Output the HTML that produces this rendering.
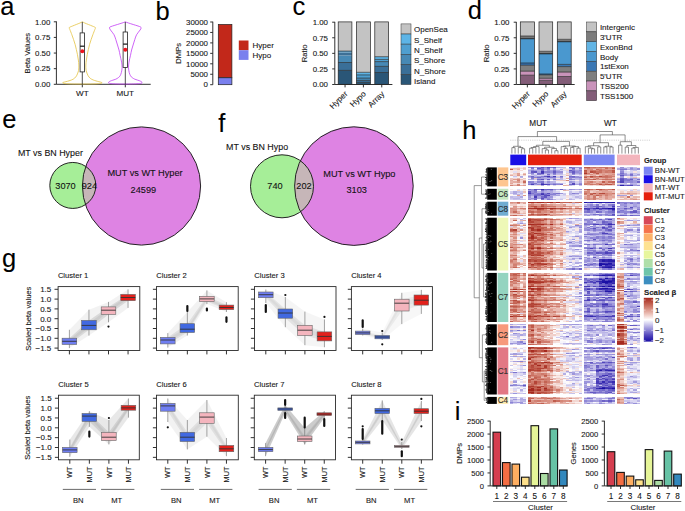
<!DOCTYPE html>
<html><head><meta charset="utf-8"><style>
html,body{margin:0;padding:0;background:#fff;}
#w{position:relative;width:685px;height:511px;overflow:hidden;background:#fff;font-family:"Liberation Sans", sans-serif;}
#w svg{position:absolute;left:0;top:0;}
#hm{position:absolute;left:0;top:0;width:685px;height:511px;filter:blur(0.45px);}
#hm div{position:absolute;}
text{font-family:"Liberation Sans", sans-serif;stroke:currentColor;stroke-width:0.1px;}
svg{color:#151515;}
</style></head><body><div id="w">
<div id="hm"><div style="left:510.3px;top:167.4px;width:3.23px;height:19px;background:linear-gradient(#f8f7fd 0.0px 1.1px,#e8b7ad 1.1px 2.2px,#bf5949 2.2px 3.4px,#f7e6e3 3.4px 4.5px,#f8e7e4 4.5px 5.6px,#fbf2f0 5.6px 6.7px,#f0cdc7 6.7px 7.8px,#e4aca1 7.8px 8.9px,#f8f7fc 8.9px 10.1px,#faf9fd 10.1px 11.2px,#ecc2ba 11.2px 12.3px,#ebc0b7 12.3px 13.4px,#e3aa9f 13.4px 14.5px,#e7b4ab 14.5px 15.6px,#e1a69b 15.6px 16.8px,#f0cec7 16.8px 17.9px,#d28172 17.9px 19.0px)"></div><div style="left:513.48px;top:167.4px;width:3.23px;height:19px;background:linear-gradient(#f0effa 0.0px 1.1px,#ebbfb7 1.1px 2.2px,#f0cfc8 2.2px 3.4px,#f8e7e4 3.4px 4.5px,#e2dff5 4.5px 5.6px,#efcbc4 5.6px 6.7px,#f1d2cc 6.7px 7.8px,#f2d3cd 7.8px 8.9px,#c9c5ec 8.9px 10.1px,#e8e6f7 10.1px 11.2px,#f2d5cf 11.2px 12.3px,#dd9b8e 12.3px 13.4px,#f4dcd8 13.4px 14.5px,#e4aea3 14.5px 15.6px,#f7e3e0 15.6px 16.8px,#f2d5d0 16.8px 17.9px,#e1a59a 17.9px 19.0px)"></div><div style="left:516.66px;top:167.4px;width:3.23px;height:19px;background:linear-gradient(#f5dfda 0.0px 1.1px,#eabdb4 1.1px 2.2px,#e6b1a7 2.2px 3.4px,#f6e1dd 3.4px 4.5px,#f5dfdb 4.5px 5.6px,#de9e92 5.6px 6.7px,#e0a196 6.7px 7.8px,#db9588 7.8px 8.9px,#f6e2de 8.9px 10.1px,#faeeeb 10.1px 11.2px,#e6b3a9 11.2px 12.3px,#d6897b 12.3px 13.4px,#d28172 13.4px 14.5px,#dd9c8f 14.5px 15.6px,#f3d8d3 15.6px 16.8px,#d48677 16.8px 17.9px,#d07e70 17.9px 19.0px)"></div><div style="left:519.84px;top:167.4px;width:3.23px;height:19px;background:linear-gradient(#f0effa 0.0px 1.1px,#f4dad5 1.1px 2.2px,#fcf6f5 2.2px 3.4px,#f4dbd6 3.4px 4.5px,#faf9fd 4.5px 5.6px,#fdfdfe 5.6px 6.7px,#f8e8e5 6.7px 7.8px,#f9edea 7.8px 8.9px,#ada7e1 8.9px 10.1px,#b8b2e5 10.1px 11.2px,#fbf0ee 11.2px 12.3px,#ebbeb6 12.3px 13.4px,#f4d9d4 13.4px 14.5px,#f1d2cc 14.5px 15.6px,#f8e7e3 15.6px 16.8px,#f4f3fb 16.8px 17.9px,#e5afa4 17.9px 19.0px)"></div><div style="left:523.02px;top:167.4px;width:3.23px;height:19px;background:linear-gradient(#f2d5cf 0.0px 1.1px,#ecc3bb 1.1px 2.2px,#f1d1cb 2.2px 3.4px,#fefcfc 3.4px 4.5px,#fcf7f6 4.5px 5.6px,#ecc2ba 5.6px 6.7px,#dfa195 6.7px 7.8px,#f2d5cf 7.8px 8.9px,#fafafd 8.9px 10.1px,#fefdfd 10.1px 11.2px,#eec9c1 11.2px 12.3px,#f6e3df 12.3px 13.4px,#e1a499 13.4px 14.5px,#c76c5c 14.5px 15.6px,#e9bbb2 15.6px 16.8px,#f3d8d3 16.8px 17.9px,#dd9a8e 17.9px 19.0px)"></div><div style="left:528px;top:167.4px;width:3.21px;height:19px;background:linear-gradient(#948dd8 0.0px 1.1px,#f4f3fb 1.1px 2.2px,#cecaee 2.2px 3.4px,#ada7e1 3.4px 4.5px,#bdb7e7 4.5px 5.6px,#aca6e1 5.6px 6.7px,#f4f3fb 6.7px 7.8px,#cac5ec 7.8px 8.9px,#958dd8 8.9px 10.1px,#bab4e6 10.1px 11.2px,#f4f3fb 11.2px 12.3px,#b4aee4 12.3px 13.4px,#f8f7fc 13.4px 14.5px,#8880d3 14.5px 15.6px,#9e97db 15.6px 16.8px,#827ad1 16.8px 17.9px,#f2f1fa 17.9px 19.0px)"></div><div style="left:531.16px;top:167.4px;width:3.21px;height:19px;background:linear-gradient(#796fcc 0.0px 1.1px,#857dd2 1.1px 2.2px,#aea8e2 2.2px 3.4px,#8880d3 3.4px 4.5px,#655ac4 4.5px 5.6px,#8d85d5 5.6px 6.7px,#aaa4e0 6.7px 7.8px,#cecaee 7.8px 8.9px,#6f65c8 8.9px 10.1px,#7c73ce 10.1px 11.2px,#877fd2 11.2px 12.3px,#a8a2df 12.3px 13.4px,#f2f1fa 13.4px 14.5px,#8f87d6 14.5px 15.6px,#7f77cf 15.6px 16.8px,#4c3fb9 16.8px 17.9px,#e1def4 17.9px 19.0px)"></div><div style="left:534.32px;top:167.4px;width:3.21px;height:19px;background:linear-gradient(#a099dc 0.0px 1.1px,#f8f7fc 1.1px 2.2px,#d0ccee 2.2px 3.4px,#a29bdd 3.4px 4.5px,#5e52c1 4.5px 5.6px,#dfddf4 5.6px 6.7px,#d4d1f0 6.7px 7.8px,#beb8e8 7.8px 8.9px,#b2ace3 8.9px 10.1px,#8981d3 10.1px 11.2px,#eec9c1 11.2px 12.3px,#ccc8ed 12.3px 13.4px,#fbf3f2 13.4px 14.5px,#c0bae8 14.5px 15.6px,#847cd1 15.6px 16.8px,#9c95db 16.8px 17.9px,#e4e1f5 17.9px 19.0px)"></div><div style="left:537.48px;top:167.4px;width:3.21px;height:19px;background:linear-gradient(#867dd2 0.0px 1.1px,#6156c2 1.1px 2.2px,#8d86d5 2.2px 3.4px,#b2ace3 3.4px 4.5px,#a7a0df 4.5px 5.6px,#766dcb 5.6px 6.7px,#837ad1 6.7px 7.8px,#dad7f2 7.8px 8.9px,#9f99dc 8.9px 10.1px,#746aca 10.1px 11.2px,#a59ede 11.2px 12.3px,#776ecc 12.3px 13.4px,#b9b3e6 13.4px 14.5px,#8e86d5 14.5px 15.6px,#b9b4e6 15.6px 16.8px,#8d85d5 16.8px 17.9px,#f6e0dc 17.9px 19.0px)"></div><div style="left:540.64px;top:167.4px;width:3.21px;height:19px;background:linear-gradient(#5a4ebf 0.0px 1.1px,#7e75cf 1.1px 2.2px,#7269ca 2.2px 3.4px,#766ccb 3.4px 4.5px,#4134b4 4.5px 5.6px,#4d40b9 5.6px 6.7px,#a59fde 6.7px 7.8px,#d1cdef 7.8px 8.9px,#877fd2 8.9px 10.1px,#9992da 10.1px 11.2px,#a59fde 11.2px 12.3px,#5d52c0 12.3px 13.4px,#c2bde9 13.4px 14.5px,#7d74ce 14.5px 15.6px,#6256c2 15.6px 16.8px,#382cb1 16.8px 17.9px,#a9a3e0 17.9px 19.0px)"></div><div style="left:543.79px;top:167.4px;width:3.21px;height:19px;background:linear-gradient(#8279d0 0.0px 1.1px,#aba4e0 1.1px 2.2px,#a59fde 2.2px 3.4px,#c4bfea 3.4px 4.5px,#8c84d5 4.5px 5.6px,#b2ace3 5.6px 6.7px,#d7d4f1 6.7px 7.8px,#bab5e6 7.8px 8.9px,#6055c1 8.9px 10.1px,#afa8e2 10.1px 11.2px,#b1abe3 11.2px 12.3px,#b9b3e6 12.3px 13.4px,#edebf8 13.4px 14.5px,#c6c2eb 14.5px 15.6px,#b9b3e6 15.6px 16.8px,#4e41ba 16.8px 17.9px,#fdf7f6 17.9px 19.0px)"></div><div style="left:546.95px;top:167.4px;width:3.21px;height:19px;background:linear-gradient(#564abd 0.0px 1.1px,#7a71cd 1.1px 2.2px,#8e86d5 2.2px 3.4px,#9a93da 3.4px 4.5px,#867ed2 4.5px 5.6px,#a59ede 5.6px 6.7px,#7369ca 6.7px 7.8px,#a8a1df 7.8px 8.9px,#3f32b4 8.9px 10.1px,#7f77cf 10.1px 11.2px,#bbb5e6 11.2px 12.3px,#695ec5 12.3px 13.4px,#d2cfef 13.4px 14.5px,#9a93da 14.5px 15.6px,#a7a0df 15.6px 16.8px,#574bbe 16.8px 17.9px,#c7c2eb 17.9px 19.0px)"></div><div style="left:550.11px;top:167.4px;width:3.21px;height:19px;background:linear-gradient(#7a70cd 0.0px 1.1px,#e1def4 1.1px 2.2px,#dad7f2 2.2px 3.4px,#a7a0df 3.4px 4.5px,#9992da 4.5px 5.6px,#b2ace3 5.6px 6.7px,#c9c4ec 6.7px 7.8px,#d6d3f0 7.8px 8.9px,#9891d9 8.9px 10.1px,#867dd2 10.1px 11.2px,#beb9e8 11.2px 12.3px,#cecaed 12.3px 13.4px,#fefeff 13.4px 14.5px,#bab4e6 14.5px 15.6px,#aba5e0 15.6px 16.8px,#948dd8 16.8px 17.9px,#fcf5f3 17.9px 19.0px)"></div><div style="left:553.27px;top:167.4px;width:3.21px;height:19px;background:linear-gradient(#6459c3 0.0px 1.1px,#a099dc 1.1px 2.2px,#aca6e1 2.2px 3.4px,#7e75ce 3.4px 4.5px,#655ac4 4.5px 5.6px,#7b72cd 5.6px 6.7px,#8f88d6 6.7px 7.8px,#dbd8f2 7.8px 8.9px,#493cb8 8.9px 10.1px,#877fd3 10.1px 11.2px,#a7a0df 11.2px 12.3px,#7970cd 12.3px 13.4px,#dad7f2 13.4px 14.5px,#bdb8e7 14.5px 15.6px,#9a93da 15.6px 16.8px,#766dcb 16.8px 17.9px,#d8d5f1 17.9px 19.0px)"></div><div style="left:556.43px;top:167.4px;width:3.21px;height:19px;background:linear-gradient(#afa9e2 0.0px 1.1px,#efedf9 1.1px 2.2px,#d8d4f1 2.2px 3.4px,#b0aae2 3.4px 4.5px,#978fd9 4.5px 5.6px,#b6b0e5 5.6px 6.7px,#c3beea 6.7px 7.8px,#f6e2de 7.8px 8.9px,#cfcbee 8.9px 10.1px,#c5c0ea 10.1px 11.2px,#f7e5e2 11.2px 12.3px,#b5b0e4 12.3px 13.4px,#f3d7d1 13.4px 14.5px,#f1f0fa 14.5px 15.6px,#aca6e1 15.6px 16.8px,#8e87d5 16.8px 17.9px,#fbf2f0 17.9px 19.0px)"></div><div style="left:559.59px;top:167.4px;width:3.21px;height:19px;background:linear-gradient(#b2ace3 0.0px 1.1px,#e1def4 1.1px 2.2px,#aaa3e0 2.2px 3.4px,#d2ceef 3.4px 4.5px,#968ed8 4.5px 5.6px,#b0aae2 5.6px 6.7px,#c1bce9 6.7px 7.8px,#dfdcf4 7.8px 8.9px,#7d74ce 8.9px 10.1px,#9991d9 10.1px 11.2px,#bbb5e7 11.2px 12.3px,#bbb6e7 12.3px 13.4px,#efccc5 13.4px 14.5px,#fbf3f1 14.5px 15.6px,#b4aee4 15.6px 16.8px,#7167c9 16.8px 17.9px,#fefdfc 17.9px 19.0px)"></div><div style="left:562.75px;top:167.4px;width:3.21px;height:19px;background:linear-gradient(#beb9e8 0.0px 1.1px,#f1d0c9 1.1px 2.2px,#f8e9e7 2.2px 3.4px,#dfddf4 3.4px 4.5px,#f4f4fb 4.5px 5.6px,#fdf9f9 5.6px 6.7px,#e1dff4 6.7px 7.8px,#f8e9e5 7.8px 8.9px,#e3e1f5 8.9px 10.1px,#f0eefa 10.1px 11.2px,#f7e4e0 11.2px 12.3px,#e2dff5 12.3px 13.4px,#ecc2b9 13.4px 14.5px,#f1f0fa 14.5px 15.6px,#e2dff5 15.6px 16.8px,#fefbfb 16.8px 17.9px,#e5afa4 17.9px 19.0px)"></div><div style="left:565.91px;top:167.4px;width:3.21px;height:19px;background:linear-gradient(#fefdfd 0.0px 1.1px,#f0effa 1.1px 2.2px,#f5ded9 2.2px 3.4px,#f3d8d2 3.4px 4.5px,#d9d6f2 4.5px 5.6px,#efccc5 5.6px 6.7px,#f5deda 6.7px 7.8px,#e6b3a9 7.8px 8.9px,#fdf9f8 8.9px 10.1px,#f9ebe8 10.1px 11.2px,#e3aba1 11.2px 12.3px,#ffffff 12.3px 13.4px,#d48577 13.4px 14.5px,#fcf4f2 14.5px 15.6px,#ffffff 15.6px 16.8px,#fbf1f0 16.8px 17.9px,#e7b5ab 17.9px 19.0px)"></div><div style="left:569.06px;top:167.4px;width:3.21px;height:19px;background:linear-gradient(#6b61c6 0.0px 1.1px,#b2ade3 1.1px 2.2px,#c5c1ea 2.2px 3.4px,#6257c2 3.4px 4.5px,#8981d3 4.5px 5.6px,#c8c3eb 5.6px 6.7px,#cbc6ec 6.7px 7.8px,#bdb8e7 7.8px 8.9px,#796fcc 8.9px 10.1px,#877ed2 10.1px 11.2px,#9991d9 11.2px 12.3px,#837ad1 12.3px 13.4px,#d3cfef 13.4px 14.5px,#9c95db 14.5px 15.6px,#b8b2e5 15.6px 16.8px,#746aca 16.8px 17.9px,#c2bde9 17.9px 19.0px)"></div><div style="left:572.22px;top:167.4px;width:3.21px;height:19px;background:linear-gradient(#857dd2 0.0px 1.1px,#7167c9 1.1px 2.2px,#8d86d5 2.2px 3.4px,#8279d0 3.4px 4.5px,#655ac4 4.5px 5.6px,#6f65c8 5.6px 6.7px,#9891d9 6.7px 7.8px,#f0effa 7.8px 8.9px,#6c62c7 8.9px 10.1px,#7e76cf 10.1px 11.2px,#c8c4ec 11.2px 12.3px,#918ad7 12.3px 13.4px,#e0ddf4 13.4px 14.5px,#aaa4e0 14.5px 15.6px,#574bbe 15.6px 16.8px,#564abd 16.8px 17.9px,#dfddf4 17.9px 19.0px)"></div><div style="left:575.38px;top:167.4px;width:3.21px;height:19px;background:linear-gradient(#9b94da 0.0px 1.1px,#d5d1f0 1.1px 2.2px,#cac6ec 2.2px 3.4px,#a49dde 3.4px 4.5px,#958dd8 4.5px 5.6px,#a9a3e0 5.6px 6.7px,#cac5ec 6.7px 7.8px,#edebf9 7.8px 8.9px,#9891d9 8.9px 10.1px,#918ad7 10.1px 11.2px,#b9b3e6 11.2px 12.3px,#bfbae8 12.3px 13.4px,#f9edea 13.4px 14.5px,#d2ceef 14.5px 15.6px,#c7c3eb 15.6px 16.8px,#a9a2e0 16.8px 17.9px,#fffefe 17.9px 19.0px)"></div><div style="left:578.54px;top:167.4px;width:3.21px;height:19px;background:linear-gradient(#948cd7 0.0px 1.1px,#8b83d4 1.1px 2.2px,#aca6e1 2.2px 3.4px,#8b83d4 3.4px 4.5px,#9b93da 4.5px 5.6px,#938cd7 5.6px 6.7px,#b5afe4 6.7px 7.8px,#dad7f2 7.8px 8.9px,#b9b3e6 8.9px 10.1px,#867dd2 10.1px 11.2px,#aaa4e0 11.2px 12.3px,#aca5e1 12.3px 13.4px,#c7c2eb 13.4px 14.5px,#b8b2e5 14.5px 15.6px,#968ed8 15.6px 16.8px,#847bd1 16.8px 17.9px,#c5c0ea 17.9px 19.0px)"></div><div style="left:583.8px;top:167.4px;width:3.13px;height:19px;background:linear-gradient(#bf5a4a 0.0px 1.1px,#db9689 1.1px 2.2px,#e3a99f 2.2px 3.4px,#bc5444 3.4px 4.5px,#c15f4f 4.5px 5.6px,#ad382c 5.6px 6.7px,#d99082 6.7px 7.8px,#e8b7ae 7.8px 8.9px,#ce796a 8.9px 10.1px,#c05b4b 10.1px 11.2px,#e1a599 11.2px 12.3px,#ca7263 12.3px 13.4px,#e7b6ac 13.4px 14.5px,#e1a599 14.5px 15.6px,#d48677 15.6px 16.8px,#ce7a6b 16.8px 17.9px,#fbf2f0 17.9px 19.0px)"></div><div style="left:586.88px;top:167.4px;width:3.13px;height:19px;background:linear-gradient(#bd5747 0.0px 1.1px,#cf7b6c 1.1px 2.2px,#da9285 2.2px 3.4px,#dc988b 3.4px 4.5px,#de9e91 4.5px 5.6px,#cf7c6d 5.6px 6.7px,#dd9c8f 6.7px 7.8px,#f3d9d4 7.8px 8.9px,#d07d6e 8.9px 10.1px,#e0a498 10.1px 11.2px,#e1a599 11.2px 12.3px,#ce796a 12.3px 13.4px,#e9b9b0 13.4px 14.5px,#d68a7c 14.5px 15.6px,#d48576 15.6px 16.8px,#d5897b 16.8px 17.9px,#f4dcd7 17.9px 19.0px)"></div><div style="left:589.96px;top:167.4px;width:3.13px;height:19px;background:linear-gradient(#cd7667 0.0px 1.1px,#d99082 1.1px 2.2px,#d88e80 2.2px 3.4px,#cc7566 3.4px 4.5px,#b74a3c 4.5px 5.6px,#edc3bb 5.6px 6.7px,#d99082 6.7px 7.8px,#e7b4aa 7.8px 8.9px,#b6483a 8.9px 10.1px,#c76b5b 10.1px 11.2px,#efccc5 11.2px 12.3px,#cb7364 12.3px 13.4px,#f0cfc9 13.4px 14.5px,#ce7869 14.5px 15.6px,#e0a196 15.6px 16.8px,#ca7162 16.8px 17.9px,#f2d5d0 17.9px 19.0px)"></div><div style="left:593.04px;top:167.4px;width:3.13px;height:19px;background:linear-gradient(#c86d5e 0.0px 1.1px,#dc988b 1.1px 2.2px,#ebc0b7 2.2px 3.4px,#ce7869 3.4px 4.5px,#be5849 4.5px 5.6px,#d5887a 5.6px 6.7px,#e6b1a7 6.7px 7.8px,#e3aaa0 7.8px 8.9px,#c96e5f 8.9px 10.1px,#d38476 10.1px 11.2px,#e1a499 11.2px 12.3px,#c05c4c 12.3px 13.4px,#f5dfda 13.4px 14.5px,#de9c90 14.5px 15.6px,#e7b6ac 15.6px 16.8px,#d17f70 16.8px 17.9px,#f7e5e2 17.9px 19.0px)"></div><div style="left:596.12px;top:167.4px;width:3.13px;height:19px;background:linear-gradient(#d28172 0.0px 1.1px,#dd9b8e 1.1px 2.2px,#c76b5b 2.2px 3.4px,#d58779 3.4px 4.5px,#ca7263 4.5px 5.6px,#bc5545 5.6px 6.7px,#dd9b8e 6.7px 7.8px,#f4dad5 7.8px 8.9px,#cb7263 8.9px 10.1px,#db9689 10.1px 11.2px,#d07e6f 11.2px 12.3px,#dc998c 12.3px 13.4px,#f1d1ca 13.4px 14.5px,#e7b5ab 14.5px 15.6px,#d48678 15.6px 17.9px,#f2d4ce 17.9px 19.0px)"></div><div style="left:599.2px;top:167.4px;width:3.13px;height:19px;background:linear-gradient(#cb7364 0.0px 1.1px,#dc998c 1.1px 2.2px,#d07e70 2.2px 3.4px,#c86d5e 3.4px 4.5px,#c96e5f 4.5px 5.6px,#dd9c8f 5.6px 6.7px,#e6b3a9 6.7px 7.8px,#e2a99e 7.8px 8.9px,#b44538 8.9px 10.1px,#d68a7c 10.1px 11.2px,#e8b7ad 11.2px 12.3px,#d78c7e 12.3px 13.4px,#f5deda 13.4px 14.5px,#e1a69b 14.5px 15.6px,#d88d7f 15.6px 16.8px,#b94e40 16.8px 17.9px,#f1d2cc 17.9px 19.0px)"></div><div style="left:602.28px;top:167.4px;width:3.13px;height:19px;background:linear-gradient(#cd7667 0.0px 1.1px,#e5b1a6 1.1px 2.2px,#d88f81 2.2px 3.4px,#d38375 3.4px 4.5px,#d78b7d 4.5px 5.6px,#dfa094 5.6px 6.7px,#dd9a8e 6.7px 7.8px,#dc978a 7.8px 8.9px,#c86d5e 8.9px 10.1px,#cf7b6d 10.1px 11.2px,#e4aca1 11.2px 12.3px,#cc7566 12.3px 13.4px,#ecc2ba 13.4px 14.5px,#c15d4d 14.5px 15.6px,#e0a398 15.6px 16.8px,#cd7768 16.8px 17.9px,#e6b3a9 17.9px 19.0px)"></div><div style="left:605.36px;top:167.4px;width:3.13px;height:19px;background:linear-gradient(#ca7162 0.0px 1.1px,#c76a5a 1.1px 2.2px,#db9588 2.2px 3.4px,#d17f71 3.4px 4.5px,#cd7869 4.5px 5.6px,#e2a79c 5.6px 6.7px,#e5b0a6 6.7px 7.8px,#cf7b6d 7.8px 8.9px,#c86c5d 8.9px 10.1px,#cb7263 10.1px 11.2px,#d88d7f 11.2px 12.3px,#c96f60 12.3px 13.4px,#e3aa9f 13.4px 14.5px,#db9588 14.5px 15.6px,#d88e80 15.6px 16.8px,#be5848 16.8px 17.9px,#f4dbd6 17.9px 19.0px)"></div><div style="left:608.44px;top:167.4px;width:3.13px;height:19px;background:linear-gradient(#d6897b 0.0px 1.1px,#d99082 1.1px 2.2px,#dfa195 2.2px 3.4px,#cc7566 3.4px 4.5px,#d18071 4.5px 5.6px,#dfa094 5.6px 6.7px,#dfa195 6.7px 7.8px,#d68a7c 7.8px 8.9px,#cf7c6e 8.9px 11.2px,#e0a498 11.2px 12.3px,#cc7566 12.3px 13.4px,#e4aca1 13.4px 14.5px,#c96f60 14.5px 15.6px,#e5afa5 15.6px 16.8px,#ba5041 16.8px 17.9px,#f1d2cc 17.9px 19.0px)"></div><div style="left:611.52px;top:167.4px;width:3.13px;height:19px;background:linear-gradient(#cb7263 0.0px 1.1px,#bc5444 1.1px 2.2px,#dc988b 2.2px 3.4px,#bd5647 3.4px 4.5px,#bf5949 4.5px 5.6px,#df9f93 5.6px 6.7px,#d88e80 6.7px 7.8px,#de9e91 7.8px 8.9px,#d07e6f 8.9px 10.1px,#e8b7ad 10.1px 11.2px,#e4aca1 11.2px 12.3px,#d18072 12.3px 13.4px,#f5deda 13.4px 14.5px,#c46556 14.5px 15.6px,#d88e80 15.6px 16.8px,#cd7869 16.8px 17.9px,#f4dad5 17.9px 19.0px)"></div><div style="left:617px;top:167.4px;width:3.34px;height:19px;background:linear-gradient(#e5e3f6 0.0px 1.1px,#aea8e2 1.1px 2.2px,#ada7e1 2.2px 3.4px,#f5f4fb 3.4px 4.5px,#f8f7fc 4.5px 5.6px,#d5d2f0 5.6px 6.7px,#a9a3e0 6.7px 7.8px,#d0ccee 7.8px 8.9px,#f9f8fd 8.9px 10.1px,#f6e3df 10.1px 11.2px,#b5afe4 11.2px 12.3px,#9f98dc 12.3px 13.4px,#c4bfea 13.4px 14.5px,#857dd2 14.5px 15.6px,#f6e2de 15.6px 16.8px,#c7c3eb 16.8px 17.9px,#9189d6 17.9px 19.0px)"></div><div style="left:620.29px;top:167.4px;width:3.34px;height:19px;background:linear-gradient(#958ed8 0.0px 1.1px,#9b94da 1.1px 2.2px,#7d74ce 2.2px 3.4px,#a49dde 3.4px 4.5px,#9088d6 4.5px 5.6px,#786fcc 5.6px 6.7px,#8c85d5 6.7px 7.8px,#6257c2 7.8px 8.9px,#9c95db 8.9px 10.1px,#a69fde 10.1px 11.2px,#655ac4 11.2px 12.3px,#5a4ebf 12.3px 14.5px,#5246bc 14.5px 15.6px,#d4d0f0 15.6px 16.8px,#a59fde 16.8px 17.9px,#2b20ac 17.9px 19.0px)"></div><div style="left:623.57px;top:167.4px;width:3.34px;height:19px;background:linear-gradient(#e0ddf4 0.0px 1.1px,#a29bdd 1.1px 2.2px,#837bd1 2.2px 3.4px,#e5e3f6 3.4px 4.5px,#dad7f2 4.5px 5.6px,#aca6e1 5.6px 6.7px,#a19add 6.7px 7.8px,#9d96db 7.8px 8.9px,#fbf3f2 8.9px 10.1px,#fcf7f5 10.1px 11.2px,#867ed2 11.2px 12.3px,#7e75cf 12.3px 13.4px,#867ed2 13.4px 14.5px,#9891d9 14.5px 15.6px,#bfbae8 15.6px 16.8px,#bdb8e7 16.8px 17.9px,#6d63c7 17.9px 19.0px)"></div><div style="left:626.86px;top:167.4px;width:3.34px;height:19px;background:linear-gradient(#c8c3eb 0.0px 1.1px,#cfcbee 1.1px 2.2px,#b0aae2 2.2px 3.4px,#fafafd 3.4px 4.5px,#e3e1f5 4.5px 5.6px,#dad7f2 5.6px 6.7px,#bcb6e7 6.7px 7.8px,#b0aae2 7.8px 8.9px,#f8e9e6 8.9px 10.1px,#f5dfdb 10.1px 11.2px,#b5afe4 11.2px 12.3px,#7f77cf 12.3px 13.4px,#7d74ce 13.4px 14.5px,#968fd8 14.5px 15.6px,#f9f9fd 15.6px 16.8px,#c7c2eb 16.8px 17.9px,#564abd 17.9px 19.0px)"></div><div style="left:630.14px;top:167.4px;width:3.34px;height:19px;background:linear-gradient(#a9a3e0 0.0px 1.1px,#948cd7 1.1px 2.2px,#9c95db 2.2px 3.4px,#d2ceef 3.4px 4.5px,#d5d1f0 4.5px 5.6px,#a39cdd 5.6px 6.7px,#776ecc 6.7px 7.8px,#7c73ce 7.8px 8.9px,#cac5ec 8.9px 10.1px,#c8c4eb 10.1px 11.2px,#948cd8 11.2px 12.3px,#675cc5 12.3px 13.4px,#8d85d5 13.4px 14.5px,#9189d6 14.5px 15.6px,#b6b0e4 15.6px 16.8px,#9992da 16.8px 17.9px,#5044bb 17.9px 19.0px)"></div><div style="left:633.43px;top:167.4px;width:3.34px;height:19px;background:linear-gradient(#c7c2eb 0.0px 1.1px,#b4aee4 1.1px 2.2px,#ada7e1 2.2px 3.4px,#c7c2eb 3.4px 4.5px,#f7e4e0 4.5px 5.6px,#c4bfea 5.6px 6.7px,#ccc8ed 6.7px 7.8px,#aea8e2 7.8px 8.9px,#e0ddf4 8.9px 10.1px,#ebbfb6 10.1px 11.2px,#a29cdd 11.2px 12.3px,#b9b4e6 12.3px 13.4px,#a49dde 13.4px 14.5px,#a19add 14.5px 15.6px,#bcb6e7 15.6px 16.8px,#b2ace3 16.8px 17.9px,#a099dc 17.9px 19.0px)"></div><div style="left:636.71px;top:167.4px;width:3.34px;height:19px;background:linear-gradient(#f8e9e6 0.0px 1.1px,#958ed8 1.1px 2.2px,#938cd7 2.2px 3.4px,#eeedf9 3.4px 4.5px,#dddbf3 4.5px 5.6px,#d3d0ef 5.6px 6.7px,#a29bdd 6.7px 7.8px,#bbb6e7 7.8px 8.9px,#fffefe 8.9px 10.1px,#f5e0dc 10.1px 11.2px,#bfbae8 11.2px 12.3px,#756ccb 12.3px 13.4px,#b8b3e6 13.4px 14.5px,#7066c9 14.5px 15.6px,#d9d5f1 15.6px 17.9px,#8b83d4 17.9px 19.0px)"></div><div style="left:510.3px;top:188.8px;width:3.23px;height:10.9px;background:linear-gradient(#f8e9e6 0.0px 1.2px,#fefbfa 1.2px 2.4px,#d2ceef 2.4px 3.6px,#c4bfea 3.6px 4.8px,#fcf6f5 4.8px 7.3px,#beb8e8 7.3px 8.5px,#c7c2eb 8.5px 9.7px,#d5d1f0 9.7px 10.9px)"></div><div style="left:513.48px;top:188.8px;width:3.23px;height:10.9px;background:linear-gradient(#fdf7f6 0.0px 1.2px,#f5f4fb 1.2px 2.4px,#aea8e2 2.4px 3.6px,#aba4e0 3.6px 4.8px,#c3beea 4.8px 6.1px,#f9f9fd 6.1px 7.3px,#c8c4ec 7.3px 8.5px,#b9b4e6 8.5px 9.7px,#c6c1eb 9.7px 10.9px)"></div><div style="left:516.66px;top:188.8px;width:3.23px;height:10.9px;background:linear-gradient(#dbd8f2 0.0px 1.2px,#efcac2 1.2px 2.4px,#c5c0ea 2.4px 3.6px,#e1def4 3.6px 4.8px,#b7b1e5 4.8px 6.1px,#dfa094 6.1px 7.3px,#c3beea 7.3px 8.5px,#bab4e6 8.5px 9.7px,#c9c5ec 9.7px 10.9px)"></div><div style="left:519.84px;top:188.8px;width:3.23px;height:10.9px;background:linear-gradient(#f3f2fb 0.0px 1.2px,#eceaf8 1.2px 2.4px,#cbc7ed 2.4px 3.6px,#bab4e6 3.6px 4.8px,#cfcbee 4.8px 6.1px,#dbd8f2 6.1px 7.3px,#afa9e2 7.3px 8.5px,#dbd8f2 8.5px 9.7px,#c5c0ea 9.7px 10.9px)"></div><div style="left:523.02px;top:188.8px;width:3.23px;height:10.9px;background:linear-gradient(#f2d5cf 0.0px 1.2px,#f7e6e2 1.2px 2.4px,#ebbfb7 2.4px 3.6px,#edebf8 3.6px 4.8px,#fffefd 4.8px 6.1px,#db9789 6.1px 7.3px,#f8f8fd 7.3px 8.5px,#f8f7fc 8.5px 9.7px,#d2ceef 9.7px 10.9px)"></div><div style="left:528px;top:188.8px;width:3.21px;height:10.9px;background:linear-gradient(#7066c9 0.0px 1.2px,#aaa4e0 1.2px 2.4px,#5f53c1 2.4px 3.6px,#483bb7 3.6px 4.8px,#857dd2 4.8px 6.1px,#8981d3 6.1px 7.3px,#9c95db 7.3px 8.5px,#a9a2df 8.5px 9.7px,#948dd8 9.7px 10.9px)"></div><div style="left:531.16px;top:188.8px;width:3.21px;height:10.9px;background:linear-gradient(#8c84d5 0.0px 1.2px,#9b94da 1.2px 2.4px,#948cd7 2.4px 3.6px,#7b72cd 3.6px 4.8px,#9991d9 4.8px 6.1px,#a7a1df 6.1px 7.3px,#c8c4ec 7.3px 8.5px,#9790d9 8.5px 9.7px,#bbb6e7 9.7px 10.9px)"></div><div style="left:534.32px;top:188.8px;width:3.21px;height:10.9px;background:linear-gradient(#5548bd 0.0px 1.2px,#776dcb 1.2px 2.4px,#827ad0 2.4px 3.6px,#918ad7 3.6px 4.8px,#8179d0 4.8px 6.1px,#6d63c7 6.1px 7.3px,#483bb7 7.3px 8.5px,#786ecc 8.5px 9.7px,#7167c9 9.7px 10.9px)"></div><div style="left:537.48px;top:188.8px;width:3.21px;height:10.9px;background:linear-gradient(#7066c8 0.0px 1.2px,#f3f2fb 1.2px 2.4px,#beb9e8 2.4px 3.6px,#877fd3 3.6px 4.8px,#786fcc 4.8px 6.1px,#7f76cf 6.1px 7.3px,#a8a1df 7.3px 8.5px,#a49dde 8.5px 9.7px,#f7f6fc 9.7px 10.9px)"></div><div style="left:540.64px;top:188.8px;width:3.21px;height:10.9px;background:linear-gradient(#362ab0 0.0px 1.2px,#766ccb 1.2px 2.4px,#9790d9 2.4px 3.6px,#4e42ba 3.6px 4.8px,#4034b4 4.8px 6.1px,#9088d6 6.1px 7.3px,#746aca 7.3px 8.5px,#5b4fbf 8.5px 9.7px,#8077d0 9.7px 10.9px)"></div><div style="left:543.79px;top:188.8px;width:3.21px;height:10.9px;background:linear-gradient(#6e64c8 0.0px 1.2px,#a29bdd 1.2px 2.4px,#b1abe3 2.4px 3.6px,#8880d3 3.6px 4.8px,#6d63c7 4.8px 6.1px,#5b4fbf 6.1px 7.3px,#6156c2 7.3px 8.5px,#a09adc 8.5px 9.7px,#bdb7e7 9.7px 10.9px)"></div><div style="left:546.95px;top:188.8px;width:3.21px;height:10.9px;background:linear-gradient(#6358c3 0.0px 1.2px,#b7b2e5 1.2px 2.4px,#b7b1e5 2.4px 3.6px,#594dbf 3.6px 4.8px,#8880d3 4.8px 6.1px,#5043bb 6.1px 7.3px,#9b94da 7.3px 8.5px,#968fd8 8.5px 9.7px,#8179d0 9.7px 10.9px)"></div><div style="left:550.11px;top:188.8px;width:3.21px;height:10.9px;background:linear-gradient(#6156c2 0.0px 1.2px,#9a93da 1.2px 2.4px,#aea8e2 2.4px 3.6px,#a19adc 3.6px 4.8px,#877fd3 4.8px 6.1px,#ada6e1 6.1px 7.3px,#9c95db 7.3px 8.5px,#b7b1e5 8.5px 9.7px,#8e86d5 9.7px 10.9px)"></div><div style="left:553.27px;top:188.8px;width:3.21px;height:10.9px;background:linear-gradient(#9189d6 0.0px 1.2px,#cac5ec 1.2px 2.4px,#cbc6ec 2.4px 3.6px,#877fd3 3.6px 4.8px,#8a83d4 4.8px 6.1px,#aea8e2 6.1px 7.3px,#e1def4 7.3px 8.5px,#f1f0fa 8.5px 9.7px,#b8b3e5 9.7px 10.9px)"></div><div style="left:556.43px;top:188.8px;width:3.21px;height:10.9px;background:linear-gradient(#a8a2df 0.0px 1.2px,#efeef9 1.2px 2.4px,#d9d6f1 2.4px 3.6px,#7a71cd 3.6px 4.8px,#beb9e8 4.8px 6.1px,#a9a3e0 6.1px 7.3px,#f0effa 7.3px 8.5px,#e9e7f7 8.5px 9.7px,#dddaf3 9.7px 10.9px)"></div><div style="left:559.59px;top:188.8px;width:3.21px;height:10.9px;background:linear-gradient(#675dc5 0.0px 1.2px,#fefbfa 1.2px 2.4px,#f9f8fd 2.4px 3.6px,#9a93da 3.6px 4.8px,#e7e5f6 4.8px 6.1px,#dddaf3 6.1px 7.3px,#e5e3f6 7.3px 8.5px,#dad6f2 8.5px 9.7px,#cac6ec 9.7px 10.9px)"></div><div style="left:562.75px;top:188.8px;width:3.21px;height:10.9px;background:linear-gradient(#aca6e1 0.0px 1.2px,#e5b0a6 1.2px 2.4px,#f8f7fc 2.4px 3.6px,#cdc9ed 3.6px 4.8px,#c9c4ec 4.8px 6.1px,#d7d4f1 6.1px 7.3px,#e7e5f7 7.3px 8.5px,#e1dff4 8.5px 9.7px,#fcf7f5 9.7px 10.9px)"></div><div style="left:565.91px;top:188.8px;width:3.21px;height:10.9px;background:linear-gradient(#d8d4f1 0.0px 1.2px,#ecc1b9 1.2px 2.4px,#fcfcfe 2.4px 3.6px,#fdf7f6 3.6px 4.8px,#fffefe 4.8px 6.1px,#f5deda 6.1px 7.3px,#f7e4e0 7.3px 8.5px,#fcf6f4 8.5px 9.7px,#eec7bf 9.7px 10.9px)"></div><div style="left:569.06px;top:188.8px;width:3.21px;height:10.9px;background:linear-gradient(#948cd7 0.0px 1.2px,#e3e1f5 1.2px 2.4px,#c4bfea 2.4px 3.6px,#b5afe4 3.6px 4.8px,#b7b2e5 4.8px 6.1px,#d6d3f1 6.1px 7.3px,#e7e4f6 7.3px 8.5px,#cecaee 8.5px 9.7px,#b4aee4 9.7px 10.9px)"></div><div style="left:572.22px;top:188.8px;width:3.21px;height:10.9px;background:linear-gradient(#9e97dc 0.0px 1.2px,#f3f2fb 1.2px 2.4px,#e1def4 2.4px 3.6px,#857dd2 3.6px 4.8px,#c6c1eb 4.8px 6.1px,#cdc9ed 6.1px 7.3px,#d9d6f1 7.3px 8.5px,#dfddf4 8.5px 9.7px,#c4bfea 9.7px 10.9px)"></div><div style="left:575.38px;top:188.8px;width:3.21px;height:10.9px;background:linear-gradient(#b1abe3 0.0px 1.2px,#fbf3f1 1.2px 2.4px,#d9d6f2 2.4px 3.6px,#968ed8 3.6px 4.8px,#cbc7ed 4.8px 6.1px,#e0ddf4 6.1px 7.3px,#b9b4e6 7.3px 8.5px,#dbd7f2 8.5px 9.7px,#f4f3fb 9.7px 10.9px)"></div><div style="left:578.54px;top:188.8px;width:3.21px;height:10.9px;background:linear-gradient(#9b94da 0.0px 1.2px,#eae8f7 1.2px 2.4px,#bab4e6 2.4px 3.6px,#c7c3eb 3.6px 4.8px,#efeef9 4.8px 6.1px,#cac5ec 6.1px 7.3px,#cbc6ec 7.3px 8.5px,#c2bde9 8.5px 9.7px,#f0effa 9.7px 10.9px)"></div><div style="left:583.8px;top:188.8px;width:3.13px;height:10.9px;background:linear-gradient(#c86c5d 0.0px 1.2px,#ecc2ba 1.2px 2.4px,#d58778 2.4px 3.6px,#c76b5c 3.6px 4.8px,#d17f70 4.8px 6.1px,#ecc3ba 6.1px 7.3px,#e2a89d 7.3px 8.5px,#dc9a8d 8.5px 9.7px,#ebbfb6 9.7px 10.9px)"></div><div style="left:586.88px;top:188.8px;width:3.13px;height:10.9px;background:linear-gradient(#bf5949 0.0px 1.2px,#d78d7f 1.2px 2.4px,#d68b7d 2.4px 3.6px,#d88d7f 3.6px 4.8px,#de9d91 4.8px 6.1px,#d38374 6.1px 7.3px,#d88e80 7.3px 8.5px,#d78b7d 8.5px 9.7px,#d48577 9.7px 10.9px)"></div><div style="left:589.96px;top:188.8px;width:3.13px;height:10.9px;background:linear-gradient(#ca7162 0.0px 1.2px,#e9b9af 1.2px 2.4px,#f1d0ca 2.4px 3.6px,#c76b5b 3.6px 4.8px,#be5949 4.8px 6.1px,#e0a498 6.1px 7.3px,#e6b1a7 7.3px 8.5px,#dc998c 8.5px 10.9px)"></div><div style="left:593.04px;top:188.8px;width:3.13px;height:10.9px;background:linear-gradient(#d88e80 0.0px 1.2px,#ebc0b7 1.2px 2.4px,#eabdb5 2.4px 3.6px,#b94f40 3.6px 4.8px,#de9e91 4.8px 6.1px,#d48576 6.1px 7.3px,#ce796a 7.3px 8.5px,#cf7c6d 8.5px 9.7px,#d18072 9.7px 10.9px)"></div><div style="left:596.12px;top:188.8px;width:3.13px;height:10.9px;background:linear-gradient(#b74a3c 0.0px 1.2px,#f0cdc6 1.2px 2.4px,#e3aca1 2.4px 3.6px,#d88d7f 3.6px 4.8px,#da9386 4.8px 6.1px,#c05c4c 6.1px 7.3px,#f0cfc8 7.3px 8.5px,#dd9b8f 8.5px 9.7px,#ebbfb6 9.7px 10.9px)"></div><div style="left:599.2px;top:188.8px;width:3.13px;height:10.9px;background:linear-gradient(#ba5041 0.0px 1.2px,#d99082 1.2px 2.4px,#e5afa5 2.4px 3.6px,#b94e3f 3.6px 4.8px,#d78b7d 4.8px 6.1px,#cf7a6c 6.1px 7.3px,#de9f92 7.3px 8.5px,#e7b6ac 8.5px 9.7px,#e3aba0 9.7px 10.9px)"></div><div style="left:602.28px;top:188.8px;width:3.13px;height:10.9px;background:linear-gradient(#ca7162 0.0px 1.2px,#dfa094 1.2px 3.6px,#b5483a 3.6px 4.8px,#d99184 4.8px 6.1px,#e0a498 6.1px 7.3px,#e8b7ae 7.3px 8.5px,#e9bbb2 8.5px 9.7px,#edc4bc 9.7px 10.9px)"></div><div style="left:605.36px;top:188.8px;width:3.13px;height:10.9px;background:linear-gradient(#d48577 0.0px 1.2px,#dc998d 1.2px 2.4px,#e0a296 2.4px 3.6px,#d28172 3.6px 4.8px,#d48576 4.8px 6.1px,#d18071 6.1px 7.3px,#dc978a 7.3px 8.5px,#db9689 8.5px 9.7px,#e5afa5 9.7px 10.9px)"></div><div style="left:608.44px;top:188.8px;width:3.13px;height:10.9px;background:linear-gradient(#cc7566 0.0px 1.2px,#ecc1b9 1.2px 2.4px,#e1a69a 2.4px 3.6px,#d99082 3.6px 4.8px,#db9588 4.8px 6.1px,#de9d91 6.1px 7.3px,#e3aba0 7.3px 8.5px,#e5afa4 8.5px 9.7px,#e4ada3 9.7px 10.9px)"></div><div style="left:611.52px;top:188.8px;width:3.13px;height:10.9px;background:linear-gradient(#ba5142 0.0px 1.2px,#e8b7ae 1.2px 2.4px,#eabbb2 2.4px 3.6px,#ce786a 3.6px 4.8px,#e2a69b 4.8px 6.1px,#e6b2a8 6.1px 7.3px,#e1a498 7.3px 8.5px,#f1d1cb 8.5px 9.7px,#fbf2f0 9.7px 10.9px)"></div><div style="left:617px;top:188.8px;width:3.34px;height:10.9px;background:linear-gradient(#f7e4e1 0.0px 1.2px,#f9ecea 1.2px 2.4px,#f9f8fd 2.4px 3.6px,#efccc5 3.6px 4.8px,#eec6be 4.8px 6.1px,#9e97db 6.1px 7.3px,#f1d3cd 7.3px 8.5px,#fbf1ef 8.5px 9.7px,#edc4bc 9.7px 10.9px)"></div><div style="left:620.29px;top:188.8px;width:3.34px;height:10.9px;background:linear-gradient(#ebe9f8 0.0px 1.2px,#f7e4e0 1.2px 2.4px,#f1d2cb 2.4px 3.6px,#e0a498 3.6px 4.8px,#f1d2cb 4.8px 6.1px,#a6a0df 6.1px 7.3px,#e7b5ac 7.3px 8.5px,#f8e8e5 8.5px 9.7px,#e7b4aa 9.7px 10.9px)"></div><div style="left:623.57px;top:188.8px;width:3.34px;height:10.9px;background:linear-gradient(#f0effa 0.0px 1.2px,#e3e1f5 1.2px 2.4px,#f9ebe8 2.4px 3.6px,#e5aea4 3.6px 4.8px,#f0cdc6 4.8px 6.1px,#aca5e1 6.1px 7.3px,#eec8c1 7.3px 8.5px,#e9b8af 8.5px 9.7px,#ebbeb5 9.7px 10.9px)"></div><div style="left:626.86px;top:188.8px;width:3.34px;height:10.9px;background:linear-gradient(#f8e7e4 0.0px 1.2px,#fbf3f1 1.2px 2.4px,#efcbc4 2.4px 3.6px,#d68a7c 3.6px 4.8px,#eabdb4 4.8px 6.1px,#f3f2fb 6.1px 7.3px,#cb7364 7.3px 8.5px,#f5ded9 8.5px 9.7px,#ecc2b9 9.7px 10.9px)"></div><div style="left:630.14px;top:188.8px;width:3.34px;height:10.9px;background:linear-gradient(#e5e3f6 0.0px 1.2px,#cec9ed 1.2px 2.4px,#edc3bb 2.4px 3.6px,#e5afa4 3.6px 4.8px,#e4ada2 4.8px 6.1px,#9e97db 6.1px 7.3px,#f2d3cd 7.3px 8.5px,#e4aea4 8.5px 9.7px,#e2a79b 9.7px 10.9px)"></div><div style="left:633.43px;top:188.8px;width:3.34px;height:10.9px;background:linear-gradient(#efc9c2 0.0px 1.2px,#f7e5e1 1.2px 2.4px,#f0cdc6 2.4px 3.6px,#e3aba0 3.6px 4.8px,#eec8c1 4.8px 6.1px,#f4f3fb 6.1px 7.3px,#e7b6ac 7.3px 8.5px,#ebbeb5 8.5px 9.7px,#d99284 9.7px 10.9px)"></div><div style="left:636.71px;top:188.8px;width:3.34px;height:10.9px;background:linear-gradient(#e9e7f7 0.0px 1.2px,#d8d4f1 1.2px 2.4px,#f3d7d1 2.4px 3.6px,#eec7bf 3.6px 4.8px,#f7e5e1 4.8px 6.1px,#fdfcfe 6.1px 7.3px,#eabeb5 7.3px 8.5px,#f8e8e5 8.5px 9.7px,#e5b0a5 9.7px 10.9px)"></div><div style="left:510.3px;top:201.7px;width:3.23px;height:14px;background:linear-gradient(#d88f81 0.0px 1.2px,#e1a69b 1.2px 2.3px,#f1d0ca 2.3px 3.5px,#fbf1ef 3.5px 4.7px,#efcac3 4.7px 5.8px,#d6897b 5.8px 7.0px,#dd9a8e 7.0px 8.2px,#de9c90 8.2px 9.3px,#dc988c 9.3px 10.5px,#e9b9af 10.5px 11.7px,#eec9c1 11.7px 12.8px,#d07d6f 12.8px 14.0px)"></div><div style="left:513.48px;top:201.7px;width:3.23px;height:14px;background:linear-gradient(#db9689 0.0px 1.2px,#e6b3a9 1.2px 2.3px,#efcac3 2.3px 3.5px,#da9487 3.5px 4.7px,#de9e92 4.7px 5.8px,#db978a 5.8px 7.0px,#d99083 7.0px 8.2px,#d99284 8.2px 9.3px,#c76c5c 9.3px 10.5px,#e5aea4 10.5px 11.7px,#efcbc4 11.7px 12.8px,#c36252 12.8px 14.0px)"></div><div style="left:516.66px;top:201.7px;width:3.23px;height:14px;background:linear-gradient(#c6695a 0.0px 1.2px,#d68b7d 1.2px 2.3px,#fbf1ef 2.3px 3.5px,#edc3bb 3.5px 4.7px,#f6e0dc 4.7px 5.8px,#e0a498 5.8px 7.0px,#edc3bb 7.0px 8.2px,#f1d3cd 8.2px 9.3px,#e3aaa0 9.3px 10.5px,#da9487 10.5px 11.7px,#f3d6d0 11.7px 12.8px,#dc988b 12.8px 14.0px)"></div><div style="left:519.84px;top:201.7px;width:3.23px;height:14px;background:linear-gradient(#e3aba1 0.0px 1.2px,#f0ccc6 1.2px 2.3px,#f7e5e1 2.3px 3.5px,#e9bbb2 3.5px 4.7px,#f0cec8 4.7px 5.8px,#d17f70 5.8px 7.0px,#e8b8af 7.0px 8.2px,#f1d3cd 8.2px 9.3px,#f5ded9 9.3px 10.5px,#ecc0b8 10.5px 11.7px,#dddaf3 11.7px 12.8px,#d5897b 12.8px 14.0px)"></div><div style="left:523.02px;top:201.7px;width:3.23px;height:14px;background:linear-gradient(#e1a59a 0.0px 1.2px,#e1a499 1.2px 2.3px,#f9eae8 2.3px 3.5px,#f1cfc9 3.5px 4.7px,#f7e5e1 4.7px 5.8px,#d07d6e 5.8px 7.0px,#e0a397 7.0px 8.2px,#f3d9d4 8.2px 9.3px,#f0cec8 9.3px 10.5px,#e7b6ac 10.5px 11.7px,#f8e9e6 11.7px 12.8px,#e6b2a8 12.8px 14.0px)"></div><div style="left:528px;top:201.7px;width:3.21px;height:14px;background:linear-gradient(#a5281e 0.0px 1.2px,#eec6be 1.2px 2.3px,#d48677 2.3px 3.5px,#cb7363 3.5px 4.7px,#d88f81 4.7px 5.8px,#ab3429 5.8px 7.0px,#d88e81 7.0px 8.2px,#cd7869 8.2px 9.3px,#c76b5c 9.3px 10.5px,#efcbc4 10.5px 11.7px,#ca7061 11.7px 12.8px,#cc7566 12.8px 14.0px)"></div><div style="left:531.16px;top:201.7px;width:3.21px;height:14px;background:linear-gradient(#a5281e 0.0px 1.2px,#db9689 1.2px 2.3px,#d28274 2.3px 3.5px,#bf5949 3.5px 4.7px,#da9487 4.7px 5.8px,#aa3327 5.8px 7.0px,#d58879 7.0px 8.2px,#d88e80 8.2px 9.3px,#c36353 9.3px 10.5px,#d5897a 10.5px 11.7px,#b84c3e 11.7px 12.8px,#d28172 12.8px 14.0px)"></div><div style="left:534.32px;top:201.7px;width:3.21px;height:14px;background:linear-gradient(#af3c2f 0.0px 1.2px,#edc4bc 1.2px 2.3px,#dc988b 2.3px 3.5px,#b6493b 3.5px 4.7px,#c26151 4.7px 5.8px,#a5281e 5.8px 7.0px,#d99082 7.0px 8.2px,#de9e92 8.2px 9.3px,#cf7c6d 9.3px 10.5px,#ebbfb6 10.5px 11.7px,#cb7263 11.7px 12.8px,#d78c7e 12.8px 14.0px)"></div><div style="left:537.48px;top:201.7px;width:3.21px;height:14px;background:linear-gradient(#a5281e 0.0px 1.2px,#eabcb3 1.2px 2.3px,#de9d91 2.3px 3.5px,#ce7869 3.5px 4.7px,#d48576 4.7px 5.8px,#a5281e 5.8px 7.0px,#b54739 7.0px 8.2px,#c97060 8.2px 9.3px,#c86c5d 9.3px 10.5px,#d99184 10.5px 11.7px,#c25f50 11.7px 12.8px,#ca7263 12.8px 14.0px)"></div><div style="left:540.64px;top:201.7px;width:3.21px;height:14px;background:linear-gradient(#a5281e 0.0px 1.2px,#f4dbd7 1.2px 2.3px,#c56657 2.3px 3.5px,#ba5142 3.5px 4.7px,#d28172 4.7px 5.8px,#a5281e 5.8px 7.0px,#be5748 7.0px 8.2px,#cf7b6c 8.2px 9.3px,#d88f81 9.3px 10.5px,#da9285 10.5px 11.7px,#bf5a4a 11.7px 12.8px,#d38576 12.8px 14.0px)"></div><div style="left:543.79px;top:201.7px;width:3.21px;height:14px;background:linear-gradient(#b6493b 0.0px 1.2px,#edc3bb 1.2px 2.3px,#d38475 2.3px 3.5px,#c86d5e 3.5px 4.7px,#d38476 4.7px 5.8px,#b03d31 5.8px 7.0px,#d48576 7.0px 8.2px,#d48678 8.2px 9.3px,#d5887a 9.3px 10.5px,#e3a99e 10.5px 11.7px,#ac352a 11.7px 12.8px,#d78b7d 12.8px 14.0px)"></div><div style="left:546.95px;top:201.7px;width:3.21px;height:14px;background:linear-gradient(#a82e24 0.0px 1.2px,#f8f7fc 1.2px 2.3px,#de9e92 2.3px 3.5px,#c76c5c 3.5px 4.7px,#e3aba0 4.7px 5.8px,#b54639 5.8px 7.0px,#e8b7ad 7.0px 8.2px,#d99184 8.2px 9.3px,#dd9a8e 9.3px 10.5px,#e3aa9f 10.5px 11.7px,#c76b5c 11.7px 12.8px,#e4aca2 12.8px 14.0px)"></div><div style="left:550.11px;top:201.7px;width:3.21px;height:14px;background:linear-gradient(#a5281e 0.0px 1.2px,#eec8c1 1.2px 2.3px,#dc998c 2.3px 3.5px,#cd7769 3.5px 4.7px,#e0a296 4.7px 5.8px,#a5281e 5.8px 7.0px,#c36252 7.0px 8.2px,#e3aa9f 8.2px 9.3px,#c86d5e 9.3px 10.5px,#ebbfb6 10.5px 11.7px,#e0a196 11.7px 12.8px,#d18071 12.8px 14.0px)"></div><div style="left:553.27px;top:201.7px;width:3.21px;height:14px;background:linear-gradient(#be5949 0.0px 1.2px,#efcbc4 1.2px 2.3px,#e2a89d 2.3px 3.5px,#cc7465 3.5px 4.7px,#dd9b8e 4.7px 5.8px,#ab3328 5.8px 7.0px,#d48677 7.0px 8.2px,#de9d91 8.2px 9.3px,#da9385 9.3px 10.5px,#e4aca2 10.5px 11.7px,#dfa094 11.7px 12.8px,#de9d90 12.8px 14.0px)"></div><div style="left:556.43px;top:201.7px;width:3.21px;height:14px;background:linear-gradient(#a5281e 0.0px 1.2px,#fdf9f8 1.2px 2.3px,#e5afa5 2.3px 3.5px,#e0a195 3.5px 4.7px,#e9bab1 4.7px 5.8px,#bb5243 5.8px 7.0px,#e0a296 7.0px 8.2px,#f0cdc6 8.2px 9.3px,#e1a69a 9.3px 10.5px,#f0cfc9 10.5px 11.7px,#dd9b8f 11.7px 12.8px,#e5b0a6 12.8px 14.0px)"></div><div style="left:559.59px;top:201.7px;width:3.21px;height:14px;background:linear-gradient(#c46455 0.0px 1.2px,#edc5bd 1.2px 2.3px,#e6b1a7 2.3px 3.5px,#dd9b8e 3.5px 4.7px,#e5b0a5 4.7px 5.8px,#b34336 5.8px 7.0px,#ce7a6b 7.0px 8.2px,#e7b4aa 8.2px 9.3px,#db9588 9.3px 10.5px,#faf0ee 10.5px 11.7px,#da9285 11.7px 12.8px,#e8b7ae 12.8px 14.0px)"></div><div style="left:562.75px;top:201.7px;width:3.21px;height:14px;background:linear-gradient(#c15d4e 0.0px 1.2px,#faeeec 1.2px 2.3px,#dd9b8f 2.3px 3.5px,#d6897b 3.5px 4.7px,#f2d3ce 4.7px 5.8px,#b34235 5.8px 7.0px,#e5aea4 7.0px 8.2px,#edc5bd 8.2px 9.3px,#ebbfb7 9.3px 10.5px,#f2d6d0 10.5px 11.7px,#e0a296 11.7px 12.8px,#efcbc4 12.8px 14.0px)"></div><div style="left:565.91px;top:201.7px;width:3.21px;height:14px;background:linear-gradient(#c46455 0.0px 1.2px,#e8e6f7 1.2px 2.3px,#f5deda 2.3px 3.5px,#db978a 3.5px 4.7px,#f4dad5 4.7px 5.8px,#cb7364 5.8px 7.0px,#e8b8af 7.0px 8.2px,#f7e5e1 8.2px 9.3px,#edc3bb 9.3px 10.5px,#e9e7f7 10.5px 11.7px,#e6b2a8 11.7px 12.8px,#f0cec7 12.8px 14.0px)"></div><div style="left:569.06px;top:201.7px;width:3.21px;height:14px;background:linear-gradient(#bf5a4a 0.0px 1.2px,#f5ddd8 1.2px 2.3px,#f4dbd7 2.3px 3.5px,#da9487 3.5px 4.7px,#e7b4ab 4.7px 5.8px,#ca7061 5.8px 7.0px,#e4aca2 7.0px 8.2px,#e5afa4 8.2px 9.3px,#e5b0a6 9.3px 10.5px,#f4dbd6 10.5px 11.7px,#d88e80 11.7px 12.8px,#eec9c2 12.8px 14.0px)"></div><div style="left:572.22px;top:201.7px;width:3.21px;height:14px;background:linear-gradient(#d99284 0.0px 1.2px,#cbc6ec 1.2px 2.3px,#efccc5 2.3px 3.5px,#eabdb5 3.5px 4.7px,#fcf6f5 4.7px 5.8px,#e3aa9f 5.8px 7.0px,#e8b8ae 7.0px 8.2px,#e9b9b0 8.2px 9.3px,#f9ebe9 9.3px 10.5px,#c9c4ec 10.5px 11.7px,#eabcb4 11.7px 12.8px,#fdf8f7 12.8px 14.0px)"></div><div style="left:575.38px;top:201.7px;width:3.21px;height:14px;background:linear-gradient(#c56657 0.0px 1.2px,#e3e1f5 1.2px 2.3px,#f9ebe8 2.3px 3.5px,#e0a498 3.5px 4.7px,#e8b6ad 4.7px 5.8px,#c66858 5.8px 7.0px,#ebc0b8 7.0px 8.2px,#e8b8ae 8.2px 9.3px,#ecc0b8 9.3px 10.5px,#f6e0dc 10.5px 11.7px,#f2d3cd 11.7px 12.8px,#efcbc4 12.8px 14.0px)"></div><div style="left:578.54px;top:201.7px;width:3.21px;height:14px;background:linear-gradient(#bf5b4b 0.0px 1.2px,#ffffff 1.2px 2.3px,#f6e1dc 2.3px 3.5px,#e5b0a6 3.5px 4.7px,#f8e9e6 4.7px 5.8px,#c66858 5.8px 7.0px,#e4ada2 7.0px 8.2px,#edc3bb 8.2px 9.3px,#f2d5cf 9.3px 10.5px,#e2dff5 10.5px 11.7px,#efcac3 11.7px 12.8px,#faefed 12.8px 14.0px)"></div><div style="left:583.8px;top:201.7px;width:3.13px;height:14px;background:linear-gradient(#1a0fa5 0.0px 1.2px,#f1f0fa 1.2px 2.3px,#bbb5e6 2.3px 3.5px,#847bd1 3.5px 4.7px,#b8b2e5 4.7px 5.8px,#3f32b3 5.8px 7.0px,#6459c3 7.0px 8.2px,#9089d6 8.2px 9.3px,#8279d0 9.3px 10.5px,#d0ccee 10.5px 11.7px,#a19add 11.7px 12.8px,#aea8e2 12.8px 14.0px)"></div><div style="left:586.88px;top:201.7px;width:3.13px;height:14px;background:linear-gradient(#3c30b3 0.0px 1.2px,#ccc8ed 1.2px 2.3px,#9f98dc 2.3px 3.5px,#a19adc 3.5px 4.7px,#a6a0df 4.7px 5.8px,#4d40b9 5.8px 7.0px,#4c3fb9 7.0px 8.2px,#736aca 8.2px 9.3px,#746aca 9.3px 10.5px,#d8d5f1 10.5px 11.7px,#b3ade4 11.7px 12.8px,#9a93da 12.8px 14.0px)"></div><div style="left:589.96px;top:201.7px;width:3.13px;height:14px;background:linear-gradient(#1a0fa5 0.0px 1.2px,#c7c3eb 1.2px 2.3px,#8b83d4 2.3px 3.5px,#8880d3 3.5px 4.7px,#938bd7 4.7px 5.8px,#6358c3 5.8px 7.0px,#928ad7 7.0px 8.2px,#8e86d5 8.2px 9.3px,#918ad7 9.3px 10.5px,#bab5e6 10.5px 11.7px,#9d96db 11.7px 12.8px,#c2bde9 12.8px 14.0px)"></div><div style="left:593.04px;top:201.7px;width:3.13px;height:14px;background:linear-gradient(#2015a7 0.0px 1.2px,#f8f8fd 1.2px 2.3px,#b1abe3 2.3px 3.5px,#776dcb 3.5px 4.7px,#a29bdd 4.7px 5.8px,#4438b6 5.8px 7.0px,#766dcb 7.0px 8.2px,#8e86d5 8.2px 9.3px,#aca6e1 9.3px 10.5px,#beb9e8 10.5px 11.7px,#7970cc 11.7px 12.8px,#b6b1e5 12.8px 14.0px)"></div><div style="left:596.12px;top:201.7px;width:3.13px;height:14px;background:linear-gradient(#1a0fa5 0.0px 1.2px,#e3e0f5 1.2px 2.3px,#7e76cf 2.3px 3.5px,#6e63c7 3.5px 4.7px,#6c61c7 4.7px 5.8px,#271caa 5.8px 7.0px,#968fd8 7.0px 8.2px,#9b94da 8.2px 9.3px,#6b60c6 9.3px 10.5px,#ebe9f8 10.5px 11.7px,#786fcc 11.7px 12.8px,#d1cdef 12.8px 14.0px)"></div><div style="left:599.2px;top:201.7px;width:3.13px;height:14px;background:linear-gradient(#1c11a6 0.0px 1.2px,#bcb7e7 1.2px 2.3px,#d2ceef 2.3px 3.5px,#6d63c7 3.5px 4.7px,#afa9e2 4.7px 5.8px,#5044bb 5.8px 7.0px,#5c50c0 7.0px 8.2px,#a19bdd 8.2px 9.3px,#7c73ce 9.3px 10.5px,#cecaed 10.5px 11.7px,#8981d3 11.7px 12.8px,#8a82d4 12.8px 14.0px)"></div><div style="left:602.28px;top:201.7px;width:3.13px;height:14px;background:linear-gradient(#281dab 0.0px 1.2px,#f5f4fb 1.2px 2.3px,#9a93da 2.3px 3.5px,#8880d3 3.5px 4.7px,#8d85d5 4.7px 5.8px,#3529b0 5.8px 7.0px,#8880d3 7.0px 8.2px,#a39ddd 8.2px 9.3px,#aca6e1 9.3px 10.5px,#d6d3f1 10.5px 11.7px,#9f98dc 11.7px 12.8px,#bdb8e7 12.8px 14.0px)"></div><div style="left:605.36px;top:201.7px;width:3.13px;height:14px;background:linear-gradient(#2a1fac 0.0px 1.2px,#c4bfea 1.2px 2.3px,#beb8e8 2.3px 3.5px,#a7a0df 3.5px 4.7px,#a19add 4.7px 5.8px,#3125ae 5.8px 7.0px,#7e75cf 7.0px 8.2px,#bfbae8 8.2px 9.3px,#938bd7 9.3px 10.5px,#a59ede 10.5px 11.7px,#847cd1 11.7px 12.8px,#978fd9 12.8px 14.0px)"></div><div style="left:608.44px;top:201.7px;width:3.13px;height:14px;background:linear-gradient(#2318a9 0.0px 1.2px,#cbc6ec 1.2px 2.3px,#8c84d4 2.3px 3.5px,#a099dc 3.5px 4.7px,#b6b0e5 4.7px 5.8px,#1a0fa5 5.8px 7.0px,#655ac4 7.0px 8.2px,#948dd8 8.2px 9.3px,#8178d0 9.3px 10.5px,#9b93da 10.5px 11.7px,#a099dc 11.7px 12.8px,#8178d0 12.8px 14.0px)"></div><div style="left:611.52px;top:201.7px;width:3.13px;height:14px;background:linear-gradient(#1a0fa5 0.0px 1.2px,#d1cdef 1.2px 2.3px,#756bcb 2.3px 3.5px,#4538b6 3.5px 4.7px,#7970cc 4.7px 5.8px,#1d12a6 5.8px 7.0px,#2b20ac 7.0px 8.2px,#5b4fbf 8.2px 9.3px,#756ccb 9.3px 10.5px,#9891d9 10.5px 11.7px,#5a4ebf 11.7px 12.8px,#6d63c7 12.8px 14.0px)"></div><div style="left:617px;top:201.7px;width:3.34px;height:14px;background:linear-gradient(#695fc6 0.0px 1.2px,#776ecc 1.2px 2.3px,#f9f9fd 2.3px 3.5px,#8d85d5 3.5px 4.7px,#dfdcf3 4.7px 5.8px,#8a82d4 5.8px 7.0px,#968fd8 7.0px 8.2px,#aaa4e0 8.2px 9.3px,#7c73ce 9.3px 10.5px,#c7c2eb 10.5px 11.7px,#d5d1f0 11.7px 12.8px,#7c73ce 12.8px 14.0px)"></div><div style="left:620.29px;top:201.7px;width:3.34px;height:14px;background:linear-gradient(#857cd2 0.0px 1.2px,#9d96db 1.2px 2.3px,#a19adc 2.3px 3.5px,#b1abe3 3.5px 4.7px,#b3ade3 4.7px 5.8px,#9992da 5.8px 7.0px,#aca5e1 7.0px 8.2px,#8178d0 8.2px 9.3px,#8c84d5 9.3px 10.5px,#c3bee9 10.5px 11.7px,#b2ace3 11.7px 12.8px,#695fc6 12.8px 14.0px)"></div><div style="left:623.57px;top:201.7px;width:3.34px;height:14px;background:linear-gradient(#8a82d4 0.0px 1.2px,#7c73ce 1.2px 2.3px,#9b94da 2.3px 3.5px,#827ad0 3.5px 4.7px,#b0aae2 4.7px 5.8px,#6257c2 5.8px 7.0px,#8a82d4 7.0px 8.2px,#a49ede 8.2px 9.3px,#8d85d5 9.3px 10.5px,#8981d4 10.5px 11.7px,#aea8e2 11.7px 12.8px,#7168c9 12.8px 14.0px)"></div><div style="left:626.86px;top:201.7px;width:3.34px;height:14px;background:linear-gradient(#918ad6 0.0px 1.2px,#a8a1df 1.2px 2.3px,#bcb7e7 2.3px 3.5px,#bfbae8 3.5px 4.7px,#c0bbe8 4.7px 5.8px,#857dd2 5.8px 7.0px,#aca6e1 7.0px 8.2px,#dad7f2 8.2px 9.3px,#9088d6 9.3px 10.5px,#c4bfea 10.5px 11.7px,#e7e5f7 11.7px 12.8px,#9790d9 12.8px 14.0px)"></div><div style="left:630.14px;top:201.7px;width:3.34px;height:14px;background:linear-gradient(#8e86d5 0.0px 1.2px,#7d74ce 1.2px 2.3px,#c1bce9 2.3px 3.5px,#b5afe4 3.5px 4.7px,#5c50c0 4.7px 5.8px,#867ed2 5.8px 7.0px,#a099dc 7.0px 8.2px,#d7d4f1 8.2px 9.3px,#6a5fc6 9.3px 10.5px,#a099dc 10.5px 11.7px,#d1cdee 11.7px 12.8px,#6358c3 12.8px 14.0px)"></div><div style="left:633.43px;top:201.7px;width:3.34px;height:14px;background:linear-gradient(#a7a1df 0.0px 1.2px,#a39cdd 1.2px 2.3px,#a9a3e0 2.3px 3.5px,#9a93da 3.5px 4.7px,#b8b3e6 4.7px 5.8px,#c6c1eb 5.8px 7.0px,#d4d0f0 7.0px 8.2px,#7066c9 8.2px 9.3px,#6257c2 9.3px 10.5px,#bab5e6 10.5px 11.7px,#d0ccee 11.7px 12.8px,#786fcc 12.8px 14.0px)"></div><div style="left:636.71px;top:201.7px;width:3.34px;height:14px;background:linear-gradient(#8c84d4 0.0px 1.2px,#8e86d5 1.2px 2.3px,#bab4e6 2.3px 3.5px,#b4afe4 3.5px 4.7px,#9b94da 4.7px 5.8px,#9f98dc 5.8px 7.0px,#847cd1 7.0px 8.2px,#c2bde9 8.2px 9.3px,#9891d9 9.3px 10.5px,#9e97dc 10.5px 11.7px,#cbc7ed 11.7px 12.8px,#7c73ce 12.8px 14.0px)"></div><div style="left:510.3px;top:217.7px;width:3.23px;height:52.8px;background:linear-gradient(#f1d1cb 0.0px 1.1px,#f2d5cf 1.1px 2.3px,#f3d7d1 2.3px 3.4px,#f4dad5 3.4px 4.6px,#fdf7f6 4.6px 5.7px,#eabdb4 5.7px 6.9px,#c96e5f 6.9px 8.0px,#d0ccee 8.0px 9.2px,#ecc2ba 9.2px 10.3px,#dd9a8e 10.3px 11.5px,#be5748 11.5px 12.6px,#c96f60 12.6px 13.8px,#e8b7ad 13.8px 14.9px,#f1d0ca 14.9px 16.1px,#dd9b8e 16.1px 17.2px,#ebbfb6 17.2px 18.4px,#d99184 18.4px 19.5px,#f0cdc6 19.5px 20.7px,#e8b8af 20.7px 21.8px,#e4aea4 21.8px 23.0px,#e3aa9f 23.0px 24.1px,#ebbfb6 24.1px 25.3px,#dd9b8e 25.3px 26.4px,#dd9a8d 26.4px 27.5px,#db9688 27.5px 28.7px,#bb5243 28.7px 29.8px,#eabcb3 29.8px 31.0px,#db9588 31.0px 32.1px,#ca7161 32.1px 33.3px,#e0a296 33.3px 34.4px,#edc4bc 34.4px 35.6px,#e3aa9f 35.6px 36.7px,#d38375 36.7px 37.9px,#e1a59a 37.9px 39.0px,#dd9b8e 39.0px 40.2px,#ebbeb5 40.2px 41.3px,#d78d7f 41.3px 42.5px,#ce796a 42.5px 43.6px,#d6897b 43.6px 44.8px,#dfa094 44.8px 45.9px,#e6b2a8 45.9px 47.1px,#e6b1a7 47.1px 48.2px,#e1a59a 48.2px 49.4px,#db9689 49.4px 50.5px,#f3d7d2 50.5px 51.7px,#de9d91 51.7px 52.8px)"></div><div style="left:513.48px;top:217.7px;width:3.23px;height:52.8px;background:linear-gradient(#eabcb3 0.0px 1.1px,#ebbeb5 1.1px 2.3px,#c46555 2.3px 3.4px,#fbfbfe 3.4px 4.6px,#f5ddd9 4.6px 5.7px,#da9386 5.7px 6.9px,#d18071 6.9px 8.0px,#e7b5ab 8.0px 9.2px,#e8b6ad 9.2px 10.3px,#f0cec8 10.3px 11.5px,#b24134 11.5px 12.6px,#ce786a 12.6px 13.8px,#d99184 13.8px 14.9px,#e1a59a 14.9px 16.1px,#d58779 16.1px 17.2px,#e6b2a8 17.2px 18.4px,#e1a499 18.4px 19.5px,#d88f81 19.5px 20.7px,#e9b9b0 20.7px 21.8px,#d48778 21.8px 23.0px,#e6b3a9 23.0px 24.1px,#e0a296 24.1px 25.3px,#e8b7ae 25.3px 26.4px,#d28274 26.4px 27.5px,#e2a89d 27.5px 28.7px,#d48678 28.7px 29.8px,#d99082 29.8px 31.0px,#d58879 31.0px 32.1px,#ce796a 32.1px 33.3px,#e1a499 33.3px 34.4px,#e3aaa0 34.4px 35.6px,#e8b8ae 35.6px 36.7px,#cc7667 36.7px 37.9px,#e7b4aa 37.9px 39.0px,#dfa094 39.0px 40.2px,#d78c7e 40.2px 41.3px,#c36152 41.3px 42.5px,#dc998d 42.5px 43.6px,#dc998c 43.6px 44.8px,#d78c7e 44.8px 45.9px,#d17f71 45.9px 47.1px,#d18072 47.1px 48.2px,#d68a7c 48.2px 49.4px,#c46556 49.4px 50.5px,#faeeec 50.5px 51.7px,#d58779 51.7px 52.8px)"></div><div style="left:516.66px;top:217.7px;width:3.23px;height:52.8px;background:linear-gradient(#d8d5f1 0.0px 1.1px,#faeeec 1.1px 2.3px,#fcf4f2 2.3px 3.4px,#e3e0f5 3.4px 4.6px,#c3bde9 4.6px 5.7px,#e7b5ab 5.7px 6.9px,#d88f81 6.9px 8.0px,#faedeb 8.0px 9.2px,#f1d2cc 9.2px 10.3px,#e6b2a8 10.3px 11.5px,#eabdb5 11.5px 12.6px,#df9f93 12.6px 13.8px,#f5deda 13.8px 14.9px,#e4e2f5 14.9px 16.1px,#edc3bb 16.1px 17.2px,#f3d8d3 17.2px 18.4px,#f9ebe8 18.4px 19.5px,#f1f0fa 19.5px 20.7px,#fdf8f7 20.7px 21.8px,#eabbb2 21.8px 23.0px,#fbf3f1 23.0px 24.1px,#f6e3df 24.1px 25.3px,#dfddf4 25.3px 26.4px,#da9487 26.4px 27.5px,#efcbc4 27.5px 28.7px,#d38375 28.7px 29.8px,#f2d5cf 29.8px 31.0px,#f4dad5 31.0px 32.1px,#e5b0a5 32.1px 33.3px,#e9bab1 33.3px 34.4px,#f4dcd8 34.4px 35.6px,#f7f6fc 35.6px 36.7px,#f5dfda 36.7px 37.9px,#f2d5cf 37.9px 39.0px,#e9b9af 39.0px 40.2px,#fefdfc 40.2px 41.3px,#f2d5cf 41.3px 42.5px,#f6e1dd 42.5px 43.6px,#e0a498 43.6px 44.8px,#d88e80 44.8px 45.9px,#dc998c 45.9px 47.1px,#ecc1b8 47.1px 48.2px,#fbf3f2 48.2px 49.4px,#dc998d 49.4px 50.5px,#f4f3fb 50.5px 51.7px,#f8e7e3 51.7px 52.8px)"></div><div style="left:519.84px;top:217.7px;width:3.23px;height:52.8px;background:linear-gradient(#fffefe 0.0px 1.1px,#b6b1e5 1.1px 2.3px,#e8b6ad 2.3px 3.4px,#c7c2eb 3.4px 4.6px,#9d96db 4.6px 5.7px,#fbf3f2 5.7px 6.9px,#eec7bf 6.9px 8.0px,#d0ccee 8.0px 9.2px,#fefbfa 9.2px 10.3px,#d8d4f1 10.3px 11.5px,#da9386 11.5px 12.6px,#fffefe 12.6px 13.8px,#f4dbd6 13.8px 14.9px,#d9d6f1 14.9px 16.1px,#f9ece9 16.1px 17.2px,#eceaf8 17.2px 18.4px,#d6d3f0 18.4px 19.5px,#9a93da 19.5px 20.7px,#fdf8f7 20.7px 21.8px,#f2d5d0 21.8px 23.0px,#dcd9f2 23.0px 24.1px,#fefafa 24.1px 25.3px,#fcf6f5 25.3px 26.4px,#d38476 26.4px 27.5px,#f5ddd9 27.5px 28.7px,#e5b0a6 28.7px 29.8px,#f5dfda 29.8px 31.0px,#f3d8d3 31.0px 32.1px,#eec6be 32.1px 33.3px,#faefed 33.3px 34.4px,#fefdfc 34.4px 35.6px,#fffefe 35.6px 36.7px,#f2f1fa 36.7px 37.9px,#dddaf3 37.9px 39.0px,#fbf2f0 39.0px 40.2px,#edc3bb 40.2px 41.3px,#f6e2de 41.3px 42.5px,#dfdcf4 42.5px 43.6px,#f4dcd7 43.6px 44.8px,#e9b9b0 44.8px 45.9px,#de9d91 45.9px 47.1px,#f9ece9 47.1px 48.2px,#edc5be 48.2px 49.4px,#f8e9e6 49.4px 50.5px,#f4f3fb 50.5px 51.7px,#fbf2f0 51.7px 52.8px)"></div><div style="left:523.02px;top:217.7px;width:3.23px;height:52.8px;background:linear-gradient(#c5c0ea 0.0px 1.1px,#edecf9 1.1px 2.3px,#e0a296 2.3px 3.4px,#f7f6fc 3.4px 4.6px,#c4bfea 4.6px 5.7px,#edc3bb 5.7px 6.9px,#d58779 6.9px 8.0px,#fbfafe 8.0px 9.2px,#efcbc3 9.2px 10.3px,#f8e8e4 10.3px 11.5px,#f1d3cd 11.5px 12.6px,#f4dbd6 12.6px 13.8px,#f4dad5 13.8px 14.9px,#dedcf3 14.9px 16.1px,#faeeeb 16.1px 17.2px,#f2d5cf 17.2px 18.4px,#faefed 18.4px 19.5px,#f4d9d4 19.5px 20.7px,#e8e6f7 20.7px 21.8px,#f2d4ce 21.8px 23.0px,#f7e5e1 23.0px 24.1px,#fbfbfe 24.1px 25.3px,#f7e5e2 25.3px 26.4px,#ebc0b7 26.4px 27.5px,#e5afa5 27.5px 28.7px,#e8b6ad 28.7px 29.8px,#fcf5f4 29.8px 31.0px,#ecc1b9 31.0px 32.1px,#d5887a 32.1px 33.3px,#ffffff 33.3px 34.4px,#fefbfa 34.4px 35.6px,#f9f9fd 35.6px 36.7px,#eabbb2 36.7px 37.9px,#edc4bc 37.9px 39.0px,#f5ddd9 39.0px 40.2px,#fbfafd 40.2px 41.3px,#e7b5ab 41.3px 42.5px,#ecc1b8 42.5px 43.6px,#f0cdc6 43.6px 44.8px,#e7b4aa 44.8px 45.9px,#efcbc3 45.9px 47.1px,#de9d90 47.1px 48.2px,#fdfdfe 48.2px 49.4px,#f7e6e3 49.4px 50.5px,#fbf1ef 50.5px 51.7px,#f2d6d0 51.7px 52.8px)"></div><div style="left:528px;top:217.7px;width:3.21px;height:52.8px;background:linear-gradient(#c86e5e 0.0px 1.1px,#ae3a2e 1.1px 2.3px,#ac362a 2.3px 3.4px,#b6483a 3.4px 4.6px,#c46555 4.6px 5.7px,#a5281e 5.7px 6.9px,#d58879 6.9px 8.0px,#db9588 8.0px 9.2px,#aa3126 9.2px 10.3px,#bc5445 10.3px 11.5px,#cd7667 11.5px 12.6px,#c86c5d 12.6px 13.8px,#cb7263 13.8px 14.9px,#b6483a 14.9px 16.1px,#b6493b 16.1px 17.2px,#cb7364 17.2px 18.4px,#cb7465 18.4px 19.5px,#b34336 19.5px 20.7px,#ce7869 20.7px 21.8px,#b6493b 21.8px 23.0px,#db9588 23.0px 24.1px,#d28273 24.1px 25.3px,#ba5041 25.3px 26.4px,#af3c30 26.4px 27.5px,#c56657 27.5px 28.7px,#bd5747 28.7px 29.8px,#ba5041 29.8px 31.0px,#d18071 31.0px 32.1px,#c05b4b 32.1px 33.3px,#b44537 33.3px 34.4px,#ba5142 34.4px 35.6px,#b6493b 35.6px 36.7px,#cb7364 36.7px 37.9px,#d5897a 37.9px 39.0px,#c66a5a 39.0px 40.2px,#d99284 40.2px 41.3px,#b24235 41.3px 42.5px,#b6493b 42.5px 43.6px,#ce786a 43.6px 44.8px,#bb5243 44.8px 45.9px,#ca7162 45.9px 47.1px,#ce796a 47.1px 48.2px,#d88d7f 48.2px 49.4px,#b44437 49.4px 50.5px,#e8b7ae 50.5px 51.7px,#c56657 51.7px 52.8px)"></div><div style="left:531.16px;top:217.7px;width:3.21px;height:52.8px;background:linear-gradient(#d68a7c 0.0px 1.1px,#b74a3c 1.1px 2.3px,#c05c4c 2.3px 3.4px,#b54638 3.4px 4.6px,#cb7465 4.6px 5.7px,#a5281e 5.7px 6.9px,#be5949 6.9px 8.0px,#c26050 8.0px 9.2px,#b34235 9.2px 10.3px,#a92f25 10.3px 11.5px,#ac3529 11.5px 12.6px,#ce786a 12.6px 13.8px,#b74a3c 13.8px 14.9px,#bf5b4b 14.9px 16.1px,#b44638 16.1px 17.2px,#ad372b 17.2px 18.4px,#a5281e 18.4px 19.5px,#a62a20 19.5px 20.7px,#b94f40 20.7px 21.8px,#bb5344 21.8px 23.0px,#d48577 23.0px 24.1px,#c05b4b 24.1px 25.3px,#c56657 25.3px 26.4px,#c15e4e 26.4px 27.5px,#bb5243 27.5px 28.7px,#b74a3c 28.7px 29.8px,#a5281e 29.8px 31.0px,#c46555 31.0px 32.1px,#d38476 32.1px 33.3px,#bc5545 33.3px 34.4px,#b03d30 34.4px 35.6px,#ba5041 35.6px 36.7px,#ac362a 36.7px 37.9px,#d98f81 37.9px 39.0px,#c26151 39.0px 40.2px,#c96e5f 40.2px 41.3px,#ba5041 41.3px 42.5px,#bd5747 42.5px 43.6px,#d78d7f 43.6px 44.8px,#d28274 44.8px 45.9px,#a93025 45.9px 47.1px,#bb5344 47.1px 48.2px,#c6695a 48.2px 49.4px,#c66859 49.4px 50.5px,#de9f92 50.5px 51.7px,#d28172 51.7px 52.8px)"></div><div style="left:534.32px;top:217.7px;width:3.21px;height:52.8px;background:linear-gradient(#df9f93 0.0px 1.1px,#b44437 1.1px 2.3px,#bd5747 2.3px 3.4px,#c46555 3.4px 4.6px,#c36354 4.6px 5.7px,#ac3529 5.7px 6.9px,#bd5747 6.9px 8.0px,#c05b4b 8.0px 9.2px,#c46455 9.2px 10.3px,#c86e5e 10.3px 11.5px,#b54739 11.5px 12.6px,#c96f5f 12.6px 13.8px,#d28274 13.8px 14.9px,#a72b21 14.9px 16.1px,#d28274 16.1px 17.2px,#d17f71 17.2px 18.4px,#c66859 18.4px 19.5px,#b6483a 19.5px 20.7px,#dc988b 20.7px 21.8px,#c25f50 21.8px 23.0px,#c56758 23.0px 24.1px,#cc7667 24.1px 25.3px,#d5897a 25.3px 26.4px,#bb5243 26.4px 27.5px,#dfa093 27.5px 28.7px,#c36253 28.7px 29.8px,#c05c4c 29.8px 31.0px,#e6b3a9 31.0px 32.1px,#d68a7c 32.1px 33.3px,#be5748 33.3px 34.4px,#c86c5c 34.4px 35.6px,#b6483a 35.6px 36.7px,#b94f40 36.7px 37.9px,#d07e6f 37.9px 39.0px,#c46555 39.0px 40.2px,#c56758 40.2px 41.3px,#c05c4c 41.3px 42.5px,#b24134 42.5px 43.6px,#cf7b6c 43.6px 44.8px,#b74a3c 44.8px 45.9px,#c36253 45.9px 47.1px,#cb7263 47.1px 48.2px,#dd9a8e 48.2px 49.4px,#bb5243 49.4px 50.5px,#e2a89d 50.5px 51.7px,#d99184 51.7px 52.8px)"></div><div style="left:537.48px;top:217.7px;width:3.21px;height:52.8px;background:linear-gradient(#da9487 0.0px 1.1px,#b94e40 1.1px 2.3px,#b6483a 2.3px 3.4px,#c76b5b 3.4px 4.6px,#c15d4e 4.6px 5.7px,#aa3227 5.7px 6.9px,#c96f60 6.9px 8.0px,#b6493b 8.0px 9.2px,#bf5b4b 9.2px 10.3px,#bb5343 10.3px 11.5px,#a5281e 11.5px 12.6px,#bf5b4b 12.6px 13.8px,#d07d6e 13.8px 14.9px,#af3b2f 14.9px 16.1px,#c46455 16.1px 17.2px,#bc5545 17.2px 18.4px,#de9e92 18.4px 19.5px,#c76b5b 19.5px 20.7px,#b94e40 20.7px 21.8px,#be5949 21.8px 23.0px,#d88e80 23.0px 24.1px,#d68b7d 24.1px 25.3px,#ce786a 25.3px 26.4px,#bb5344 26.4px 27.5px,#d99082 27.5px 28.7px,#ae392d 28.7px 29.8px,#a5281e 29.8px 31.0px,#ca7162 31.0px 32.1px,#cd7768 32.1px 33.3px,#bf5a4a 33.3px 34.4px,#b74a3c 34.4px 35.6px,#b74c3d 35.6px 36.7px,#b13e31 36.7px 37.9px,#db9689 37.9px 39.0px,#c56656 39.0px 40.2px,#d28172 40.2px 41.3px,#bc5546 41.3px 42.5px,#bf5949 42.5px 43.6px,#cb7263 43.6px 44.8px,#ad382c 44.8px 45.9px,#b74a3c 45.9px 47.1px,#c26050 47.1px 48.2px,#cc7667 48.2px 49.4px,#ce796a 49.4px 50.5px,#d17f70 50.5px 51.7px,#da9486 51.7px 52.8px)"></div><div style="left:540.64px;top:217.7px;width:3.21px;height:52.8px;background:linear-gradient(#dd9b8e 0.0px 1.1px,#c76a5a 1.1px 2.3px,#b94e3f 2.3px 3.4px,#d5887a 3.4px 4.6px,#ce7869 4.6px 5.7px,#a5281e 5.7px 6.9px,#d38476 6.9px 8.0px,#da9487 8.0px 9.2px,#c26050 9.2px 10.3px,#bf5a4a 10.3px 11.5px,#c76b5b 11.5px 12.6px,#d38576 12.6px 13.8px,#d07c6e 13.8px 14.9px,#be5848 14.9px 16.1px,#b74b3d 16.1px 17.2px,#c36353 17.2px 18.4px,#cf7b6c 18.4px 19.5px,#bd5647 19.5px 20.7px,#d07c6e 20.7px 21.8px,#b54638 21.8px 23.0px,#d6897b 23.0px 24.1px,#e4aca1 24.1px 25.3px,#ca7162 25.3px 26.4px,#d18071 26.4px 27.5px,#e4aca2 27.5px 28.7px,#d5887a 28.7px 29.8px,#ba5142 29.8px 31.0px,#e3aba0 31.0px 32.1px,#d88d7f 32.1px 33.3px,#d88e80 33.3px 34.4px,#bc5546 34.4px 35.6px,#d07d6e 35.6px 36.7px,#b44538 36.7px 37.9px,#d88d7f 37.9px 39.0px,#dc998c 39.0px 40.2px,#c86d5e 40.2px 41.3px,#c76a5b 41.3px 42.5px,#b54638 42.5px 43.6px,#e3aaa0 43.6px 44.8px,#b84c3e 44.8px 45.9px,#b03d31 45.9px 47.1px,#cd7768 47.1px 48.2px,#e0a296 48.2px 49.4px,#cd7869 49.4px 50.5px,#e9b9af 50.5px 51.7px,#bb5243 51.7px 52.8px)"></div><div style="left:543.79px;top:217.7px;width:3.21px;height:52.8px;background:linear-gradient(#d07d6e 0.0px 1.1px,#b6483b 1.1px 2.3px,#d68a7c 2.3px 3.4px,#dc9a8d 3.4px 4.6px,#ce796a 4.6px 5.7px,#ba5142 5.7px 6.9px,#e0a296 6.9px 8.0px,#de9c90 8.0px 9.2px,#c26152 9.2px 10.3px,#cc7566 10.3px 11.5px,#c66959 11.5px 12.6px,#dd9c8f 12.6px 13.8px,#d99183 13.8px 14.9px,#d38476 14.9px 16.1px,#bc5445 16.1px 17.2px,#d48677 17.2px 18.4px,#c76b5b 18.4px 19.5px,#d28173 19.5px 20.7px,#cb7465 20.7px 21.8px,#db9587 21.8px 23.0px,#e6b2a8 23.0px 24.1px,#e9b9af 24.1px 25.3px,#e6b2a8 25.3px 26.4px,#cc7465 26.4px 27.5px,#ecc1b8 27.5px 28.7px,#d88e80 28.7px 29.8px,#cb7263 29.8px 31.0px,#e0a397 31.0px 32.1px,#d88d7f 32.1px 33.3px,#d88f81 33.3px 34.4px,#cc7667 34.4px 35.6px,#d17f71 35.6px 36.7px,#e3aa9f 36.7px 37.9px,#e6b3a9 37.9px 39.0px,#cc7667 39.0px 40.2px,#e2a79b 40.2px 41.3px,#cc7566 41.3px 42.5px,#c46555 42.5px 43.6px,#e9b9af 43.6px 44.8px,#c05c4d 44.8px 45.9px,#aa3227 45.9px 47.1px,#dd9a8d 47.1px 48.2px,#ca7162 48.2px 49.4px,#da9487 49.4px 50.5px,#e6b2a8 50.5px 51.7px,#efcac3 51.7px 52.8px)"></div><div style="left:546.95px;top:217.7px;width:3.21px;height:52.8px;background:linear-gradient(#e0a296 0.0px 1.1px,#cf7c6d 1.1px 2.3px,#e9b9af 2.3px 3.4px,#e9bbb2 3.4px 4.6px,#e5b0a5 4.6px 5.7px,#cb7364 5.7px 6.9px,#e0a397 6.9px 8.0px,#e6b1a7 8.0px 9.2px,#edc5be 9.2px 10.3px,#d99082 10.3px 11.5px,#ce7869 11.5px 12.6px,#e2a99e 12.6px 13.8px,#cf7a6b 13.8px 14.9px,#ebbeb5 14.9px 16.1px,#d18072 16.1px 17.2px,#dfa094 17.2px 18.4px,#d99184 18.4px 19.5px,#e6b2a8 19.5px 20.7px,#ecc1b9 20.7px 21.8px,#d88d7f 21.8px 23.0px,#eabcb3 23.0px 24.1px,#fefdfc 24.1px 25.3px,#e5b0a5 25.3px 26.4px,#d48778 26.4px 27.5px,#e5afa4 27.5px 28.7px,#f6e1dd 28.7px 29.8px,#c86c5d 29.8px 31.0px,#f0cfc8 31.0px 32.1px,#e2a79c 32.1px 33.3px,#cf7a6c 33.3px 34.4px,#bf5a4a 34.4px 35.6px,#d99184 35.6px 36.7px,#e0a498 36.7px 37.9px,#e3aca1 37.9px 39.0px,#ebbeb5 39.0px 40.2px,#e9bbb1 40.2px 41.3px,#e0a397 41.3px 42.5px,#df9f93 42.5px 43.6px,#e8b6ad 43.6px 44.8px,#c26151 44.8px 45.9px,#ce796b 45.9px 47.1px,#d78b7d 47.1px 48.2px,#e9b9b0 48.2px 49.4px,#d17f70 49.4px 50.5px,#f8e9e6 50.5px 51.7px,#efcac3 51.7px 52.8px)"></div><div style="left:550.11px;top:217.7px;width:3.21px;height:52.8px;background:linear-gradient(#e5b0a6 0.0px 1.1px,#bc5445 1.1px 2.3px,#d99184 2.3px 3.4px,#d18072 3.4px 4.6px,#d88d7f 4.6px 5.7px,#a5281e 5.7px 6.9px,#dd9a8e 6.9px 8.0px,#da9285 8.0px 9.2px,#d48677 9.2px 10.3px,#c76b5c 10.3px 11.5px,#d07e6f 11.5px 12.6px,#edc4bc 12.6px 13.8px,#d99082 13.8px 14.9px,#e1a498 14.9px 16.1px,#bf5949 16.1px 17.2px,#d38375 17.2px 18.4px,#dc978a 18.4px 19.5px,#cd7869 19.5px 20.7px,#f3d7d1 20.7px 21.8px,#c05c4c 21.8px 23.0px,#ecc3ba 23.0px 24.1px,#e6b2a8 24.1px 25.3px,#ca7162 25.3px 26.4px,#e0a296 26.4px 27.5px,#ebbfb7 27.5px 28.7px,#d88d7f 28.7px 29.8px,#c46354 29.8px 31.0px,#f3d8d2 31.0px 32.1px,#e2a79c 32.1px 33.3px,#c26050 33.3px 34.4px,#d48576 34.4px 35.6px,#d07d6f 35.6px 36.7px,#e8b7ae 36.7px 37.9px,#f3d7d2 37.9px 39.0px,#efcac3 39.0px 40.2px,#e1a69a 40.2px 41.3px,#ca7162 41.3px 42.5px,#cf7b6c 42.5px 43.6px,#e8b7ad 43.6px 44.8px,#d18071 44.8px 45.9px,#c76a5a 45.9px 47.1px,#da9386 47.1px 48.2px,#dfa094 48.2px 49.4px,#c36152 49.4px 50.5px,#e3aa9f 50.5px 51.7px,#e8b7ae 51.7px 52.8px)"></div><div style="left:553.27px;top:217.7px;width:3.21px;height:52.8px;background:linear-gradient(#fdfdfe 0.0px 1.1px,#cb7263 1.1px 2.3px,#e0a397 2.3px 3.4px,#e3aba0 3.4px 4.6px,#e2a89d 4.6px 5.7px,#d38375 5.7px 6.9px,#e7b5ab 6.9px 8.0px,#e6b3a9 8.0px 9.2px,#d88e80 9.2px 10.3px,#ecc3ba 10.3px 11.5px,#d68a7c 11.5px 12.6px,#f2d5d0 12.6px 13.8px,#efcbc4 13.8px 14.9px,#e3aa9f 14.9px 16.1px,#e4aea4 16.1px 17.2px,#d68a7c 17.2px 18.4px,#e7b5ac 18.4px 19.5px,#e4aca2 19.5px 20.7px,#eec7bf 20.7px 21.8px,#e0a498 21.8px 23.0px,#f8e7e3 23.0px 24.1px,#f6e2de 24.1px 25.3px,#edc4bc 25.3px 26.4px,#da9385 26.4px 27.5px,#faf9fd 27.5px 28.7px,#eec9c1 28.7px 29.8px,#db9588 29.8px 31.0px,#fefbfa 31.0px 32.1px,#e6b3a9 32.1px 33.3px,#e5b0a6 33.3px 34.4px,#dfa094 34.4px 35.6px,#e4aca1 35.6px 36.7px,#f1d1cb 36.7px 37.9px,#eec6be 37.9px 39.0px,#e5b0a6 39.0px 40.2px,#f8e7e4 40.2px 41.3px,#e4aca1 41.3px 42.5px,#db9689 42.5px 43.6px,#fbf1f0 43.6px 44.8px,#e9b9af 44.8px 45.9px,#d88e80 45.9px 47.1px,#fdfaf9 47.1px 48.2px,#fefdfd 48.2px 49.4px,#e6b2a8 49.4px 50.5px,#fdfdfe 50.5px 51.7px,#faeeec 51.7px 52.8px)"></div><div style="left:556.43px;top:217.7px;width:3.21px;height:52.8px;background:linear-gradient(#f2d5d0 0.0px 1.1px,#cc7667 1.1px 2.3px,#ebc0b8 2.3px 3.4px,#f2d5cf 3.4px 4.6px,#ebc0b8 4.6px 5.7px,#dfa094 5.7px 6.9px,#efcac3 6.9px 8.0px,#f2d5d0 8.0px 9.2px,#e0a397 9.2px 10.3px,#d99184 10.3px 11.5px,#e4ada2 11.5px 12.6px,#f2d3cd 12.6px 13.8px,#edc5be 13.8px 14.9px,#da9386 14.9px 16.1px,#f2d5cf 16.1px 17.2px,#f0cdc6 17.2px 18.4px,#f5dfdb 18.4px 19.5px,#e9bbb1 19.5px 20.7px,#e9b9b0 20.7px 21.8px,#e6b3a9 21.8px 23.0px,#f3d9d4 23.0px 24.1px,#fdf8f7 24.1px 25.3px,#fdf9f8 25.3px 26.4px,#ecc1b9 26.4px 27.5px,#ebe9f8 27.5px 28.7px,#eec6be 28.7px 29.8px,#e3aba0 29.8px 31.0px,#f1d1ca 31.0px 32.1px,#e5b0a5 32.1px 33.3px,#f0cdc7 33.3px 34.4px,#eec6be 34.4px 35.6px,#e6b1a7 35.6px 36.7px,#f7e4e0 36.7px 37.9px,#fcf5f4 37.9px 39.0px,#edc5bd 39.0px 40.2px,#faefed 40.2px 41.3px,#dc978a 41.3px 42.5px,#edc5bd 42.5px 43.6px,#f5deda 43.6px 44.8px,#edc5bd 44.8px 45.9px,#fbf2f1 45.9px 47.1px,#eec7bf 47.1px 48.2px,#f9ebe8 48.2px 49.4px,#e8b6ad 49.4px 50.5px,#dedbf3 50.5px 51.7px,#fcf5f4 51.7px 52.8px)"></div><div style="left:559.59px;top:217.7px;width:3.21px;height:52.8px;background:linear-gradient(#f6e1dd 0.0px 1.1px,#dd9b8f 1.1px 2.3px,#de9d91 2.3px 3.4px,#edc3bb 3.4px 4.6px,#d88f81 4.6px 5.7px,#c26050 5.7px 6.9px,#f2d5cf 6.9px 8.0px,#e3aa9f 8.0px 9.2px,#f3d6d1 9.2px 10.3px,#de9d91 10.3px 11.5px,#e5afa5 11.5px 12.6px,#edc3bb 12.6px 13.8px,#dd9c8f 13.8px 14.9px,#e2a79c 14.9px 16.1px,#df9f93 16.1px 17.2px,#dc988b 17.2px 18.4px,#efcbc4 18.4px 19.5px,#eabcb3 19.5px 20.7px,#dfa094 20.7px 21.8px,#d99082 21.8px 23.0px,#fdfaf9 23.0px 24.1px,#f6e1dd 24.1px 25.3px,#eabbb2 25.3px 26.4px,#dfa094 26.4px 27.5px,#f6e2de 27.5px 28.7px,#e6b2a8 28.7px 29.8px,#d58779 29.8px 31.0px,#f6e1dd 31.0px 32.1px,#de9d91 32.1px 33.3px,#eec8c0 33.3px 34.4px,#dc988b 34.4px 35.6px,#cd7869 35.6px 36.7px,#f1d1cb 36.7px 37.9px,#f7e4e0 37.9px 39.0px,#fdf9f8 39.0px 40.2px,#f6e3df 40.2px 41.3px,#eec8c1 41.3px 42.5px,#dd9c8f 42.5px 43.6px,#f5dfda 43.6px 44.8px,#ce7a6b 44.8px 45.9px,#e3aa9f 45.9px 47.1px,#e4ada3 47.1px 48.2px,#efc9c2 48.2px 49.4px,#df9f93 49.4px 50.5px,#faeeec 50.5px 51.7px,#fbf3f1 51.7px 52.8px)"></div><div style="left:562.75px;top:217.7px;width:3.21px;height:52.8px;background:linear-gradient(#efcac3 0.0px 1.1px,#eec7bf 1.1px 2.3px,#faefed 2.3px 3.4px,#e8e6f7 3.4px 4.6px,#f7e5e1 4.6px 5.7px,#eec8c1 5.7px 6.9px,#f9ece9 6.9px 8.0px,#fdfdfe 8.0px 9.2px,#ecc2ba 9.2px 10.3px,#f5deda 10.3px 11.5px,#ecc2b9 11.5px 12.6px,#e8b7ad 12.6px 13.8px,#eec7bf 13.8px 14.9px,#f1d0c9 14.9px 16.1px,#f6e0dc 16.1px 17.2px,#ebbeb6 17.2px 18.4px,#eceaf8 18.4px 19.5px,#fdf9f9 19.5px 20.7px,#edc4bc 20.7px 21.8px,#f4dad5 21.8px 23.0px,#f6e1dd 23.0px 24.1px,#f9f8fd 24.1px 25.3px,#edc5be 25.3px 26.4px,#de9c90 26.4px 27.5px,#fdf7f6 27.5px 28.7px,#fcf4f2 28.7px 29.8px,#e3a99e 29.8px 31.0px,#f4dad5 31.0px 32.1px,#f4dbd6 32.1px 33.3px,#e5e3f6 33.3px 34.4px,#efcbc4 34.4px 35.6px,#f6e1dd 35.6px 36.7px,#f7e6e3 36.7px 37.9px,#e3e0f5 37.9px 39.0px,#f0cfc9 39.0px 40.2px,#e1def4 40.2px 41.3px,#f0cec7 41.3px 42.5px,#fefcfc 42.5px 43.6px,#c4bfea 43.6px 44.8px,#f9ece9 44.8px 45.9px,#f1d2cc 45.9px 47.1px,#fbf1ef 47.1px 48.2px,#edecf9 48.2px 49.4px,#efccc5 49.4px 50.5px,#d9d5f1 50.5px 51.7px,#fdf8f7 51.7px 52.8px)"></div><div style="left:565.91px;top:217.7px;width:3.21px;height:52.8px;background:linear-gradient(#cac5ec 0.0px 1.1px,#f7f7fc 1.1px 2.3px,#d2ceef 2.3px 3.4px,#b7b2e5 3.4px 4.6px,#e4e2f5 4.6px 5.7px,#faedeb 5.7px 6.9px,#cfcbee 6.9px 8.0px,#e9e8f7 8.0px 9.2px,#fbf2f1 9.2px 10.3px,#f5ddd8 10.3px 11.5px,#edebf8 11.5px 12.6px,#9f98dc 12.6px 13.8px,#c6c1eb 13.8px 14.9px,#f2d6d0 14.9px 16.1px,#f9eae7 16.1px 17.2px,#d9d5f1 17.2px 18.4px,#fdfaf9 18.4px 19.5px,#e9e7f7 19.5px 20.7px,#faf0ee 20.7px 21.8px,#f3f2fb 21.8px 23.0px,#b9b4e6 23.0px 24.1px,#c6c1eb 24.1px 25.3px,#aca6e1 25.3px 26.4px,#fcfcfe 26.4px 27.5px,#f4f3fb 27.5px 28.7px,#f0effa 28.7px 29.8px,#f5f4fb 29.8px 31.0px,#c3beea 31.0px 32.1px,#e9e7f7 32.1px 33.3px,#e6e4f6 33.3px 34.4px,#f9edea 34.4px 36.7px,#e5e2f6 36.7px 37.9px,#cdc9ed 37.9px 39.0px,#e3e0f5 39.0px 40.2px,#cfcbee 40.2px 41.3px,#dbd8f2 41.3px 42.5px,#f7e6e2 42.5px 43.6px,#eae8f8 43.6px 44.8px,#ebe9f8 44.8px 45.9px,#f2f1fb 45.9px 47.1px,#fcfbfe 47.1px 48.2px,#ccc8ed 48.2px 49.4px,#fcf5f3 49.4px 50.5px,#a099dc 50.5px 51.7px,#cbc7ed 51.7px 52.8px)"></div><div style="left:569.06px;top:217.7px;width:3.21px;height:52.8px;background:linear-gradient(#978fd9 0.0px 1.1px,#faeeec 1.1px 2.3px,#e4e2f6 2.3px 3.4px,#b2ace3 3.4px 4.6px,#bfbae8 4.6px 5.7px,#f5f4fc 5.7px 6.9px,#dedcf3 6.9px 8.0px,#c2bde9 8.0px 9.2px,#9d96db 9.2px 10.3px,#dedcf3 10.3px 11.5px,#ebe9f8 11.5px 12.6px,#ccc8ed 12.6px 13.8px,#dad7f2 13.8px 14.9px,#e2e0f5 14.9px 16.1px,#fbf2f1 16.1px 17.2px,#f5f4fc 17.2px 18.4px,#d3cfef 18.4px 19.5px,#f9ebe8 19.5px 20.7px,#d6d2f0 20.7px 21.8px,#dedbf3 21.8px 23.0px,#bfb9e8 23.0px 24.1px,#847cd1 24.1px 25.3px,#b9b3e6 25.3px 26.4px,#dcd9f3 26.4px 27.5px,#aca6e1 27.5px 28.7px,#e0def4 28.7px 29.8px,#c9c4ec 29.8px 31.0px,#cbc6ec 31.0px 32.1px,#e7e5f6 32.1px 33.3px,#ebeaf8 33.3px 34.4px,#faeeec 34.4px 35.6px,#f0effa 35.6px 36.7px,#d1cdef 36.7px 37.9px,#928ad7 37.9px 39.0px,#e5e3f6 39.0px 40.2px,#d6d3f0 40.2px 41.3px,#bfbae8 41.3px 42.5px,#e3e1f5 42.5px 43.6px,#9e97dc 43.6px 44.8px,#fefbfb 44.8px 45.9px,#f1f0fa 45.9px 47.1px,#c4bfea 47.1px 48.2px,#e8e6f7 48.2px 49.4px,#efedf9 49.4px 50.5px,#8f88d6 50.5px 51.7px,#cbc7ed 51.7px 52.8px)"></div><div style="left:572.22px;top:217.7px;width:3.21px;height:52.8px;background:linear-gradient(#ada7e1 0.0px 1.1px,#f8f7fc 1.1px 2.3px,#f0effa 2.3px 3.4px,#d6d2f0 3.4px 4.6px,#d0ccee 4.6px 5.7px,#f6e0dc 5.7px 6.9px,#f6f5fc 6.9px 8.0px,#b5afe4 8.0px 9.2px,#c8c4ec 9.2px 10.3px,#efeef9 10.3px 11.5px,#d4d1f0 11.5px 12.6px,#fcf4f2 12.6px 13.8px,#e0def4 13.8px 14.9px,#f1f0fa 14.9px 16.1px,#f9f8fd 16.1px 17.2px,#fdf9f9 17.2px 18.4px,#b4afe4 18.4px 19.5px,#dfddf4 19.5px 20.7px,#a49dde 20.7px 21.8px,#fbf3f1 21.8px 23.0px,#afa9e2 23.0px 24.1px,#cfcbee 24.1px 25.3px,#b0aae2 25.3px 26.4px,#d3cfef 26.4px 27.5px,#9c95db 27.5px 28.7px,#e7e5f6 28.7px 29.8px,#eae8f7 29.8px 31.0px,#beb8e8 31.0px 32.1px,#c4bfea 32.1px 33.3px,#d5d1f0 33.3px 34.4px,#e5e3f6 34.4px 35.6px,#fcf5f4 35.6px 36.7px,#b5afe4 36.7px 37.9px,#aba5e0 37.9px 39.0px,#dddbf3 39.0px 40.2px,#a59ede 40.2px 41.3px,#b5afe4 41.3px 42.5px,#f9eae7 42.5px 43.6px,#e2dff5 43.6px 44.8px,#dddaf3 44.8px 45.9px,#d7d4f1 45.9px 47.1px,#f2f1fa 47.1px 48.2px,#b6b0e5 48.2px 49.4px,#c4bfea 49.4px 50.5px,#756bcb 50.5px 51.7px,#7c73ce 51.7px 52.8px)"></div><div style="left:575.38px;top:217.7px;width:3.21px;height:52.8px;background:linear-gradient(#a59fde 0.0px 1.1px,#e0ddf4 1.1px 2.3px,#bfbae8 2.3px 3.4px,#e2e0f5 3.4px 4.6px,#ecebf8 4.6px 5.7px,#e5afa5 5.7px 6.9px,#877fd2 6.9px 8.0px,#bbb6e7 8.0px 9.2px,#dedbf3 9.2px 10.3px,#f8e6e3 10.3px 11.5px,#f8e8e5 11.5px 12.6px,#d2ceef 12.6px 13.8px,#dbd8f2 13.8px 14.9px,#d7d3f1 14.9px 16.1px,#eae9f8 16.1px 17.2px,#cfcbee 17.2px 18.4px,#958ed8 18.4px 19.5px,#f6e3df 19.5px 20.7px,#ecebf8 20.7px 21.8px,#f2d4ce 21.8px 23.0px,#dbd8f2 23.0px 24.1px,#b7b1e5 24.1px 25.3px,#d6d3f0 25.3px 26.4px,#cbc6ec 26.4px 27.5px,#9c96db 27.5px 28.7px,#f1f0fa 28.7px 29.8px,#fefeff 29.8px 31.0px,#958ed8 31.0px 32.1px,#dfddf4 32.1px 33.3px,#cfcbee 33.3px 34.4px,#fdfdfe 34.4px 35.6px,#faeeec 35.6px 36.7px,#bcb7e7 36.7px 37.9px,#a099dc 37.9px 39.0px,#e0ddf4 39.0px 40.2px,#c1bce9 40.2px 41.3px,#eae8f8 41.3px 42.5px,#e0ddf4 42.5px 43.6px,#b4aee4 43.6px 44.8px,#aea8e1 44.8px 45.9px,#fbfafe 45.9px 47.1px,#fdf8f7 47.1px 48.2px,#a29bdd 48.2px 49.4px,#dedbf3 49.4px 50.5px,#9c95db 50.5px 51.7px,#e5e3f6 51.7px 52.8px)"></div><div style="left:578.54px;top:217.7px;width:3.21px;height:52.8px;background:linear-gradient(#c7c2eb 0.0px 1.1px,#d6d2f0 1.1px 2.3px,#c4bfea 2.3px 3.4px,#efedf9 3.4px 4.6px,#c7c2eb 4.6px 5.7px,#f7e5e1 5.7px 6.9px,#a59ede 6.9px 8.0px,#a9a2df 8.0px 9.2px,#928bd7 9.2px 10.3px,#d4d0f0 10.3px 11.5px,#aea8e2 11.5px 12.6px,#a19add 12.6px 13.8px,#aca6e1 13.8px 14.9px,#fbfbfe 14.9px 16.1px,#f9f9fd 16.1px 17.2px,#d2ceef 17.2px 18.4px,#b8b2e5 18.4px 19.5px,#b2ace3 19.5px 20.7px,#d3cfef 20.7px 21.8px,#cbc7ed 21.8px 23.0px,#a49ede 23.0px 24.1px,#b0aae2 24.1px 25.3px,#a8a2df 25.3px 26.4px,#e4e1f5 26.4px 27.5px,#8a82d4 27.5px 28.7px,#e4e1f5 28.7px 29.8px,#fefbfa 29.8px 31.0px,#c0bbe8 31.0px 32.1px,#f8f7fc 32.1px 33.3px,#b3ade3 33.3px 34.4px,#ebe9f8 34.4px 35.6px,#e5e3f6 35.6px 36.7px,#d0ccee 36.7px 37.9px,#a19add 37.9px 39.0px,#cbc7ed 39.0px 40.2px,#867ed2 40.2px 41.3px,#d0ccee 41.3px 42.5px,#fefcfc 42.5px 43.6px,#a9a3e0 43.6px 44.8px,#d5d1f0 44.8px 45.9px,#fefbfa 45.9px 47.1px,#a39ddd 47.1px 48.2px,#b8b2e5 48.2px 49.4px,#f8f7fc 49.4px 50.5px,#6e64c8 50.5px 51.7px,#9c95db 51.7px 52.8px)"></div><div style="left:583.8px;top:217.7px;width:3.13px;height:52.8px;background:linear-gradient(#e1dff4 0.0px 1.1px,#8279d0 1.1px 2.3px,#978fd9 2.3px 3.4px,#c0bbe8 3.4px 4.6px,#7c73ce 4.6px 5.7px,#7a71cd 5.7px 6.9px,#a19adc 6.9px 8.0px,#b3ade3 8.0px 9.2px,#aea7e1 9.2px 10.3px,#9891d9 10.3px 11.5px,#9992da 11.5px 12.6px,#e4e2f5 12.6px 13.8px,#dedbf3 13.8px 14.9px,#dbd8f2 14.9px 16.1px,#877fd3 16.1px 17.2px,#ccc8ed 17.2px 18.4px,#8a82d4 18.4px 19.5px,#bab4e6 19.5px 20.7px,#d8d5f1 20.7px 21.8px,#867ed2 21.8px 23.0px,#e0def4 23.0px 24.1px,#fafafd 24.1px 25.3px,#cac5ec 25.3px 26.4px,#867dd2 26.4px 27.5px,#fffeff 27.5px 28.7px,#9088d6 28.7px 29.8px,#8a82d4 29.8px 31.0px,#e7e5f7 31.0px 32.1px,#b5afe4 32.1px 33.3px,#c8c3eb 33.3px 34.4px,#b8b3e5 34.4px 35.6px,#b3aee4 35.6px 36.7px,#e3e1f5 36.7px 37.9px,#f6f5fc 37.9px 39.0px,#9c95db 39.0px 40.2px,#c4bfea 40.2px 41.3px,#b0aae2 41.3px 42.5px,#9d96db 42.5px 43.6px,#a49dde 43.6px 44.8px,#dedcf3 44.8px 45.9px,#6358c3 45.9px 47.1px,#8b83d4 47.1px 48.2px,#dad7f2 48.2px 49.4px,#b1abe3 49.4px 50.5px,#f1d1cb 50.5px 51.7px,#d0ccee 51.7px 52.8px)"></div><div style="left:586.88px;top:217.7px;width:3.13px;height:52.8px;background:linear-gradient(#d4d1f0 0.0px 1.1px,#9891d9 1.1px 2.3px,#9088d6 2.3px 3.4px,#8f88d6 3.4px 4.6px,#938cd7 4.6px 5.7px,#7a71cd 5.7px 6.9px,#b0aae2 6.9px 8.0px,#d9d6f2 8.0px 9.2px,#8279d0 9.2px 10.3px,#a49dde 10.3px 11.5px,#8a82d4 11.5px 12.6px,#cdc8ed 12.6px 13.8px,#aca6e1 13.8px 14.9px,#a099dc 14.9px 16.1px,#8077cf 16.1px 17.2px,#ccc8ed 17.2px 18.4px,#aca6e1 18.4px 19.5px,#a8a2df 19.5px 20.7px,#beb8e8 20.7px 21.8px,#786fcc 21.8px 23.0px,#b5afe4 23.0px 24.1px,#dad7f2 24.1px 25.3px,#e7e5f6 25.3px 26.4px,#7067c9 26.4px 27.5px,#b3ade3 27.5px 28.7px,#9088d6 28.7px 29.8px,#7167c9 29.8px 31.0px,#a9a2e0 31.0px 32.1px,#8f88d6 32.1px 33.3px,#a29cdd 33.3px 34.4px,#695fc6 34.4px 35.6px,#9d96db 35.6px 36.7px,#8c84d4 36.7px 37.9px,#d4d0f0 37.9px 39.0px,#c2bce9 39.0px 40.2px,#8e86d5 40.2px 41.3px,#a19add 41.3px 42.5px,#958dd8 42.5px 43.6px,#c6c2eb 43.6px 44.8px,#9f98dc 44.8px 45.9px,#9088d6 45.9px 47.1px,#7d74ce 47.1px 48.2px,#c2bde9 48.2px 49.4px,#b4aee4 49.4px 50.5px,#f6e0dc 50.5px 51.7px,#9c95db 51.7px 52.8px)"></div><div style="left:589.96px;top:217.7px;width:3.13px;height:52.8px;background:linear-gradient(#c4bfea 0.0px 1.1px,#695ec5 1.1px 2.3px,#aca6e1 2.3px 3.4px,#9f98dc 3.4px 4.6px,#8f87d6 4.6px 5.7px,#7d74ce 5.7px 6.9px,#fcfcfe 6.9px 8.0px,#8b83d4 8.0px 9.2px,#c6c1eb 9.2px 10.3px,#8078d0 10.3px 11.5px,#a59ede 11.5px 12.6px,#c9c5ec 12.6px 13.8px,#d6d3f0 13.8px 14.9px,#9e97dc 14.9px 16.1px,#8077cf 16.1px 17.2px,#b2ade3 17.2px 18.4px,#cbc7ed 18.4px 19.5px,#8d85d5 19.5px 20.7px,#c0bbe9 20.7px 21.8px,#9a93da 21.8px 23.0px,#d9d6f2 23.0px 24.1px,#e5e3f6 24.1px 25.3px,#dedbf3 25.3px 26.4px,#aca6e1 26.4px 27.5px,#cfcbee 27.5px 28.7px,#aaa4e0 28.7px 29.8px,#4a3db8 29.8px 31.0px,#b7b2e5 31.0px 32.1px,#867ed2 32.1px 33.3px,#b0aae2 33.3px 34.4px,#736aca 34.4px 35.6px,#948dd8 35.6px 36.7px,#c3beea 36.7px 37.9px,#fdfdfe 37.9px 39.0px,#dddaf3 39.0px 40.2px,#b6b0e5 40.2px 41.3px,#b0a9e2 41.3px 42.5px,#b5afe4 42.5px 43.6px,#bbb5e7 43.6px 44.8px,#9b94da 44.8px 45.9px,#6d63c7 45.9px 47.1px,#9992d9 47.1px 48.2px,#e1dff4 48.2px 49.4px,#aea8e2 49.4px 50.5px,#fbfbfe 50.5px 51.7px,#bbb6e7 51.7px 52.8px)"></div><div style="left:593.04px;top:217.7px;width:3.13px;height:52.8px;background:linear-gradient(#e9e7f7 0.0px 1.1px,#9088d6 1.1px 2.3px,#796fcc 2.3px 3.4px,#e2e0f5 3.4px 4.6px,#8b84d4 4.6px 5.7px,#5044bb 5.7px 6.9px,#a19add 6.9px 8.0px,#a099dc 8.0px 9.2px,#9992d9 9.2px 10.3px,#5f53c1 10.3px 11.5px,#8178d0 11.5px 12.6px,#a59ede 12.6px 13.8px,#d1cdef 13.8px 14.9px,#9c95da 14.9px 16.1px,#8f87d6 16.1px 17.2px,#b0aae2 17.2px 18.4px,#b4aee4 18.4px 19.5px,#958ed8 19.5px 20.7px,#6055c2 20.7px 21.8px,#938bd7 21.8px 23.0px,#bab4e6 23.0px 24.1px,#e5e3f6 24.1px 25.3px,#c4bfea 25.3px 26.4px,#756ccb 26.4px 27.5px,#ada7e1 27.5px 28.7px,#867ed2 28.7px 29.8px,#7a71cd 29.8px 31.0px,#b9b4e6 31.0px 32.1px,#847cd1 32.1px 33.3px,#8178d0 33.3px 34.4px,#877fd3 34.4px 35.6px,#837ad1 35.6px 36.7px,#9f98dc 36.7px 37.9px,#c0bbe9 37.9px 39.0px,#6459c3 39.0px 40.2px,#bdb7e7 40.2px 41.3px,#9891d9 41.3px 42.5px,#9b94da 42.5px 43.6px,#e1dff4 43.6px 44.8px,#7b72cd 44.8px 45.9px,#8b84d4 45.9px 47.1px,#9e97dc 47.1px 48.2px,#beb9e8 48.2px 49.4px,#afa9e2 49.4px 50.5px,#fcf5f3 50.5px 51.7px,#968ed8 51.7px 52.8px)"></div><div style="left:596.12px;top:217.7px;width:3.13px;height:52.8px;background:linear-gradient(#fafafd 0.0px 1.1px,#8a82d4 1.1px 2.3px,#9b94da 2.3px 3.4px,#a9a3e0 3.4px 4.6px,#a39ddd 4.6px 5.7px,#493cb8 5.7px 6.9px,#dddbf3 6.9px 8.0px,#cdc9ed 8.0px 9.2px,#827ad1 9.2px 10.3px,#afa9e2 10.3px 11.5px,#9992da 11.5px 12.6px,#c2bde9 12.6px 13.8px,#cfcbee 13.8px 14.9px,#a19bdd 14.9px 16.1px,#8f88d6 16.1px 17.2px,#c2bde9 17.2px 18.4px,#867ed2 18.4px 19.5px,#857cd2 19.5px 20.7px,#c3beea 20.7px 21.8px,#b7b1e5 21.8px 23.0px,#a8a2df 23.0px 24.1px,#e5e3f6 24.1px 25.3px,#bdb8e7 25.3px 26.4px,#9088d6 26.4px 27.5px,#e7e5f6 27.5px 28.7px,#dbd8f2 28.7px 29.8px,#b5afe4 29.8px 31.0px,#e8e6f7 31.0px 32.1px,#c0bbe8 32.1px 33.3px,#a29bdd 33.3px 34.4px,#5e53c1 34.4px 35.6px,#b2ace3 35.6px 36.7px,#958ed8 36.7px 37.9px,#c6c1eb 37.9px 39.0px,#c0bbe9 39.0px 40.2px,#a39ddd 40.2px 41.3px,#d8d5f1 41.3px 42.5px,#a8a2df 42.5px 43.6px,#dbd8f2 43.6px 44.8px,#aea8e2 44.8px 45.9px,#958dd8 45.9px 47.1px,#aca5e1 47.1px 48.2px,#e1dff4 48.2px 49.4px,#9a93da 49.4px 50.5px,#fbf2f0 50.5px 51.7px,#cfcaee 51.7px 52.8px)"></div><div style="left:599.2px;top:217.7px;width:3.13px;height:52.8px;background:linear-gradient(#dfdcf4 0.0px 1.1px,#675cc5 1.1px 2.3px,#aaa4e0 2.3px 3.4px,#afa9e2 3.4px 4.6px,#b1abe3 4.6px 5.7px,#6d63c7 5.7px 6.9px,#bdb7e7 6.9px 8.0px,#c5c0ea 8.0px 9.2px,#9d96db 9.2px 10.3px,#b4aee4 10.3px 11.5px,#928ad7 11.5px 12.6px,#c5c0ea 12.6px 13.8px,#948cd7 13.8px 14.9px,#958ed8 14.9px 16.1px,#a19bdd 16.1px 17.2px,#c7c2eb 17.2px 18.4px,#938cd7 18.4px 19.5px,#9a93da 19.5px 20.7px,#a59fde 20.7px 21.8px,#928bd7 21.8px 23.0px,#bfbae8 23.0px 24.1px,#d1cdee 24.1px 25.3px,#c4bfea 25.3px 26.4px,#918ad6 26.4px 27.5px,#e9e7f7 27.5px 28.7px,#948cd8 28.7px 29.8px,#6257c2 29.8px 31.0px,#dad7f2 31.0px 32.1px,#b3ade3 32.1px 33.3px,#8f88d6 33.3px 34.4px,#685dc5 34.4px 35.6px,#bab4e6 35.6px 36.7px,#8f87d6 36.7px 37.9px,#f7f6fc 37.9px 39.0px,#bbb5e6 39.0px 40.2px,#c0bbe8 40.2px 41.3px,#3d30b3 41.3px 42.5px,#4437b6 42.5px 43.6px,#685dc5 43.6px 44.8px,#1a0fa5 44.8px 45.9px,#1c11a6 45.9px 47.1px,#1a0fa5 47.1px 48.2px,#6f65c8 48.2px 49.4px,#5a4ebf 49.4px 50.5px,#b8b3e5 50.5px 51.7px,#3e32b3 51.7px 52.8px)"></div><div style="left:602.28px;top:217.7px;width:3.13px;height:52.8px;background:linear-gradient(#f0eefa 0.0px 1.1px,#a39cdd 1.1px 2.3px,#8e86d5 2.3px 3.4px,#6a60c6 3.4px 4.6px,#756ccb 4.6px 5.7px,#685dc5 5.7px 6.9px,#dbd8f2 6.9px 8.0px,#9891d9 8.0px 9.2px,#4c3fb9 9.2px 10.3px,#6357c3 10.3px 11.5px,#aaa3e0 11.5px 12.6px,#a49dde 12.6px 13.8px,#746aca 13.8px 14.9px,#4f42ba 14.9px 16.1px,#8b83d4 16.1px 17.2px,#aea7e1 17.2px 18.4px,#8e86d5 18.4px 19.5px,#837bd1 19.5px 20.7px,#9c95db 20.7px 21.8px,#756bcb 21.8px 23.0px,#aaa4e0 23.0px 24.1px,#bab5e6 24.1px 25.3px,#a39cdd 25.3px 26.4px,#9c95db 26.4px 27.5px,#c6c1eb 27.5px 28.7px,#b3ade3 28.7px 29.8px,#9a93da 29.8px 31.0px,#766ccb 31.0px 32.1px,#9189d6 32.1px 33.3px,#9b94da 33.3px 34.4px,#6e64c8 34.4px 35.6px,#7b72cd 35.6px 36.7px,#a39ddd 36.7px 37.9px,#b9b4e6 37.9px 39.0px,#8b83d4 39.0px 40.2px,#a9a2e0 40.2px 41.3px,#3327af 41.3px 42.5px,#2419a9 42.5px 43.6px,#6d62c7 43.6px 44.8px,#2c20ac 44.8px 45.9px,#1a0fa5 45.9px 47.1px,#7e75cf 47.1px 48.2px,#4b3eb8 48.2px 49.4px,#2e22ad 49.4px 50.5px,#867ed2 50.5px 51.7px,#3d30b3 51.7px 52.8px)"></div><div style="left:605.36px;top:217.7px;width:3.13px;height:52.8px;background:linear-gradient(#9890d9 0.0px 1.1px,#8178d0 1.1px 2.3px,#c1bce9 2.3px 3.4px,#786fcc 3.4px 4.6px,#827ad0 4.6px 5.7px,#6055c2 5.7px 6.9px,#9c95db 6.9px 8.0px,#bdb8e7 8.0px 9.2px,#867ed2 9.2px 10.3px,#685ec5 10.3px 11.5px,#7a71cd 11.5px 12.6px,#a099dc 12.6px 13.8px,#b1ace3 13.8px 14.9px,#4c3fb9 14.9px 16.1px,#8e87d5 16.1px 17.2px,#c5c0ea 17.2px 18.4px,#a8a1df 18.4px 19.5px,#9891d9 19.5px 20.7px,#958ed8 20.7px 21.8px,#9189d6 21.8px 23.0px,#beb9e8 23.0px 24.1px,#b1abe3 24.1px 25.3px,#9d96db 25.3px 26.4px,#4639b6 26.4px 27.5px,#d0ccee 27.5px 28.7px,#a69fde 28.7px 29.8px,#9088d6 29.8px 31.0px,#c3beea 31.0px 32.1px,#aea8e2 32.1px 33.3px,#665cc4 33.3px 34.4px,#4b3eb8 34.4px 35.6px,#857dd2 35.6px 36.7px,#9992da 36.7px 37.9px,#dad7f2 37.9px 39.0px,#a7a1df 39.0px 40.2px,#b6b0e5 40.2px 41.3px,#3a2db2 41.3px 42.5px,#3125ae 42.5px 43.6px,#6358c3 43.6px 44.8px,#392db1 44.8px 45.9px,#1a0fa5 45.9px 47.1px,#372bb1 47.1px 48.2px,#382cb1 48.2px 49.4px,#2318a9 49.4px 50.5px,#8c84d5 50.5px 51.7px,#6256c2 51.7px 52.8px)"></div><div style="left:608.44px;top:217.7px;width:3.13px;height:52.8px;background:linear-gradient(#a49dde 0.0px 1.1px,#4b3eb9 1.1px 2.3px,#aaa4e0 2.3px 3.4px,#8a82d4 3.4px 4.6px,#5e53c1 4.6px 5.7px,#362ab0 5.7px 6.9px,#857dd2 6.9px 8.0px,#655ac4 8.0px 9.2px,#746aca 9.2px 10.3px,#aaa4e0 10.3px 11.5px,#6257c2 11.5px 12.6px,#8e87d5 12.6px 13.8px,#b8b2e5 13.8px 14.9px,#8a82d4 14.9px 16.1px,#776dcc 16.1px 17.2px,#bcb7e7 17.2px 18.4px,#7b72cd 18.4px 19.5px,#877fd3 19.5px 20.7px,#a7a1df 20.7px 21.8px,#837bd1 21.8px 23.0px,#9a93da 23.0px 24.1px,#b1abe3 24.1px 25.3px,#e1dff4 25.3px 26.4px,#786fcc 26.4px 27.5px,#b5afe4 27.5px 28.7px,#b4aee4 28.7px 29.8px,#3c2fb2 29.8px 31.0px,#b1abe3 31.0px 32.1px,#6358c3 32.1px 33.3px,#a6a0df 33.3px 34.4px,#594dbf 34.4px 35.6px,#8e86d5 35.6px 36.7px,#8077d0 36.7px 37.9px,#cac6ec 37.9px 39.0px,#aaa3e0 39.0px 40.2px,#b1abe3 40.2px 41.3px,#2b1fac 41.3px 42.5px,#291eab 42.5px 43.6px,#4d41b9 43.6px 44.8px,#2115a8 44.8px 45.9px,#291eab 45.9px 47.1px,#4437b6 47.1px 48.2px,#3327af 48.2px 49.4px,#1e13a7 49.4px 50.5px,#756bcb 50.5px 51.7px,#5448bc 51.7px 52.8px)"></div><div style="left:611.52px;top:217.7px;width:3.13px;height:52.8px;background:linear-gradient(#a69fde 0.0px 1.1px,#aea8e2 1.1px 2.3px,#a59ede 2.3px 3.4px,#b7b1e5 3.4px 5.7px,#4a3db8 5.7px 6.9px,#c2bce9 6.9px 8.0px,#c3beea 8.0px 9.2px,#b3aee4 9.2px 10.3px,#746aca 10.3px 11.5px,#aea8e2 11.5px 12.6px,#c6c2eb 12.6px 13.8px,#b3ade4 13.8px 14.9px,#b7b1e5 14.9px 16.1px,#867ed2 16.1px 17.2px,#a6a0df 17.2px 18.4px,#c3beea 18.4px 19.5px,#928bd7 19.5px 20.7px,#c9c4ec 20.7px 21.8px,#b5b0e4 21.8px 23.0px,#d1cdef 23.0px 24.1px,#e0def4 24.1px 25.3px,#b5afe4 25.3px 26.4px,#756ccb 26.4px 27.5px,#f4f3fb 27.5px 28.7px,#8f88d6 28.7px 29.8px,#7f76cf 29.8px 31.0px,#cdc9ed 31.0px 32.1px,#8e86d5 32.1px 33.3px,#827ad1 33.3px 34.4px,#756bcb 34.4px 35.6px,#d6d2f0 35.6px 36.7px,#b6b0e4 36.7px 37.9px,#fefeff 37.9px 39.0px,#e9e7f7 39.0px 40.2px,#dedbf3 40.2px 41.3px,#6257c2 41.3px 42.5px,#2a1eab 42.5px 43.6px,#5549bd 43.6px 44.8px,#5d52c0 44.8px 45.9px,#4a3db8 45.9px 47.1px,#2c20ac 47.1px 48.2px,#847cd1 48.2px 49.4px,#493cb8 49.4px 50.5px,#b2ace3 50.5px 51.7px,#7a71cd 51.7px 52.8px)"></div><div style="left:617px;top:217.7px;width:3.34px;height:52.8px;background:linear-gradient(#cc7566 0.0px 1.1px,#ebbeb5 1.1px 2.3px,#fcf5f4 2.3px 3.4px,#ce796b 3.4px 4.6px,#da9285 4.6px 5.7px,#eec8c1 5.7px 6.9px,#dedbf3 6.9px 8.0px,#eec8c1 8.0px 9.2px,#fbf3f1 9.2px 10.3px,#e6b2a8 10.3px 11.5px,#f6f5fc 11.5px 12.6px,#f8f8fd 12.6px 13.8px,#f8e6e3 13.8px 14.9px,#e3aa9f 14.9px 16.1px,#edc4bc 16.1px 17.2px,#f2d5cf 17.2px 18.4px,#e7b6ac 18.4px 19.5px,#f5ddd8 19.5px 20.7px,#efcbc4 20.7px 21.8px,#fdfcfe 21.8px 23.0px,#f3d6d1 23.0px 24.1px,#e7b4aa 24.1px 25.3px,#e2a99e 25.3px 26.4px,#f4f3fb 26.4px 27.5px,#f0cfc9 27.5px 28.7px,#f9ebe8 28.7px 29.8px,#fefdfd 29.8px 31.0px,#fdf7f6 31.0px 32.1px,#f9f9fd 32.1px 33.3px,#f0effa 33.3px 34.4px,#da9386 34.4px 35.6px,#f6e1dc 35.6px 36.7px,#fdfdfe 36.7px 37.9px,#e8b8ae 37.9px 39.0px,#fbf1ef 39.0px 40.2px,#efcac2 40.2px 41.3px,#f3f2fb 41.3px 42.5px,#ecc1b8 42.5px 43.6px,#f9ecea 43.6px 44.8px,#faefed 44.8px 45.9px,#f8e7e4 45.9px 47.1px,#faf9fd 47.1px 48.2px,#f9ece9 48.2px 49.4px,#d9d5f1 49.4px 50.5px,#eec9c2 50.5px 51.7px,#ecc1b9 51.7px 52.8px)"></div><div style="left:620.29px;top:217.7px;width:3.34px;height:52.8px;background:linear-gradient(#ecc2b9 0.0px 1.1px,#eabbb2 1.1px 2.3px,#fbf3f2 2.3px 3.4px,#de9e92 3.4px 4.6px,#dd9b8e 4.6px 5.7px,#faf9fd 5.7px 6.9px,#b3ade3 6.9px 8.0px,#e8b8ae 8.0px 9.2px,#fbf1ef 9.2px 10.3px,#f0cec7 10.3px 11.5px,#e9e7f7 11.5px 12.6px,#f6f5fc 12.6px 13.8px,#fffefe 13.8px 14.9px,#e1a59a 14.9px 16.1px,#f9ecea 16.1px 17.2px,#f0ccc6 17.2px 18.4px,#fdf7f6 18.4px 19.5px,#f0cec7 19.5px 20.7px,#f3d9d4 20.7px 21.8px,#fefdfc 21.8px 23.0px,#fdfcfe 23.0px 24.1px,#f3d8d3 24.1px 25.3px,#faedeb 25.3px 26.4px,#d0ccee 26.4px 27.5px,#d1ceef 27.5px 28.7px,#aea8e2 28.7px 29.8px,#f3f2fb 29.8px 31.0px,#fdf7f6 31.0px 32.1px,#d9d6f1 32.1px 33.3px,#f7f6fc 33.3px 34.4px,#f4dad5 34.4px 35.6px,#fcf6f5 35.6px 36.7px,#f8e9e6 36.7px 37.9px,#f9ece9 37.9px 39.0px,#eae8f8 39.0px 40.2px,#f1f0fa 40.2px 41.3px,#fefbfb 41.3px 42.5px,#fdfaf9 42.5px 43.6px,#d3cfef 43.6px 44.8px,#faefec 44.8px 45.9px,#b3ade4 45.9px 47.1px,#f2d4ce 47.1px 48.2px,#f6e2de 48.2px 49.4px,#c9c4ec 49.4px 50.5px,#e6b1a7 50.5px 51.7px,#f4dbd7 51.7px 52.8px)"></div><div style="left:623.57px;top:217.7px;width:3.34px;height:52.8px;background:linear-gradient(#f2d3cd 0.0px 1.1px,#faedeb 1.1px 2.3px,#c1bbe9 2.3px 3.4px,#f5ddd9 3.4px 4.6px,#f7e5e2 4.6px 5.7px,#dedbf3 5.7px 6.9px,#b0aae2 6.9px 8.0px,#faefed 8.0px 9.2px,#fcfbfe 9.2px 10.3px,#beb9e8 10.3px 11.5px,#b4aee4 11.5px 12.6px,#a9a2e0 12.6px 13.8px,#a69fde 13.8px 14.9px,#fcf5f3 14.9px 16.1px,#d4d1f0 16.1px 17.2px,#c2bce9 17.2px 18.4px,#d0ccee 18.4px 19.5px,#e6e3f6 19.5px 20.7px,#c8c3eb 20.7px 21.8px,#bbb5e6 21.8px 23.0px,#d5d1f0 23.0px 24.1px,#cfcbee 24.1px 25.3px,#efeef9 25.3px 26.4px,#786ecc 26.4px 27.5px,#cec9ed 27.5px 28.7px,#aca6e1 28.7px 29.8px,#dbd8f2 29.8px 31.0px,#cfcbee 31.0px 32.1px,#b9b3e6 32.1px 33.3px,#bcb7e7 33.3px 34.4px,#d2ceef 34.4px 35.6px,#fdf7f6 35.6px 36.7px,#b7b2e5 36.7px 37.9px,#d9d6f1 37.9px 39.0px,#d3cfef 39.0px 40.2px,#b9b3e6 40.2px 41.3px,#d5d1f0 41.3px 42.5px,#a9a3e0 42.5px 43.6px,#f0eef9 43.6px 44.8px,#aaa4e0 44.8px 45.9px,#d8d4f1 45.9px 47.1px,#ecebf8 47.1px 48.2px,#eae8f7 48.2px 49.4px,#bdb7e7 49.4px 50.5px,#fefaf9 50.5px 51.7px,#b0aae2 51.7px 52.8px)"></div><div style="left:626.86px;top:217.7px;width:3.34px;height:52.8px;background:linear-gradient(#f8f8fd 0.0px 1.1px,#dfdcf3 1.1px 2.3px,#9c95db 2.3px 3.4px,#faefed 3.4px 4.6px,#fcf5f4 4.6px 5.7px,#d1ceef 5.7px 6.9px,#7e75cf 6.9px 8.0px,#fcfcfe 8.0px 9.2px,#cac5ec 9.2px 10.3px,#e9e7f7 10.3px 11.5px,#877ed2 11.5px 12.6px,#beb9e8 12.6px 13.8px,#f8e8e5 13.8px 14.9px,#fafafd 14.9px 16.1px,#dfddf4 16.1px 17.2px,#b0aae2 17.2px 18.4px,#fbfbfe 18.4px 19.5px,#fcf4f2 19.5px 20.7px,#f7f7fc 20.7px 21.8px,#b3ade3 21.8px 23.0px,#dad7f2 23.0px 24.1px,#b5afe4 24.1px 25.3px,#ebe9f8 25.3px 26.4px,#9890d9 26.4px 27.5px,#c4bfea 27.5px 28.7px,#a59fde 28.7px 29.8px,#cac6ec 29.8px 31.0px,#f8f8fd 31.0px 32.1px,#b3ade3 32.1px 33.3px,#a9a2df 33.3px 34.4px,#f5f4fb 34.4px 35.6px,#fdfaf9 35.6px 36.7px,#c4bfea 36.7px 37.9px,#fefdfe 37.9px 39.0px,#bdb7e7 39.0px 40.2px,#9a93da 40.2px 41.3px,#968fd8 41.3px 42.5px,#d2ceef 42.5px 43.6px,#ada7e1 43.6px 44.8px,#a59fde 44.8px 45.9px,#7a71cd 45.9px 47.1px,#d0ccee 47.1px 48.2px,#c8c4ec 48.2px 49.4px,#948cd7 49.4px 50.5px,#e9e8f7 50.5px 51.7px,#c4bfea 51.7px 52.8px)"></div><div style="left:630.14px;top:217.7px;width:3.34px;height:52.8px;background:linear-gradient(#f8e9e6 0.0px 1.1px,#f4f3fb 1.1px 2.3px,#a099dc 2.3px 3.4px,#fbf1ef 3.4px 4.6px,#f2d3cd 4.6px 5.7px,#d1cdef 5.7px 6.9px,#aaa4e0 6.9px 8.0px,#ecebf8 8.0px 9.2px,#cbc7ed 9.2px 10.3px,#d7d4f1 10.3px 11.5px,#9088d6 11.5px 12.6px,#ccc8ed 12.6px 13.8px,#d7d4f1 13.8px 14.9px,#fcf4f3 14.9px 16.1px,#d7d3f1 16.1px 17.2px,#a6a0df 17.2px 18.4px,#dddaf3 18.4px 19.5px,#e3e1f5 19.5px 20.7px,#fcf4f2 20.7px 21.8px,#b0aae2 21.8px 23.0px,#d4d0f0 23.0px 24.1px,#fdf9f8 24.1px 25.3px,#d4d0f0 25.3px 26.4px,#8b83d4 26.4px 27.5px,#b7b2e5 27.5px 28.7px,#a7a0df 28.7px 29.8px,#bfbae8 29.8px 31.0px,#8d85d5 31.0px 32.1px,#877ed2 32.1px 33.3px,#cac6ec 33.3px 34.4px,#c9c4ec 34.4px 35.6px,#fefdfd 35.6px 36.7px,#beb8e8 36.7px 37.9px,#bbb6e7 37.9px 39.0px,#d2ceef 39.0px 40.2px,#867ed2 40.2px 41.3px,#7167c9 41.3px 42.5px,#968fd8 42.5px 43.6px,#cbc7ed 43.6px 44.8px,#9189d6 44.8px 45.9px,#a9a3e0 45.9px 47.1px,#bbb6e7 47.1px 48.2px,#c9c5ec 48.2px 49.4px,#948dd8 49.4px 50.5px,#e4e2f5 50.5px 51.7px,#dbd8f2 51.7px 52.8px)"></div><div style="left:633.43px;top:217.7px;width:3.34px;height:52.8px;background:linear-gradient(#f4dad5 0.0px 1.1px,#dedbf3 1.1px 2.3px,#c7c2eb 2.3px 3.4px,#e5b1a6 3.4px 4.6px,#edc4bc 4.6px 5.7px,#bfb9e8 5.7px 6.9px,#a29bdd 6.9px 8.0px,#f8e7e4 8.0px 9.2px,#c0bbe9 9.2px 10.3px,#ffffff 10.3px 11.5px,#d3cfef 11.5px 12.6px,#c2bde9 12.6px 13.8px,#d7d4f1 13.8px 14.9px,#f9f8fd 14.9px 16.1px,#dddaf3 16.1px 17.2px,#f9f8fd 17.2px 18.4px,#e0def4 18.4px 19.5px,#fafafd 19.5px 20.7px,#f8f8fd 20.7px 21.8px,#c2bde9 21.8px 23.0px,#c5c1eb 23.0px 24.1px,#ffffff 24.1px 25.3px,#c8c4ec 25.3px 26.4px,#bcb7e7 26.4px 27.5px,#c0bbe9 27.5px 28.7px,#a9a2e0 28.7px 29.8px,#c2bde9 29.8px 31.0px,#b5afe4 31.0px 32.1px,#8981d3 32.1px 33.3px,#c3beea 33.3px 34.4px,#eceaf8 34.4px 35.6px,#fdf9f9 35.6px 36.7px,#c5c0ea 36.7px 37.9px,#f6f5fc 37.9px 39.0px,#d3d0ef 39.0px 40.2px,#d4d1f0 40.2px 41.3px,#b5afe4 41.3px 42.5px,#d1cdef 42.5px 43.6px,#e1def4 43.6px 44.8px,#9891d9 44.8px 45.9px,#8c84d5 45.9px 47.1px,#dad6f2 47.1px 48.2px,#e3e1f5 48.2px 49.4px,#b6b0e4 49.4px 50.5px,#fdf7f6 50.5px 51.7px,#b3ade3 51.7px 52.8px)"></div><div style="left:636.71px;top:217.7px;width:3.34px;height:52.8px;background:linear-gradient(#eeecf9 0.0px 1.1px,#f7f6fc 1.1px 2.3px,#aea8e2 2.3px 3.4px,#f2f1fa 3.4px 4.6px,#f2d5cf 4.6px 5.7px,#9c96db 5.7px 6.9px,#a69fde 6.9px 8.0px,#edecf9 8.0px 9.2px,#b1abe3 9.2px 10.3px,#c2bde9 10.3px 11.5px,#877fd2 11.5px 12.6px,#beb9e8 12.6px 13.8px,#9992da 13.8px 14.9px,#f1f0fa 14.9px 16.1px,#d8d4f1 16.1px 17.2px,#bfbae8 17.2px 18.4px,#e1dff4 18.4px 19.5px,#bdb8e7 19.5px 20.7px,#b9b3e6 20.7px 21.8px,#948cd8 21.8px 23.0px,#f4f3fb 23.0px 24.1px,#eeedf9 24.1px 25.3px,#ada7e1 25.3px 26.4px,#ccc7ed 26.4px 27.5px,#c9c5ec 27.5px 28.7px,#b8b2e5 28.7px 29.8px,#dedcf3 29.8px 31.0px,#e3e1f5 31.0px 32.1px,#6e63c8 32.1px 33.3px,#bcb6e7 33.3px 34.4px,#d1cdef 34.4px 35.6px,#f3d9d3 35.6px 36.7px,#d4d1f0 36.7px 37.9px,#d9d6f1 37.9px 39.0px,#c0bae8 39.0px 40.2px,#9189d6 40.2px 41.3px,#b4afe4 41.3px 42.5px,#b2ace3 42.5px 43.6px,#e9e7f7 43.6px 44.8px,#b5afe4 44.8px 45.9px,#a099dc 45.9px 47.1px,#bcb7e7 47.1px 48.2px,#ebe9f8 48.2px 49.4px,#9d97db 49.4px 50.5px,#f9eae8 50.5px 51.7px,#d0ccee 51.7px 52.8px)"></div><div style="left:510.3px;top:272.9px;width:3.23px;height:49.1px;background:linear-gradient(#cd7667 0.0px 1.1px,#cc7667 1.1px 2.3px,#c96f60 2.3px 3.4px,#da9285 3.4px 4.6px,#cc7566 4.6px 5.7px,#c26050 5.7px 6.9px,#efcac3 6.9px 8.0px,#cb7263 8.0px 9.1px,#d28374 9.1px 10.3px,#db9587 10.3px 11.4px,#d38475 11.4px 12.6px,#dfa195 12.6px 13.7px,#ecc1b9 13.7px 14.8px,#e8b6ad 14.8px 16.0px,#bf5a4a 16.0px 17.1px,#edc5bd 17.1px 18.3px,#bb5344 18.3px 19.4px,#dd9b8e 19.4px 20.6px,#d78d7f 20.6px 21.7px,#d17e70 21.7px 22.8px,#e2a79c 22.8px 24.0px,#e8b7ad 24.0px 25.1px,#e4aca2 25.1px 26.3px,#f2d4cf 26.3px 27.4px,#c96e5f 27.4px 28.5px,#e0a397 28.5px 29.7px,#c76b5c 29.7px 30.8px,#f7e5e1 30.8px 32.0px,#d48778 32.0px 33.1px,#bf5b4b 33.1px 34.3px,#d78d7f 34.3px 35.4px,#e1a599 35.4px 36.5px,#c6695a 36.5px 37.7px,#d98f82 37.7px 38.8px,#d17f70 38.8px 40.0px,#f4dad6 40.0px 41.1px,#c97061 41.1px 42.2px,#e1a59a 42.2px 43.4px,#a5281e 43.4px 44.5px,#e1a499 44.5px 45.7px,#d88e80 45.7px 46.8px,#ecc2ba 46.8px 48.0px,#c36253 48.0px 49.1px)"></div><div style="left:513.48px;top:272.9px;width:3.23px;height:49.1px;background:linear-gradient(#c96f60 0.0px 1.1px,#bf5a4a 1.1px 2.3px,#c46555 2.3px 3.4px,#d07e6f 3.4px 4.6px,#c76b5c 4.6px 5.7px,#d99083 5.7px 6.9px,#c46555 6.9px 8.0px,#d5887a 8.0px 9.1px,#d68a7c 9.1px 10.3px,#cf7c6d 10.3px 11.4px,#e6b2a8 11.4px 12.6px,#e1a599 12.6px 13.7px,#d38374 13.7px 14.8px,#d07d6e 14.8px 16.0px,#a72c21 16.0px 17.1px,#f2d3cd 17.1px 18.3px,#aa3227 18.3px 19.4px,#e9bbb2 19.4px 20.6px,#b74a3c 20.6px 21.7px,#c46454 21.7px 22.8px,#c86c5d 22.8px 24.0px,#d07d6e 24.0px 25.1px,#d88e80 25.1px 26.3px,#eabcb3 26.3px 27.4px,#b74b3d 27.4px 28.5px,#c66859 28.5px 29.7px,#c36252 29.7px 30.8px,#e2a79c 30.8px 32.0px,#cf7b6c 32.0px 33.1px,#bf5a4a 33.1px 34.3px,#c76c5c 34.3px 35.4px,#d88f81 35.4px 36.5px,#c46454 36.5px 37.7px,#c15d4e 37.7px 38.8px,#db978a 38.8px 40.0px,#f4dbd6 40.0px 41.1px,#da9285 41.1px 42.2px,#c46555 42.2px 43.4px,#b84d3f 43.4px 44.5px,#d78b7d 44.5px 45.7px,#dc978a 45.7px 48.0px,#de9e92 48.0px 49.1px)"></div><div style="left:516.66px;top:272.9px;width:3.23px;height:49.1px;background:linear-gradient(#c46556 0.0px 1.1px,#d88e80 1.1px 2.3px,#c56656 2.3px 3.4px,#dc998c 3.4px 4.6px,#e0a397 4.6px 5.7px,#dd9b8f 5.7px 6.9px,#db9689 6.9px 8.0px,#c76c5c 8.0px 9.1px,#efc9c2 9.1px 10.3px,#dc998c 10.3px 11.4px,#e6b1a7 11.4px 12.6px,#ebc0b7 12.6px 13.7px,#dc998c 13.7px 14.8px,#e1a499 14.8px 16.0px,#c26050 16.0px 17.1px,#eabcb3 17.1px 18.3px,#c86d5d 18.3px 19.4px,#dc998d 19.4px 20.6px,#e4ada3 20.6px 21.7px,#c96e5f 21.7px 22.8px,#c86c5d 22.8px 24.0px,#eec6be 24.0px 25.1px,#d6897b 25.1px 26.3px,#fbf3f1 26.3px 27.4px,#dc998c 27.4px 28.5px,#bd5647 28.5px 29.7px,#d28173 29.7px 30.8px,#e1a499 30.8px 32.0px,#d88e80 32.0px 33.1px,#c86c5c 33.1px 34.3px,#d07e6f 34.3px 35.4px,#e2a89d 35.4px 36.5px,#dc988c 36.5px 37.7px,#e2a99e 37.7px 38.8px,#c6695a 38.8px 40.0px,#fcf4f2 40.0px 41.1px,#c66858 41.1px 42.2px,#d78b7d 42.2px 43.4px,#b44638 43.4px 44.5px,#f1d2cb 44.5px 45.7px,#ecc1b9 45.7px 46.8px,#e7b5ac 46.8px 48.0px,#da9385 48.0px 49.1px)"></div><div style="left:519.84px;top:272.9px;width:3.23px;height:49.1px;background:linear-gradient(#e2a89d 0.0px 1.1px,#f3d8d3 1.1px 2.3px,#da9486 2.3px 3.4px,#f0cec7 3.4px 4.6px,#e4aca1 4.6px 5.7px,#dfa195 5.7px 6.9px,#fffefe 6.9px 8.0px,#ecc2ba 8.0px 9.1px,#e2a89d 9.1px 10.3px,#edc3bb 10.3px 11.4px,#faedeb 11.4px 12.6px,#f8e8e5 12.6px 13.7px,#f2d3cd 13.7px 14.8px,#f2d6d0 14.8px 16.0px,#b44638 16.0px 17.1px,#ffffff 17.1px 18.3px,#be5848 18.3px 19.4px,#f4dad5 19.4px 20.6px,#e2a89d 20.6px 21.7px,#c56757 21.7px 22.8px,#eabcb3 22.8px 24.0px,#e6b2a8 24.0px 25.1px,#ecebf8 25.1px 26.3px,#f9edea 26.3px 27.4px,#e6b2a8 27.4px 28.5px,#da9284 28.5px 29.7px,#e3aa9f 29.7px 30.8px,#f8e7e3 30.8px 32.0px,#edc3bb 32.0px 33.1px,#cb7364 33.1px 34.3px,#e0a498 34.3px 35.4px,#e8b8af 35.4px 36.5px,#dc978a 36.5px 37.7px,#de9e92 37.7px 38.8px,#e0a397 38.8px 40.0px,#d7d4f1 40.0px 41.1px,#e2a99e 41.1px 42.2px,#f5ddd8 42.2px 43.4px,#b03d30 43.4px 44.5px,#f6e1dc 44.5px 45.7px,#e2a89d 45.7px 46.8px,#f4d9d4 46.8px 48.0px,#e2a99e 48.0px 49.1px)"></div><div style="left:523.02px;top:272.9px;width:3.23px;height:49.1px;background:linear-gradient(#c86e5e 0.0px 1.1px,#d48678 1.1px 2.3px,#ca7162 2.3px 3.4px,#e8b8ae 3.4px 4.6px,#d99183 4.6px 5.7px,#db9588 5.7px 6.9px,#f1d2cc 6.9px 8.0px,#ecc3ba 8.0px 9.1px,#e9b9af 9.1px 10.3px,#e3a99e 10.3px 11.4px,#e1a69a 11.4px 12.6px,#d68a7b 12.6px 13.7px,#d68b7d 13.7px 14.8px,#f1d0c9 14.8px 16.0px,#c56656 16.0px 17.1px,#f0cfc9 17.1px 18.3px,#d38576 18.3px 19.4px,#da9284 19.4px 20.6px,#d78c7e 20.6px 21.7px,#d48576 21.7px 22.8px,#ce796a 22.8px 24.0px,#d99082 24.0px 25.1px,#e8b8af 25.1px 26.3px,#edc5bd 26.3px 27.4px,#e0a296 27.4px 28.5px,#cc7566 28.5px 29.7px,#e9b9b0 29.7px 30.8px,#e2a89c 30.8px 32.0px,#de9e92 32.0px 33.1px,#ce796a 33.1px 34.3px,#d99183 34.3px 35.4px,#e1a69b 35.4px 36.5px,#e9bbb2 36.5px 37.7px,#d07d6f 37.7px 38.8px,#db9588 38.8px 40.0px,#edc4bc 40.0px 41.1px,#da9386 41.1px 42.2px,#d48678 42.2px 43.4px,#ba5041 43.4px 44.5px,#e9b9b0 44.5px 45.7px,#f4d9d4 45.7px 46.8px,#ecc1b9 46.8px 48.0px,#de9d91 48.0px 49.1px)"></div><div style="left:528px;top:272.9px;width:3.21px;height:49.1px;background:linear-gradient(#efcac3 0.0px 1.1px,#cd7869 1.1px 2.3px,#bc5344 2.3px 3.4px,#e1a69b 3.4px 4.6px,#b54739 4.6px 5.7px,#c86c5d 5.7px 6.9px,#b34336 6.9px 8.0px,#a5281e 8.0px 9.1px,#a6291f 9.1px 10.3px,#c46454 10.3px 11.4px,#cd7769 11.4px 12.6px,#a5281e 12.6px 13.7px,#cb7364 13.7px 14.8px,#a72b21 14.8px 16.0px,#c96e5f 16.0px 17.1px,#e1a69a 17.1px 18.3px,#ad382c 18.3px 19.4px,#d07d6e 19.4px 20.6px,#b94f40 20.6px 21.7px,#bb5243 21.7px 22.8px,#e8b8af 22.8px 24.0px,#be5748 24.0px 25.1px,#d48577 25.1px 26.3px,#b24134 26.3px 27.4px,#af3c2f 27.4px 28.5px,#e2a89d 28.5px 29.7px,#ca7162 29.7px 30.8px,#b34436 30.8px 32.0px,#ba5042 32.0px 33.1px,#b74b3d 33.1px 34.3px,#cd7869 34.3px 35.4px,#db9689 35.4px 36.5px,#d88f81 36.5px 37.7px,#bb5344 37.7px 38.8px,#d99082 38.8px 40.0px,#d18072 40.0px 41.1px,#ca7162 41.1px 42.2px,#b84d3f 42.2px 43.4px,#a72c22 43.4px 44.5px,#b74b3d 44.5px 45.7px,#bf5b4b 45.7px 46.8px,#e1a59a 46.8px 48.0px,#e3aa9f 48.0px 49.1px)"></div><div style="left:531.16px;top:272.9px;width:3.21px;height:49.1px;background:linear-gradient(#e9bbb2 0.0px 1.1px,#c46454 1.1px 2.3px,#a5281e 2.3px 3.4px,#efcbc4 3.4px 4.6px,#ba5041 4.6px 5.7px,#c76b5c 5.7px 6.9px,#bf5949 6.9px 8.0px,#a5281e 8.0px 9.1px,#a92f24 9.1px 10.3px,#c86d5e 10.3px 11.4px,#c15e4e 11.4px 12.6px,#aa3126 12.6px 13.7px,#e9b9af 13.7px 14.8px,#a6291f 14.8px 16.0px,#a5281e 16.0px 17.1px,#c96f60 17.1px 18.3px,#aa3226 18.3px 19.4px,#e2a89d 19.4px 20.6px,#c66959 20.6px 21.7px,#ad372c 21.7px 22.8px,#d58779 22.8px 24.0px,#b84c3e 24.0px 25.1px,#c26151 25.1px 26.3px,#c36252 26.3px 27.4px,#ab3429 27.4px 28.5px,#ca7162 28.5px 29.7px,#b24134 29.7px 30.8px,#b5483a 30.8px 32.0px,#b54739 32.0px 33.1px,#b03e31 33.1px 34.3px,#c56757 34.3px 35.4px,#da9285 35.4px 36.5px,#c36353 36.5px 37.7px,#c76a5b 37.7px 38.8px,#c46455 38.8px 40.0px,#d18071 40.0px 41.1px,#c96e5f 41.1px 42.2px,#c97060 42.2px 43.4px,#b24134 43.4px 44.5px,#c56657 44.5px 45.7px,#c26151 45.7px 46.8px,#d58778 46.8px 48.0px,#ca7162 48.0px 49.1px)"></div><div style="left:534.32px;top:272.9px;width:3.21px;height:49.1px;background:linear-gradient(#db9689 0.0px 1.1px,#d58879 1.1px 2.3px,#b6493b 2.3px 3.4px,#e3aa9f 3.4px 4.6px,#d48677 4.6px 5.7px,#c15d4d 5.7px 6.9px,#d17f70 6.9px 8.0px,#aa3126 8.0px 9.1px,#ad372b 9.1px 10.3px,#be5848 10.3px 11.4px,#dfa094 11.4px 12.6px,#bd5647 12.6px 13.7px,#ebbeb5 13.7px 14.8px,#b24235 14.8px 16.0px,#b94e3f 16.0px 17.1px,#e1a59a 17.1px 18.3px,#be5949 18.3px 19.4px,#cf7c6e 19.4px 20.6px,#d38476 20.6px 21.7px,#c76b5b 21.7px 22.8px,#e7b6ac 22.8px 24.0px,#d38475 24.0px 25.1px,#dc988c 25.1px 26.3px,#c26051 26.3px 27.4px,#c26050 27.4px 28.5px,#de9d90 28.5px 29.7px,#c66858 29.7px 30.8px,#b03e31 30.8px 32.0px,#c66959 32.0px 33.1px,#bc5445 33.1px 34.3px,#db9588 34.3px 35.4px,#c56758 35.4px 36.5px,#d38475 36.5px 37.7px,#c76a5b 37.7px 38.8px,#bb5343 38.8px 40.0px,#cd7768 40.0px 41.1px,#de9e92 41.1px 42.2px,#c86d5e 42.2px 43.4px,#a72d22 43.4px 44.5px,#d78b7d 44.5px 45.7px,#b6493b 45.7px 46.8px,#dfa195 46.8px 48.0px,#c15f4f 48.0px 49.1px)"></div><div style="left:537.48px;top:272.9px;width:3.21px;height:49.1px;background:linear-gradient(#e2a79c 0.0px 1.1px,#de9e92 1.1px 2.3px,#c46454 2.3px 3.4px,#d17f70 3.4px 4.6px,#c96f60 4.6px 6.9px,#c76b5c 6.9px 8.0px,#b14033 8.0px 9.1px,#ad372b 9.1px 10.3px,#bf5949 10.3px 11.4px,#d5887a 11.4px 12.6px,#b44437 12.6px 13.7px,#cd7869 13.7px 14.8px,#a92f25 14.8px 16.0px,#aa3126 16.0px 17.1px,#bc5445 17.1px 18.3px,#c46454 18.3px 19.4px,#ce796a 19.4px 20.6px,#b6483b 20.6px 21.7px,#ca7262 21.7px 22.8px,#d99183 22.8px 24.0px,#dd9b8e 24.0px 25.1px,#e6b1a7 25.1px 26.3px,#d38576 26.3px 27.4px,#c46555 27.4px 28.5px,#e3a99e 28.5px 29.7px,#c76b5c 29.7px 30.8px,#b6483a 30.8px 32.0px,#cc7566 32.0px 33.1px,#bf5a4a 33.1px 34.3px,#de9e92 34.3px 35.4px,#de9f93 35.4px 36.5px,#d17f71 36.5px 37.7px,#ca7061 37.7px 38.8px,#bb5243 38.8px 40.0px,#d6897b 40.0px 41.1px,#e2a99e 41.1px 42.2px,#b84c3e 42.2px 43.4px,#bf5a4a 43.4px 44.5px,#d18071 44.5px 45.7px,#ce7a6b 45.7px 46.8px,#e1a69b 46.8px 48.0px,#d98f82 48.0px 49.1px)"></div><div style="left:540.64px;top:272.9px;width:3.21px;height:49.1px;background:linear-gradient(#ecc2ba 0.0px 1.1px,#dc978a 1.1px 2.3px,#c15e4e 2.3px 3.4px,#e6b2a8 3.4px 4.6px,#c36353 4.6px 5.7px,#bb5243 5.7px 6.9px,#dc988c 6.9px 8.0px,#b84d3e 8.0px 9.1px,#ab3428 9.1px 10.3px,#d78b7d 10.3px 11.4px,#da9386 11.4px 12.6px,#b03d30 12.6px 13.7px,#d5887a 13.7px 14.8px,#b84c3e 14.8px 16.0px,#bc5445 16.0px 17.1px,#d68a7b 17.1px 18.3px,#c56657 18.3px 19.4px,#dfa195 19.4px 20.6px,#cf7b6c 20.6px 21.7px,#d38374 21.7px 22.8px,#efcbc3 22.8px 24.0px,#d78b7d 24.0px 25.1px,#e7b4aa 25.1px 26.3px,#d78c7d 26.3px 27.4px,#cd7667 27.4px 28.5px,#e8b8af 28.5px 29.7px,#d28374 29.7px 30.8px,#da9285 30.8px 32.0px,#cb7364 32.0px 33.1px,#c26050 33.1px 34.3px,#ca7162 34.3px 35.4px,#eec7bf 35.4px 36.5px,#e6b2a8 36.5px 37.7px,#d68b7c 37.7px 38.8px,#d99082 38.8px 40.0px,#dfa094 40.0px 41.1px,#e2a89d 41.1px 42.2px,#d38375 42.2px 43.4px,#b34336 43.4px 44.5px,#d99082 44.5px 45.7px,#de9d90 45.7px 46.8px,#d99284 46.8px 48.0px,#c36354 48.0px 49.1px)"></div><div style="left:543.79px;top:272.9px;width:3.21px;height:49.1px;background:linear-gradient(#db9689 0.0px 1.1px,#db9487 1.1px 2.3px,#b44437 2.3px 3.4px,#f1d1cb 3.4px 4.6px,#d48678 4.6px 5.7px,#d17f71 5.7px 6.9px,#c26050 6.9px 8.0px,#b84c3d 8.0px 9.1px,#c26050 9.1px 10.3px,#de9c90 10.3px 11.4px,#db9688 11.4px 12.6px,#c96f60 12.6px 13.7px,#e9bab1 13.7px 14.8px,#d38375 14.8px 16.0px,#ce7a6b 16.0px 17.1px,#e2a89d 17.1px 18.3px,#d88f81 18.3px 19.4px,#efcac3 19.4px 20.6px,#ca7162 20.6px 21.7px,#c86d5d 21.7px 22.8px,#f4dcd7 22.8px 24.0px,#dd9a8d 24.0px 25.1px,#d68b7d 25.1px 26.3px,#d5887a 26.3px 27.4px,#c26151 27.4px 28.5px,#dd9b8e 28.5px 29.7px,#d6897b 29.7px 30.8px,#ca7061 30.8px 32.0px,#ce7a6b 32.0px 33.1px,#cf7b6c 33.1px 34.3px,#e1a499 34.3px 35.4px,#e2a89d 35.4px 36.5px,#faf0ee 36.5px 37.7px,#d5887a 37.7px 38.8px,#c26050 38.8px 40.0px,#db9587 40.0px 41.1px,#c26050 41.1px 42.2px,#ce7a6b 42.2px 43.4px,#b74a3c 43.4px 44.5px,#e1a59a 44.5px 45.7px,#da9386 45.7px 46.8px,#eec8c1 46.8px 48.0px,#dc978a 48.0px 49.1px)"></div><div style="left:546.95px;top:272.9px;width:3.21px;height:49.1px;background:linear-gradient(#e3aa9f 0.0px 1.1px,#efc9c2 1.1px 2.3px,#c05d4d 2.3px 3.4px,#edc4bc 3.4px 4.6px,#cd7667 4.6px 5.7px,#e4aea3 5.7px 6.9px,#d38375 6.9px 8.0px,#ba5142 8.0px 9.1px,#d28273 9.1px 10.3px,#dfa195 10.3px 11.4px,#ca7263 11.4px 12.6px,#ca7162 12.6px 13.7px,#f0cfc9 13.7px 14.8px,#dd9b8f 14.8px 16.0px,#d17f70 16.0px 17.1px,#cf7c6d 17.1px 18.3px,#d28172 18.3px 19.4px,#f0cec8 19.4px 20.6px,#dc978a 20.6px 21.7px,#d28172 21.7px 22.8px,#f1d0ca 22.8px 24.0px,#e0a498 24.0px 25.1px,#e2a79b 25.1px 26.3px,#de9d91 26.3px 27.4px,#d38475 27.4px 28.5px,#f2d3cd 28.5px 29.7px,#de9d91 29.7px 30.8px,#ce796b 30.8px 32.0px,#e9b8af 32.0px 33.1px,#cd7768 33.1px 34.3px,#c86c5d 34.3px 35.4px,#e9b9b0 35.4px 36.5px,#e4ada2 36.5px 37.7px,#d78b7d 37.7px 38.8px,#c86d5e 38.8px 40.0px,#f4dcd7 40.0px 41.1px,#dd9c90 41.1px 42.2px,#d5897a 42.2px 43.4px,#b03d30 43.4px 44.5px,#e1a69b 44.5px 45.7px,#c15f4f 45.7px 46.8px,#f3d7d1 46.8px 48.0px,#e1a499 48.0px 49.1px)"></div><div style="left:550.11px;top:272.9px;width:3.21px;height:49.1px;background:linear-gradient(#f7e4e0 0.0px 1.1px,#e7b5ab 1.1px 2.3px,#da9487 2.3px 3.4px,#fbf2f0 3.4px 4.6px,#c97060 4.6px 5.7px,#e2a79c 5.7px 6.9px,#bf5a4a 6.9px 8.0px,#b13f32 8.0px 9.1px,#c56757 9.1px 10.3px,#d99183 10.3px 11.4px,#e2a89d 11.4px 12.6px,#d07d6e 12.6px 13.7px,#ebc0b7 13.7px 14.8px,#cd7668 14.8px 16.0px,#e2a99d 16.0px 17.1px,#e1a69a 17.1px 18.3px,#d58779 18.3px 19.4px,#edc3bb 19.4px 20.6px,#dd9c8f 20.6px 21.7px,#da9486 21.7px 22.8px,#fdf8f7 22.8px 24.0px,#d17f70 24.0px 25.1px,#dc998c 25.1px 26.3px,#df9f93 26.3px 27.4px,#ca7061 27.4px 28.5px,#f7e5e2 28.5px 29.7px,#ce786a 29.7px 30.8px,#e0a297 30.8px 32.0px,#dc998c 32.0px 33.1px,#ca7162 33.1px 34.3px,#ecc2b9 34.3px 35.4px,#e5aea4 35.4px 36.5px,#dc998d 36.5px 37.7px,#dfa195 37.7px 38.8px,#da9386 38.8px 40.0px,#e2a99e 40.0px 41.1px,#e5aea4 41.1px 42.2px,#e0a398 42.2px 43.4px,#cf7c6d 43.4px 44.5px,#e6b2a8 44.5px 45.7px,#db978a 45.7px 46.8px,#e9bab1 46.8px 48.0px,#f5dfda 48.0px 49.1px)"></div><div style="left:553.27px;top:272.9px;width:3.21px;height:49.1px;background:linear-gradient(#efc9c2 0.0px 1.1px,#e0a296 1.1px 2.3px,#bd5546 2.3px 3.4px,#f1f0fa 3.4px 4.6px,#e2a89d 4.6px 5.7px,#d48678 5.7px 6.9px,#da9486 6.9px 8.0px,#b74b3c 8.0px 9.1px,#c96f60 9.1px 10.3px,#dfa195 10.3px 11.4px,#e6b1a7 11.4px 12.6px,#ba5041 12.6px 13.7px,#eabdb4 13.7px 14.8px,#cc7465 14.8px 16.0px,#cd7869 16.0px 17.1px,#d88d7f 17.1px 18.3px,#d48678 18.3px 19.4px,#ebbeb6 19.4px 20.6px,#da9285 20.6px 21.7px,#d99184 21.7px 22.8px,#f6f6fc 22.8px 24.0px,#d28274 24.0px 25.1px,#de9e92 25.1px 26.3px,#ce7869 26.3px 27.4px,#d38476 27.4px 28.5px,#f8e8e5 28.5px 29.7px,#d78c7e 29.7px 30.8px,#de9d90 30.8px 32.0px,#edc6be 32.0px 33.1px,#d38375 33.1px 34.3px,#eec8c1 34.3px 35.4px,#e4aea3 35.4px 36.5px,#eabcb4 36.5px 37.7px,#d28173 37.7px 38.8px,#d5887a 38.8px 40.0px,#e8b7ad 40.0px 41.1px,#dc998c 41.1px 42.2px,#de9d91 42.2px 43.4px,#b13f32 43.4px 44.5px,#f3d6d1 44.5px 45.7px,#d48678 45.7px 46.8px,#e6b1a7 46.8px 48.0px,#ecc1b9 48.0px 49.1px)"></div><div style="left:556.43px;top:272.9px;width:3.21px;height:49.1px;background:linear-gradient(#f1d0ca 0.0px 1.1px,#f0cec7 1.1px 2.3px,#d78c7e 2.3px 3.4px,#f9ece9 3.4px 4.6px,#eabcb3 4.6px 5.7px,#f2d4ce 5.7px 6.9px,#e1a69b 6.9px 8.0px,#d18072 8.0px 9.1px,#d88e80 9.1px 10.3px,#dfa094 10.3px 11.4px,#f5ddd8 11.4px 12.6px,#c15e4e 12.6px 13.7px,#ebbeb5 13.7px 14.8px,#d28274 14.8px 16.0px,#da9385 16.0px 17.1px,#e6b3a9 17.1px 18.3px,#e0a296 18.3px 19.4px,#f7e4e1 19.4px 20.6px,#eabdb5 20.6px 21.7px,#db9587 21.7px 22.8px,#f0effa 22.8px 24.0px,#e6b1a7 24.0px 25.1px,#f1d1cb 25.1px 26.3px,#e9bab1 26.3px 27.4px,#d58779 27.4px 28.5px,#fcf6f4 28.5px 29.7px,#d68b7d 29.7px 30.8px,#d6897b 30.8px 32.0px,#e1a59a 32.0px 33.1px,#d07e6f 33.1px 34.3px,#e2a79c 34.3px 35.4px,#edc3bb 35.4px 36.5px,#eabdb5 36.5px 37.7px,#e4ada3 37.7px 38.8px,#e5afa5 38.8px 40.0px,#f3d8d3 40.0px 41.1px,#eabdb5 41.1px 42.2px,#d99082 42.2px 43.4px,#b84d3e 43.4px 44.5px,#e5afa5 44.5px 45.7px,#d78c7e 45.7px 46.8px,#f4dbd6 46.8px 48.0px,#de9c90 48.0px 49.1px)"></div><div style="left:559.59px;top:272.9px;width:3.21px;height:49.1px;background:linear-gradient(#f4dcd7 0.0px 1.1px,#ecc0b8 1.1px 2.3px,#da9385 2.3px 3.4px,#fffefe 3.4px 4.6px,#e6b2a8 4.6px 5.7px,#e4aca1 5.7px 6.9px,#d18072 6.9px 8.0px,#cd7667 8.0px 9.1px,#da9486 9.1px 10.3px,#f2d3cd 10.3px 11.4px,#eec9c1 11.4px 12.6px,#dc988b 12.6px 13.7px,#fdfaf9 13.7px 14.8px,#d68a7c 14.8px 16.0px,#d5887a 16.0px 17.1px,#e6b2a8 17.1px 18.3px,#d99082 18.3px 19.4px,#fcf4f2 19.4px 20.6px,#eec9c1 20.6px 21.7px,#ebbeb5 21.7px 22.8px,#e2dff5 22.8px 24.0px,#eabcb3 24.0px 25.1px,#f8e7e3 25.1px 26.3px,#de9e92 26.3px 27.4px,#e6b1a7 27.4px 28.5px,#e4aca1 28.5px 29.7px,#f5ddd8 29.7px 30.8px,#d99284 30.8px 32.0px,#f2d5d0 32.0px 33.1px,#e2a79c 33.1px 34.3px,#f9ebe9 34.3px 35.4px,#edc5bd 35.4px 36.5px,#eabcb3 36.5px 37.7px,#e7b4aa 37.7px 38.8px,#ecc1b8 38.8px 40.0px,#fbf4f2 40.0px 41.1px,#f6e0dc 41.1px 42.2px,#e9bbb2 42.2px 43.4px,#dc978b 43.4px 44.5px,#ecc1b9 44.5px 45.7px,#dc998c 45.7px 46.8px,#fbf3f2 46.8px 48.0px,#fcfcfe 48.0px 49.1px)"></div><div style="left:562.75px;top:272.9px;width:3.21px;height:49.1px;background:linear-gradient(#fcf5f3 0.0px 1.1px,#e7b5ab 1.1px 2.3px,#e5afa5 2.3px 3.4px,#fcfbfe 3.4px 4.6px,#f1d0c9 4.6px 5.7px,#f4dbd6 5.7px 6.9px,#e5afa4 6.9px 8.0px,#e4ada2 8.0px 9.1px,#dc978a 9.1px 10.3px,#fcf5f4 10.3px 11.4px,#f9edea 11.4px 12.6px,#d38475 12.6px 13.7px,#fefeff 13.7px 14.8px,#e3a99e 14.8px 16.0px,#d98f81 16.0px 17.1px,#f5dfdb 17.1px 18.3px,#f1d2cb 18.3px 19.4px,#fbf3f1 19.4px 20.6px,#eec7bf 20.6px 21.7px,#e6b2a8 21.7px 22.8px,#eae8f7 22.8px 24.0px,#de9d91 24.0px 25.1px,#f1d0ca 25.1px 26.3px,#eabdb4 26.3px 27.4px,#ca7061 27.4px 28.5px,#e9e7f7 28.5px 29.7px,#e6b1a7 29.7px 30.8px,#ecc2ba 30.8px 32.0px,#d68a7c 32.0px 33.1px,#dfa195 33.1px 34.3px,#edc5bd 34.3px 35.4px,#eec8c1 35.4px 36.5px,#e6b1a7 36.5px 37.7px,#ecc2ba 37.7px 38.8px,#e2a89d 38.8px 40.0px,#eceaf8 40.0px 41.1px,#efc9c2 41.1px 42.2px,#dc988c 42.2px 43.4px,#d18071 43.4px 44.5px,#ebc0b8 44.5px 45.7px,#f8e7e3 45.7px 46.8px,#f9ecea 46.8px 48.0px,#f7e4e0 48.0px 49.1px)"></div><div style="left:565.91px;top:272.9px;width:3.21px;height:49.1px;background:linear-gradient(#f8e9e6 0.0px 1.1px,#f5deda 1.1px 2.3px,#e3aa9f 2.3px 3.4px,#efeef9 3.4px 4.6px,#efcac2 4.6px 5.7px,#fdfdfe 5.7px 6.9px,#f9ebe8 6.9px 8.0px,#f2d5cf 8.0px 9.1px,#da9385 9.1px 10.3px,#f4dad5 10.3px 11.4px,#e7e5f7 11.4px 12.6px,#dfa195 12.6px 13.7px,#dddaf3 13.7px 14.8px,#ecc1b9 14.8px 16.0px,#de9f92 16.0px 17.1px,#dedcf3 17.1px 18.3px,#fefdfd 18.3px 19.4px,#efeef9 19.4px 20.6px,#faefed 20.6px 21.7px,#eabcb3 21.7px 22.8px,#c2bce9 22.8px 24.0px,#f0cec8 24.0px 25.1px,#f3d7d1 25.1px 26.3px,#ffffff 26.3px 27.4px,#f8e8e5 27.4px 28.5px,#dbd7f2 28.5px 29.7px,#f5deda 29.7px 30.8px,#faeeec 30.8px 32.0px,#f3d8d2 32.0px 33.1px,#f4dcd7 33.1px 34.3px,#f6e0dc 34.3px 35.4px,#f8e9e6 35.4px 36.5px,#f8e7e3 36.5px 37.7px,#f1d2cc 37.7px 38.8px,#f4dbd6 38.8px 40.0px,#cac6ec 40.0px 41.1px,#fdfdfe 41.1px 43.4px,#db9688 43.4px 44.5px,#efeef9 44.5px 45.7px,#fbf2f0 45.7px 46.8px,#e1def4 46.8px 48.0px,#eec8c0 48.0px 49.1px)"></div><div style="left:569.06px;top:272.9px;width:3.21px;height:49.1px;background:linear-gradient(#c7c2eb 0.0px 1.1px,#f0cec7 1.1px 2.3px,#ecc0b8 2.3px 3.4px,#fefafa 3.4px 4.6px,#f8e8e5 4.6px 5.7px,#fdf9f8 5.7px 6.9px,#f6e3df 6.9px 8.0px,#e9bbb2 8.0px 9.1px,#efcbc3 9.1px 10.3px,#f0cfc9 10.3px 11.4px,#f0effa 11.4px 12.6px,#e0a397 12.6px 13.7px,#eae9f8 13.7px 14.8px,#e5afa5 14.8px 16.0px,#e0a397 16.0px 17.1px,#f5ddd9 17.1px 18.3px,#fefcfc 18.3px 19.4px,#fcf7f6 19.4px 20.6px,#cbc7ed 20.6px 21.7px,#edc4bc 21.7px 22.8px,#dddaf3 22.8px 24.0px,#fcfcfe 24.0px 25.1px,#faeeeb 25.1px 26.3px,#e7e4f6 26.3px 27.4px,#e8b8af 27.4px 28.5px,#d6d3f1 28.5px 29.7px,#f9ecea 29.7px 30.8px,#f6e3df 30.8px 32.0px,#fdf8f7 32.0px 33.1px,#ecc2ba 33.1px 34.3px,#f4f3fb 34.3px 35.4px,#fbfbfe 35.4px 36.5px,#fcfcfe 36.5px 37.7px,#f9edea 37.7px 38.8px,#f9f8fd 38.8px 40.0px,#f6f6fc 40.0px 41.1px,#fbf2f0 41.1px 42.2px,#fffefe 42.2px 43.4px,#e2a99e 43.4px 44.5px,#f5deda 44.5px 45.7px,#f6e3df 45.7px 46.8px,#fdf9f8 46.8px 48.0px,#bdb7e7 48.0px 49.1px)"></div><div style="left:572.22px;top:272.9px;width:3.21px;height:49.1px;background:linear-gradient(#f9f9fd 0.0px 1.1px,#e8e6f7 1.1px 2.3px,#eec8c0 2.3px 3.4px,#9f98dc 3.4px 4.6px,#e6b2a9 4.6px 5.7px,#fdfdfe 5.7px 6.9px,#f5ddd9 6.9px 8.0px,#f4ddd8 8.0px 9.1px,#efccc5 9.1px 10.3px,#f6e2de 10.3px 11.4px,#edecf9 11.4px 12.6px,#f2d5cf 12.6px 13.7px,#f5f4fb 13.7px 14.8px,#fdf7f6 14.8px 16.0px,#f1d1cb 16.0px 17.1px,#f6f5fc 17.1px 18.3px,#fdf9f8 18.3px 19.4px,#eae9f8 19.4px 20.6px,#fefaf9 20.6px 21.7px,#fcf4f2 21.7px 22.8px,#c3beea 22.8px 24.0px,#fcf5f3 24.0px 25.1px,#f2f1fa 25.1px 26.3px,#f2d4ce 26.3px 27.4px,#f2d6d0 27.4px 28.5px,#d7d3f1 28.5px 29.7px,#ffffff 29.7px 30.8px,#eec6bf 30.8px 32.0px,#f5ddd9 32.0px 33.1px,#f1d3cd 33.1px 34.3px,#f1f0fa 34.3px 35.4px,#dcd9f3 35.4px 36.5px,#f1f0fa 36.5px 37.7px,#f8e8e5 37.7px 38.8px,#e9e7f7 38.8px 40.0px,#c4bfea 40.0px 41.1px,#e8e7f7 41.1px 42.2px,#eabcb4 42.2px 43.4px,#ecc1b9 43.4px 44.5px,#d0ccee 44.5px 45.7px,#f1d3cd 45.7px 46.8px,#ebeaf8 46.8px 48.0px,#faf9fd 48.0px 49.1px)"></div><div style="left:575.38px;top:272.9px;width:3.21px;height:49.1px;background:linear-gradient(#b7b1e5 0.0px 1.1px,#e5e3f6 1.1px 2.3px,#e4aca2 2.3px 3.4px,#c1bce9 3.4px 4.6px,#d99284 4.6px 5.7px,#c7c3eb 5.7px 6.9px,#d6d2f0 6.9px 8.0px,#f2d5cf 8.0px 9.1px,#faeeeb 9.1px 10.3px,#eeedf9 10.3px 11.4px,#f0effa 11.4px 12.6px,#e7b4aa 12.6px 13.7px,#9992d9 13.7px 14.8px,#f2d4cf 14.8px 16.0px,#f1d0c9 16.0px 17.1px,#efedf9 17.1px 18.3px,#f6e0dc 18.3px 19.4px,#e5e3f6 19.4px 20.6px,#d7d4f1 20.6px 21.7px,#fffefe 21.7px 22.8px,#a7a1df 22.8px 24.0px,#dbd8f2 24.0px 25.1px,#cdc8ed 25.1px 26.3px,#f9ecea 26.3px 27.4px,#f7e4e1 27.4px 28.5px,#c4bfea 28.5px 29.7px,#ecc2b9 29.7px 30.8px,#f9ecea 30.8px 32.0px,#faf0ed 32.0px 33.1px,#f6f5fc 33.1px 34.3px,#f6f6fc 34.3px 35.4px,#d4d0f0 35.4px 36.5px,#d8d5f1 36.5px 37.7px,#f2f1fa 37.7px 38.8px,#d4d0f0 38.8px 40.0px,#d8d5f1 40.0px 41.1px,#bab4e6 41.1px 42.2px,#f8e9e6 42.2px 43.4px,#fbf0ee 43.4px 44.5px,#fefcfb 44.5px 45.7px,#fefcfc 45.7px 46.8px,#e0def4 46.8px 48.0px,#b9b4e6 48.0px 49.1px)"></div><div style="left:578.54px;top:272.9px;width:3.21px;height:49.1px;background:linear-gradient(#cac6ec 0.0px 1.1px,#f2f1fa 1.1px 2.3px,#f7e3df 2.3px 3.4px,#9891d9 3.4px 4.6px,#e6e3f6 4.6px 5.7px,#9992da 5.7px 6.9px,#fefcfc 6.9px 8.0px,#fbf3f1 8.0px 9.1px,#fdfaf9 9.1px 10.3px,#fffefe 10.3px 11.4px,#9189d6 11.4px 12.6px,#fbf1ef 12.6px 13.7px,#c6c1eb 13.7px 14.8px,#f9ebe8 14.8px 16.0px,#fcf4f2 16.0px 17.1px,#cbc7ed 17.1px 18.3px,#f7f7fc 18.3px 19.4px,#9790d9 19.4px 20.6px,#d5d1f0 20.6px 21.7px,#fcf6f5 21.7px 22.8px,#7f77cf 22.8px 24.0px,#edebf8 24.0px 25.1px,#c0bbe8 25.1px 26.3px,#cfcbee 26.3px 27.4px,#d5d1f0 27.4px 28.5px,#a39ddd 28.5px 29.7px,#dfdcf4 29.7px 32.0px,#eceaf8 32.0px 33.1px,#fbf3f2 33.1px 34.3px,#dedcf3 34.3px 35.4px,#dfdcf4 35.4px 36.5px,#b6b0e5 36.5px 37.7px,#f8e7e4 37.7px 38.8px,#f4f3fb 38.8px 40.0px,#d3d0ef 40.0px 41.1px,#afa9e2 41.1px 42.2px,#f9ece9 42.2px 43.4px,#e4ada2 43.4px 44.5px,#e6e4f6 44.5px 45.7px,#fbf1ef 45.7px 46.8px,#aaa4e0 46.8px 48.0px,#d1cdef 48.0px 49.1px)"></div><div style="left:583.8px;top:272.9px;width:3.13px;height:49.1px;background:linear-gradient(#bfbae8 0.0px 1.1px,#aea8e1 1.1px 2.3px,#6a60c6 2.3px 3.4px,#e7e5f7 3.4px 4.6px,#6f65c8 4.6px 5.7px,#7066c8 5.7px 6.9px,#867ed2 6.9px 8.0px,#9189d6 8.0px 9.1px,#4236b5 9.1px 10.3px,#938bd7 10.3px 11.4px,#c9c5ec 11.4px 12.6px,#483bb7 12.6px 13.7px,#9d97db 13.7px 14.8px,#7168c9 14.8px 16.0px,#695fc6 16.0px 17.1px,#867ed2 17.1px 18.3px,#b0aae2 18.3px 19.4px,#d0ccee 19.4px 20.6px,#9992d9 20.6px 21.7px,#6358c3 21.7px 22.8px,#fdf9f9 22.8px 24.0px,#a9a3e0 24.0px 25.1px,#c8c4eb 25.1px 26.3px,#b7b1e5 26.3px 27.4px,#584cbe 27.4px 28.5px,#a9a2e0 28.5px 29.7px,#a099dc 29.7px 30.8px,#8e86d5 30.8px 32.0px,#8d85d5 32.0px 33.1px,#6b61c6 33.1px 34.3px,#c8c4ec 34.3px 35.4px,#ada7e1 35.4px 36.5px,#bfbae8 36.5px 37.7px,#6a5fc6 37.7px 38.8px,#928ad7 38.8px 40.0px,#c7c2eb 40.0px 42.2px,#584cbe 42.2px 43.4px,#5b50c0 43.4px 44.5px,#928ad7 44.5px 45.7px,#8c84d4 45.7px 46.8px,#bfbae8 46.8px 48.0px,#bbb5e6 48.0px 49.1px)"></div><div style="left:586.88px;top:272.9px;width:3.13px;height:49.1px;background:linear-gradient(#ccc8ed 0.0px 1.1px,#9a93da 1.1px 2.3px,#5b4fbf 2.3px 3.4px,#eeedf9 3.4px 4.6px,#a29cdd 4.6px 5.7px,#8880d3 5.7px 6.9px,#685dc5 6.9px 8.0px,#746aca 8.0px 9.1px,#6a5fc6 9.1px 10.3px,#b5afe4 10.3px 11.4px,#938cd7 11.4px 12.6px,#4639b6 12.6px 13.7px,#bab5e6 13.7px 14.8px,#5c50c0 14.8px 16.0px,#3d31b3 16.0px 17.1px,#a9a3e0 17.1px 18.3px,#574bbe 18.3px 19.4px,#6b61c6 19.4px 20.6px,#8f87d6 20.6px 21.7px,#6156c2 21.7px 22.8px,#e2e0f5 22.8px 24.0px,#6358c3 24.0px 25.1px,#867ed2 25.1px 26.3px,#4c3fb9 26.3px 27.4px,#493cb7 27.4px 28.5px,#b2ace3 28.5px 29.7px,#b8b2e5 29.7px 30.8px,#8b83d4 30.8px 32.0px,#746aca 32.0px 33.1px,#938bd7 33.1px 34.3px,#aba5e0 34.3px 35.4px,#6b61c7 35.4px 36.5px,#7167c9 36.5px 37.7px,#564abd 37.7px 38.8px,#786ecc 38.8px 40.0px,#b4aee4 40.0px 41.1px,#938bd7 41.1px 42.2px,#6c62c7 42.2px 43.4px,#4134b4 43.4px 44.5px,#9e97db 44.5px 45.7px,#9790d9 45.7px 46.8px,#9e97db 46.8px 48.0px,#c7c2eb 48.0px 49.1px)"></div><div style="left:589.96px;top:272.9px;width:3.13px;height:49.1px;background:linear-gradient(#b4afe4 0.0px 1.1px,#9f98dc 1.1px 2.3px,#9c95db 2.3px 3.4px,#faf9fd 3.4px 4.6px,#928ad7 4.6px 5.7px,#655bc4 5.7px 6.9px,#928bd7 6.9px 8.0px,#4e41ba 8.0px 9.1px,#5f53c1 9.1px 10.3px,#aba5e1 10.3px 11.4px,#a29cdd 11.4px 12.6px,#938bd7 12.6px 13.7px,#d3cfef 13.7px 14.8px,#766ccb 14.8px 16.0px,#6c62c7 16.0px 17.1px,#a9a2e0 17.1px 18.3px,#b6b0e5 18.3px 19.4px,#cdc9ed 19.4px 20.6px,#8880d3 20.6px 21.7px,#7d74ce 21.7px 22.8px,#fbf2f0 22.8px 24.0px,#a49dde 24.0px 25.1px,#a69fde 25.1px 26.3px,#938bd7 26.3px 27.4px,#8078d0 27.4px 28.5px,#dbd8f2 28.5px 29.7px,#7970cd 29.7px 30.8px,#8f87d6 30.8px 32.0px,#756ccb 32.0px 33.1px,#6d63c7 33.1px 34.3px,#b1abe3 34.3px 35.4px,#d3cfef 35.4px 36.5px,#b0aae2 36.5px 37.7px,#bdb8e7 37.7px 38.8px,#a49dde 38.8px 40.0px,#e7e5f6 40.0px 41.1px,#b2ace3 41.1px 42.2px,#5e52c1 42.2px 43.4px,#3529b0 43.4px 44.5px,#a19add 44.5px 45.7px,#c4bfea 45.7px 46.8px,#c8c4ec 46.8px 48.0px,#aca6e1 48.0px 49.1px)"></div><div style="left:593.04px;top:272.9px;width:3.13px;height:49.1px;background:linear-gradient(#d1cdef 0.0px 1.1px,#938cd7 1.1px 2.3px,#5c51c0 2.3px 3.4px,#e6e4f6 3.4px 4.6px,#928ad7 4.6px 5.7px,#8077cf 5.7px 6.9px,#7167c9 6.9px 8.0px,#7970cd 8.0px 9.1px,#4538b6 9.1px 10.3px,#6d63c7 10.3px 11.4px,#a29cdd 11.4px 12.6px,#5549bd 12.6px 13.7px,#d0ccee 13.7px 14.8px,#928ad7 14.8px 16.0px,#8e86d5 16.0px 17.1px,#9c95db 17.1px 18.3px,#8c84d5 18.3px 19.4px,#d7d4f1 19.4px 20.6px,#968fd8 20.6px 21.7px,#8c85d5 21.7px 22.8px,#c9c4ec 22.8px 24.0px,#968fd8 24.0px 25.1px,#b1abe3 25.1px 26.3px,#665bc4 26.3px 27.4px,#7a71cd 27.4px 28.5px,#fcfcfe 28.5px 29.7px,#938bd7 29.7px 30.8px,#6d63c7 30.8px 32.0px,#b0aae2 32.0px 33.1px,#8279d0 33.1px 34.3px,#b3ade3 34.3px 35.4px,#cecaee 35.4px 36.5px,#c1bbe9 36.5px 37.7px,#bfbae8 37.7px 38.8px,#7b72cd 38.8px 40.0px,#b1abe3 40.0px 41.1px,#aaa4e0 41.1px 42.2px,#8a82d4 42.2px 43.4px,#4336b5 43.4px 44.5px,#aba4e0 44.5px 45.7px,#665bc4 45.7px 46.8px,#b4afe4 46.8px 48.0px,#a9a3e0 48.0px 49.1px)"></div><div style="left:596.12px;top:272.9px;width:3.13px;height:49.1px;background:linear-gradient(#beb9e8 0.0px 1.1px,#9c95db 1.1px 2.3px,#493cb7 2.3px 3.4px,#e1def4 3.4px 4.6px,#867ed2 4.6px 5.7px,#847bd1 5.7px 6.9px,#7e75cf 6.9px 8.0px,#3b2eb2 8.0px 9.1px,#827ad1 9.1px 10.3px,#a099dc 10.3px 11.4px,#a59ede 11.4px 12.6px,#7369ca 12.6px 13.7px,#a8a2df 13.7px 14.8px,#5044bb 14.8px 16.0px,#584cbe 16.0px 17.1px,#9f98dc 17.1px 18.3px,#766dcb 18.3px 19.4px,#9c95db 19.4px 20.6px,#675dc5 20.6px 21.7px,#6055c2 21.7px 22.8px,#f4f3fb 22.8px 24.0px,#8f87d6 24.0px 25.1px,#857cd1 25.1px 26.3px,#b4afe4 26.3px 27.4px,#5d52c0 27.4px 28.5px,#ada7e1 28.5px 29.7px,#7b72cd 29.7px 30.8px,#7a71cd 30.8px 32.0px,#7b72cd 32.0px 33.1px,#6e63c8 33.1px 34.3px,#b9b3e6 34.3px 35.4px,#b5afe4 35.4px 36.5px,#8d86d5 36.5px 37.7px,#7a71cd 37.7px 38.8px,#7369ca 38.8px 40.0px,#a7a1df 40.0px 41.1px,#a09adc 41.1px 42.2px,#7269ca 42.2px 43.4px,#675dc5 43.4px 44.5px,#8179d0 44.5px 45.7px,#8c85d5 45.7px 46.8px,#cdc9ed 46.8px 48.0px,#9e98dc 48.0px 49.1px)"></div><div style="left:599.2px;top:272.9px;width:3.13px;height:49.1px;background:linear-gradient(#8880d3 0.0px 1.1px,#7c73ce 1.1px 2.3px,#3226ae 2.3px 3.4px,#a9a2e0 3.4px 4.6px,#5b50c0 4.6px 5.7px,#261aaa 5.7px 6.9px,#685ec5 6.9px 8.0px,#2c20ac 8.0px 9.1px,#3d30b3 9.1px 10.3px,#3428af 10.3px 11.4px,#6b61c7 11.4px 12.6px,#382cb1 12.6px 13.7px,#a7a0df 13.7px 14.8px,#2e22ad 14.8px 16.0px,#3327af 16.0px 17.1px,#958ed8 17.1px 18.3px,#5f53c1 18.3px 19.4px,#aea8e2 19.4px 20.6px,#756ccb 20.6px 21.7px,#938cd7 21.7px 22.8px,#d7d3f1 22.8px 24.0px,#7e75cf 24.0px 25.1px,#d4d0f0 25.1px 26.3px,#7066c9 26.3px 27.4px,#5a4fbf 27.4px 28.5px,#b1abe3 28.5px 29.7px,#837bd1 29.7px 32.0px,#9a92da 32.0px 33.1px,#9992da 33.1px 34.3px,#bab5e6 34.3px 35.4px,#d4d1f0 35.4px 36.5px,#c4bfea 36.5px 37.7px,#978fd9 37.7px 38.8px,#8d85d5 38.8px 40.0px,#e0ddf4 40.0px 41.1px,#a49ede 41.1px 42.2px,#9f98dc 42.2px 43.4px,#6257c2 43.4px 44.5px,#948dd8 44.5px 45.7px,#9d96db 45.7px 46.8px,#d5d1f0 46.8px 48.0px,#b8b2e5 48.0px 49.1px)"></div><div style="left:602.28px;top:272.9px;width:3.13px;height:49.1px;background:linear-gradient(#a49ede 0.0px 1.1px,#655bc4 1.1px 2.3px,#2317a8 2.3px 3.4px,#aaa4e0 3.4px 4.6px,#7e76cf 4.6px 5.7px,#3e31b3 5.7px 6.9px,#251aa9 6.9px 8.0px,#1f14a7 8.0px 9.1px,#1a0fa5 9.1px 10.3px,#6e64c8 10.3px 11.4px,#7168c9 11.4px 12.6px,#1a0fa5 12.6px 13.7px,#8d86d5 13.7px 14.8px,#2014a7 14.8px 16.0px,#4033b4 16.0px 17.1px,#7b72ce 17.1px 18.3px,#6e64c8 18.3px 19.4px,#a099dc 19.4px 20.6px,#8f88d6 20.6px 21.7px,#9d97db 21.7px 22.8px,#e8e6f7 22.8px 24.0px,#6055c1 24.0px 25.1px,#cdc9ed 25.1px 26.3px,#6b61c7 26.3px 27.4px,#5a4fbf 27.4px 28.5px,#9189d6 28.5px 29.7px,#6a5fc6 29.7px 30.8px,#4235b5 30.8px 32.0px,#6459c3 32.0px 33.1px,#584cbe 33.1px 34.3px,#857dd2 34.3px 35.4px,#938cd7 35.4px 36.5px,#b4aee4 36.5px 37.7px,#766dcb 37.7px 38.8px,#938bd7 38.8px 40.0px,#cfcbee 40.0px 41.1px,#938cd7 41.1px 42.2px,#a29bdd 42.2px 43.4px,#564abd 43.4px 44.5px,#9891d9 44.5px 45.7px,#8c84d4 45.7px 46.8px,#dddaf3 46.8px 48.0px,#877fd3 48.0px 49.1px)"></div><div style="left:605.36px;top:272.9px;width:3.13px;height:49.1px;background:linear-gradient(#968fd9 0.0px 1.1px,#4c3fb9 1.1px 2.3px,#2c21ac 2.3px 3.4px,#847cd1 3.4px 4.6px,#1a0fa5 4.6px 5.7px,#6a60c6 5.7px 6.9px,#564abd 6.9px 8.0px,#1a0fa5 8.0px 10.3px,#291eab 10.3px 11.4px,#6257c3 11.4px 12.6px,#4b3eb8 12.6px 13.7px,#8279d0 13.7px 14.8px,#1a0fa5 14.8px 16.0px,#3d31b3 16.0px 17.1px,#4236b5 17.1px 18.3px,#2419a9 18.3px 19.4px,#857dd2 19.4px 20.6px,#867ed2 20.6px 21.7px,#7970cd 21.7px 22.8px,#e5e2f6 22.8px 24.0px,#928bd7 24.0px 25.1px,#695ec5 25.1px 26.3px,#7e75cf 26.3px 27.4px,#8077cf 27.4px 28.5px,#d0ccee 28.5px 29.7px,#5a4fbf 29.7px 30.8px,#4134b4 30.8px 32.0px,#5d52c0 32.0px 33.1px,#6f65c8 33.1px 34.3px,#968ed8 34.3px 35.4px,#a9a3e0 35.4px 36.5px,#918ad7 36.5px 37.7px,#5346bc 37.7px 38.8px,#5f54c1 38.8px 40.0px,#a39ddd 40.0px 41.1px,#afa9e2 41.1px 42.2px,#9992d9 42.2px 43.4px,#382cb1 43.4px 44.5px,#9c95db 44.5px 45.7px,#776dcb 45.7px 46.8px,#928bd7 46.8px 48.0px,#7e75cf 48.0px 49.1px)"></div><div style="left:608.44px;top:272.9px;width:3.13px;height:49.1px;background:linear-gradient(#a7a1df 0.0px 1.1px,#4d40b9 1.1px 2.3px,#291dab 2.3px 3.4px,#aba4e0 3.4px 4.6px,#4c3fb9 4.6px 5.7px,#5d52c0 5.7px 6.9px,#3327af 6.9px 8.0px,#1a0fa5 8.0px 9.1px,#271caa 9.1px 10.3px,#4a3db8 10.3px 11.4px,#5043ba 11.4px 12.6px,#1a0fa5 12.6px 13.7px,#9c95db 13.7px 14.8px,#3d31b3 14.8px 16.0px,#4235b5 16.0px 17.1px,#5549bd 17.1px 18.3px,#2014a7 18.3px 19.4px,#7066c8 19.4px 20.6px,#bcb6e7 20.6px 21.7px,#7d74ce 21.7px 22.8px,#d9d6f1 22.8px 24.0px,#4c40b9 24.0px 25.1px,#8f88d6 25.1px 26.3px,#948cd7 26.3px 27.4px,#6a5fc6 27.4px 28.5px,#ada7e1 28.5px 29.7px,#9890d9 29.7px 30.8px,#827ad1 30.8px 32.0px,#8a82d4 32.0px 33.1px,#6055c2 33.1px 34.3px,#a6a0df 34.3px 35.4px,#afa9e2 35.4px 36.5px,#9e97db 36.5px 37.7px,#5347bc 37.7px 38.8px,#7970cc 38.8px 40.0px,#a29bdd 40.0px 41.1px,#a49ede 41.1px 42.2px,#938cd7 42.2px 43.4px,#4c3fb9 43.4px 44.5px,#857dd2 44.5px 45.7px,#8c84d5 45.7px 46.8px,#bdb7e7 46.8px 48.0px,#8981d3 48.0px 49.1px)"></div><div style="left:611.52px;top:272.9px;width:3.13px;height:49.1px;background:linear-gradient(#948cd7 0.0px 1.1px,#675dc5 1.1px 2.3px,#392db1 2.3px 3.4px,#8077cf 3.4px 4.6px,#2217a8 4.6px 5.7px,#3226af 5.7px 6.9px,#281caa 6.9px 8.0px,#3327af 8.0px 9.1px,#3e32b3 9.1px 10.3px,#2f23ad 10.3px 11.4px,#948dd8 11.4px 12.6px,#1a0fa5 12.6px 13.7px,#7970cd 13.7px 14.8px,#675cc5 14.8px 16.0px,#1a0fa5 16.0px 17.1px,#756ccb 17.1px 18.3px,#6459c3 18.3px 19.4px,#a19bdd 19.4px 20.6px,#a19add 20.6px 21.7px,#857dd2 21.7px 22.8px,#fefbfa 22.8px 24.0px,#8077d0 24.0px 25.1px,#aca6e1 25.1px 26.3px,#8e86d5 26.3px 27.4px,#6156c2 27.4px 28.5px,#b6b0e5 28.5px 29.7px,#a099dc 29.7px 30.8px,#a49dde 30.8px 32.0px,#958ed8 32.0px 33.1px,#6c61c7 33.1px 34.3px,#9890d9 34.3px 35.4px,#938cd7 35.4px 36.5px,#968ed8 36.5px 37.7px,#7369ca 37.7px 38.8px,#857dd2 38.8px 40.0px,#ada7e1 40.0px 41.1px,#bfbae8 41.1px 42.2px,#5549bd 42.2px 43.4px,#4c3fb9 43.4px 44.5px,#afa9e2 44.5px 45.7px,#776ecc 45.7px 46.8px,#afa9e2 46.8px 48.0px,#b5afe4 48.0px 49.1px)"></div><div style="left:617px;top:272.9px;width:3.34px;height:49.1px;background:linear-gradient(#e2a79c 0.0px 1.1px,#eabdb4 1.1px 2.3px,#e9b9af 2.3px 3.4px,#ca7162 3.4px 4.6px,#f0cfc8 4.6px 5.7px,#dc978a 5.7px 6.9px,#dd9b8e 6.9px 8.0px,#d5887a 8.0px 9.1px,#dd9a8e 9.1px 10.3px,#da9487 10.3px 11.4px,#c76b5c 11.4px 12.6px,#c15e4e 12.6px 13.7px,#cf7b6c 13.7px 14.8px,#d5887a 14.8px 16.0px,#f8e9e6 16.0px 17.1px,#c36252 17.1px 18.3px,#f3d8d3 18.3px 19.4px,#c56657 19.4px 20.6px,#d68a7b 20.6px 21.7px,#d58879 21.7px 22.8px,#cf7a6c 22.8px 24.0px,#d99082 24.0px 25.1px,#d28173 25.1px 26.3px,#be5849 26.3px 27.4px,#d5887a 27.4px 28.5px,#f1d2cc 28.5px 29.7px,#d78d7f 29.7px 30.8px,#d48577 30.8px 32.0px,#d99284 32.0px 33.1px,#e5afa5 33.1px 34.3px,#f3d8d2 34.3px 35.4px,#d99082 35.4px 36.5px,#d58779 36.5px 37.7px,#f0cfc8 37.7px 38.8px,#dd9a8d 38.8px 40.0px,#b44537 40.0px 41.1px,#e3aa9f 41.1px 42.2px,#d17f70 42.2px 43.4px,#f0cfc8 43.4px 44.5px,#cf7a6c 44.5px 45.7px,#bd5647 45.7px 46.8px,#bf5a4a 46.8px 48.0px,#dd9c8f 48.0px 49.1px)"></div><div style="left:620.29px;top:272.9px;width:3.34px;height:49.1px;background:linear-gradient(#e2a79b 0.0px 2.3px,#e2a99e 2.3px 3.4px,#d28273 3.4px 4.6px,#e3aba0 4.6px 5.7px,#ebbfb7 5.7px 6.9px,#cd7768 6.9px 8.0px,#d5897b 8.0px 9.1px,#da9285 9.1px 10.3px,#e6b1a7 10.3px 11.4px,#db9588 11.4px 12.6px,#ba5041 12.6px 13.7px,#db978a 13.7px 14.8px,#df9f93 14.8px 16.0px,#fefcfc 16.0px 17.1px,#c26051 17.1px 18.3px,#f5e0dc 18.3px 19.4px,#ebbeb6 19.4px 20.6px,#e1a59a 20.6px 21.7px,#d88f81 21.7px 22.8px,#dfa195 22.8px 24.0px,#e2a79c 24.0px 25.1px,#bb5344 25.1px 26.3px,#d18072 26.3px 27.4px,#e7b4aa 27.4px 28.5px,#e8b7ae 28.5px 29.7px,#cb7364 29.7px 30.8px,#d58779 30.8px 32.0px,#f3d6d1 32.0px 33.1px,#f4ddd8 33.1px 34.3px,#edc3bb 34.3px 35.4px,#d99183 35.4px 36.5px,#eabcb4 36.5px 37.7px,#e8b7ae 37.7px 38.8px,#f2d4ce 38.8px 40.0px,#cc7566 40.0px 41.1px,#e6b1a7 41.1px 42.2px,#d28274 42.2px 43.4px,#e7e5f7 43.4px 44.5px,#e7b5ab 44.5px 45.7px,#ca7061 45.7px 46.8px,#d48678 46.8px 48.0px,#e0a397 48.0px 49.1px)"></div><div style="left:623.57px;top:272.9px;width:3.34px;height:49.1px;background:linear-gradient(#aba4e0 0.0px 1.1px,#b4afe4 1.1px 2.3px,#938cd7 2.3px 3.4px,#d9d6f1 3.4px 4.6px,#dcdaf3 4.6px 5.7px,#9c95db 5.7px 6.9px,#dddaf3 6.9px 8.0px,#bdb8e7 8.0px 9.1px,#d8d5f1 9.1px 10.3px,#e7e5f7 10.3px 11.4px,#edebf9 11.4px 12.6px,#efedf9 12.6px 13.7px,#c1bce9 13.7px 14.8px,#e8e6f7 14.8px 16.0px,#8b83d4 16.0px 17.1px,#fdf8f7 17.1px 18.3px,#5347bc 18.3px 19.4px,#cfcbee 19.4px 20.6px,#7e75ce 20.6px 21.7px,#dbd8f2 21.7px 22.8px,#cac5ec 22.8px 24.0px,#eceaf8 24.0px 25.1px,#fcf4f2 25.1px 26.3px,#faeeec 26.3px 27.4px,#aba5e0 27.4px 28.5px,#9c95db 28.5px 29.7px,#d4d0f0 29.7px 30.8px,#a9a3e0 30.8px 32.0px,#e0ddf4 32.0px 33.1px,#b6b0e5 33.1px 34.3px,#c2bde9 34.3px 36.5px,#bfbae8 36.5px 37.7px,#857dd2 37.7px 38.8px,#9c95db 38.8px 40.0px,#faedeb 40.0px 41.1px,#a49ede 41.1px 42.2px,#eeecf9 42.2px 43.4px,#756bcb 43.4px 44.5px,#9f98dc 44.5px 45.7px,#fefdfd 45.7px 46.8px,#ebe9f8 46.8px 48.0px,#aea8e1 48.0px 49.1px)"></div><div style="left:626.86px;top:272.9px;width:3.34px;height:49.1px;background:linear-gradient(#938cd7 0.0px 1.1px,#dbd8f2 1.1px 2.3px,#928bd7 2.3px 3.4px,#d7d3f1 3.4px 4.6px,#7a71cd 4.6px 5.7px,#8e86d5 5.7px 6.9px,#f5f4fb 6.9px 8.0px,#b7b2e5 8.0px 9.1px,#c8c4ec 9.1px 10.3px,#aaa4e0 10.3px 11.4px,#bfb9e8 11.4px 12.6px,#9b94da 12.6px 13.7px,#e5e3f6 13.7px 14.8px,#aba5e0 14.8px 16.0px,#463ab7 16.0px 17.1px,#f4f3fb 17.1px 18.3px,#8e86d5 18.3px 19.4px,#cdc9ed 19.4px 20.6px,#d6d3f0 20.6px 21.7px,#a7a1df 21.7px 22.8px,#7066c9 22.8px 24.0px,#e2e0f5 24.0px 25.1px,#b3ade3 25.1px 26.3px,#f8e9e6 26.3px 27.4px,#aba4e0 27.4px 28.5px,#968fd8 28.5px 29.7px,#aaa3e0 29.7px 30.8px,#b8b3e5 30.8px 32.0px,#c2bde9 32.0px 33.1px,#b1abe3 33.1px 34.3px,#c4beea 34.3px 35.4px,#b1ace3 35.4px 36.5px,#bab4e6 36.5px 37.7px,#c1bce9 37.7px 38.8px,#bbb6e7 38.8px 40.0px,#f1f0fa 40.0px 41.1px,#e4e2f5 41.1px 42.2px,#a59fde 42.2px 43.4px,#493cb7 43.4px 44.5px,#d8d5f1 44.5px 45.7px,#e0ddf4 45.7px 46.8px,#c6c2eb 46.8px 48.0px,#8880d3 48.0px 49.1px)"></div><div style="left:630.14px;top:272.9px;width:3.34px;height:49.1px;background:linear-gradient(#7c73ce 0.0px 1.1px,#9b94da 1.1px 2.3px,#4f43ba 2.3px 3.4px,#e4e1f5 3.4px 4.6px,#aca6e1 4.6px 5.7px,#9992da 5.7px 6.9px,#dad7f2 6.9px 8.0px,#938cd7 8.0px 9.1px,#bcb7e7 9.1px 10.3px,#c0bbe9 10.3px 11.4px,#d1cdef 11.4px 12.6px,#fbfbfe 12.6px 13.7px,#e8e6f7 13.7px 14.8px,#d9d6f2 14.8px 16.0px,#6055c1 16.0px 17.1px,#cbc6ec 17.1px 18.3px,#675cc4 18.3px 19.4px,#b3aee4 19.4px 20.6px,#a6a0df 20.6px 21.7px,#938cd7 21.7px 22.8px,#aba5e0 22.8px 24.0px,#ccc8ed 24.0px 25.1px,#afa9e2 25.1px 26.3px,#cfcbee 26.3px 27.4px,#c8c3eb 27.4px 28.5px,#958ed8 28.5px 29.7px,#bab4e6 29.7px 30.8px,#b9b3e6 30.8px 32.0px,#b2ace3 32.0px 33.1px,#9f98dc 33.1px 34.3px,#9991d9 34.3px 35.4px,#c2bde9 35.4px 36.5px,#c3beea 36.5px 37.7px,#aca6e1 37.7px 38.8px,#c3beea 38.8px 40.0px,#ebe9f8 40.0px 41.1px,#766dcb 41.1px 42.2px,#928ad7 42.2px 43.4px,#6155c2 43.4px 44.5px,#bab4e6 44.5px 45.7px,#9c95db 45.7px 46.8px,#fafafd 46.8px 48.0px,#c4beea 48.0px 49.1px)"></div><div style="left:633.43px;top:272.9px;width:3.34px;height:49.1px;background:linear-gradient(#9790d9 0.0px 1.1px,#938cd7 1.1px 2.3px,#7970cc 2.3px 3.4px,#e2e0f5 3.4px 4.6px,#b1abe3 4.6px 5.7px,#a19adc 5.7px 6.9px,#fefdfc 6.9px 8.0px,#9e97db 8.0px 9.1px,#b4afe4 9.1px 10.3px,#b2ace3 10.3px 11.4px,#e6e4f6 11.4px 12.6px,#dedbf3 12.6px 13.7px,#e2dff5 13.7px 14.8px,#a8a2df 14.8px 16.0px,#9a93da 16.0px 17.1px,#bdb8e7 17.1px 18.3px,#7d75ce 18.3px 19.4px,#dfdcf4 19.4px 20.6px,#cfcbee 20.6px 21.7px,#aca5e1 21.7px 22.8px,#ada7e1 22.8px 24.0px,#b3ade3 24.0px 25.1px,#aba5e0 25.1px 26.3px,#e8e6f7 26.3px 27.4px,#aca6e1 27.4px 28.5px,#655bc4 28.5px 29.7px,#efeef9 29.7px 30.8px,#c3beea 30.8px 32.0px,#c1bbe9 32.0px 33.1px,#a8a1df 33.1px 34.3px,#a09adc 34.3px 35.4px,#b5afe4 35.4px 36.5px,#8f87d6 36.5px 37.7px,#928ad7 37.7px 38.8px,#9991d9 38.8px 40.0px,#faefed 40.0px 41.1px,#c3beea 41.1px 42.2px,#beb9e8 42.2px 43.4px,#877fd3 43.4px 44.5px,#dfdcf4 44.5px 45.7px,#e0ddf4 45.7px 46.8px,#847cd1 46.8px 48.0px,#a69fde 48.0px 49.1px)"></div><div style="left:636.71px;top:272.9px;width:3.34px;height:49.1px;background:linear-gradient(#b6b0e5 0.0px 1.1px,#877ed2 1.1px 2.3px,#938cd7 2.3px 3.4px,#c6c2eb 3.4px 4.6px,#a8a2df 4.6px 5.7px,#a59fde 5.7px 6.9px,#dfddf4 6.9px 8.0px,#bbb6e7 8.0px 9.1px,#e6e4f6 9.1px 10.3px,#c4beea 10.3px 11.4px,#dfddf4 11.4px 12.6px,#fcfcfe 12.6px 13.7px,#e1dff4 13.7px 14.8px,#e3e1f5 14.8px 16.0px,#a8a1df 16.0px 17.1px,#f5ded9 17.1px 18.3px,#b8b2e5 18.3px 19.4px,#d9d6f1 19.4px 20.6px,#cdc9ed 20.6px 21.7px,#bcb6e7 21.7px 22.8px,#cfcbee 22.8px 24.0px,#bdb8e7 24.0px 25.1px,#eeecf9 25.1px 26.3px,#f9ebe9 26.3px 27.4px,#f4f4fb 27.4px 28.5px,#938cd7 28.5px 29.7px,#cbc7ed 29.7px 30.8px,#c8c3eb 30.8px 32.0px,#b4afe4 32.0px 33.1px,#4e42ba 33.1px 34.3px,#e2e0f5 34.3px 35.4px,#9f98dc 35.4px 36.5px,#b8b3e6 36.5px 37.7px,#7f77cf 37.7px 38.8px,#aca6e1 38.8px 40.0px,#fefdfd 40.0px 41.1px,#8077d0 41.1px 42.2px,#a6a0df 42.2px 43.4px,#6257c2 43.4px 44.5px,#dbd7f2 44.5px 45.7px,#b0aae2 45.7px 46.8px,#eeedf9 46.8px 48.0px,#aba5e0 48.0px 49.1px)"></div><div style="left:510.3px;top:324.3px;width:3.23px;height:20.9px;background:linear-gradient(#a7a0df 0.0px 1.2px,#f7e3df 1.2px 2.3px,#877fd3 2.3px 3.5px,#d8d4f1 3.5px 4.6px,#f3d7d1 4.6px 5.8px,#9891d9 5.8px 7.0px,#b2ace3 7.0px 8.1px,#f2d4cf 8.1px 9.3px,#fbfbfe 9.3px 10.4px,#d5d1f0 10.4px 11.6px,#f9ece9 11.6px 12.8px,#e3e1f5 12.8px 13.9px,#fefafa 13.9px 15.1px,#cac5ec 15.1px 16.3px,#e4e2f5 16.3px 17.4px,#d8d4f1 17.4px 18.6px,#958ed8 18.6px 19.7px,#c8c3eb 19.7px 20.9px)"></div><div style="left:513.48px;top:324.3px;width:3.23px;height:20.9px;background:linear-gradient(#cac5ec 0.0px 1.2px,#f8e7e4 1.2px 2.3px,#a19add 2.3px 3.5px,#dfdcf4 3.5px 4.6px,#f5deda 4.6px 5.8px,#bab4e6 5.8px 7.0px,#d7d3f1 7.0px 8.1px,#fcf4f3 8.1px 9.3px,#958ed8 9.3px 10.4px,#c4bfea 10.4px 11.6px,#fbf3f2 11.6px 12.8px,#d8d4f1 12.8px 13.9px,#f8e8e5 13.9px 15.1px,#edecf9 15.1px 16.3px,#f3f2fb 16.3px 17.4px,#cbc7ec 17.4px 18.6px,#a6a0df 18.6px 19.7px,#ebe9f8 19.7px 20.9px)"></div><div style="left:516.66px;top:324.3px;width:3.23px;height:20.9px;background:linear-gradient(#bdb8e7 0.0px 1.2px,#fafafd 1.2px 2.3px,#9c95db 2.3px 3.5px,#e0ddf4 3.5px 4.6px,#f8e9e6 4.6px 5.8px,#7c73ce 5.8px 7.0px,#e8e7f7 7.0px 8.1px,#faf0ee 8.1px 9.3px,#b3ade3 9.3px 10.4px,#c0bae8 10.4px 11.6px,#c0bbe9 11.6px 12.8px,#d1cdef 12.8px 13.9px,#d9d6f2 13.9px 15.1px,#e5e3f6 15.1px 16.3px,#fdf8f6 16.3px 17.4px,#9c95db 17.4px 18.6px,#a8a1df 18.6px 19.7px,#a9a2e0 19.7px 20.9px)"></div><div style="left:519.84px;top:324.3px;width:3.23px;height:20.9px;background:linear-gradient(#b2ace3 0.0px 1.2px,#f0effa 1.2px 2.3px,#c7c2eb 2.3px 3.5px,#ebeaf8 3.5px 4.6px,#fefdfd 4.6px 5.8px,#bbb5e7 5.8px 7.0px,#e7e5f7 7.0px 8.1px,#fbf2f1 8.1px 9.3px,#f9eae8 9.3px 10.4px,#aaa4e0 10.4px 11.6px,#faf0ee 11.6px 12.8px,#fdf7f6 12.8px 13.9px,#fcf5f4 13.9px 15.1px,#c0bbe8 15.1px 16.3px,#f1d2cc 16.3px 17.4px,#8880d3 17.4px 18.6px,#aca6e1 18.6px 19.7px,#bcb7e7 19.7px 20.9px)"></div><div style="left:523.02px;top:324.3px;width:3.23px;height:20.9px;background:linear-gradient(#b6b0e5 0.0px 1.2px,#f2f1fa 1.2px 2.3px,#8981d3 2.3px 3.5px,#dfdcf3 3.5px 4.6px,#edc5be 4.6px 5.8px,#8981d3 5.8px 7.0px,#e2dff5 7.0px 8.1px,#faf0ee 8.1px 9.3px,#bab4e6 9.3px 10.4px,#bcb7e7 10.4px 11.6px,#f1f0fa 11.6px 12.8px,#f4f3fb 12.8px 13.9px,#fefdfd 13.9px 15.1px,#938cd7 15.1px 16.3px,#f7e6e3 16.3px 17.4px,#cac6ec 17.4px 18.6px,#7066c8 18.6px 19.7px,#cac6ec 19.7px 20.9px)"></div><div style="left:528px;top:324.3px;width:3.21px;height:20.9px;background:linear-gradient(#e1a599 0.0px 1.2px,#c66858 1.2px 2.3px,#d07d6f 2.3px 3.5px,#d68a7c 3.5px 4.6px,#c66959 4.6px 5.8px,#df9f93 5.8px 7.0px,#d18071 7.0px 8.1px,#da9486 8.1px 9.3px,#db9689 9.3px 10.4px,#c76a5b 10.4px 11.6px,#ce7a6b 11.6px 12.8px,#e7b3aa 12.8px 13.9px,#d99082 13.9px 15.1px,#d88f81 15.1px 16.3px,#c56758 16.3px 17.4px,#c86d5e 17.4px 18.6px,#ebbfb6 18.6px 19.7px,#c05b4b 19.7px 20.9px)"></div><div style="left:531.16px;top:324.3px;width:3.21px;height:20.9px;background:linear-gradient(#d99184 0.0px 1.2px,#bd5747 1.2px 2.3px,#c05b4b 2.3px 3.5px,#d99284 3.5px 4.6px,#c46455 4.6px 5.8px,#aa3227 5.8px 7.0px,#d48677 7.0px 8.1px,#d99082 8.1px 9.3px,#dd9b8f 9.3px 10.4px,#bb5344 10.4px 11.6px,#cd7768 11.6px 12.8px,#d6897b 12.8px 13.9px,#c96e5f 13.9px 15.1px,#d07d6e 15.1px 16.3px,#c56757 16.3px 17.4px,#b34336 17.4px 18.6px,#e4aea4 18.6px 19.7px,#c56656 19.7px 20.9px)"></div><div style="left:534.32px;top:324.3px;width:3.21px;height:20.9px;background:linear-gradient(#eec6be 0.0px 1.2px,#da9487 1.2px 2.3px,#df9f93 2.3px 3.5px,#e7b4aa 3.5px 4.6px,#e2a79b 4.6px 5.8px,#e4aea3 5.8px 7.0px,#eec6bf 7.0px 8.1px,#eabbb2 8.1px 9.3px,#e3aba1 9.3px 10.4px,#dc998c 10.4px 11.6px,#f4dad5 11.6px 12.8px,#ecc2ba 12.8px 13.9px,#ce7a6b 13.9px 15.1px,#db9688 15.1px 16.3px,#d17f70 16.3px 17.4px,#e6b1a7 17.4px 18.6px,#f1d0c9 18.6px 19.7px,#cf7a6c 19.7px 20.9px)"></div><div style="left:537.48px;top:324.3px;width:3.21px;height:20.9px;background:linear-gradient(#f2d3cd 0.0px 1.2px,#d18072 1.2px 2.3px,#dfa195 2.3px 3.5px,#d38476 3.5px 4.6px,#cc7566 4.6px 5.8px,#da9386 5.8px 7.0px,#d38374 7.0px 8.1px,#f1d1ca 8.1px 9.3px,#e7b4ab 9.3px 10.4px,#cf7a6c 10.4px 11.6px,#ecc1b8 11.6px 12.8px,#e9bbb2 12.8px 13.9px,#e1a69b 13.9px 15.1px,#c15e4e 15.1px 16.3px,#d68b7c 16.3px 17.4px,#bc5546 17.4px 18.6px,#d17f71 18.6px 19.7px,#d6897b 19.7px 20.9px)"></div><div style="left:540.64px;top:324.3px;width:3.21px;height:20.9px;background:linear-gradient(#f0cfc9 0.0px 1.2px,#cd7768 1.2px 2.3px,#e6b2a8 2.3px 3.5px,#db9587 3.5px 4.6px,#e2a79b 4.6px 5.8px,#dc988b 5.8px 7.0px,#edc4bc 7.0px 8.1px,#d48678 8.1px 9.3px,#e9bab1 9.3px 10.4px,#e3aa9f 10.4px 11.6px,#db978a 11.6px 12.8px,#e8b6ac 12.8px 13.9px,#e4ada2 13.9px 15.1px,#df9f93 15.1px 16.3px,#d07e70 16.3px 17.4px,#d07d6e 17.4px 18.6px,#edc3bb 18.6px 19.7px,#d88f81 19.7px 20.9px)"></div><div style="left:543.79px;top:324.3px;width:3.21px;height:20.9px;background:linear-gradient(#ebbeb6 0.0px 1.2px,#d99083 1.2px 2.3px,#d99183 2.3px 3.5px,#d68a7c 3.5px 4.6px,#eabcb3 4.6px 5.8px,#e0a296 5.8px 7.0px,#f2d4ce 7.0px 8.1px,#edc4bc 8.1px 9.3px,#e5aea4 9.3px 10.4px,#e4ada2 10.4px 11.6px,#f2d3cd 11.6px 12.8px,#edc5be 12.8px 13.9px,#fbf2f1 13.9px 15.1px,#dd9b8f 15.1px 16.3px,#dc988b 16.3px 17.4px,#cf7b6d 17.4px 18.6px,#f3d8d2 18.6px 19.7px,#d6897b 19.7px 20.9px)"></div><div style="left:546.95px;top:324.3px;width:3.21px;height:20.9px;background:linear-gradient(#ecc3ba 0.0px 1.2px,#de9e92 1.2px 2.3px,#e4ada3 2.3px 3.5px,#ecc2ba 3.5px 4.6px,#ebbfb7 4.6px 5.8px,#e5b0a6 5.8px 7.0px,#edc4bc 7.0px 8.1px,#f4dcd8 8.1px 9.3px,#f8e8e5 9.3px 10.4px,#e7b5ab 10.4px 11.6px,#fdf9f8 11.6px 12.8px,#edc5bd 12.8px 13.9px,#f5ded9 13.9px 15.1px,#e7b4aa 15.1px 16.3px,#e1a69a 16.3px 17.4px,#d07e6f 17.4px 18.6px,#efccc5 18.6px 19.7px,#e6b1a7 19.7px 20.9px)"></div><div style="left:550.11px;top:324.3px;width:3.21px;height:20.9px;background:linear-gradient(#f9f8fd 0.0px 1.2px,#dc988b 1.2px 2.3px,#f2d6d0 2.3px 3.5px,#f5ded9 3.5px 4.6px,#ecc1b8 4.6px 5.8px,#de9c90 5.8px 7.0px,#f3d7d2 7.0px 8.1px,#f2d3cd 8.1px 9.3px,#eabdb4 9.3px 10.4px,#f2d3cd 10.4px 11.6px,#f3d6d1 11.6px 12.8px,#edc3bb 12.8px 13.9px,#e6b2a8 13.9px 15.1px,#f6e2de 15.1px 16.3px,#e2a79c 16.3px 17.4px,#e2a89d 17.4px 18.6px,#e8b6ad 18.6px 19.7px,#e0a397 19.7px 20.9px)"></div><div style="left:553.27px;top:324.3px;width:3.21px;height:20.9px;background:linear-gradient(#ffffff 0.0px 1.2px,#e5b1a6 1.2px 2.3px,#f8e7e4 2.3px 3.5px,#fdfdfe 3.5px 4.6px,#e5afa4 4.6px 5.8px,#fdf9f8 5.8px 7.0px,#f7e5e2 7.0px 8.1px,#f6e3df 8.1px 9.3px,#fdfdfe 9.3px 10.4px,#f0cec8 10.4px 11.6px,#f0effa 11.6px 12.8px,#fdfaf9 12.8px 16.3px,#eabdb4 16.3px 17.4px,#f4dbd6 17.4px 18.6px,#f8f7fd 18.6px 19.7px,#ffffff 19.7px 20.9px)"></div><div style="left:556.43px;top:324.3px;width:3.21px;height:20.9px;background:linear-gradient(#dfddf4 0.0px 1.2px,#efcbc4 1.2px 2.3px,#f6e3df 2.3px 3.5px,#f0effa 3.5px 4.6px,#fdfdfe 4.6px 5.8px,#f3d8d3 5.8px 7.0px,#dedbf3 7.0px 8.1px,#fbf3f2 8.1px 9.3px,#f2d4ce 9.3px 10.4px,#f6e3df 10.4px 11.6px,#f5f5fc 11.6px 12.8px,#cec9ed 12.8px 13.9px,#fefdfd 13.9px 15.1px,#f7e5e1 15.1px 16.3px,#e5b0a6 16.3px 17.4px,#f6e1dd 17.4px 18.6px,#fcfcfe 18.6px 19.7px,#fdf9f8 19.7px 20.9px)"></div><div style="left:559.59px;top:324.3px;width:3.21px;height:20.9px;background:linear-gradient(#bfbae8 0.0px 1.2px,#fcf7f6 1.2px 2.3px,#f2f1fa 2.3px 3.5px,#d3d0ef 3.5px 4.6px,#efeef9 4.6px 5.8px,#edc4bb 5.8px 7.0px,#b7b1e5 7.0px 8.1px,#fffefe 8.1px 9.3px,#eeecf9 9.3px 10.4px,#eceaf8 10.4px 11.6px,#beb9e8 11.6px 12.8px,#efeef9 12.8px 13.9px,#d7d3f1 13.9px 15.1px,#fefdfd 15.1px 16.3px,#fdf9f9 16.3px 17.4px,#f7f6fc 17.4px 18.6px,#e5e2f6 18.6px 19.7px,#fbf1ef 19.7px 20.9px)"></div><div style="left:562.75px;top:324.3px;width:3.21px;height:20.9px;background:linear-gradient(#a59ede 0.0px 1.2px,#f3d8d2 1.2px 2.3px,#c1bce9 2.3px 3.5px,#d0ccee 3.5px 4.6px,#fdf8f7 4.6px 5.8px,#ffffff 5.8px 7.0px,#dddbf3 7.0px 8.1px,#fcf5f3 8.1px 9.3px,#b4aee4 9.3px 10.4px,#fefeff 10.4px 11.6px,#bfbae8 11.6px 12.8px,#cac6ec 12.8px 13.9px,#d1cdee 13.9px 15.1px,#dbd8f2 15.1px 16.3px,#fefcfb 16.3px 17.4px,#f3f2fb 17.4px 18.6px,#c1bce9 18.6px 19.7px,#dad7f2 19.7px 20.9px)"></div><div style="left:565.91px;top:324.3px;width:3.21px;height:20.9px;background:linear-gradient(#ada7e1 0.0px 1.2px,#fefafa 1.2px 2.3px,#b3aee4 2.3px 3.5px,#e6e4f6 3.5px 4.6px,#f9f8fd 4.6px 5.8px,#fdfaf9 5.8px 7.0px,#edebf8 7.0px 8.1px,#bcb7e7 8.1px 9.3px,#d7d3f1 9.3px 10.4px,#edecf9 10.4px 11.6px,#766dcb 11.6px 12.8px,#beb9e8 12.8px 13.9px,#e4e2f5 13.9px 15.1px,#e5e3f6 15.1px 16.3px,#f9f8fd 16.3px 17.4px,#fefeff 17.4px 18.6px,#b3ade3 18.6px 19.7px,#cecaee 19.7px 20.9px)"></div><div style="left:569.06px;top:324.3px;width:3.21px;height:20.9px;background:linear-gradient(#aba5e1 0.0px 1.2px,#d0ccee 1.2px 2.3px,#f7e6e2 2.3px 3.5px,#f1f0fa 3.5px 4.6px,#f6f5fc 4.6px 5.8px,#f6e3df 5.8px 7.0px,#ebe9f8 7.0px 8.1px,#dedbf3 8.1px 9.3px,#a7a1df 9.3px 10.4px,#cfcbee 10.4px 11.6px,#f6f5fc 11.6px 12.8px,#d3cfef 12.8px 13.9px,#e8e6f7 13.9px 15.1px,#d4d1f0 15.1px 16.3px,#f5f4fb 16.3px 17.4px,#f9ecea 17.4px 18.6px,#aca5e1 18.6px 19.7px,#f9ece9 19.7px 20.9px)"></div><div style="left:572.22px;top:324.3px;width:3.21px;height:20.9px;background:linear-gradient(#a099dc 0.0px 1.2px,#f5f4fb 1.2px 2.3px,#bab4e6 2.3px 3.5px,#f1f0fa 3.5px 4.6px,#fcf6f4 4.6px 5.8px,#fdf7f6 5.8px 7.0px,#d4d0f0 7.0px 8.1px,#cdc9ed 8.1px 9.3px,#dcd9f3 9.3px 10.4px,#e5e3f6 10.4px 11.6px,#eeedf9 11.6px 12.8px,#b8b2e5 12.8px 13.9px,#c3beea 13.9px 15.1px,#d9d6f1 15.1px 16.3px,#c6c1eb 16.3px 17.4px,#fcf6f5 17.4px 18.6px,#bab5e6 18.6px 19.7px,#c0bbe8 19.7px 20.9px)"></div><div style="left:575.38px;top:324.3px;width:3.21px;height:20.9px;background:linear-gradient(#9e98dc 0.0px 1.2px,#edecf9 1.2px 2.3px,#d9d6f2 2.3px 3.5px,#d7d3f1 3.5px 4.6px,#fefafa 4.6px 5.8px,#f2d4ce 5.8px 7.0px,#ccc8ed 7.0px 8.1px,#e0ddf4 8.1px 9.3px,#b5afe4 9.3px 10.4px,#faedeb 10.4px 11.6px,#ada7e1 11.6px 12.8px,#b3ade3 12.8px 13.9px,#d7d3f1 13.9px 15.1px,#dbd8f2 15.1px 16.3px,#e8b8af 16.3px 17.4px,#fdf8f7 17.4px 18.6px,#bab4e6 18.6px 19.7px,#d9d6f1 19.7px 20.9px)"></div><div style="left:578.54px;top:324.3px;width:3.21px;height:20.9px;background:linear-gradient(#b2ace3 0.0px 1.2px,#f0effa 1.2px 2.3px,#cdc9ed 2.3px 3.5px,#fefcfb 3.5px 4.6px,#d7d4f1 4.6px 5.8px,#fbf2f0 5.8px 7.0px,#c4bfea 7.0px 8.1px,#f0effa 8.1px 9.3px,#b3ade4 9.3px 10.4px,#ccc7ed 10.4px 11.6px,#bab4e6 11.6px 12.8px,#dfddf4 12.8px 13.9px,#c3beea 13.9px 15.1px,#d0ccee 15.1px 16.3px,#f4f3fb 16.3px 17.4px,#efeef9 17.4px 18.6px,#beb8e8 18.6px 19.7px,#d8d4f1 19.7px 20.9px)"></div><div style="left:583.8px;top:324.3px;width:3.13px;height:20.9px;background:linear-gradient(#f3f2fb 0.0px 1.2px,#b6b1e5 1.2px 2.3px,#d4d0f0 2.3px 3.5px,#dedbf3 3.5px 4.6px,#c1bbe9 4.6px 5.8px,#cecaee 5.8px 7.0px,#eceaf8 7.0px 8.1px,#c2bde9 8.1px 9.3px,#ecebf8 9.3px 10.4px,#a7a0df 10.4px 11.6px,#dad6f2 11.6px 12.8px,#dedcf3 12.8px 13.9px,#bdb8e7 13.9px 15.1px,#c1bbe9 15.1px 16.3px,#a59ede 16.3px 17.4px,#d1ceef 17.4px 18.6px,#fcfcfe 18.6px 19.7px,#afa9e2 19.7px 20.9px)"></div><div style="left:586.88px;top:324.3px;width:3.13px;height:20.9px;background:linear-gradient(#d9d6f2 0.0px 1.2px,#9089d6 1.2px 2.3px,#b5afe4 2.3px 3.5px,#a39ddd 3.5px 4.6px,#b9b3e6 4.6px 5.8px,#7970cd 5.8px 7.0px,#c3beea 7.0px 8.1px,#d6d2f0 8.1px 9.3px,#c9c4ec 9.3px 10.4px,#9d96db 10.4px 11.6px,#d2ceef 11.6px 12.8px,#f7f6fc 12.8px 13.9px,#beb9e8 13.9px 15.1px,#e1def4 15.1px 16.3px,#7b72cd 16.3px 17.4px,#8880d3 17.4px 18.6px,#f8f7fd 18.6px 19.7px,#d9d5f1 19.7px 20.9px)"></div><div style="left:589.96px;top:324.3px;width:3.13px;height:20.9px;background:linear-gradient(#e6e3f6 0.0px 1.2px,#7269ca 1.2px 2.3px,#c0bae8 2.3px 3.5px,#9f98dc 3.5px 4.6px,#a6a0df 4.6px 5.8px,#938cd7 5.8px 7.0px,#bbb6e7 7.0px 8.1px,#c8c3eb 8.1px 9.3px,#dcd9f2 9.3px 10.4px,#b3ade3 10.4px 11.6px,#b0aae2 11.6px 12.8px,#dcd9f2 12.8px 13.9px,#8d86d5 13.9px 15.1px,#bab5e6 15.1px 16.3px,#9c95db 16.3px 17.4px,#847cd1 17.4px 18.6px,#f5e0db 18.6px 19.7px,#e1def4 19.7px 20.9px)"></div><div style="left:593.04px;top:324.3px;width:3.13px;height:20.9px;background:linear-gradient(#fbf1ef 0.0px 1.2px,#a49ede 1.2px 2.3px,#bab5e6 2.3px 3.5px,#c3beea 3.5px 4.6px,#e3e0f5 4.6px 5.8px,#9b94da 5.8px 7.0px,#c7c2eb 7.0px 8.1px,#bab4e6 8.1px 9.3px,#d6d3f0 9.3px 10.4px,#d0ccee 10.4px 11.6px,#c7c3eb 11.6px 12.8px,#fcfcfe 12.8px 13.9px,#d6d2f0 13.9px 15.1px,#f2f1fa 15.1px 16.3px,#aca6e1 16.3px 17.4px,#beb9e8 17.4px 18.6px,#cfcbee 18.6px 19.7px,#f4f3fb 19.7px 20.9px)"></div><div style="left:596.12px;top:324.3px;width:3.13px;height:20.9px;background:linear-gradient(#edecf9 0.0px 1.2px,#9d96db 1.2px 2.3px,#eeecf9 2.3px 3.5px,#bbb6e7 3.5px 4.6px,#9891d9 4.6px 5.8px,#ada7e1 5.8px 7.0px,#d9d6f2 7.0px 8.1px,#c9c4ec 8.1px 9.3px,#ccc8ed 9.3px 10.4px,#9088d6 10.4px 11.6px,#fcf4f2 11.6px 12.8px,#d5d2f0 12.8px 13.9px,#dbd8f2 13.9px 15.1px,#aba5e1 15.1px 16.3px,#948dd8 16.3px 17.4px,#a59ede 17.4px 18.6px,#d2ceef 18.6px 19.7px,#cecaee 19.7px 20.9px)"></div><div style="left:599.2px;top:324.3px;width:3.13px;height:20.9px;background:linear-gradient(#c1bce9 0.0px 1.2px,#aea8e2 1.2px 2.3px,#e6e4f6 2.3px 3.5px,#aca5e1 3.5px 4.6px,#beb9e8 4.6px 5.8px,#b3ade4 5.8px 7.0px,#c0bbe8 7.0px 8.1px,#c3beea 8.1px 9.3px,#d3d0ef 9.3px 10.4px,#fefdfd 10.4px 11.6px,#cac6ec 11.6px 12.8px,#dcd9f3 12.8px 13.9px,#c7c2eb 13.9px 15.1px,#aaa4e0 15.1px 16.3px,#8f87d6 16.3px 17.4px,#8c84d5 17.4px 18.6px,#edebf8 18.6px 19.7px,#d4d0f0 19.7px 20.9px)"></div><div style="left:602.28px;top:324.3px;width:3.13px;height:20.9px;background:linear-gradient(#f8e9e6 0.0px 1.2px,#7d74ce 1.2px 2.3px,#aea8e1 2.3px 3.5px,#b6b1e5 3.5px 4.6px,#9f98dc 4.6px 5.8px,#8981d4 5.8px 7.0px,#c6c1eb 7.0px 8.1px,#bbb5e6 8.1px 9.3px,#c2bde9 9.3px 10.4px,#c0bbe9 10.4px 11.6px,#cbc7ed 11.6px 12.8px,#dad7f2 12.8px 13.9px,#dbd8f2 13.9px 15.1px,#cbc7ed 15.1px 16.3px,#ada7e1 16.3px 17.4px,#bab5e6 17.4px 18.6px,#ecebf8 18.6px 19.7px,#8f88d6 19.7px 20.9px)"></div><div style="left:605.36px;top:324.3px;width:3.13px;height:20.9px;background:linear-gradient(#f9edea 0.0px 1.2px,#e9e7f7 1.2px 2.3px,#dcd9f3 2.3px 3.5px,#e1def4 3.5px 4.6px,#d6d2f0 4.6px 5.8px,#928bd7 5.8px 7.0px,#dcd9f2 7.0px 8.1px,#b7b2e5 8.1px 9.3px,#cac5ec 9.3px 10.4px,#c9c5ec 10.4px 11.6px,#e2dff5 11.6px 12.8px,#d0ccee 12.8px 13.9px,#aea8e1 13.9px 15.1px,#cecaed 15.1px 16.3px,#a7a1df 16.3px 17.4px,#a19bdd 17.4px 18.6px,#d2ceef 18.6px 19.7px,#a29bdd 19.7px 20.9px)"></div><div style="left:608.44px;top:324.3px;width:3.13px;height:20.9px;background:linear-gradient(#eae8f8 0.0px 1.2px,#6d63c7 1.2px 2.3px,#e7e5f6 2.3px 3.5px,#b8b2e5 3.5px 4.6px,#d5d2f0 4.6px 5.8px,#b7b1e5 5.8px 7.0px,#bdb7e7 7.0px 8.1px,#d7d3f1 8.1px 9.3px,#bbb6e7 9.3px 10.4px,#a39cdd 10.4px 11.6px,#fefcfc 11.6px 12.8px,#d3d0ef 12.8px 13.9px,#beb9e8 13.9px 15.1px,#c5c0ea 15.1px 16.3px,#a8a2df 16.3px 17.4px,#b7b2e5 17.4px 18.6px,#c8c3eb 18.6px 19.7px,#afa9e2 19.7px 20.9px)"></div><div style="left:611.52px;top:324.3px;width:3.13px;height:20.9px;background:linear-gradient(#d0ccee 0.0px 1.2px,#a099dc 1.2px 2.3px,#c0bbe9 2.3px 3.5px,#9f98dc 3.5px 4.6px,#8c84d4 4.6px 5.8px,#7a71cd 5.8px 7.0px,#e4e1f5 7.0px 8.1px,#c0bbe8 8.1px 9.3px,#bcb7e7 9.3px 10.4px,#bfbae8 10.4px 11.6px,#c3bee9 11.6px 12.8px,#f9f8fd 12.8px 13.9px,#e9e7f7 13.9px 15.1px,#bab5e6 15.1px 16.3px,#9991d9 16.3px 17.4px,#6d63c7 17.4px 18.6px,#f5f5fc 18.6px 19.7px,#ebe9f8 19.7px 20.9px)"></div><div style="left:617px;top:324.3px;width:3.34px;height:20.9px;background:linear-gradient(#b14033 0.0px 1.2px,#d99184 1.2px 2.3px,#a6291f 2.3px 3.5px,#c36253 3.5px 4.6px,#e9b8af 4.6px 5.8px,#b13e32 5.8px 7.0px,#b84d3f 7.0px 8.1px,#e9b9b0 8.1px 9.3px,#b13f32 9.3px 10.4px,#aa3126 10.4px 11.6px,#c76a5b 11.6px 12.8px,#c76b5b 12.8px 13.9px,#e4ada2 13.9px 15.1px,#ba5142 15.1px 16.3px,#d88d7f 16.3px 17.4px,#aa3126 17.4px 18.6px,#a5281e 18.6px 19.7px,#b44538 19.7px 20.9px)"></div><div style="left:620.29px;top:324.3px;width:3.34px;height:20.9px;background:linear-gradient(#ac362b 0.0px 1.2px,#e1a599 1.2px 2.3px,#a5281e 2.3px 3.5px,#bf5a4a 3.5px 4.6px,#de9c90 4.6px 5.8px,#a5281e 5.8px 7.0px,#b54638 7.0px 8.1px,#dd9c8f 8.1px 9.3px,#bb5344 9.3px 10.4px,#ba5142 10.4px 11.6px,#c36353 11.6px 12.8px,#ca7061 12.8px 13.9px,#c15f4f 13.9px 15.1px,#bd5646 15.1px 16.3px,#c86e5e 16.3px 17.4px,#a62b20 17.4px 18.6px,#a5281e 18.6px 19.7px,#b54739 19.7px 20.9px)"></div><div style="left:623.57px;top:324.3px;width:3.34px;height:20.9px;background:linear-gradient(#d5887a 0.0px 1.2px,#edc5bd 1.2px 2.3px,#bf5a4a 2.3px 3.5px,#c66859 3.5px 4.6px,#fdf8f8 4.6px 5.8px,#b44437 5.8px 7.0px,#dd9c8f 7.0px 8.1px,#eec9c1 8.1px 9.3px,#da9386 9.3px 10.4px,#cf7b6c 10.4px 11.6px,#e0a397 11.6px 12.8px,#db9587 12.8px 13.9px,#f3d9d3 13.9px 15.1px,#ca7061 15.1px 16.3px,#e7b4aa 16.3px 17.4px,#d18072 17.4px 18.6px,#ad382c 18.6px 19.7px,#d48677 19.7px 20.9px)"></div><div style="left:626.86px;top:324.3px;width:3.34px;height:20.9px;background:linear-gradient(#f8e6e3 0.0px 1.2px,#a29cdd 1.2px 2.3px,#fefbfa 2.3px 3.5px,#d7d3f1 3.5px 4.6px,#a6a0df 4.6px 5.8px,#fdf9f8 5.8px 7.0px,#aea8e2 7.0px 9.3px,#dad7f2 9.3px 10.4px,#e7e5f7 10.4px 11.6px,#e1dff4 11.6px 12.8px,#cdc9ed 12.8px 13.9px,#b3ade3 13.9px 15.1px,#d7d4f1 15.1px 16.3px,#a59ede 16.3px 17.4px,#dedbf3 17.4px 18.6px,#fefafa 18.6px 19.7px,#cbc7ec 19.7px 20.9px)"></div><div style="left:630.14px;top:324.3px;width:3.34px;height:20.9px;background:linear-gradient(#ffffff 0.0px 1.2px,#6357c3 1.2px 2.3px,#fdf9f8 2.3px 3.5px,#d0ccee 3.5px 4.6px,#6a5fc6 4.6px 5.8px,#fcf5f4 5.8px 7.0px,#d0ccee 7.0px 8.1px,#a49ede 8.1px 9.3px,#f9f8fd 9.3px 10.4px,#dddaf3 10.4px 11.6px,#968ed8 11.6px 12.8px,#a19add 12.8px 13.9px,#9790d9 13.9px 15.1px,#aea8e2 15.1px 16.3px,#d6d2f0 16.3px 17.4px,#e0ddf4 17.4px 18.6px,#cfcbee 18.6px 19.7px,#9189d6 19.7px 20.9px)"></div><div style="left:633.43px;top:324.3px;width:3.34px;height:20.9px;background:linear-gradient(#e6e4f6 0.0px 1.2px,#695fc6 1.2px 2.3px,#fbf2f0 2.3px 3.5px,#9f98dc 3.5px 4.6px,#a7a0df 4.6px 5.8px,#f1f0fa 5.8px 7.0px,#f7f6fc 7.0px 8.1px,#8078d0 8.1px 9.3px,#d4d0f0 9.3px 10.4px,#fdfdfe 10.4px 11.6px,#9e98dc 11.6px 12.8px,#e5e3f6 12.8px 13.9px,#c8c3eb 13.9px 15.1px,#bdb8e7 15.1px 16.3px,#a39ddd 16.3px 17.4px,#f8e8e5 17.4px 18.6px,#f1d1cb 18.6px 19.7px,#fdfdfe 19.7px 20.9px)"></div><div style="left:636.71px;top:324.3px;width:3.34px;height:20.9px;background:linear-gradient(#e9e7f7 0.0px 1.2px,#978fd9 1.2px 2.3px,#f2f1fa 2.3px 3.5px,#c8c3eb 3.5px 4.6px,#9c95db 4.6px 5.8px,#fbf3f2 5.8px 7.0px,#dedbf3 7.0px 8.1px,#847bd1 8.1px 9.3px,#ebe9f8 9.3px 10.4px,#e4e2f6 10.4px 11.6px,#c6c1eb 11.6px 12.8px,#ebe9f8 12.8px 13.9px,#8f87d6 13.9px 15.1px,#d1cdef 15.1px 16.3px,#bbb5e6 16.3px 17.4px,#cfcbee 17.4px 18.6px,#f8e9e7 18.6px 19.7px,#dddaf3 19.7px 20.9px)"></div><div style="left:510.3px;top:347.4px;width:3.23px;height:47.1px;background:linear-gradient(#f9ece9 0.0px 1.1px,#e8e6f7 1.1px 2.3px,#e9e7f7 2.3px 3.4px,#f8e9e6 3.4px 4.6px,#f6f5fc 4.6px 5.7px,#cdc9ed 5.7px 6.9px,#a9a2e0 6.9px 8.0px,#fefdfd 8.0px 9.2px,#b5b0e4 9.2px 10.3px,#fdf9f8 10.3px 11.5px,#dad7f2 11.5px 12.6px,#fbf0ee 12.6px 13.8px,#cecaee 13.8px 14.9px,#fdf8f8 14.9px 16.1px,#fdf8f7 16.1px 17.2px,#fcf6f4 17.2px 18.4px,#c9c4ec 18.4px 19.5px,#ffffff 19.5px 20.7px,#fbf1ef 20.7px 21.8px,#d6d2f0 21.8px 23.0px,#f3d9d4 23.0px 24.1px,#e0def4 24.1px 25.3px,#aea7e1 25.3px 26.4px,#f8e9e6 26.4px 27.6px,#f4f3fb 27.6px 28.7px,#fcfcfe 28.7px 29.9px,#fffefe 29.9px 31.0px,#e4e2f5 31.0px 32.2px,#faefec 32.2px 33.3px,#f5f4fb 33.3px 34.5px,#f2d6d0 34.5px 35.6px,#f6e1dd 35.6px 36.8px,#cecaed 36.8px 37.9px,#8179d0 37.9px 39.1px,#d7d4f1 39.1px 40.2px,#fefcfc 40.2px 41.4px,#ecebf8 41.4px 42.5px,#faeeeb 42.5px 43.7px,#fefafa 43.7px 44.8px,#f6e3df 44.8px 46.0px,#c6c1eb 46.0px 47.1px)"></div><div style="left:513.48px;top:347.4px;width:3.23px;height:47.1px;background:linear-gradient(#f5deda 0.0px 1.1px,#c5c0ea 1.1px 2.3px,#e9e8f7 2.3px 3.4px,#faf0ee 3.4px 4.6px,#f9f8fd 4.6px 5.7px,#a39cdd 5.7px 6.9px,#a29cdd 6.9px 8.0px,#f1d2cb 8.0px 9.2px,#a49dde 9.2px 10.3px,#f3f2fb 10.3px 11.5px,#faf9fd 11.5px 12.6px,#fcf6f5 12.6px 13.8px,#a7a0df 13.8px 14.9px,#f9ecea 14.9px 16.1px,#e4e1f5 16.1px 17.2px,#f2d5cf 17.2px 18.4px,#fdf8f7 18.4px 19.5px,#f4f3fb 19.5px 20.7px,#efeef9 20.7px 21.8px,#faf9fd 21.8px 23.0px,#d4d0f0 23.0px 24.1px,#fffefe 24.1px 25.3px,#7c74ce 25.3px 26.4px,#d2ceef 26.4px 27.6px,#d7d4f1 27.6px 28.7px,#d6d3f1 28.7px 29.9px,#e8e6f7 29.9px 31.0px,#f6f5fc 31.0px 32.2px,#f5f4fb 32.2px 33.3px,#bfbae8 33.3px 34.5px,#a39cdd 34.5px 35.6px,#fdf8f8 35.6px 36.8px,#9992da 36.8px 37.9px,#9189d6 37.9px 39.1px,#e2e0f5 39.1px 40.2px,#edecf9 40.2px 41.4px,#d8d5f1 41.4px 42.5px,#dbd8f2 42.5px 43.7px,#f2d4cf 43.7px 44.8px,#e9e8f7 44.8px 46.0px,#9c95db 46.0px 47.1px)"></div><div style="left:516.66px;top:347.4px;width:3.23px;height:47.1px;background:linear-gradient(#fefeff 0.0px 1.1px,#f2f1fa 1.1px 2.3px,#f5dfdb 2.3px 3.4px,#f0ccc5 3.4px 4.6px,#dddaf3 4.6px 5.7px,#bfbae8 5.7px 6.9px,#ada7e1 6.9px 8.0px,#fefafa 8.0px 9.2px,#bab4e6 9.2px 10.3px,#f6e0dc 10.3px 11.5px,#f3d8d3 11.5px 12.6px,#fbfbfe 12.6px 13.8px,#9a93da 13.8px 14.9px,#f9ece9 14.9px 16.1px,#fefeff 16.1px 17.2px,#faedeb 17.2px 18.4px,#dfdcf4 18.4px 19.5px,#f1f0fa 19.5px 20.7px,#f8e8e5 20.7px 21.8px,#e1dff4 21.8px 23.0px,#fdfdfe 23.0px 24.1px,#f2f0fa 24.1px 25.3px,#c7c2eb 25.3px 26.4px,#e0ddf4 26.4px 27.6px,#e5e3f6 27.6px 28.7px,#f8f8fd 28.7px 29.9px,#eeecf9 29.9px 31.0px,#eabcb3 31.0px 32.2px,#edecf9 32.2px 33.3px,#edebf9 33.3px 34.5px,#f9f9fd 34.5px 35.6px,#f2f1fa 35.6px 36.8px,#d3cfef 36.8px 37.9px,#9891d9 37.9px 39.1px,#f2f1fa 39.1px 40.2px,#dddaf3 40.2px 41.4px,#d5d1f0 41.4px 42.5px,#f9f8fd 42.5px 43.7px,#ffffff 43.7px 44.8px,#f5dfdb 44.8px 46.0px,#c7c2eb 46.0px 47.1px)"></div><div style="left:519.84px;top:347.4px;width:3.23px;height:47.1px;background:linear-gradient(#fdf8f7 0.0px 1.1px,#d3cfef 1.1px 2.3px,#fdf7f6 2.3px 3.4px,#fefeff 3.4px 4.6px,#d4d0f0 4.6px 5.7px,#cecaee 5.7px 6.9px,#a49ede 6.9px 8.0px,#f4f3fb 8.0px 9.2px,#aaa4e0 9.2px 10.3px,#f2d4ce 10.3px 11.5px,#fefaf9 11.5px 12.6px,#f8e8e5 12.6px 13.8px,#8981d3 13.8px 14.9px,#edc3bb 14.9px 16.1px,#eae8f8 16.1px 17.2px,#f4dbd6 17.2px 18.4px,#bdb8e7 18.4px 19.5px,#dfdcf4 19.5px 20.7px,#dddaf3 20.7px 21.8px,#d0ccee 21.8px 23.0px,#edebf8 23.0px 24.1px,#e6e4f6 24.1px 25.3px,#b6b0e5 25.3px 26.4px,#dddaf3 26.4px 27.6px,#cecaed 27.6px 28.7px,#fbf0ee 28.7px 29.9px,#f3f2fb 29.9px 31.0px,#fffefe 31.0px 32.2px,#d9d6f2 32.2px 33.3px,#fdf7f6 33.3px 34.5px,#e4e2f5 34.5px 35.6px,#fefbfa 35.6px 36.8px,#f0effa 36.8px 37.9px,#928bd7 37.9px 39.1px,#cfcbee 39.1px 40.2px,#eceaf8 40.2px 41.4px,#fbf1ef 41.4px 42.5px,#b1abe3 42.5px 43.7px,#d1cdef 43.7px 44.8px,#e8e6f7 44.8px 46.0px,#cdc8ed 46.0px 47.1px)"></div><div style="left:523.02px;top:347.4px;width:3.23px;height:47.1px;background:linear-gradient(#f0effa 0.0px 1.1px,#fefafa 1.1px 2.3px,#eceaf8 2.3px 3.4px,#f3d9d4 3.4px 4.6px,#d0ccee 4.6px 5.7px,#faf9fd 5.7px 6.9px,#f7f6fc 6.9px 8.0px,#fefeff 8.0px 9.2px,#b8b3e6 9.2px 10.3px,#edecf9 10.3px 11.5px,#b8b2e5 11.5px 12.6px,#f9ece9 12.6px 13.8px,#b3ade3 13.8px 14.9px,#f6e1dd 14.9px 16.1px,#e8e6f7 16.1px 17.2px,#f4f3fb 17.2px 18.4px,#958ed8 18.4px 19.5px,#fdf7f6 19.5px 20.7px,#fcf6f4 20.7px 21.8px,#dad7f2 21.8px 23.0px,#faf9fd 23.0px 24.1px,#edecf9 24.1px 25.3px,#968ed8 25.3px 26.4px,#c6c1eb 26.4px 27.6px,#ffffff 27.6px 28.7px,#dedbf3 28.7px 29.9px,#f7f6fc 29.9px 31.0px,#f6e2de 31.0px 32.2px,#fffefe 32.2px 33.3px,#fcf6f5 33.3px 34.5px,#f5dfda 34.5px 35.6px,#fefbfb 35.6px 36.8px,#a7a1df 36.8px 37.9px,#6358c3 37.9px 39.1px,#a69fde 39.1px 40.2px,#f5f4fc 40.2px 41.4px,#cbc6ec 41.4px 42.5px,#f0effa 42.5px 43.7px,#e7e5f6 43.7px 44.8px,#fefeff 44.8px 46.0px,#bfbae8 46.0px 47.1px)"></div><div style="left:528px;top:347.4px;width:3.21px;height:47.1px;background:linear-gradient(#ac352a 0.0px 1.1px,#aa3227 1.1px 2.3px,#cd7869 2.3px 3.4px,#b44537 3.4px 4.6px,#d68a7c 4.6px 5.7px,#de9c90 5.7px 6.9px,#b6483a 6.9px 8.0px,#d28274 8.0px 9.2px,#cb7263 9.2px 10.3px,#ba4f41 10.3px 11.5px,#a93126 11.5px 12.6px,#e9b9b0 12.6px 13.8px,#d07e70 13.8px 14.9px,#af3a2e 14.9px 16.1px,#c15e4e 16.1px 17.2px,#c86e5e 17.2px 18.4px,#c46555 18.4px 19.5px,#c05c4c 19.5px 20.7px,#c36353 20.7px 21.8px,#b03d31 21.8px 23.0px,#b03c30 23.0px 24.1px,#be5848 24.1px 25.3px,#dc988b 25.3px 26.4px,#e1a499 26.4px 27.6px,#c26051 27.6px 28.7px,#c96f60 28.7px 29.9px,#c97061 29.9px 31.0px,#e1a599 31.0px 32.2px,#c46454 32.2px 33.3px,#c05c4c 33.3px 34.5px,#c46454 34.5px 35.6px,#dc988b 35.6px 36.8px,#cd7768 36.8px 37.9px,#ca7263 37.9px 39.1px,#b14033 39.1px 40.2px,#b5473a 40.2px 41.4px,#bf5a4a 41.4px 42.5px,#a72b21 42.5px 43.7px,#ba5041 43.7px 44.8px,#a62a1f 44.8px 46.0px,#c96e5f 46.0px 47.1px)"></div><div style="left:531.16px;top:347.4px;width:3.21px;height:47.1px;background:linear-gradient(#a93025 0.0px 1.1px,#c15d4e 1.1px 2.3px,#e1a59a 2.3px 3.4px,#a72c21 3.4px 4.6px,#c05c4c 4.6px 5.7px,#d5887a 5.7px 6.9px,#b44537 6.9px 8.0px,#d88d7f 8.0px 9.2px,#c56657 9.2px 10.3px,#af3b2e 10.3px 11.5px,#d78c7e 11.5px 12.6px,#c6695a 12.6px 13.8px,#c26050 13.8px 14.9px,#bb5343 14.9px 16.1px,#d28273 16.1px 17.2px,#c86c5d 17.2px 18.4px,#b24134 18.4px 19.5px,#b74b3d 19.5px 20.7px,#bd5546 20.7px 21.8px,#b44537 21.8px 24.1px,#dd9b8e 24.1px 25.3px,#ce796a 25.3px 26.4px,#ce7869 26.4px 27.6px,#c96f60 27.6px 28.7px,#d88f81 28.7px 29.9px,#e7b4aa 29.9px 31.0px,#cf7b6c 31.0px 32.2px,#b74b3d 32.2px 33.3px,#d5887a 33.3px 34.5px,#ce7a6b 34.5px 35.6px,#ca7161 35.6px 36.8px,#c66859 36.8px 37.9px,#c46555 37.9px 39.1px,#ae392d 39.1px 40.2px,#c15d4d 40.2px 41.4px,#a5281e 41.4px 43.7px,#b84c3e 43.7px 44.8px,#a5281e 44.8px 46.0px,#af3b2f 46.0px 47.1px)"></div><div style="left:534.32px;top:347.4px;width:3.21px;height:47.1px;background:linear-gradient(#bb5344 0.0px 1.1px,#bd5647 1.1px 2.3px,#d88e80 2.3px 3.4px,#b44537 3.4px 4.6px,#d48577 4.6px 5.7px,#c86d5e 5.7px 6.9px,#c05b4b 6.9px 8.0px,#e1a499 8.0px 9.2px,#bc5546 9.2px 10.3px,#c56757 10.3px 11.5px,#db9588 11.5px 12.6px,#d07d6e 12.6px 13.8px,#d18071 13.8px 14.9px,#c56657 14.9px 16.1px,#b03d31 16.1px 17.2px,#b13f32 17.2px 18.4px,#c96e5f 18.4px 19.5px,#c56656 19.5px 20.7px,#bc5445 20.7px 21.8px,#c15d4e 21.8px 23.0px,#b54739 23.0px 24.1px,#ce7a6b 24.1px 25.3px,#e8b8af 25.3px 26.4px,#da9385 26.4px 27.6px,#cd7668 27.6px 28.7px,#cb7465 28.7px 29.9px,#c26051 29.9px 31.0px,#c36353 31.0px 32.2px,#d58879 32.2px 33.3px,#d17f70 33.3px 34.5px,#b44437 34.5px 35.6px,#b44537 35.6px 36.8px,#c36354 36.8px 37.9px,#d38576 37.9px 39.1px,#be5848 39.1px 40.2px,#bf5a4a 40.2px 41.4px,#c56758 41.4px 42.5px,#b84d3f 42.5px 43.7px,#cb7364 43.7px 44.8px,#c76b5b 44.8px 46.0px,#cd7869 46.0px 47.1px)"></div><div style="left:537.48px;top:347.4px;width:3.21px;height:47.1px;background:linear-gradient(#bf5a4a 0.0px 1.1px,#b13e32 1.1px 2.3px,#d17f70 2.3px 3.4px,#bf5a4a 3.4px 4.6px,#d5897b 4.6px 5.7px,#dc978a 5.7px 6.9px,#b84c3d 6.9px 8.0px,#d88d7f 8.0px 9.2px,#c46555 9.2px 10.3px,#d28173 10.3px 11.5px,#de9e92 11.5px 12.6px,#d58779 12.6px 13.8px,#db9689 13.8px 14.9px,#b84c3e 14.9px 16.1px,#c76b5b 16.1px 17.2px,#c6695a 17.2px 18.4px,#a5281e 18.4px 19.5px,#c46454 19.5px 20.7px,#b24134 20.7px 21.8px,#ba5142 21.8px 23.0px,#b13f33 23.0px 24.1px,#c6695a 24.1px 25.3px,#e2a89d 25.3px 26.4px,#d48778 26.4px 27.6px,#d48577 27.6px 28.7px,#cd7667 28.7px 29.9px,#c96e5f 29.9px 31.0px,#d28173 31.0px 32.2px,#c56758 32.2px 33.3px,#d38375 33.3px 34.5px,#c56657 34.5px 35.6px,#cb7263 35.6px 36.8px,#ce796b 36.8px 37.9px,#dd9a8d 37.9px 39.1px,#c05c4c 39.1px 40.2px,#a82f24 40.2px 41.4px,#c05c4c 41.4px 42.5px,#ab3327 42.5px 43.7px,#c97061 43.7px 44.8px,#ba5042 44.8px 46.0px,#b24134 46.0px 47.1px)"></div><div style="left:540.64px;top:347.4px;width:3.21px;height:47.1px;background:linear-gradient(#bd5646 0.0px 1.1px,#b13f32 1.1px 2.3px,#d17f70 2.3px 3.4px,#b6483a 3.4px 4.6px,#e0a397 4.6px 5.7px,#fbf0ee 5.7px 6.9px,#bd5647 6.9px 8.0px,#d28173 8.0px 9.2px,#d48677 9.2px 10.3px,#d88e80 10.3px 11.5px,#e3aba0 11.5px 12.6px,#d28173 12.6px 13.8px,#f5ddd9 13.8px 14.9px,#b34336 14.9px 16.1px,#bf5b4b 16.1px 17.2px,#d17f71 17.2px 18.4px,#cd7768 18.4px 19.5px,#d07d6e 19.5px 20.7px,#b44437 20.7px 21.8px,#d99082 21.8px 23.0px,#c76a5a 23.0px 24.1px,#d5897a 24.1px 25.3px,#ebbfb7 25.3px 26.4px,#ce796a 26.4px 27.6px,#d99082 27.6px 28.7px,#e1a59a 28.7px 29.9px,#eabcb3 29.9px 31.0px,#d58779 31.0px 32.2px,#c26151 32.2px 33.3px,#da9284 33.3px 34.5px,#d58879 34.5px 35.6px,#e0a296 35.6px 36.8px,#d88f81 36.8px 37.9px,#e0a296 37.9px 39.1px,#b13f32 39.1px 40.2px,#d38476 40.2px 41.4px,#cd7768 41.4px 43.7px,#ca7061 43.7px 44.8px,#b74b3d 44.8px 46.0px,#ce7a6b 46.0px 47.1px)"></div><div style="left:543.79px;top:347.4px;width:3.21px;height:47.1px;background:linear-gradient(#b24134 0.0px 1.1px,#ab3428 1.1px 2.3px,#e3a99e 2.3px 3.4px,#a5281e 3.4px 4.6px,#e2a89d 4.6px 5.7px,#e1a69b 5.7px 6.9px,#c05b4b 6.9px 8.0px,#d38476 8.0px 9.2px,#cb7263 9.2px 10.3px,#c26050 10.3px 11.5px,#e2a69b 11.5px 12.6px,#d48678 12.6px 13.8px,#da9487 13.8px 14.9px,#a5281e 14.9px 16.1px,#d78b7d 16.1px 17.2px,#d48678 17.2px 18.4px,#b34235 18.4px 19.5px,#ad382c 19.5px 20.7px,#bf5a4a 20.7px 21.8px,#dd9c90 21.8px 23.0px,#cd7667 23.0px 24.1px,#da9386 24.1px 25.3px,#eabbb2 25.3px 26.4px,#d28273 26.4px 27.6px,#c05c4c 27.6px 28.7px,#c86c5d 28.7px 29.9px,#e1a499 29.9px 31.0px,#d58879 31.0px 32.2px,#cc7465 32.2px 33.3px,#d07e70 33.3px 34.5px,#c36353 34.5px 35.6px,#d07d6e 35.6px 36.8px,#cb7364 36.8px 37.9px,#cd7768 37.9px 39.1px,#ca7061 39.1px 40.2px,#bf5a4a 40.2px 41.4px,#a62b20 41.4px 42.5px,#b24034 42.5px 43.7px,#ca7162 43.7px 44.8px,#bd5546 44.8px 46.0px,#c15f4f 46.0px 47.1px)"></div><div style="left:546.95px;top:347.4px;width:3.21px;height:47.1px;background:linear-gradient(#c56758 0.0px 1.1px,#bc5445 1.1px 2.3px,#ecc2ba 2.3px 3.4px,#c56758 3.4px 4.6px,#e2a79c 4.6px 5.7px,#db9689 5.7px 6.9px,#d88f81 6.9px 8.0px,#e6b2a8 8.0px 9.2px,#de9c90 9.2px 10.3px,#de9d91 10.3px 11.5px,#be5849 11.5px 12.6px,#e8b8af 12.6px 13.8px,#d99082 13.8px 14.9px,#b13f32 14.9px 16.1px,#c86d5e 16.1px 17.2px,#d07e70 17.2px 18.4px,#c76a5b 18.4px 19.5px,#cc7566 19.5px 20.7px,#c66959 20.7px 21.8px,#cb7263 21.8px 23.0px,#bb5344 23.0px 24.1px,#eec7c0 24.1px 25.3px,#f4dcd7 25.3px 26.4px,#e0a398 26.4px 27.6px,#d68a7c 27.6px 28.7px,#e7b3aa 28.7px 29.9px,#d78c7e 29.9px 31.0px,#d28173 31.0px 32.2px,#d07e6f 32.2px 33.3px,#d38576 33.3px 34.5px,#cd7667 34.5px 35.6px,#d78b7d 35.6px 36.8px,#e5afa4 36.8px 37.9px,#d28173 37.9px 39.1px,#d6897b 39.1px 40.2px,#d38476 40.2px 41.4px,#cd7869 41.4px 42.5px,#bc5444 42.5px 43.7px,#ce796a 43.7px 44.8px,#c56656 44.8px 46.0px,#cb7465 46.0px 47.1px)"></div><div style="left:550.11px;top:347.4px;width:3.21px;height:47.1px;background:linear-gradient(#dc988c 0.0px 1.1px,#be5949 1.1px 2.3px,#f2d4ce 2.3px 3.4px,#ce7a6b 3.4px 4.6px,#eec6be 4.6px 5.7px,#f1d2cc 5.7px 6.9px,#c56656 6.9px 8.0px,#f4dad5 8.0px 9.2px,#d38375 9.2px 10.3px,#cc7566 10.3px 11.5px,#e2a69b 11.5px 12.6px,#ebbfb6 12.6px 13.8px,#f6e0dc 13.8px 14.9px,#c86c5d 14.9px 16.1px,#b74b3d 16.1px 17.2px,#dc998c 17.2px 18.4px,#cf7b6d 18.4px 19.5px,#e4aca2 19.5px 20.7px,#cf7c6e 20.7px 21.8px,#d88e80 21.8px 23.0px,#c26050 23.0px 24.1px,#d38475 24.1px 25.3px,#e9b9af 25.3px 26.4px,#f0cdc6 26.4px 27.6px,#e0a296 27.6px 28.7px,#eec8c1 28.7px 29.9px,#ecc3bb 29.9px 31.0px,#edc4bc 31.0px 32.2px,#d17f71 32.2px 33.3px,#f9eae7 33.3px 34.5px,#d78c7d 34.5px 35.6px,#dd9b8e 35.6px 36.8px,#f5ddd8 36.8px 37.9px,#df9f93 37.9px 39.1px,#cc7566 39.1px 40.2px,#c15f4f 40.2px 41.4px,#d07d6e 41.4px 42.5px,#c56757 42.5px 43.7px,#d98f81 43.7px 44.8px,#bd5646 44.8px 46.0px,#df9f93 46.0px 47.1px)"></div><div style="left:553.27px;top:347.4px;width:3.21px;height:47.1px;background:linear-gradient(#d68a7c 0.0px 1.1px,#e0a398 1.1px 2.3px,#fefbfb 2.3px 3.4px,#e5b0a5 3.4px 4.6px,#f8e9e6 4.6px 5.7px,#e2dff5 5.7px 6.9px,#e0a297 6.9px 8.0px,#fefdfd 8.0px 9.2px,#f5e0dc 9.2px 10.3px,#e4aca2 10.3px 11.5px,#e2a89d 11.5px 12.6px,#edc4bc 12.6px 13.8px,#f5ddd8 13.8px 14.9px,#d98f82 14.9px 16.1px,#e6b2a8 16.1px 17.2px,#f5ddd9 17.2px 18.4px,#ca7061 18.4px 19.5px,#f6e1dd 19.5px 20.7px,#eabcb3 20.7px 21.8px,#f0cfc8 21.8px 23.0px,#e5b0a6 23.0px 24.1px,#f2d4ce 24.1px 25.3px,#f5f4fb 25.3px 26.4px,#f8e9e6 26.4px 27.6px,#e8b7ad 27.6px 28.7px,#f8e9e6 28.7px 29.9px,#fdf8f7 29.9px 31.0px,#e8b7ae 31.0px 32.2px,#eec6bf 32.2px 33.3px,#f9f9fd 33.3px 34.5px,#e4aca1 34.5px 35.6px,#f7e4e0 35.6px 36.8px,#f3d8d3 36.8px 37.9px,#f2d4ce 37.9px 39.1px,#e4ada2 39.1px 40.2px,#e0a296 40.2px 41.4px,#dfa195 41.4px 42.5px,#dc998c 42.5px 43.7px,#f5dfda 43.7px 44.8px,#d99183 44.8px 46.0px,#fbf1ef 46.0px 47.1px)"></div><div style="left:556.43px;top:347.4px;width:3.21px;height:47.1px;background:linear-gradient(#de9f92 0.0px 1.1px,#e2a89d 1.1px 2.3px,#f5dfdb 2.3px 3.4px,#e0a296 3.4px 4.6px,#f6e3df 4.6px 5.7px,#eae9f8 5.7px 6.9px,#e8b7ae 6.9px 8.0px,#faeeeb 8.0px 9.2px,#e8b8ae 9.2px 10.3px,#eec6bf 10.3px 11.5px,#e7e5f7 11.5px 12.6px,#f4d9d4 12.6px 13.8px,#f5dfdb 13.8px 14.9px,#cd7768 14.9px 16.1px,#ebbfb6 16.1px 17.2px,#e1a69b 17.2px 18.4px,#faf9fd 18.4px 19.5px,#efccc5 19.5px 20.7px,#ecc1b9 20.7px 21.8px,#d88e80 21.8px 23.0px,#e2a79c 23.0px 24.1px,#e0a397 24.1px 25.3px,#fdfdfe 25.3px 26.4px,#fbf2f0 26.4px 27.6px,#f4dad5 27.6px 28.7px,#f9ece9 28.7px 29.9px,#f7e4e0 29.9px 31.0px,#efcac3 31.0px 32.2px,#f5e0db 32.2px 33.3px,#e7b4aa 33.3px 34.5px,#e4aca1 34.5px 35.6px,#f1d2cc 35.6px 36.8px,#f3d6d1 36.8px 37.9px,#f7e5e1 37.9px 39.1px,#efcbc4 39.1px 40.2px,#eec8c0 40.2px 41.4px,#e6b2a8 41.4px 42.5px,#ce796a 42.5px 43.7px,#db978a 43.7px 44.8px,#e1a599 44.8px 46.0px,#f2d4ce 46.0px 47.1px)"></div><div style="left:559.59px;top:347.4px;width:3.21px;height:47.1px;background:linear-gradient(#e3aa9f 0.0px 1.1px,#ebc0b8 1.1px 2.3px,#fefafa 2.3px 3.4px,#f5ddd9 3.4px 4.6px,#fefdfd 4.6px 5.7px,#f2f1fb 5.7px 6.9px,#e6b3a9 6.9px 8.0px,#f8e8e5 8.0px 9.2px,#ebc0b7 9.2px 10.3px,#f5dfdb 10.3px 11.5px,#f3f2fb 11.5px 12.6px,#ccc7ed 12.6px 13.8px,#d8d5f1 13.8px 14.9px,#e4aea4 14.9px 16.1px,#f5ded9 16.1px 17.2px,#d99284 17.2px 18.4px,#e7b4aa 18.4px 19.5px,#f0cdc6 19.5px 20.7px,#edc4bc 20.7px 21.8px,#f4dcd8 21.8px 23.0px,#e4aea3 23.0px 24.1px,#f5ddd9 24.1px 25.3px,#e7e5f6 25.3px 26.4px,#f7e5e2 26.4px 27.6px,#eabdb5 27.6px 28.7px,#f8e7e4 28.7px 29.9px,#f9ece9 29.9px 31.0px,#f4dcd8 31.0px 32.2px,#ebbeb5 32.2px 33.3px,#f6e1dd 33.3px 34.5px,#f3d7d1 34.5px 35.6px,#ecc2b9 35.6px 36.8px,#f4dbd6 36.8px 37.9px,#fbf1ef 37.9px 39.1px,#fcf5f4 39.1px 40.2px,#de9d91 40.2px 41.4px,#e5b1a6 41.4px 42.5px,#e1a69b 42.5px 43.7px,#f1d1ca 43.7px 44.8px,#ebbeb5 44.8px 46.0px,#fdfdfe 46.0px 47.1px)"></div><div style="left:562.75px;top:347.4px;width:3.21px;height:47.1px;background:linear-gradient(#f1d0ca 0.0px 1.1px,#e9bab1 1.1px 2.3px,#f4f3fb 2.3px 3.4px,#eec7c0 3.4px 4.6px,#eae9f8 4.6px 5.7px,#e8e6f7 5.7px 6.9px,#f1d2cc 6.9px 8.0px,#d2ceef 8.0px 9.2px,#f5ddd8 9.2px 10.3px,#f8e7e3 10.3px 11.5px,#f1f0fa 11.5px 12.6px,#e2e0f5 12.6px 13.8px,#d2cfef 13.8px 14.9px,#edc3bb 14.9px 16.1px,#e9e7f7 16.1px 17.2px,#f6f5fc 17.2px 18.4px,#f3d9d4 18.4px 19.5px,#faeeec 19.5px 20.7px,#f3d7d2 20.7px 21.8px,#f2d3cd 21.8px 23.0px,#f5ddd8 23.0px 24.1px,#f5ded9 24.1px 25.3px,#e3e1f5 25.3px 26.4px,#b4afe4 26.4px 27.6px,#faefed 27.6px 28.7px,#ebeaf8 28.7px 29.9px,#fefcfc 29.9px 31.0px,#edc3bb 31.0px 32.2px,#f1effa 32.2px 33.3px,#fdfdfe 33.3px 34.5px,#f9f8fd 34.5px 35.6px,#eae8f8 35.6px 36.8px,#fcf6f5 36.8px 37.9px,#f9edea 37.9px 39.1px,#fbf3f1 39.1px 40.2px,#f5dfdb 40.2px 41.4px,#f6e2de 41.4px 42.5px,#f2d4cf 42.5px 43.7px,#f8e9e5 43.7px 44.8px,#eec6bf 44.8px 46.0px,#f4dbd6 46.0px 47.1px)"></div><div style="left:565.91px;top:347.4px;width:3.21px;height:47.1px;background:linear-gradient(#f9eae7 0.0px 1.1px,#f2d4cf 1.1px 2.3px,#cac5ec 2.3px 3.4px,#f0cec8 3.4px 4.6px,#dcd9f2 4.6px 5.7px,#9089d6 5.7px 6.9px,#fcf6f5 6.9px 8.0px,#cdc9ed 8.0px 9.2px,#e1def4 9.2px 10.3px,#dad7f2 10.3px 11.5px,#d3cfef 11.5px 12.6px,#bfbae8 12.6px 13.8px,#c5c0ea 13.8px 14.9px,#f2d6d0 14.9px 16.1px,#f9eae8 16.1px 17.2px,#cac6ec 17.2px 18.4px,#f4dcd7 18.4px 19.5px,#f9edea 19.5px 20.7px,#e4ada3 20.7px 21.8px,#f5f4fc 21.8px 23.0px,#efcbc4 23.0px 24.1px,#aaa4e0 24.1px 25.3px,#d8d4f1 25.3px 26.4px,#fefcfc 26.4px 27.6px,#f9f8fd 27.6px 28.7px,#d7d3f1 28.7px 29.9px,#fdfdfe 29.9px 31.0px,#d5d1f0 31.0px 32.2px,#f3d7d2 32.2px 33.3px,#bfbae8 33.3px 34.5px,#fefaf9 34.5px 35.6px,#fbfbfe 35.6px 36.8px,#dedbf3 36.8px 37.9px,#cdc9ed 37.9px 39.1px,#e4e1f5 39.1px 40.2px,#f0cec7 40.2px 41.4px,#f2d4ce 41.4px 42.5px,#fdf8f8 42.5px 43.7px,#dbd8f2 43.7px 44.8px,#efccc5 44.8px 46.0px,#f8e9e6 46.0px 47.1px)"></div><div style="left:569.06px;top:347.4px;width:3.21px;height:47.1px;background:linear-gradient(#fefafa 0.0px 1.1px,#f8e8e5 1.1px 2.3px,#cdc8ed 2.3px 3.4px,#f4dbd6 3.4px 4.6px,#e4e1f5 4.6px 5.7px,#a7a1df 5.7px 6.9px,#f1f0fa 6.9px 8.0px,#b7b1e5 8.0px 9.2px,#c8c4ec 9.2px 10.3px,#dad7f2 10.3px 11.5px,#d6d2f0 11.5px 12.6px,#d2ceef 12.6px 13.8px,#c3beea 13.8px 14.9px,#fdfdfe 14.9px 16.1px,#f3f2fb 16.1px 17.2px,#f2d6d0 17.2px 18.4px,#dfdcf4 18.4px 19.5px,#e9e7f7 19.5px 20.7px,#f7f6fc 20.7px 21.8px,#fdfaf9 21.8px 23.0px,#fffefe 23.0px 24.1px,#fbf2f0 24.1px 25.3px,#a29cdd 25.3px 26.4px,#d3d0ef 26.4px 27.6px,#edebf8 27.6px 28.7px,#fefcfb 28.7px 29.9px,#d8d4f1 29.9px 31.0px,#c0bbe9 31.0px 32.2px,#efeef9 32.2px 33.3px,#c2bde9 33.3px 34.5px,#fbf1f0 34.5px 35.6px,#f8f7fc 35.6px 36.8px,#d9d6f1 36.8px 37.9px,#d1cdef 37.9px 39.1px,#e2e0f5 39.1px 40.2px,#f6e0dc 40.2px 41.4px,#f1d1cb 41.4px 42.5px,#e5b0a6 42.5px 43.7px,#edecf9 43.7px 44.8px,#efcbc4 44.8px 46.0px,#ccc8ed 46.0px 47.1px)"></div><div style="left:572.22px;top:347.4px;width:3.21px;height:47.1px;background:linear-gradient(#fbf3f2 0.0px 1.1px,#f7e5e2 1.1px 2.3px,#9790d9 2.3px 3.4px,#fcfcfe 3.4px 4.6px,#bdb8e7 4.6px 5.7px,#9c95db 5.7px 6.9px,#f3f2fb 6.9px 8.0px,#a8a1df 8.0px 9.2px,#e3e0f5 9.2px 10.3px,#e2e0f5 10.3px 11.5px,#aea8e1 11.5px 12.6px,#d0ccee 12.6px 13.8px,#e6e4f6 13.8px 14.9px,#f8e9e6 14.9px 16.1px,#f7f6fc 16.1px 17.2px,#d5d1f0 17.2px 18.4px,#eeedf9 18.4px 19.5px,#d0ccee 19.5px 20.7px,#d7d3f1 20.7px 21.8px,#ebeaf8 21.8px 23.0px,#f4f3fb 23.0px 24.1px,#cfcbee 24.1px 25.3px,#aba4e0 25.3px 26.4px,#9d96db 26.4px 27.6px,#f7e4e1 27.6px 28.7px,#cbc6ec 28.7px 29.9px,#c6c2eb 29.9px 31.0px,#d0ccee 31.0px 32.2px,#c6c1eb 32.2px 33.3px,#c8c4ec 33.3px 34.5px,#f2f1fb 34.5px 35.6px,#a8a2df 35.6px 36.8px,#c7c2eb 36.8px 37.9px,#cdc9ed 37.9px 39.1px,#f6e2de 39.1px 40.2px,#c5c0ea 40.2px 41.4px,#f9f8fd 41.4px 42.5px,#f2d6d0 42.5px 43.7px,#d7d4f1 43.7px 44.8px,#f6e2de 44.8px 46.0px,#c5c0ea 46.0px 47.1px)"></div><div style="left:575.38px;top:347.4px;width:3.21px;height:47.1px;background:linear-gradient(#e7e4f6 0.0px 1.1px,#eec9c1 1.1px 2.3px,#aea8e2 2.3px 3.4px,#f9f9fd 3.4px 4.6px,#c4bfea 4.6px 5.7px,#cbc6ec 5.7px 6.9px,#fefdfd 6.9px 8.0px,#f4f3fb 8.0px 9.2px,#cac5ec 9.2px 10.3px,#f4dbd7 10.3px 11.5px,#eceaf8 11.5px 12.6px,#edecf9 12.6px 13.8px,#d5d1f0 13.8px 14.9px,#f6e3df 14.9px 16.1px,#f4f3fb 16.1px 17.2px,#d0ccee 17.2px 18.4px,#f9f9fd 18.4px 19.5px,#dfddf4 19.5px 20.7px,#f6e1dd 20.7px 21.8px,#e7e5f7 21.8px 23.0px,#f6e0dc 23.0px 24.1px,#cdc9ed 24.1px 25.3px,#efeef9 25.3px 26.4px,#b7b1e5 26.4px 27.6px,#d0cbee 27.6px 28.7px,#eeedf9 28.7px 29.9px,#9d96db 29.9px 31.0px,#e6e4f6 31.0px 32.2px,#d3d0ef 32.2px 33.3px,#bcb6e7 33.3px 34.5px,#e8e6f7 34.5px 35.6px,#f5dfda 35.6px 36.8px,#e6e4f6 36.8px 37.9px,#e9e7f7 37.9px 39.1px,#fefdfd 39.1px 40.2px,#faefed 40.2px 41.4px,#fefbfb 41.4px 42.5px,#f7e6e3 42.5px 43.7px,#f1f0fa 43.7px 44.8px,#f3d9d4 44.8px 46.0px,#ffffff 46.0px 47.1px)"></div><div style="left:578.54px;top:347.4px;width:3.21px;height:47.1px;background:linear-gradient(#dddaf3 0.0px 1.1px,#f5f4fb 1.1px 2.3px,#dad7f2 2.3px 3.4px,#efeef9 3.4px 4.6px,#d9d6f2 4.6px 5.7px,#eceaf8 5.7px 6.9px,#f8e8e5 6.9px 8.0px,#b8b2e5 8.0px 9.2px,#dfdcf4 9.2px 10.3px,#f2f1fa 10.3px 11.5px,#f3f2fb 11.5px 12.6px,#f6e2de 12.6px 13.8px,#cfcbee 13.8px 14.9px,#f8e9e6 14.9px 16.1px,#f6e1dd 16.1px 17.2px,#eae8f8 17.2px 18.4px,#f3d8d3 18.4px 19.5px,#f0effa 19.5px 20.7px,#fffefe 20.7px 21.8px,#fefeff 21.8px 23.0px,#fcf6f5 23.0px 24.1px,#b4afe4 24.1px 25.3px,#a69fde 25.3px 26.4px,#c5c0ea 26.4px 27.6px,#d5d2f0 27.6px 28.7px,#e8e6f7 28.7px 29.9px,#cbc7ed 29.9px 31.0px,#e3e1f5 31.0px 32.2px,#dbd8f2 32.2px 33.3px,#cfcbee 33.3px 34.5px,#f7f6fc 34.5px 35.6px,#d8d5f1 35.6px 36.8px,#bfbae8 36.8px 37.9px,#d1cdef 37.9px 39.1px,#f2f1fa 39.1px 40.2px,#e9e7f7 40.2px 41.4px,#f4ddd8 41.4px 42.5px,#f8e8e5 42.5px 43.7px,#f6e2de 43.7px 44.8px,#edebf9 44.8px 46.0px,#bdb8e7 46.0px 47.1px)"></div><div style="left:583.8px;top:347.4px;width:3.13px;height:47.1px;background:linear-gradient(#a49dde 0.0px 1.1px,#b3ade3 1.1px 2.3px,#fefeff 2.3px 3.4px,#8c84d5 3.4px 4.6px,#ccc7ed 4.6px 5.7px,#ffffff 5.7px 6.9px,#9189d6 6.9px 8.0px,#d4d0f0 8.0px 9.2px,#b9b3e6 9.2px 10.3px,#9991d9 10.3px 11.5px,#b6b0e5 11.5px 12.6px,#b9b3e6 12.6px 13.8px,#dcd9f2 13.8px 14.9px,#8b83d4 14.9px 16.1px,#a7a1df 16.1px 17.2px,#b5afe4 17.2px 18.4px,#786fcc 18.4px 19.5px,#8981d3 19.5px 20.7px,#9b94da 20.7px 21.8px,#aea8e1 21.8px 23.0px,#9d96db 23.0px 24.1px,#aea8e2 24.1px 25.3px,#fcf6f4 25.3px 26.4px,#d2cfef 26.4px 27.6px,#9d96db 27.6px 28.7px,#b5afe4 28.7px 29.9px,#cac5ec 29.9px 31.0px,#e0def4 31.0px 32.2px,#a8a2df 32.2px 33.3px,#d8d5f1 33.3px 34.5px,#9c95db 34.5px 35.6px,#948dd8 35.6px 36.8px,#c0bae8 36.8px 37.9px,#a39dde 37.9px 39.1px,#a49dde 39.1px 40.2px,#9992da 40.2px 41.4px,#bab5e6 41.4px 42.5px,#8078d0 42.5px 43.7px,#cbc6ec 43.7px 44.8px,#9d96db 44.8px 46.0px,#cfcbee 46.0px 47.1px)"></div><div style="left:586.88px;top:347.4px;width:3.13px;height:47.1px;background:linear-gradient(#a29bdd 0.0px 1.1px,#7b72cd 1.1px 2.3px,#f1f0fa 2.3px 3.4px,#aaa4e0 3.4px 4.6px,#c9c5ec 4.6px 5.7px,#d5d2f0 5.7px 6.9px,#8e86d5 6.9px 8.0px,#c3beea 8.0px 9.2px,#aaa4e0 9.2px 10.3px,#a29bdd 10.3px 11.5px,#a9a3e0 11.5px 12.6px,#c6c2eb 12.6px 13.8px,#fffefe 13.8px 14.9px,#7f76cf 14.9px 16.1px,#c3beea 16.1px 17.2px,#aaa3e0 17.2px 18.4px,#9790d9 18.4px 19.5px,#8b83d4 19.5px 20.7px,#bfbae8 20.7px 21.8px,#b6b0e5 21.8px 23.0px,#b2ace3 23.0px 24.1px,#d0ccee 24.1px 25.3px,#e0def4 25.3px 26.4px,#fbf2f1 26.4px 27.6px,#9c95db 27.6px 28.7px,#8f88d6 28.7px 29.9px,#eae8f8 29.9px 31.0px,#a19adc 31.0px 32.2px,#948dd8 32.2px 33.3px,#d6d3f0 33.3px 34.5px,#9e97dc 34.5px 35.6px,#e7e5f6 35.6px 36.8px,#fcf5f3 36.8px 37.9px,#fcf7f6 37.9px 39.1px,#9d97db 39.1px 40.2px,#b8b2e5 40.2px 41.4px,#7a71cd 41.4px 42.5px,#7f76cf 42.5px 43.7px,#a7a0df 43.7px 44.8px,#877fd3 44.8px 46.0px,#c3bde9 46.0px 47.1px)"></div><div style="left:589.96px;top:347.4px;width:3.13px;height:47.1px;background:linear-gradient(#8f87d6 0.0px 1.1px,#a099dc 1.1px 2.3px,#bcb6e7 2.3px 3.4px,#9189d6 3.4px 4.6px,#b0aae2 4.6px 5.7px,#ffffff 5.7px 6.9px,#b9b3e6 6.9px 8.0px,#fbf2f0 8.0px 9.2px,#c2bde9 9.2px 10.3px,#aaa4e0 10.3px 11.5px,#a8a1df 11.5px 12.6px,#bdb7e7 12.6px 13.8px,#e0def4 13.8px 14.9px,#6459c3 14.9px 16.1px,#7d74ce 16.1px 17.2px,#cbc7ed 17.2px 18.4px,#9e97db 18.4px 19.5px,#b7b1e5 19.5px 20.7px,#8e87d5 20.7px 21.8px,#bbb6e7 21.8px 23.0px,#7b72cd 23.0px 24.1px,#d9d6f1 24.1px 25.3px,#edecf9 25.3px 26.4px,#d2ceef 26.4px 27.6px,#a49dde 27.6px 28.7px,#d2ceef 28.7px 29.9px,#bcb7e7 29.9px 31.0px,#e2e0f5 31.0px 32.2px,#c8c3eb 32.2px 33.3px,#c5c0ea 33.3px 34.5px,#bcb7e7 34.5px 35.6px,#cac6ec 35.6px 36.8px,#cfcbee 36.8px 37.9px,#ada6e1 37.9px 39.1px,#afa9e2 39.1px 40.2px,#928ad7 40.2px 41.4px,#827ad1 41.4px 42.5px,#c0bbe9 42.5px 43.7px,#aaa4e0 43.7px 44.8px,#6156c2 44.8px 46.0px,#c9c4ec 46.0px 47.1px)"></div><div style="left:593.04px;top:347.4px;width:3.13px;height:47.1px;background:linear-gradient(#b4aee4 0.0px 1.1px,#6459c3 1.1px 2.3px,#dfddf4 2.3px 3.4px,#746aca 3.4px 4.6px,#e2dff5 4.6px 5.7px,#faeeeb 5.7px 6.9px,#dfdcf4 6.9px 9.2px,#b6b0e5 9.2px 10.3px,#cbc7ed 10.3px 11.5px,#b3ade4 11.5px 12.6px,#dfddf4 12.6px 13.8px,#ccc7ed 13.8px 14.9px,#cecaee 14.9px 16.1px,#8b83d4 16.1px 17.2px,#bdb8e7 17.2px 18.4px,#bcb7e7 18.4px 19.5px,#c5c1ea 19.5px 20.7px,#c4bfea 20.7px 21.8px,#c3beea 21.8px 23.0px,#8981d3 23.0px 24.1px,#e1dff4 24.1px 25.3px,#fefafa 25.3px 26.4px,#d7d4f1 26.4px 27.6px,#cdc9ed 27.6px 28.7px,#b9b4e6 28.7px 29.9px,#bcb7e7 29.9px 31.0px,#dedbf3 31.0px 32.2px,#b5afe4 32.2px 33.3px,#f7f6fc 33.3px 34.5px,#e2dff5 34.5px 35.6px,#a9a3e0 35.6px 36.8px,#fafafd 36.8px 37.9px,#d6d2f0 37.9px 39.1px,#b3aee4 39.1px 40.2px,#6d63c7 40.2px 41.4px,#7c74ce 41.4px 42.5px,#837bd1 42.5px 43.7px,#9a93da 43.7px 44.8px,#685dc5 44.8px 46.0px,#8881d3 46.0px 47.1px)"></div><div style="left:596.12px;top:347.4px;width:3.13px;height:47.1px;background:linear-gradient(#9790d9 0.0px 1.1px,#8178d0 1.1px 2.3px,#f3f2fb 2.3px 3.4px,#5b4fbf 3.4px 4.6px,#ada7e1 4.6px 5.7px,#f4dbd6 5.7px 6.9px,#918ad7 6.9px 8.0px,#dedbf3 8.0px 9.2px,#c8c4ec 9.2px 10.3px,#847cd1 10.3px 11.5px,#b0aae2 11.5px 12.6px,#d9d5f1 12.6px 13.8px,#e4e1f5 13.8px 14.9px,#8c84d5 14.9px 16.1px,#928ad7 16.1px 17.2px,#cdc9ed 17.2px 18.4px,#6459c3 18.4px 19.5px,#6b60c6 19.5px 20.7px,#9088d6 20.7px 21.8px,#655bc4 21.8px 23.0px,#4034b4 23.0px 24.1px,#4f42ba 24.1px 25.3px,#837ad1 25.3px 26.4px,#8179d0 26.4px 27.6px,#867dd2 27.6px 28.7px,#9992da 28.7px 29.9px,#b8b2e5 29.9px 31.0px,#4f43ba 31.0px 32.2px,#5a4ebf 32.2px 33.3px,#5549bd 33.3px 34.5px,#473ab7 34.5px 35.6px,#4a3db8 35.6px 36.8px,#847cd1 36.8px 37.9px,#6c62c7 37.9px 39.1px,#685dc5 39.1px 40.2px,#7970cd 40.2px 41.4px,#3b2fb2 41.4px 42.5px,#786fcc 42.5px 43.7px,#a59ede 43.7px 44.8px,#7e75cf 44.8px 46.0px,#aba4e0 46.0px 47.1px)"></div><div style="left:599.2px;top:347.4px;width:3.13px;height:47.1px;background:linear-gradient(#7c73ce 0.0px 1.1px,#746bca 1.1px 2.3px,#c9c4ec 2.3px 3.4px,#8981d3 3.4px 4.6px,#d6d2f0 4.6px 5.7px,#fdfaf9 5.7px 6.9px,#9f98dc 6.9px 8.0px,#e9e7f7 8.0px 9.2px,#a69fde 9.2px 10.3px,#9189d6 10.3px 11.5px,#bfbae8 11.5px 12.6px,#a8a1df 12.6px 13.8px,#dedbf3 13.8px 14.9px,#9c95db 14.9px 16.1px,#867dd2 16.1px 17.2px,#b2ace3 17.2px 18.4px,#9790d9 18.4px 19.5px,#a29bdd 19.5px 20.7px,#ada7e1 20.7px 21.8px,#5144bb 21.8px 23.0px,#2318a9 23.0px 24.1px,#9189d6 24.1px 25.3px,#aea8e2 25.3px 26.4px,#8e86d5 26.4px 27.6px,#8279d0 27.6px 28.7px,#574bbe 28.7px 29.9px,#7066c8 29.9px 31.0px,#9d96db 31.0px 32.2px,#5b50c0 32.2px 33.3px,#9c95db 33.3px 34.5px,#6f65c8 34.5px 35.6px,#392cb1 35.6px 36.8px,#746bca 36.8px 37.9px,#c9c4ec 37.9px 39.1px,#6055c2 39.1px 40.2px,#6358c3 40.2px 41.4px,#2317a8 41.4px 42.5px,#7c73ce 42.5px 43.7px,#837ad1 43.7px 44.8px,#776dcb 44.8px 46.0px,#b0aae2 46.0px 47.1px)"></div><div style="left:602.28px;top:347.4px;width:3.13px;height:47.1px;background:linear-gradient(#766ccb 0.0px 1.1px,#473ab7 1.1px 2.3px,#e2e0f5 2.3px 3.4px,#8881d3 3.4px 4.6px,#c0bbe8 4.6px 5.7px,#d2ceef 5.7px 6.9px,#a39cdd 6.9px 8.0px,#d3d0ef 8.0px 9.2px,#c3beea 9.2px 10.3px,#aaa4e0 10.3px 11.5px,#a49ede 11.5px 12.6px,#d4d1f0 12.6px 13.8px,#9e98dc 13.8px 14.9px,#5145bb 14.9px 16.1px,#958dd8 16.1px 17.2px,#b4aee4 17.2px 18.4px,#9992d9 18.4px 19.5px,#aba5e1 19.5px 20.7px,#766ccb 20.7px 21.8px,#564abd 21.8px 23.0px,#685dc5 23.0px 24.1px,#9189d6 24.1px 25.3px,#b9b4e6 25.3px 26.4px,#847cd1 26.4px 27.6px,#4538b6 27.6px 28.7px,#655bc4 28.7px 29.9px,#a49ede 29.9px 31.0px,#5246bc 31.0px 32.2px,#8178d0 32.2px 33.3px,#8981d3 33.3px 34.5px,#3529b0 34.5px 35.6px,#655ac4 35.6px 36.8px,#7066c9 36.8px 37.9px,#756bcb 37.9px 39.1px,#7e76cf 39.1px 40.2px,#2c20ac 40.2px 41.4px,#1a0fa5 41.4px 42.5px,#7268c9 42.5px 43.7px,#9e98dc 43.7px 44.8px,#8179d0 44.8px 46.0px,#aba5e0 46.0px 47.1px)"></div><div style="left:605.36px;top:347.4px;width:3.13px;height:47.1px;background:linear-gradient(#6e64c8 0.0px 1.1px,#6256c2 1.1px 2.3px,#fdf9f8 2.3px 3.4px,#8179d0 3.4px 4.6px,#dedbf3 4.6px 5.7px,#e9e7f7 5.7px 6.9px,#8d85d5 6.9px 8.0px,#aba5e0 8.0px 9.2px,#aca6e1 9.2px 10.3px,#d5d2f0 10.3px 11.5px,#786ecc 11.5px 12.6px,#c5c0ea 12.6px 13.8px,#a8a2df 13.8px 14.9px,#786fcc 14.9px 16.1px,#9790d9 16.1px 17.2px,#948dd8 17.2px 18.4px,#5c50c0 18.4px 19.5px,#8a82d4 19.5px 20.7px,#aaa4e0 20.7px 21.8px,#4c3fb9 21.8px 23.0px,#3529b0 23.0px 24.1px,#8880d3 24.1px 25.3px,#8981d3 25.3px 26.4px,#776dcc 26.4px 27.6px,#3b2eb2 27.6px 28.7px,#a19add 28.7px 29.9px,#847cd1 29.9px 31.0px,#736aca 31.0px 32.2px,#4a3db8 32.2px 33.3px,#5a4ebf 33.3px 34.5px,#6e64c8 34.5px 35.6px,#5144bb 35.6px 36.8px,#7b72cd 36.8px 37.9px,#594dbf 37.9px 39.1px,#8e87d5 39.1px 40.2px,#4437b6 40.2px 41.4px,#3d31b3 41.4px 42.5px,#8e87d5 42.5px 43.7px,#796fcc 43.7px 44.8px,#7a71cd 44.8px 46.0px,#8078d0 46.0px 47.1px)"></div><div style="left:608.44px;top:347.4px;width:3.13px;height:47.1px;background:linear-gradient(#736aca 0.0px 1.1px,#847bd1 1.1px 2.3px,#f1f0fa 2.3px 3.4px,#857dd2 3.4px 4.6px,#b5afe4 4.6px 5.7px,#e2dff5 5.7px 6.9px,#9f98dc 6.9px 8.0px,#cdc8ed 8.0px 9.2px,#9b94da 9.2px 10.3px,#9e97db 10.3px 11.5px,#c1bce9 11.5px 12.6px,#a9a3e0 12.6px 13.8px,#a6a0df 13.8px 14.9px,#5c50c0 14.9px 16.1px,#8f87d6 16.1px 17.2px,#968fd8 17.2px 18.4px,#8a82d4 18.4px 19.5px,#bab5e6 19.5px 20.7px,#8b83d4 20.7px 21.8px,#6358c3 21.8px 23.0px,#2c20ac 23.0px 24.1px,#7b72ce 24.1px 25.3px,#aba5e1 25.3px 26.4px,#6156c2 26.4px 27.6px,#7f76cf 27.6px 28.7px,#584dbe 28.7px 29.9px,#7a71cd 29.9px 31.0px,#766dcb 31.0px 32.2px,#6e64c8 32.2px 33.3px,#7d74ce 33.3px 34.5px,#4d41b9 34.5px 35.6px,#968fd8 35.6px 36.8px,#7c73ce 36.8px 37.9px,#7b72cd 37.9px 39.1px,#584cbe 39.1px 40.2px,#4d40b9 40.2px 41.4px,#3428af 41.4px 42.5px,#6b61c6 42.5px 43.7px,#8077cf 43.7px 44.8px,#5b4fbf 44.8px 46.0px,#bab4e6 46.0px 47.1px)"></div><div style="left:611.52px;top:347.4px;width:3.13px;height:47.1px;background:linear-gradient(#bab5e6 0.0px 1.1px,#766ccb 1.1px 2.3px,#dbd8f2 2.3px 3.4px,#776dcc 3.4px 4.6px,#c7c3eb 4.6px 5.7px,#f7e5e1 5.7px 6.9px,#958dd8 6.9px 8.0px,#e9e7f7 8.0px 9.2px,#c3beea 9.2px 10.3px,#5043ba 10.3px 11.5px,#c1bce9 11.5px 12.6px,#bdb8e7 12.6px 13.8px,#d6d2f0 13.8px 14.9px,#7269ca 14.9px 16.1px,#a9a3e0 16.1px 17.2px,#b0aae2 17.2px 18.4px,#b2ace3 18.4px 19.5px,#978fd9 19.5px 20.7px,#9c95db 20.7px 21.8px,#766ccb 21.8px 23.0px,#3125ae 23.0px 24.1px,#7e75cf 24.1px 25.3px,#b2ace3 25.3px 26.4px,#8c84d5 26.4px 27.6px,#665cc4 27.6px 28.7px,#7b72cd 28.7px 29.9px,#cdc8ed 29.9px 31.0px,#6155c2 31.0px 32.2px,#473ab7 32.2px 33.3px,#857cd2 33.3px 34.5px,#382bb1 34.5px 35.6px,#564abd 35.6px 36.8px,#4f43ba 36.8px 37.9px,#9f98dc 37.9px 39.1px,#7066c9 39.1px 40.2px,#483cb7 40.2px 41.4px,#1a0fa5 41.4px 42.5px,#5f54c1 42.5px 43.7px,#847cd1 43.7px 44.8px,#ccc7ed 44.8px 46.0px,#857cd1 46.0px 47.1px)"></div><div style="left:617px;top:347.4px;width:3.34px;height:47.1px;background:linear-gradient(#eec8c0 0.0px 1.1px,#d88f81 1.1px 2.3px,#d99183 2.3px 3.4px,#f1d1cb 3.4px 4.6px,#e4aca1 4.6px 5.7px,#cd7869 5.7px 6.9px,#cb7263 6.9px 8.0px,#f2d5cf 8.0px 9.2px,#cc7566 9.2px 10.3px,#eec8c1 10.3px 11.5px,#d99183 11.5px 12.6px,#efcac3 12.6px 13.8px,#dd9a8e 13.8px 14.9px,#eec6be 14.9px 16.1px,#d58779 16.1px 17.2px,#f5dfdb 17.2px 18.4px,#da9285 18.4px 19.5px,#eabdb4 19.5px 20.7px,#de9e92 20.7px 21.8px,#da9285 21.8px 23.0px,#ebc0b7 23.0px 24.1px,#d88e80 24.1px 25.3px,#bc5545 25.3px 26.4px,#e4aca1 26.4px 27.6px,#db9689 27.6px 28.7px,#e1a59a 28.7px 29.9px,#e9bab1 29.9px 31.0px,#f2d6d0 31.0px 32.2px,#dd9a8d 32.2px 33.3px,#e0a296 33.3px 34.5px,#e0a297 34.5px 35.6px,#e4aca1 35.6px 36.8px,#c26151 36.8px 37.9px,#ca7061 37.9px 39.1px,#c56758 39.1px 40.2px,#d78c7e 40.2px 41.4px,#da9385 41.4px 42.5px,#eabcb3 42.5px 43.7px,#dc988b 43.7px 44.8px,#e3aca1 44.8px 46.0px,#c96e5f 46.0px 47.1px)"></div><div style="left:620.29px;top:347.4px;width:3.34px;height:47.1px;background:linear-gradient(#f4f3fb 0.0px 1.1px,#e9bab1 1.1px 2.3px,#f7e5e2 2.3px 3.4px,#e3aba0 3.4px 4.6px,#edc5bd 4.6px 5.7px,#e7b4aa 5.7px 6.9px,#d88f81 6.9px 8.0px,#e7b5ac 8.0px 9.2px,#c46454 9.2px 10.3px,#ebc0b8 10.3px 11.5px,#fcf6f5 11.5px 12.6px,#f8e6e3 12.6px 13.8px,#d28274 13.8px 14.9px,#f1d1cb 14.9px 16.1px,#de9d91 16.1px 17.2px,#f9ebe9 17.2px 18.4px,#e0a397 18.4px 19.5px,#f8e7e4 19.5px 20.7px,#eabcb3 20.7px 21.8px,#dd9a8d 21.8px 23.0px,#edc4bc 23.0px 24.1px,#e9bab1 24.1px 25.3px,#cc7667 25.3px 26.4px,#e6b1a7 26.4px 27.6px,#ebc0b7 27.6px 28.7px,#f3d8d2 28.7px 29.9px,#edc5be 29.9px 31.0px,#e7b5ab 31.0px 32.2px,#d88f81 32.2px 33.3px,#f0cdc6 33.3px 34.5px,#efcac3 34.5px 35.6px,#e6b3a9 35.6px 36.8px,#e1a59a 36.8px 37.9px,#bc5344 37.9px 39.1px,#f3d9d3 39.1px 40.2px,#d48576 40.2px 41.4px,#e0a297 41.4px 42.5px,#e9bab1 42.5px 43.7px,#f0cfc8 43.7px 44.8px,#eec8c1 44.8px 46.0px,#dfa094 46.0px 47.1px)"></div><div style="left:623.57px;top:347.4px;width:3.34px;height:47.1px;background:linear-gradient(#f9eae7 0.0px 1.1px,#fcf4f2 1.1px 2.3px,#f4dbd6 2.3px 3.4px,#ffffff 3.4px 4.6px,#f9ebe9 4.6px 5.7px,#f6e2de 5.7px 6.9px,#f7e5e1 6.9px 8.0px,#f5ded9 8.0px 9.2px,#d28173 9.2px 10.3px,#fefbfb 10.3px 11.5px,#efedf9 11.5px 12.6px,#fefeff 12.6px 13.8px,#e9b9af 13.8px 14.9px,#b3ade3 14.9px 16.1px,#f7e6e3 16.1px 17.2px,#bcb7e7 17.2px 18.4px,#f0cfc8 18.4px 19.5px,#fdfdfe 19.5px 20.7px,#f1d1cb 20.7px 21.8px,#fffefe 21.8px 23.0px,#fcf4f3 23.0px 24.1px,#f3d7d2 24.1px 25.3px,#edc5bd 25.3px 26.4px,#f5ded9 26.4px 27.6px,#f8e8e5 27.6px 28.7px,#ebe9f8 28.7px 29.9px,#dfddf4 29.9px 31.0px,#fbf3f1 31.0px 32.2px,#fefbfb 32.2px 33.3px,#f8e8e5 33.3px 34.5px,#fbf2f0 34.5px 35.6px,#f1d1ca 35.6px 36.8px,#efccc5 36.8px 37.9px,#d88e80 37.9px 39.1px,#e7b5ab 39.1px 40.2px,#f8e6e3 40.2px 41.4px,#eec8c1 41.4px 42.5px,#f5dfdb 42.5px 43.7px,#f0effa 43.7px 44.8px,#eec7bf 44.8px 46.0px,#eabcb3 46.0px 47.1px)"></div><div style="left:626.86px;top:347.4px;width:3.34px;height:47.1px;background:linear-gradient(#928ad7 0.0px 1.1px,#d1cdef 1.1px 2.3px,#e1dff4 2.3px 3.4px,#b6b0e5 3.4px 4.6px,#f9ebe9 4.6px 5.7px,#c1bce9 5.7px 6.9px,#f6e3df 6.9px 8.0px,#bdb8e8 8.0px 9.2px,#f9ece9 9.2px 10.3px,#b3ade4 10.3px 11.5px,#b3ade3 11.5px 12.6px,#dcd9f3 12.6px 13.8px,#f9ece9 13.8px 14.9px,#bab4e6 14.9px 16.1px,#e9e7f7 16.1px 17.2px,#8981d3 17.2px 18.4px,#f4f3fb 18.4px 19.5px,#cfcbee 19.5px 20.7px,#bfb9e8 20.7px 21.8px,#fbf1f0 21.8px 23.0px,#ccc8ed 23.0px 24.1px,#fbfbfe 24.1px 25.3px,#f9eae8 25.3px 26.4px,#e2e0f5 26.4px 27.6px,#e8e6f7 27.6px 28.7px,#d5d2f0 28.7px 29.9px,#c9c4ec 29.9px 31.0px,#d8d5f1 31.0px 32.2px,#c0bbe8 32.2px 33.3px,#e8e6f7 33.3px 34.5px,#d9d6f1 34.5px 35.6px,#d6d3f0 35.6px 36.8px,#f2f1fa 36.8px 37.9px,#edc3bb 37.9px 39.1px,#e6e4f6 39.1px 40.2px,#edebf9 40.2px 41.4px,#d7d4f1 41.4px 42.5px,#c7c2eb 42.5px 43.7px,#d5d2f0 43.7px 46.0px,#ebe9f8 46.0px 47.1px)"></div><div style="left:630.14px;top:347.4px;width:3.34px;height:47.1px;background:linear-gradient(#655ac4 0.0px 1.1px,#ccc8ed 1.1px 2.3px,#cac5ec 2.3px 3.4px,#aca6e1 3.4px 4.6px,#e2e0f5 4.6px 5.7px,#edecf9 5.7px 6.9px,#fefbfa 6.9px 8.0px,#c7c2eb 8.0px 9.2px,#e8e7f7 9.2px 10.3px,#c4bfea 10.3px 11.5px,#a69fde 11.5px 12.6px,#948dd8 12.6px 13.8px,#f9edea 13.8px 14.9px,#a19add 14.9px 16.1px,#c0bae8 16.1px 17.2px,#a09adc 17.2px 18.4px,#d4d1f0 18.4px 19.5px,#e7e5f6 19.5px 20.7px,#b1abe3 20.7px 21.8px,#dddaf3 21.8px 23.0px,#d9d6f1 23.0px 24.1px,#e9e7f7 24.1px 25.3px,#e4ada2 25.3px 26.4px,#f0effa 26.4px 27.6px,#e7e5f7 27.6px 28.7px,#9c95db 28.7px 29.9px,#ccc8ed 29.9px 31.0px,#e2dff5 31.0px 32.2px,#e2e0f5 32.2px 33.3px,#e0def4 33.3px 34.5px,#d5d1f0 34.5px 35.6px,#bcb7e7 35.6px 36.8px,#fafafd 36.8px 37.9px,#eec9c1 37.9px 39.1px,#dfdcf4 39.1px 40.2px,#fcfcfe 40.2px 41.4px,#b8b2e5 41.4px 42.5px,#eae9f8 42.5px 43.7px,#cbc7ec 43.7px 44.8px,#aea8e2 44.8px 46.0px,#f6f5fc 46.0px 47.1px)"></div><div style="left:633.43px;top:347.4px;width:3.34px;height:47.1px;background:linear-gradient(#9a93da 0.0px 1.1px,#d1cdef 1.1px 2.3px,#edebf9 2.3px 3.4px,#d0ccee 3.4px 4.6px,#f0effa 4.6px 5.7px,#a9a3e0 5.7px 6.9px,#f0cdc6 6.9px 8.0px,#b9b3e6 8.0px 9.2px,#f3d7d1 9.2px 10.3px,#dfddf4 10.3px 11.5px,#e2e0f5 11.5px 12.6px,#dfdcf4 12.6px 13.8px,#faefec 13.8px 14.9px,#a29bdd 14.9px 16.1px,#c9c5ec 16.1px 17.2px,#e3e0f5 17.2px 18.4px,#efedf9 18.4px 19.5px,#e1def4 19.5px 20.7px,#cbc6ec 20.7px 21.8px,#d2cfef 21.8px 23.0px,#edecf9 23.0px 24.1px,#faf0ee 24.1px 25.3px,#f3d6d1 25.3px 26.4px,#f1effa 26.4px 27.6px,#d5d2f0 27.6px 28.7px,#c2bde9 28.7px 29.9px,#b8b2e5 29.9px 31.0px,#e5e3f6 31.0px 32.2px,#f4f3fb 32.2px 33.3px,#cdc8ed 33.3px 34.5px,#a19bdd 34.5px 35.6px,#dedbf3 35.6px 36.8px,#f1d0ca 36.8px 37.9px,#f6e2de 37.9px 39.1px,#f8e7e4 39.1px 40.2px,#edebf8 40.2px 41.4px,#dedcf3 41.4px 42.5px,#aba5e1 42.5px 43.7px,#dedbf3 43.7px 44.8px,#aca6e1 44.8px 46.0px,#f7e6e3 46.0px 47.1px)"></div><div style="left:636.71px;top:347.4px;width:3.34px;height:47.1px;background:linear-gradient(#ebe9f8 0.0px 1.1px,#dedbf3 1.1px 2.3px,#cbc7ed 2.3px 3.4px,#a099dc 3.4px 4.6px,#dad6f2 4.6px 5.7px,#f2f1fa 5.7px 6.9px,#eec6bf 6.9px 8.0px,#cecaee 8.0px 9.2px,#f5ddd9 9.2px 10.3px,#a49ede 10.3px 11.5px,#afa9e2 11.5px 12.6px,#b8b3e5 12.6px 13.8px,#fbf3f1 13.8px 14.9px,#b7b1e5 14.9px 16.1px,#eeecf9 16.1px 17.2px,#dad7f2 17.2px 18.4px,#e0def4 18.4px 19.5px,#eeecf9 19.5px 20.7px,#f0effa 20.7px 21.8px,#dcd9f3 21.8px 23.0px,#a59fde 23.0px 24.1px,#ccc7ed 24.1px 25.3px,#f3d7d2 25.3px 26.4px,#e2e0f5 26.4px 27.6px,#f2f1fa 27.6px 28.7px,#d7d4f1 28.7px 29.9px,#e0ddf4 29.9px 31.0px,#eeecf9 31.0px 32.2px,#fefeff 32.2px 33.3px,#dad7f2 33.3px 34.5px,#d3cfef 34.5px 35.6px,#b2ace3 35.6px 36.8px,#dcd9f2 36.8px 37.9px,#efcac2 37.9px 39.1px,#ccc8ed 39.1px 40.2px,#fdf7f6 40.2px 41.4px,#c4bfea 41.4px 42.5px,#fffeff 42.5px 43.7px,#d0cdee 43.7px 44.8px,#cecaee 44.8px 46.0px,#f4dbd6 46.0px 47.1px)"></div><div style="left:510.3px;top:396.9px;width:3.23px;height:7px;background:linear-gradient(#aba5e0 0.0px 1.2px,#dddbf3 1.2px 2.3px,#ccc8ed 2.3px 3.5px,#b1ace3 3.5px 4.7px,#8a83d4 4.7px 5.8px,#b0aae2 5.8px 7.0px)"></div><div style="left:513.48px;top:396.9px;width:3.23px;height:7px;background:linear-gradient(#b3aee4 0.0px 1.2px,#d7d3f1 1.2px 2.3px,#a099dc 2.3px 3.5px,#cfcaee 3.5px 4.7px,#a6a0df 4.7px 5.8px,#dad7f2 5.8px 7.0px)"></div><div style="left:516.66px;top:396.9px;width:3.23px;height:7px;background:linear-gradient(#e1def4 0.0px 1.2px,#fdf8f7 1.2px 2.3px,#c7c2eb 2.3px 3.5px,#dfdcf4 3.5px 4.7px,#9b94da 4.7px 5.8px,#efeef9 5.8px 7.0px)"></div><div style="left:519.84px;top:396.9px;width:3.23px;height:7px;background:linear-gradient(#d0cdee 0.0px 1.2px,#b1abe3 1.2px 2.3px,#ada7e1 2.3px 3.5px,#bbb5e6 3.5px 4.7px,#9c95db 4.7px 5.8px,#a29bdd 5.8px 7.0px)"></div><div style="left:523.02px;top:396.9px;width:3.23px;height:7px;background:linear-gradient(#dddaf3 0.0px 1.2px,#eae8f8 1.2px 2.3px,#aaa3e0 2.3px 3.5px,#bab5e6 3.5px 4.7px,#e7e5f6 4.7px 5.8px,#b9b3e6 5.8px 7.0px)"></div><div style="left:528px;top:396.9px;width:3.21px;height:7px;background:linear-gradient(#d48577 0.0px 1.2px,#c46454 1.2px 2.3px,#c97060 2.3px 3.5px,#b44437 3.5px 4.7px,#e0a397 4.7px 5.8px,#c36253 5.8px 7.0px)"></div><div style="left:531.16px;top:396.9px;width:3.21px;height:7px;background:linear-gradient(#dfa195 0.0px 1.2px,#c15d4e 1.2px 2.3px,#edc4bc 2.3px 3.5px,#da9486 3.5px 4.7px,#d68a7b 4.7px 5.8px,#d07e6f 5.8px 7.0px)"></div><div style="left:534.32px;top:396.9px;width:3.21px;height:7px;background:linear-gradient(#e1a59a 0.0px 1.2px,#e0a297 1.2px 2.3px,#e8b7ad 2.3px 3.5px,#d28274 3.5px 4.7px,#dd9a8d 4.7px 5.8px,#d88f81 5.8px 7.0px)"></div><div style="left:537.48px;top:396.9px;width:3.21px;height:7px;background:linear-gradient(#ebc0b7 0.0px 1.2px,#d28273 1.2px 2.3px,#e9bab1 2.3px 3.5px,#cf7b6c 3.5px 4.7px,#eabeb5 4.7px 5.8px,#c96e5f 5.8px 7.0px)"></div><div style="left:540.64px;top:396.9px;width:3.21px;height:7px;background:linear-gradient(#d28273 0.0px 1.2px,#d17f71 1.2px 2.3px,#eabbb3 2.3px 3.5px,#d78b7d 3.5px 4.7px,#e4aca2 4.7px 5.8px,#c26050 5.8px 7.0px)"></div><div style="left:543.79px;top:396.9px;width:3.21px;height:7px;background:linear-gradient(#d99083 0.0px 1.2px,#ce7a6b 1.2px 2.3px,#dc998c 2.3px 3.5px,#d88d7f 3.5px 4.7px,#ecc2ba 4.7px 5.8px,#da9285 5.8px 7.0px)"></div><div style="left:546.95px;top:396.9px;width:3.21px;height:7px;background:linear-gradient(#e8b7ae 0.0px 1.2px,#c15f4f 1.2px 2.3px,#e8b7ae 2.3px 3.5px,#da9284 3.5px 4.7px,#db9588 4.7px 5.8px,#dc998c 5.8px 7.0px)"></div><div style="left:550.11px;top:396.9px;width:3.21px;height:7px;background:linear-gradient(#e8b8af 0.0px 1.2px,#ca7061 1.2px 2.3px,#de9d91 2.3px 3.5px,#dc998d 3.5px 4.7px,#e1a599 4.7px 5.8px,#efcbc4 5.8px 7.0px)"></div><div style="left:553.27px;top:396.9px;width:3.21px;height:7px;background:linear-gradient(#d48577 0.0px 1.2px,#d18072 1.2px 2.3px,#e6b3a9 2.3px 3.5px,#c05d4d 3.5px 4.7px,#e4aca1 4.7px 5.8px,#eec7bf 5.8px 7.0px)"></div><div style="left:556.43px;top:396.9px;width:3.21px;height:7px;background:linear-gradient(#e7b4aa 0.0px 1.2px,#d48577 1.2px 2.3px,#e6b1a7 2.3px 3.5px,#ca7061 3.5px 4.7px,#f2d5d0 4.7px 5.8px,#f1d1ca 5.8px 7.0px)"></div><div style="left:559.59px;top:396.9px;width:3.21px;height:7px;background:linear-gradient(#f3d8d3 0.0px 1.2px,#dd9b8e 1.2px 2.3px,#f0cec7 2.3px 3.5px,#d48677 3.5px 4.7px,#dc998d 4.7px 5.8px,#e6b3a9 5.8px 7.0px)"></div><div style="left:562.75px;top:396.9px;width:3.21px;height:7px;background:linear-gradient(#f8e8e5 0.0px 1.2px,#e1a498 1.2px 2.3px,#f1d1cb 2.3px 3.5px,#d88e81 3.5px 4.7px,#e7b5ab 4.7px 5.8px,#e6b1a7 5.8px 7.0px)"></div><div style="left:565.91px;top:396.9px;width:3.21px;height:7px;background:linear-gradient(#efcbc4 0.0px 1.2px,#ecc1b8 1.2px 2.3px,#f3d8d3 2.3px 3.5px,#da9285 3.5px 4.7px,#f9edea 4.7px 5.8px,#dfa195 5.8px 7.0px)"></div><div style="left:569.06px;top:396.9px;width:3.21px;height:7px;background:linear-gradient(#eec7bf 0.0px 1.2px,#da9285 1.2px 2.3px,#fdfdfe 2.3px 3.5px,#d48577 3.5px 4.7px,#f4dbd6 4.7px 5.8px,#efc9c2 5.8px 7.0px)"></div><div style="left:572.22px;top:396.9px;width:3.21px;height:7px;background:linear-gradient(#f3d9d4 0.0px 1.2px,#e7b4ab 1.2px 2.3px,#fefeff 2.3px 3.5px,#f2d4cf 3.5px 4.7px,#f7e5e1 4.7px 5.8px,#ecc2ba 5.8px 7.0px)"></div><div style="left:575.38px;top:396.9px;width:3.21px;height:7px;background:linear-gradient(#f0cec7 0.0px 1.2px,#e7b6ac 1.2px 2.3px,#f8e7e4 2.3px 3.5px,#f3d8d3 3.5px 4.7px,#fbf1ef 4.7px 5.8px,#f4dbd6 5.8px 7.0px)"></div><div style="left:578.54px;top:396.9px;width:3.21px;height:7px;background:linear-gradient(#efcbc4 0.0px 1.2px,#f4dcd8 1.2px 2.3px,#fdf8f7 2.3px 3.5px,#e3aba0 3.5px 4.7px,#f6f5fc 4.7px 5.8px,#f6e0dc 5.8px 7.0px)"></div><div style="left:583.8px;top:396.9px;width:3.13px;height:7px;background:linear-gradient(#e1def4 0.0px 1.2px,#8f87d6 1.2px 2.3px,#bdb7e7 2.3px 3.5px,#9088d6 3.5px 4.7px,#b0aae2 4.7px 5.8px,#b2ace3 5.8px 7.0px)"></div><div style="left:586.88px;top:396.9px;width:3.13px;height:7px;background:linear-gradient(#aea8e2 0.0px 1.2px,#7970cc 1.2px 2.3px,#cbc6ec 2.3px 3.5px,#a09adc 3.5px 4.7px,#ccc7ed 4.7px 5.8px,#8e86d5 5.8px 7.0px)"></div><div style="left:589.96px;top:396.9px;width:3.13px;height:7px;background:linear-gradient(#bdb8e7 0.0px 1.2px,#847bd1 1.2px 2.3px,#beb8e8 2.3px 3.5px,#938cd7 3.5px 4.7px,#d7d4f1 4.7px 5.8px,#c6c1eb 5.8px 7.0px)"></div><div style="left:593.04px;top:396.9px;width:3.13px;height:7px;background:linear-gradient(#b1abe3 0.0px 1.2px,#d5d2f0 1.2px 2.3px,#e2e0f5 2.3px 3.5px,#a29cdd 3.5px 4.7px,#f9f8fd 4.7px 5.8px,#cecaee 5.8px 7.0px)"></div><div style="left:596.12px;top:396.9px;width:3.13px;height:7px;background:linear-gradient(#e4e1f5 0.0px 1.2px,#b5afe4 1.2px 2.3px,#c0bbe9 2.3px 3.5px,#a69fde 3.5px 4.7px,#eae8f7 4.7px 5.8px,#c6c1eb 5.8px 7.0px)"></div><div style="left:599.2px;top:396.9px;width:3.13px;height:7px;background:linear-gradient(#dedbf3 0.0px 1.2px,#a6a0df 1.2px 2.3px,#b5b0e4 2.3px 3.5px,#8b83d4 3.5px 4.7px,#b3aee4 4.7px 5.8px,#8f87d6 5.8px 7.0px)"></div><div style="left:602.28px;top:396.9px;width:3.13px;height:7px;background:linear-gradient(#f0eefa 0.0px 1.2px,#aca6e1 1.2px 2.3px,#ebe9f8 2.3px 3.5px,#6d62c7 3.5px 4.7px,#e1def4 4.7px 5.8px,#a59ede 5.8px 7.0px)"></div><div style="left:605.36px;top:396.9px;width:3.13px;height:7px;background:linear-gradient(#cecaee 0.0px 1.2px,#a9a3e0 1.2px 2.3px,#eceaf8 2.3px 3.5px,#7b72cd 3.5px 4.7px,#edecf9 4.7px 5.8px,#ccc8ed 5.8px 7.0px)"></div><div style="left:608.44px;top:396.9px;width:3.13px;height:7px;background:linear-gradient(#c5c0ea 0.0px 1.2px,#7970cd 1.2px 2.3px,#aaa4e0 2.3px 3.5px,#6358c3 3.5px 4.7px,#a39cdd 4.7px 5.8px,#c6c1eb 5.8px 7.0px)"></div><div style="left:611.52px;top:396.9px;width:3.13px;height:7px;background:linear-gradient(#9189d6 0.0px 1.2px,#8179d0 1.2px 2.3px,#d2cfef 2.3px 3.5px,#827ad1 3.5px 4.7px,#d9d6f1 4.7px 5.8px,#d0ccee 5.8px 7.0px)"></div><div style="left:617px;top:396.9px;width:3.34px;height:7px;background:linear-gradient(#e9bbb2 0.0px 1.2px,#e5b0a6 1.2px 2.3px,#c46556 2.3px 3.5px,#dc998c 3.5px 4.7px,#d07e6f 4.7px 5.8px,#e3aa9f 5.8px 7.0px)"></div><div style="left:620.29px;top:396.9px;width:3.34px;height:7px;background:linear-gradient(#ebc0b8 0.0px 1.2px,#ebbfb7 1.2px 2.3px,#dc978a 2.3px 3.5px,#e6b2a8 3.5px 4.7px,#de9d91 4.7px 5.8px,#e1a69b 5.8px 7.0px)"></div><div style="left:623.57px;top:396.9px;width:3.34px;height:7px;background:linear-gradient(#918ad7 0.0px 1.2px,#b8b3e5 1.2px 2.3px,#eae8f7 2.3px 3.5px,#cbc7ed 3.5px 4.7px,#eeecf9 4.7px 5.8px,#9b94da 5.8px 7.0px)"></div><div style="left:626.86px;top:396.9px;width:3.34px;height:7px;background:linear-gradient(#8d85d5 0.0px 1.2px,#736aca 1.2px 2.3px,#dfddf4 2.3px 3.5px,#c9c5ec 3.5px 4.7px,#9a93da 4.7px 5.8px,#b6b1e5 5.8px 7.0px)"></div><div style="left:630.14px;top:396.9px;width:3.34px;height:7px;background:linear-gradient(#847cd1 0.0px 1.2px,#9790d9 1.2px 2.3px,#f9edea 2.3px 3.5px,#dad7f2 3.5px 4.7px,#c1bce9 4.7px 5.8px,#c3beea 5.8px 7.0px)"></div><div style="left:633.43px;top:396.9px;width:3.34px;height:7px;background:linear-gradient(#c2bde9 0.0px 1.2px,#5c50c0 1.2px 2.3px,#d0ccee 2.3px 3.5px,#dad6f2 3.5px 4.7px,#d9d6f1 4.7px 5.8px,#9891d9 5.8px 7.0px)"></div><div style="left:636.71px;top:396.9px;width:3.34px;height:7px;background:linear-gradient(#b0aae2 0.0px 1.2px,#9d96db 1.2px 2.3px,#d9d6f1 2.3px 3.5px,#bdb8e7 3.5px 4.7px,#f2f1fb 4.7px 5.8px,#beb9e8 5.8px 7.0px)"></div></div>
<svg width="685" height="511" viewBox="0 0 685 511" fill="#151515"><text x="0.2" y="14.7" font-size="25.5" fill="#000">a</text><text x="155.6" y="19.5" font-size="25.5" fill="#000">b</text><text x="292.6" y="14.9" font-size="25.5" fill="#000">c</text><text x="467.7" y="19.2" font-size="25.5" fill="#000">d</text><text x="2.3" y="127.8" font-size="25.5" fill="#000">e</text><text x="218.3" y="132.4" font-size="25.5" fill="#000">f</text><text x="1.9" y="267.3" font-size="25.5" fill="#000">g</text><text x="462.2" y="138.5" font-size="25.5" fill="#000">h</text><text x="454.8" y="420.2" font-size="25.5" fill="#000">i</text><line x1="56.4" y1="21.4" x2="56.4" y2="84.3" stroke="#262626" stroke-width="0.95"/><line x1="53.8" y1="84.3" x2="56.4" y2="84.3" stroke="#262626" stroke-width="0.95"/><text x="50.4" y="87.06" font-size="7.9" text-anchor="end">0.00</text><line x1="53.8" y1="68.67" x2="56.4" y2="68.67" stroke="#262626" stroke-width="0.95"/><text x="50.4" y="71.44" font-size="7.9" text-anchor="end">0.25</text><line x1="53.8" y1="53.05" x2="56.4" y2="53.05" stroke="#262626" stroke-width="0.95"/><text x="50.4" y="55.81" font-size="7.9" text-anchor="end">0.50</text><line x1="53.8" y1="37.42" x2="56.4" y2="37.42" stroke="#262626" stroke-width="0.95"/><text x="50.4" y="40.19" font-size="7.9" text-anchor="end">0.75</text><line x1="53.8" y1="21.8" x2="56.4" y2="21.8" stroke="#262626" stroke-width="0.95"/><text x="50.4" y="24.56" font-size="7.9" text-anchor="end">1.00</text><text x="29.66" y="53.2" font-size="7.6" text-anchor="middle" transform="rotate(-90 29.66 53.2)">Beta Values</text><line x1="56.4" y1="84.3" x2="150.7" y2="84.3" stroke="#262626" stroke-width="0.95"/><line x1="82.3" y1="84.3" x2="82.3" y2="87.3" stroke="#262626" stroke-width="0.95"/><text x="82.3" y="96.23" font-size="8.1" text-anchor="middle">WT</text><line x1="125.3" y1="84.3" x2="125.3" y2="87.3" stroke="#262626" stroke-width="0.95"/><text x="125.3" y="96.23" font-size="8.1" text-anchor="middle">MUT</text><path d="M82.05,22C81.6,22.17 80.92,22.58 79.95,23C78.98,23.42 77.48,24 76.25,24.5C75.02,25 73.57,25.58 72.55,26C71.53,26.42 70.72,26.7 70.15,27C69.58,27.3 69.2,27.38 69.15,27.8C69.1,28.22 69.4,28.35 69.85,29.5C70.3,30.65 71.23,33.03 71.85,34.7C72.47,36.37 73,37.87 73.55,39.5C74.1,41.13 74.68,42.83 75.15,44.5C75.62,46.17 75.97,47.83 76.35,49.5C76.73,51.17 77.12,52.75 77.45,54.5C77.78,56.25 78.12,58.25 78.35,60C78.58,61.75 78.78,63.5 78.85,65C78.92,66.5 78.87,67.83 78.75,69C78.63,70.17 78.52,70.87 78.15,72C77.78,73.13 77.12,74.8 76.55,75.8C75.98,76.8 75.35,77.42 74.75,78C74.15,78.58 73.73,78.88 72.95,79.3C72.17,79.72 70.98,80.17 70.05,80.5C69.12,80.83 68.27,81.05 67.35,81.3C66.43,81.55 65.28,81.8 64.55,82C63.82,82.2 63.18,82.3 62.95,82.5C62.72,82.7 62.58,83 63.15,83.2C63.72,83.4 64.48,83.57 66.35,83.7C68.22,83.83 70.35,83.95 74.35,84C78.35,84.05 86.35,84.05 90.35,84C94.35,83.95 96.48,83.83 98.35,83.7C100.22,83.57 100.98,83.4 101.55,83.2C102.12,83 101.98,82.7 101.75,82.5C101.52,82.3 100.88,82.2 100.15,82C99.42,81.8 98.27,81.55 97.35,81.3C96.43,81.05 95.58,80.83 94.65,80.5C93.72,80.17 92.53,79.72 91.75,79.3C90.97,78.88 90.55,78.58 89.95,78C89.35,77.42 88.72,76.8 88.15,75.8C87.58,74.8 86.92,73.13 86.55,72C86.18,70.87 86.07,70.17 85.95,69C85.83,67.83 85.78,66.5 85.85,65C85.92,63.5 86.12,61.75 86.35,60C86.58,58.25 86.92,56.25 87.25,54.5C87.58,52.75 87.97,51.17 88.35,49.5C88.73,47.83 89.08,46.17 89.55,44.5C90.02,42.83 90.6,41.13 91.15,39.5C91.7,37.87 92.23,36.37 92.85,34.7C93.47,33.03 94.4,30.65 94.85,29.5C95.3,28.35 95.6,28.22 95.55,27.8C95.5,27.38 95.12,27.3 94.55,27C93.98,26.7 93.17,26.42 92.15,26C91.13,25.58 89.68,25 88.45,24.5C87.22,24 85.72,23.42 84.75,23C83.78,22.58 83.1,22.17 82.65,22C82.2,21.83 82.5,21.83 82.05,22Z" fill="none" stroke="#E4C341" stroke-width="0.8"/><path d="M125,22C124.42,22.17 123.37,22.58 122.1,23C120.83,23.42 118.98,24 117.4,24.5C115.82,25 113.83,25.58 112.6,26C111.37,26.42 110.52,26.67 110,27C109.48,27.33 109.42,27.5 109.5,28C109.58,28.5 109.75,28.88 110.5,30C111.25,31.12 113.12,33.12 114,34.7C114.88,36.28 115.22,37.78 115.8,39.5C116.38,41.22 116.97,43.25 117.5,45C118.03,46.75 118.57,48.28 119,50C119.43,51.72 119.67,53.28 120.1,55.3C120.53,57.32 121.27,60.05 121.6,62.1C121.93,64.15 122.13,65.88 122.1,67.6C122.07,69.32 121.73,71.03 121.4,72.4C121.07,73.77 120.6,74.93 120.1,75.8C119.6,76.67 119.12,77.03 118.4,77.6C117.68,78.17 116.73,78.77 115.8,79.2C114.87,79.63 113.72,79.88 112.8,80.2C111.88,80.52 111,80.75 110.3,81.1C109.6,81.45 108.82,81.95 108.6,82.3C108.38,82.65 108.38,82.97 109,83.2C109.62,83.43 110.58,83.57 112.3,83.7C114.02,83.83 116.13,83.95 119.3,84C122.47,84.05 128.13,84.05 131.3,84C134.47,83.95 136.58,83.83 138.3,83.7C140.02,83.57 140.98,83.43 141.6,83.2C142.22,82.97 142.22,82.65 142,82.3C141.78,81.95 141,81.45 140.3,81.1C139.6,80.75 138.72,80.52 137.8,80.2C136.88,79.88 135.73,79.63 134.8,79.2C133.87,78.77 132.92,78.17 132.2,77.6C131.48,77.03 131,76.67 130.5,75.8C130,74.93 129.53,73.77 129.2,72.4C128.87,71.03 128.53,69.32 128.5,67.6C128.47,65.88 128.67,64.15 129,62.1C129.33,60.05 130.07,57.32 130.5,55.3C130.93,53.28 131.17,51.72 131.6,50C132.03,48.28 132.57,46.75 133.1,45C133.63,43.25 134.22,41.22 134.8,39.5C135.38,37.78 135.72,36.28 136.6,34.7C137.48,33.12 139.35,31.12 140.1,30C140.85,28.88 141.02,28.5 141.1,28C141.18,27.5 141.12,27.33 140.6,27C140.08,26.67 139.23,26.42 138,26C136.77,25.58 134.78,25 133.2,24.5C131.62,24 129.77,23.42 128.5,23C127.23,22.58 126.18,22.17 125.6,22C125.02,21.83 125.58,21.83 125,22Z" fill="none" stroke="#C23CF5" stroke-width="0.8"/><line x1="82.3" y1="21.9" x2="82.3" y2="84.3" stroke="#222" stroke-width="0.8"/><rect x="80.1" y="32.9" width="4.4" height="39" fill="#fff" stroke="#222" stroke-width="0.8"/><line x1="80.1" y1="46.2" x2="84.5" y2="46.2" stroke="#111" stroke-width="1.2"/><circle cx="82.3" cy="51.3" r="2" fill="#F0141E"/><line x1="125.3" y1="21.9" x2="125.3" y2="84.3" stroke="#222" stroke-width="0.8"/><rect x="123.1" y="32" width="4.4" height="35.4" fill="#fff" stroke="#222" stroke-width="0.8"/><line x1="123.1" y1="44.1" x2="127.5" y2="44.1" stroke="#111" stroke-width="1.2"/><circle cx="125.3" cy="49.8" r="2" fill="#F0141E"/><line x1="212.8" y1="21.7" x2="212.8" y2="84.7" stroke="#262626" stroke-width="0.95"/><line x1="210.2" y1="84.7" x2="212.8" y2="84.7" stroke="#262626" stroke-width="0.95"/><text x="208" y="87.47" font-size="7.9" text-anchor="end">0</text><line x1="210.2" y1="74.25" x2="212.8" y2="74.25" stroke="#262626" stroke-width="0.95"/><text x="208" y="77.02" font-size="7.9" text-anchor="end">5000</text><line x1="210.2" y1="63.8" x2="212.8" y2="63.8" stroke="#262626" stroke-width="0.95"/><text x="208" y="66.56" font-size="7.9" text-anchor="end">10000</text><line x1="210.2" y1="53.35" x2="212.8" y2="53.35" stroke="#262626" stroke-width="0.95"/><text x="208" y="56.12" font-size="7.9" text-anchor="end">15000</text><line x1="210.2" y1="42.9" x2="212.8" y2="42.9" stroke="#262626" stroke-width="0.95"/><text x="208" y="45.67" font-size="7.9" text-anchor="end">20000</text><line x1="210.2" y1="32.45" x2="212.8" y2="32.45" stroke="#262626" stroke-width="0.95"/><text x="208" y="35.21" font-size="7.9" text-anchor="end">25000</text><line x1="210.2" y1="22" x2="212.8" y2="22" stroke="#262626" stroke-width="0.95"/><text x="208" y="24.77" font-size="7.9" text-anchor="end">30000</text><text x="181.16" y="53.3" font-size="7.6" text-anchor="middle" transform="rotate(-90 181.16 53.3)">DMPs</text><rect x="218.3" y="24.45" width="13.6" height="53.34" fill="#C2281A" stroke="#222" stroke-width="0.7"/><rect x="218.3" y="77.79" width="13.6" height="6.91" fill="#7A80EE" stroke="#222" stroke-width="0.7"/><rect x="238.8" y="40.5" width="9.7" height="9.7" fill="#C2281A"/><rect x="238.8" y="50.2" width="9.7" height="9.7" fill="#7A80EE"/><text x="252.6" y="48.4" font-size="8">Hyper</text><text x="252.6" y="58.2" font-size="8">Hypo</text><line x1="334.8" y1="21.9" x2="334.8" y2="84.5" stroke="#262626" stroke-width="0.95"/><line x1="332.2" y1="84.5" x2="334.8" y2="84.5" stroke="#262626" stroke-width="0.95"/><text x="328" y="87.27" font-size="7.9" text-anchor="end">0.00</text><line x1="332.2" y1="68.92" x2="334.8" y2="68.92" stroke="#262626" stroke-width="0.95"/><text x="328" y="71.69" font-size="7.9" text-anchor="end">0.25</text><line x1="332.2" y1="53.35" x2="334.8" y2="53.35" stroke="#262626" stroke-width="0.95"/><text x="328" y="56.12" font-size="7.9" text-anchor="end">0.50</text><line x1="332.2" y1="37.78" x2="334.8" y2="37.78" stroke="#262626" stroke-width="0.95"/><text x="328" y="40.54" font-size="7.9" text-anchor="end">0.75</text><line x1="332.2" y1="22.2" x2="334.8" y2="22.2" stroke="#262626" stroke-width="0.95"/><text x="328" y="24.97" font-size="7.9" text-anchor="end">1.00</text><text x="307.26" y="53.3" font-size="7.6" text-anchor="middle" transform="rotate(-90 307.26 53.3)">Ratio</text><rect x="338.2" y="70.4" width="13.7" height="13.9" fill="#2A5677"/><rect x="338.2" y="62.5" width="13.7" height="7.9" fill="#3A6F98"/><rect x="338.2" y="55.5" width="13.7" height="7" fill="#4789B5"/><rect x="338.2" y="52.4" width="13.7" height="3.1" fill="#3E7096"/><rect x="338.2" y="51.1" width="13.7" height="1.3" fill="#4F9FD0"/><rect x="338.2" y="21.9" width="13.7" height="29.2" fill="#C3C3C3"/><line x1="338.2" y1="70.4" x2="351.9" y2="70.4" stroke="#111" stroke-width="0.6"/><line x1="338.2" y1="62.5" x2="351.9" y2="62.5" stroke="#111" stroke-width="0.6"/><line x1="338.2" y1="51.1" x2="351.9" y2="51.1" stroke="#111" stroke-width="0.6"/><rect x="338.2" y="21.9" width="13.7" height="62.4" fill="none" stroke="#222" stroke-width="0.7"/><rect x="356.5" y="82.4" width="13.9" height="1.9" fill="#2A5677"/><rect x="356.5" y="80.4" width="13.9" height="2" fill="#3A6F98"/><rect x="356.5" y="78.1" width="13.9" height="2.3" fill="#4789B5"/><rect x="356.5" y="74.9" width="13.9" height="3.2" fill="#4F9FD0"/><rect x="356.5" y="72.3" width="13.9" height="2.6" fill="#5DB4E6"/><rect x="356.5" y="21.9" width="13.9" height="50.4" fill="#C3C3C3"/><line x1="356.5" y1="82.4" x2="370.4" y2="82.4" stroke="#111" stroke-width="0.6"/><line x1="356.5" y1="80.4" x2="370.4" y2="80.4" stroke="#111" stroke-width="0.6"/><line x1="356.5" y1="78.1" x2="370.4" y2="78.1" stroke="#111" stroke-width="0.6"/><line x1="356.5" y1="74.9" x2="370.4" y2="74.9" stroke="#111" stroke-width="0.6"/><line x1="356.5" y1="72.3" x2="370.4" y2="72.3" stroke="#111" stroke-width="0.6"/><rect x="356.5" y="21.9" width="13.9" height="62.4" fill="none" stroke="#222" stroke-width="0.7"/><rect x="374.8" y="72.5" width="13.8" height="11.8" fill="#2A5677"/><rect x="374.8" y="66.4" width="13.8" height="6.1" fill="#3A6F98"/><rect x="374.8" y="61.6" width="13.8" height="4.8" fill="#4789B5"/><rect x="374.8" y="59.4" width="13.8" height="2.2" fill="#4F9FD0"/><rect x="374.8" y="56.7" width="13.8" height="2.7" fill="#5DB4E6"/><rect x="374.8" y="21.9" width="13.8" height="34.8" fill="#C3C3C3"/><line x1="374.8" y1="72.5" x2="388.6" y2="72.5" stroke="#111" stroke-width="0.6"/><line x1="374.8" y1="66.4" x2="388.6" y2="66.4" stroke="#111" stroke-width="0.6"/><line x1="374.8" y1="61.6" x2="388.6" y2="61.6" stroke="#111" stroke-width="0.6"/><line x1="374.8" y1="59.4" x2="388.6" y2="59.4" stroke="#111" stroke-width="0.6"/><line x1="374.8" y1="56.7" x2="388.6" y2="56.7" stroke="#111" stroke-width="0.6"/><rect x="374.8" y="21.9" width="13.8" height="62.4" fill="none" stroke="#222" stroke-width="0.7"/><line x1="334.8" y1="84.5" x2="392.4" y2="84.5" stroke="#262626" stroke-width="0.95"/><line x1="345.05" y1="84.5" x2="345.05" y2="87.4" stroke="#262626" stroke-width="0.95"/><text x="348.05" y="94.4" font-size="8" text-anchor="end" transform="rotate(-45 348.05 94.4)">Hyper</text><line x1="363.4" y1="84.5" x2="363.4" y2="87.4" stroke="#262626" stroke-width="0.95"/><text x="366.4" y="94.4" font-size="8" text-anchor="end" transform="rotate(-45 366.4 94.4)">Hypo</text><line x1="381.75" y1="84.5" x2="381.75" y2="87.4" stroke="#262626" stroke-width="0.95"/><text x="384.75" y="94.4" font-size="8" text-anchor="end" transform="rotate(-45 384.75 94.4)">Array</text><rect x="401" y="23.9" width="10" height="10.12" fill="#C3C3C3" stroke="#333" stroke-width="0.5"/><text x="414" y="32.1" font-size="8">OpenSea</text><rect x="401" y="34.02" width="10" height="10.12" fill="#5DB4E6" stroke="#333" stroke-width="0.5"/><text x="414" y="42.6" font-size="8">S_Shelf</text><rect x="401" y="44.14" width="10" height="10.12" fill="#4F9FD0" stroke="#333" stroke-width="0.5"/><text x="414" y="52.9" font-size="8">N_Shelf</text><rect x="401" y="54.26" width="10" height="10.12" fill="#4789B5" stroke="#333" stroke-width="0.5"/><text x="414" y="63.1" font-size="8">S_Shore</text><rect x="401" y="64.38" width="10" height="10.12" fill="#3A6F98" stroke="#333" stroke-width="0.5"/><text x="414" y="73.6" font-size="8">N_Shore</text><rect x="401" y="74.5" width="10" height="10.12" fill="#2A5677" stroke="#333" stroke-width="0.5"/><text x="414" y="84.2" font-size="8">Island</text><line x1="516.3" y1="21.9" x2="516.3" y2="84.5" stroke="#262626" stroke-width="0.95"/><line x1="513.7" y1="84.5" x2="516.3" y2="84.5" stroke="#262626" stroke-width="0.95"/><text x="509.5" y="87.27" font-size="7.9" text-anchor="end">0.00</text><line x1="513.7" y1="68.92" x2="516.3" y2="68.92" stroke="#262626" stroke-width="0.95"/><text x="509.5" y="71.69" font-size="7.9" text-anchor="end">0.25</text><line x1="513.7" y1="53.35" x2="516.3" y2="53.35" stroke="#262626" stroke-width="0.95"/><text x="509.5" y="56.12" font-size="7.9" text-anchor="end">0.50</text><line x1="513.7" y1="37.78" x2="516.3" y2="37.78" stroke="#262626" stroke-width="0.95"/><text x="509.5" y="40.54" font-size="7.9" text-anchor="end">0.75</text><line x1="513.7" y1="22.2" x2="516.3" y2="22.2" stroke="#262626" stroke-width="0.95"/><text x="509.5" y="24.97" font-size="7.9" text-anchor="end">1.00</text><text x="489.46" y="53.3" font-size="7.6" text-anchor="middle" transform="rotate(-90 489.46 53.3)">Ratio</text><rect x="520.3" y="75.2" width="14.2" height="9.1" fill="#835D78"/><rect x="520.3" y="71.2" width="14.2" height="4" fill="#C993BA"/><rect x="520.3" y="65.2" width="14.2" height="6" fill="#7F7F7F"/><rect x="520.3" y="63" width="14.2" height="2.2" fill="#3A78B5"/><rect x="520.3" y="38.8" width="14.2" height="24.2" fill="#4A98CF"/><rect x="520.3" y="38.4" width="14.2" height="0.4" fill="#62B5E5"/><rect x="520.3" y="36" width="14.2" height="2.4" fill="#7C7C7C"/><rect x="520.3" y="21.9" width="14.2" height="14.1" fill="#C3C3C3"/><line x1="520.3" y1="75.2" x2="534.5" y2="75.2" stroke="#111" stroke-width="0.6"/><line x1="520.3" y1="71.2" x2="534.5" y2="71.2" stroke="#111" stroke-width="0.6"/><line x1="520.3" y1="65.2" x2="534.5" y2="65.2" stroke="#111" stroke-width="0.6"/><line x1="520.3" y1="63" x2="534.5" y2="63" stroke="#111" stroke-width="0.6"/><line x1="520.3" y1="38.8" x2="534.5" y2="38.8" stroke="#111" stroke-width="0.6"/><line x1="520.3" y1="38.4" x2="534.5" y2="38.4" stroke="#111" stroke-width="0.6"/><line x1="520.3" y1="36" x2="534.5" y2="36" stroke="#111" stroke-width="0.6"/><rect x="520.3" y="21.9" width="14.2" height="62.4" fill="none" stroke="#222" stroke-width="0.7"/><rect x="539" y="80.3" width="13.7" height="4" fill="#835D78"/><rect x="539" y="78.3" width="13.7" height="2" fill="#C993BA"/><rect x="539" y="74.8" width="13.7" height="3.5" fill="#7F7F7F"/><rect x="539" y="74" width="13.7" height="0.8" fill="#3A78B5"/><rect x="539" y="53.9" width="13.7" height="20.1" fill="#4A98CF"/><rect x="539" y="53.5" width="13.7" height="0.4" fill="#62B5E5"/><rect x="539" y="51.3" width="13.7" height="2.2" fill="#7C7C7C"/><rect x="539" y="21.9" width="13.7" height="29.4" fill="#C3C3C3"/><line x1="539" y1="80.3" x2="552.7" y2="80.3" stroke="#111" stroke-width="0.6"/><line x1="539" y1="78.3" x2="552.7" y2="78.3" stroke="#111" stroke-width="0.6"/><line x1="539" y1="74.8" x2="552.7" y2="74.8" stroke="#111" stroke-width="0.6"/><line x1="539" y1="74" x2="552.7" y2="74" stroke="#111" stroke-width="0.6"/><line x1="539" y1="53.9" x2="552.7" y2="53.9" stroke="#111" stroke-width="0.6"/><line x1="539" y1="53.5" x2="552.7" y2="53.5" stroke="#111" stroke-width="0.6"/><line x1="539" y1="51.3" x2="552.7" y2="51.3" stroke="#111" stroke-width="0.6"/><rect x="539" y="21.9" width="13.7" height="62.4" fill="none" stroke="#222" stroke-width="0.7"/><rect x="557.3" y="76.5" width="13.9" height="7.8" fill="#835D78"/><rect x="557.3" y="72.1" width="13.9" height="4.4" fill="#C993BA"/><rect x="557.3" y="66.6" width="13.9" height="5.5" fill="#7F7F7F"/><rect x="557.3" y="64.4" width="13.9" height="2.2" fill="#3A78B5"/><rect x="557.3" y="41.8" width="13.9" height="22.6" fill="#4A98CF"/><rect x="557.3" y="41.4" width="13.9" height="0.4" fill="#62B5E5"/><rect x="557.3" y="39.3" width="13.9" height="2.1" fill="#7C7C7C"/><rect x="557.3" y="21.9" width="13.9" height="17.4" fill="#C3C3C3"/><line x1="557.3" y1="76.5" x2="571.2" y2="76.5" stroke="#111" stroke-width="0.6"/><line x1="557.3" y1="72.1" x2="571.2" y2="72.1" stroke="#111" stroke-width="0.6"/><line x1="557.3" y1="66.6" x2="571.2" y2="66.6" stroke="#111" stroke-width="0.6"/><line x1="557.3" y1="64.4" x2="571.2" y2="64.4" stroke="#111" stroke-width="0.6"/><line x1="557.3" y1="41.8" x2="571.2" y2="41.8" stroke="#111" stroke-width="0.6"/><line x1="557.3" y1="41.4" x2="571.2" y2="41.4" stroke="#111" stroke-width="0.6"/><line x1="557.3" y1="39.3" x2="571.2" y2="39.3" stroke="#111" stroke-width="0.6"/><rect x="557.3" y="21.9" width="13.9" height="62.4" fill="none" stroke="#222" stroke-width="0.7"/><line x1="516.3" y1="84.5" x2="574.7" y2="84.5" stroke="#262626" stroke-width="0.95"/><line x1="527.35" y1="84.5" x2="527.35" y2="87.4" stroke="#262626" stroke-width="0.95"/><text x="530.35" y="94.4" font-size="8" text-anchor="end" transform="rotate(-45 530.35 94.4)">Hyper</text><line x1="545.95" y1="84.5" x2="545.95" y2="87.4" stroke="#262626" stroke-width="0.95"/><text x="548.95" y="94.4" font-size="8" text-anchor="end" transform="rotate(-45 548.95 94.4)">Hypo</text><line x1="564.2" y1="84.5" x2="564.2" y2="87.4" stroke="#262626" stroke-width="0.95"/><text x="567.2" y="94.4" font-size="8" text-anchor="end" transform="rotate(-45 567.2 94.4)">Array</text><rect x="586.5" y="22" width="10.2" height="9.84" fill="#C3C3C3" stroke="#333" stroke-width="0.5"/><text x="599.9" y="30.1" font-size="8">Intergenic</text><rect x="586.5" y="31.84" width="10.2" height="9.84" fill="#7C7C7C" stroke="#333" stroke-width="0.5"/><text x="599.9" y="39.94" font-size="8">3'UTR</text><rect x="586.5" y="41.68" width="10.2" height="9.84" fill="#62B5E5" stroke="#333" stroke-width="0.5"/><text x="599.9" y="49.78" font-size="8">ExonBnd</text><rect x="586.5" y="51.52" width="10.2" height="9.84" fill="#4A98CF" stroke="#333" stroke-width="0.5"/><text x="599.9" y="59.62" font-size="8">Body</text><rect x="586.5" y="61.36" width="10.2" height="9.84" fill="#3A78B5" stroke="#333" stroke-width="0.5"/><text x="599.9" y="69.46" font-size="8">1stExon</text><rect x="586.5" y="71.2" width="10.2" height="9.84" fill="#7F7F7F" stroke="#333" stroke-width="0.5"/><text x="599.9" y="79.3" font-size="8">5'UTR</text><rect x="586.5" y="81.04" width="10.2" height="9.84" fill="#C993BA" stroke="#333" stroke-width="0.5"/><text x="599.9" y="89.14" font-size="8">TSS200</text><rect x="586.5" y="90.88" width="10.2" height="9.84" fill="#835D78" stroke="#333" stroke-width="0.5"/><text x="599.9" y="98.98" font-size="8">TSS1500</text><clipPath id="c72"><circle cx="72.8" cy="185.45" r="23"/></clipPath><circle cx="141.5" cy="186" r="59.1" fill="#DE83E3"/><circle cx="72.8" cy="185.45" r="23" fill="#A6EE98"/><circle cx="141.5" cy="186" r="59.1" fill="#C6B6B8" clip-path="url(#c72)"/><circle cx="141.5" cy="186" r="59.1" fill="none" stroke="#1a1a1a" stroke-width="0.95"/><circle cx="72.8" cy="185.45" r="23" fill="none" stroke="#1a1a1a" stroke-width="0.95"/><text x="50.4" y="156.01" font-size="8.9" text-anchor="middle" fill="#111">MT vs BN Hyper</text><text x="65.5" y="188.82" font-size="9.2" text-anchor="middle" fill="#111">3070</text><text x="89.4" y="188.82" font-size="9.2" text-anchor="middle" fill="#111">924</text><text x="145" y="175.92" font-size="9.2" text-anchor="middle" fill="#111">MUT vs WT Hyper</text><text x="143.4" y="192.72" font-size="9.2" text-anchor="middle" fill="#111">24599</text><clipPath id="c282"><circle cx="282" cy="186.3" r="31.5"/></clipPath><circle cx="353.9" cy="186.1" r="59.3" fill="#DE83E3"/><circle cx="282" cy="186.3" r="31.5" fill="#A6EE98"/><circle cx="353.9" cy="186.1" r="59.3" fill="#C6B6B8" clip-path="url(#c282)"/><circle cx="353.9" cy="186.1" r="59.3" fill="none" stroke="#1a1a1a" stroke-width="0.95"/><circle cx="282" cy="186.3" r="31.5" fill="none" stroke="#1a1a1a" stroke-width="0.95"/><text x="257.1" y="149.62" font-size="8.9" text-anchor="middle" fill="#111">MT vs BN Hypo</text><text x="275" y="189.12" font-size="9.2" text-anchor="middle" fill="#111">740</text><text x="304" y="189.12" font-size="9.2" text-anchor="middle" fill="#111">202</text><text x="359.4" y="177.12" font-size="9.2" text-anchor="middle" fill="#111">MUT vs WT Hypo</text><text x="356.7" y="193.02" font-size="9.2" text-anchor="middle" fill="#111">3103</text><polygon points="69.4,329.8 88.95,309.7 88.95,335.6 69.4,348.1" fill="#000" fill-opacity="0.05"/><polygon points="69.4,338.2 88.95,320.4 88.95,329.8 69.4,344.5" fill="#000" fill-opacity="0.1"/><polygon points="69.4,339.91 88.95,323.33 88.95,327.47 69.4,342.69" fill="#000" fill-opacity="0.06"/><polygon points="88.95,309.7 108.5,301.9 108.5,322.3 88.95,335.6" fill="#000" fill-opacity="0.05"/><polygon points="88.95,320.4 108.5,306.9 108.5,314.4 88.95,329.8" fill="#000" fill-opacity="0.1"/><polygon points="88.95,323.33 108.5,308.55 108.5,311.85 88.95,327.47" fill="#000" fill-opacity="0.06"/><polygon points="108.5,301.9 128.05,289.4 128.05,307.9 108.5,322.3" fill="#000" fill-opacity="0.05"/><polygon points="108.5,306.9 128.05,294.4 128.05,300.7 108.5,314.4" fill="#000" fill-opacity="0.1"/><polygon points="108.5,308.55 128.05,296.11 128.05,298.89 108.5,311.85" fill="#000" fill-opacity="0.06"/><line x1="69.4" y1="329.8" x2="69.4" y2="348.1" stroke="#666" stroke-width="0.6"/><rect x="62.1" y="338.2" width="14.6" height="6.3" fill="#6F7EF2" stroke="#666" stroke-width="0.6"/><line x1="62.1" y1="341.3" x2="76.7" y2="341.3" stroke="#333" stroke-width="0.9"/><line x1="88.95" y1="309.7" x2="88.95" y2="335.6" stroke="#666" stroke-width="0.6"/><rect x="81.65" y="320.4" width="14.6" height="9.4" fill="#4169E1" stroke="#666" stroke-width="0.6"/><line x1="81.65" y1="325.4" x2="96.25" y2="325.4" stroke="#333" stroke-width="0.9"/><line x1="108.5" y1="301.9" x2="108.5" y2="322.3" stroke="#666" stroke-width="0.6"/><rect x="101.2" y="306.9" width="14.6" height="7.5" fill="#F4B5BE" stroke="#666" stroke-width="0.6"/><line x1="101.2" y1="310.2" x2="115.8" y2="310.2" stroke="#333" stroke-width="0.9"/><circle cx="108.5" cy="326.6" r="1.1" fill="#111"/><line x1="128.05" y1="289.4" x2="128.05" y2="307.9" stroke="#666" stroke-width="0.6"/><rect x="120.75" y="294.4" width="14.6" height="6.3" fill="#E3211C" stroke="#666" stroke-width="0.6"/><line x1="120.75" y1="297.5" x2="135.35" y2="297.5" stroke="#333" stroke-width="0.9"/><rect x="58.1" y="286.6" width="81.7" height="63.9" fill="none" stroke="#2a2a2a" stroke-width="0.9"/><line x1="54.5" y1="289.3" x2="58.1" y2="289.3" stroke="#262626" stroke-width="0.95"/><text x="51.3" y="292.1" font-size="8" text-anchor="end">1.5</text><line x1="54.5" y1="299.1" x2="58.1" y2="299.1" stroke="#262626" stroke-width="0.95"/><text x="51.3" y="301.9" font-size="8" text-anchor="end">1.0</text><line x1="54.5" y1="308.9" x2="58.1" y2="308.9" stroke="#262626" stroke-width="0.95"/><text x="51.3" y="311.7" font-size="8" text-anchor="end">0.5</text><line x1="54.5" y1="318.7" x2="58.1" y2="318.7" stroke="#262626" stroke-width="0.95"/><text x="51.3" y="321.5" font-size="8" text-anchor="end">0.0</text><line x1="54.5" y1="328.5" x2="58.1" y2="328.5" stroke="#262626" stroke-width="0.95"/><text x="51.3" y="331.3" font-size="8" text-anchor="end">&#8722;0.5</text><line x1="54.5" y1="338.3" x2="58.1" y2="338.3" stroke="#262626" stroke-width="0.95"/><text x="51.3" y="341.1" font-size="8" text-anchor="end">&#8722;1.0</text><line x1="54.5" y1="348.1" x2="58.1" y2="348.1" stroke="#262626" stroke-width="0.95"/><text x="51.3" y="350.9" font-size="8" text-anchor="end">&#8722;1.5</text><line x1="69.4" y1="350.5" x2="69.4" y2="354.4" stroke="#262626" stroke-width="0.95"/><line x1="88.95" y1="350.5" x2="88.95" y2="354.4" stroke="#262626" stroke-width="0.95"/><line x1="108.5" y1="350.5" x2="108.5" y2="354.4" stroke="#262626" stroke-width="0.95"/><line x1="128.05" y1="350.5" x2="128.05" y2="354.4" stroke="#262626" stroke-width="0.95"/><text x="57.9" y="277.86" font-size="7.6">Cluster 1</text><polygon points="167.8,333.1 187.35,312 187.35,335.5 167.8,347.6" fill="#000" fill-opacity="0.05"/><polygon points="167.8,337.4 187.35,323.7 187.35,332.5 167.8,343.9" fill="#000" fill-opacity="0.08"/><polygon points="167.8,338.57 187.35,327.26 187.35,331.14 167.8,341.43" fill="#000" fill-opacity="0.05"/><polygon points="187.35,312 206.9,290.4 206.9,304.1 187.35,335.5" fill="#000" fill-opacity="0.05"/><polygon points="187.35,323.7 206.9,296.3 206.9,301.6 187.35,332.5" fill="#000" fill-opacity="0.08"/><polygon points="187.35,327.26 206.9,297.73 206.9,300.07 187.35,331.14" fill="#000" fill-opacity="0.05"/><polygon points="206.9,290.4 226.45,302.2 226.45,312 206.9,304.1" fill="#000" fill-opacity="0.05"/><polygon points="206.9,296.3 226.45,305.1 226.45,309.6 206.9,301.6" fill="#000" fill-opacity="0.08"/><polygon points="206.9,297.73 226.45,306.51 226.45,308.49 206.9,300.07" fill="#000" fill-opacity="0.05"/><line x1="167.8" y1="333.1" x2="167.8" y2="347.6" stroke="#666" stroke-width="0.6"/><rect x="160.5" y="337.4" width="14.6" height="6.5" fill="#6F7EF2" stroke="#666" stroke-width="0.6"/><line x1="160.5" y1="340" x2="175.1" y2="340" stroke="#333" stroke-width="0.9"/><line x1="187.35" y1="312" x2="187.35" y2="335.5" stroke="#666" stroke-width="0.6"/><rect x="180.05" y="323.7" width="14.6" height="8.8" fill="#4169E1" stroke="#666" stroke-width="0.6"/><line x1="180.05" y1="329.2" x2="194.65" y2="329.2" stroke="#333" stroke-width="0.9"/><line x1="187.35" y1="306" x2="187.35" y2="311" stroke="#111" stroke-width="2.2" stroke-linecap="round"/><line x1="206.9" y1="290.4" x2="206.9" y2="304.1" stroke="#666" stroke-width="0.6"/><rect x="199.6" y="296.3" width="14.6" height="5.3" fill="#F4B5BE" stroke="#666" stroke-width="0.6"/><line x1="199.6" y1="298.9" x2="214.2" y2="298.9" stroke="#333" stroke-width="0.9"/><line x1="206.9" y1="308.6" x2="206.9" y2="310.4" stroke="#111" stroke-width="2.2" stroke-linecap="round"/><line x1="226.45" y1="302.2" x2="226.45" y2="312" stroke="#666" stroke-width="0.6"/><rect x="219.15" y="305.1" width="14.6" height="4.5" fill="#E3211C" stroke="#666" stroke-width="0.6"/><line x1="219.15" y1="307.5" x2="233.75" y2="307.5" stroke="#333" stroke-width="0.9"/><line x1="226.45" y1="317.4" x2="226.45" y2="321.8" stroke="#111" stroke-width="2.2" stroke-linecap="round"/><rect x="156.5" y="286.6" width="81.7" height="63.9" fill="none" stroke="#2a2a2a" stroke-width="0.9"/><line x1="152.9" y1="289.3" x2="156.5" y2="289.3" stroke="#262626" stroke-width="0.95"/><line x1="152.9" y1="299.1" x2="156.5" y2="299.1" stroke="#262626" stroke-width="0.95"/><line x1="152.9" y1="308.9" x2="156.5" y2="308.9" stroke="#262626" stroke-width="0.95"/><line x1="152.9" y1="318.7" x2="156.5" y2="318.7" stroke="#262626" stroke-width="0.95"/><line x1="152.9" y1="328.5" x2="156.5" y2="328.5" stroke="#262626" stroke-width="0.95"/><line x1="152.9" y1="338.3" x2="156.5" y2="338.3" stroke="#262626" stroke-width="0.95"/><line x1="152.9" y1="348.1" x2="156.5" y2="348.1" stroke="#262626" stroke-width="0.95"/><line x1="167.8" y1="350.5" x2="167.8" y2="354.4" stroke="#262626" stroke-width="0.95"/><line x1="187.35" y1="350.5" x2="187.35" y2="354.4" stroke="#262626" stroke-width="0.95"/><line x1="206.9" y1="350.5" x2="206.9" y2="354.4" stroke="#262626" stroke-width="0.95"/><line x1="226.45" y1="350.5" x2="226.45" y2="354.4" stroke="#262626" stroke-width="0.95"/><text x="156.3" y="277.86" font-size="7.6">Cluster 2</text><polygon points="265.8,289.5 285.35,297 285.35,327.2 265.8,303" fill="#000" fill-opacity="0.04"/><polygon points="265.8,292 285.35,309 285.35,318.2 265.8,297.7" fill="#000" fill-opacity="0.07"/><polygon points="265.8,293.45 285.35,310.98 285.35,315.02 265.8,295.95" fill="#000" fill-opacity="0.04"/><polygon points="285.35,297 304.9,311.6 304.9,345.2 285.35,327.2" fill="#000" fill-opacity="0.04"/><polygon points="285.35,309 304.9,325.3 304.9,335.5 285.35,318.2" fill="#000" fill-opacity="0.07"/><polygon points="285.35,310.98 304.9,327.96 304.9,332.44 285.35,315.02" fill="#000" fill-opacity="0.04"/><polygon points="304.9,311.6 324.45,319.4 324.45,347.2 304.9,345.2" fill="#000" fill-opacity="0.04"/><polygon points="304.9,325.3 324.45,331.9 324.45,340.9 304.9,335.5" fill="#000" fill-opacity="0.07"/><polygon points="304.9,327.96 324.45,334.42 324.45,338.38 304.9,332.44" fill="#000" fill-opacity="0.04"/><line x1="265.8" y1="289.5" x2="265.8" y2="303" stroke="#666" stroke-width="0.6"/><rect x="258.5" y="292" width="14.6" height="5.7" fill="#6F7EF2" stroke="#666" stroke-width="0.6"/><line x1="258.5" y1="294.7" x2="273.1" y2="294.7" stroke="#333" stroke-width="0.9"/><line x1="265.8" y1="305" x2="265.8" y2="312" stroke="#111" stroke-width="2.2" stroke-linecap="round"/><line x1="285.35" y1="297" x2="285.35" y2="327.2" stroke="#666" stroke-width="0.6"/><rect x="278.05" y="309" width="14.6" height="9.2" fill="#4169E1" stroke="#666" stroke-width="0.6"/><line x1="278.05" y1="313" x2="292.65" y2="313" stroke="#333" stroke-width="0.9"/><circle cx="285.35" cy="295" r="1.1" fill="#111"/><line x1="304.9" y1="311.6" x2="304.9" y2="345.2" stroke="#666" stroke-width="0.6"/><rect x="297.6" y="325.3" width="14.6" height="10.2" fill="#F4B5BE" stroke="#666" stroke-width="0.6"/><line x1="297.6" y1="330.2" x2="312.2" y2="330.2" stroke="#333" stroke-width="0.9"/><line x1="324.45" y1="319.4" x2="324.45" y2="347.2" stroke="#666" stroke-width="0.6"/><rect x="317.15" y="331.9" width="14.6" height="9" fill="#E3211C" stroke="#666" stroke-width="0.6"/><line x1="317.15" y1="336.4" x2="331.75" y2="336.4" stroke="#333" stroke-width="0.9"/><circle cx="324.45" cy="316.9" r="1.1" fill="#111"/><rect x="254.5" y="286.6" width="81.5" height="63.9" fill="none" stroke="#2a2a2a" stroke-width="0.9"/><line x1="250.9" y1="289.3" x2="254.5" y2="289.3" stroke="#262626" stroke-width="0.95"/><line x1="250.9" y1="299.1" x2="254.5" y2="299.1" stroke="#262626" stroke-width="0.95"/><line x1="250.9" y1="308.9" x2="254.5" y2="308.9" stroke="#262626" stroke-width="0.95"/><line x1="250.9" y1="318.7" x2="254.5" y2="318.7" stroke="#262626" stroke-width="0.95"/><line x1="250.9" y1="328.5" x2="254.5" y2="328.5" stroke="#262626" stroke-width="0.95"/><line x1="250.9" y1="338.3" x2="254.5" y2="338.3" stroke="#262626" stroke-width="0.95"/><line x1="250.9" y1="348.1" x2="254.5" y2="348.1" stroke="#262626" stroke-width="0.95"/><line x1="265.8" y1="350.5" x2="265.8" y2="354.4" stroke="#262626" stroke-width="0.95"/><line x1="285.35" y1="350.5" x2="285.35" y2="354.4" stroke="#262626" stroke-width="0.95"/><line x1="304.9" y1="350.5" x2="304.9" y2="354.4" stroke="#262626" stroke-width="0.95"/><line x1="324.45" y1="350.5" x2="324.45" y2="354.4" stroke="#262626" stroke-width="0.95"/><text x="254.3" y="277.86" font-size="7.6">Cluster 3</text><polygon points="362.7,328.6 382.25,332.5 382.25,340 362.7,335.5" fill="#000" fill-opacity="0.03"/><polygon points="362.7,331.1 382.25,335.5 382.25,338.8 362.7,334.5" fill="#000" fill-opacity="0.05"/><polygon points="362.7,332.15 382.25,336.27 382.25,337.73 362.7,333.65" fill="#000" fill-opacity="0.03"/><polygon points="382.25,332.5 401.8,292.8 401.8,324.1 382.25,340" fill="#000" fill-opacity="0.03"/><polygon points="382.25,335.5 401.8,299.2 401.8,311 382.25,338.8" fill="#000" fill-opacity="0.05"/><polygon points="382.25,336.27 401.8,300.6 401.8,305.8 382.25,337.73" fill="#000" fill-opacity="0.03"/><polygon points="401.8,292.8 421.35,289.9 421.35,313.9 401.8,324.1" fill="#000" fill-opacity="0.03"/><polygon points="401.8,299.2 421.35,295 421.35,305.1 401.8,311" fill="#000" fill-opacity="0.05"/><polygon points="401.8,300.6 421.35,297.98 421.35,302.42 401.8,305.8" fill="#000" fill-opacity="0.03"/><line x1="362.7" y1="328.6" x2="362.7" y2="335.5" stroke="#666" stroke-width="0.6"/><rect x="355.4" y="331.1" width="14.6" height="3.4" fill="#6F7EF2" stroke="#666" stroke-width="0.6"/><line x1="355.4" y1="332.9" x2="370" y2="332.9" stroke="#333" stroke-width="0.9"/><line x1="362.7" y1="320.4" x2="362.7" y2="327" stroke="#111" stroke-width="2.2" stroke-linecap="round"/><line x1="382.25" y1="332.5" x2="382.25" y2="340" stroke="#666" stroke-width="0.6"/><rect x="374.95" y="335.5" width="14.6" height="3.3" fill="#4169E1" stroke="#666" stroke-width="0.6"/><line x1="374.95" y1="337" x2="389.55" y2="337" stroke="#333" stroke-width="0.9"/><circle cx="382.25" cy="331" r="1.1" fill="#111"/><circle cx="382.25" cy="344.3" r="1.1" fill="#111"/><line x1="401.8" y1="292.8" x2="401.8" y2="324.1" stroke="#666" stroke-width="0.6"/><rect x="394.5" y="299.2" width="14.6" height="11.8" fill="#F4B5BE" stroke="#666" stroke-width="0.6"/><line x1="394.5" y1="303.2" x2="409.1" y2="303.2" stroke="#333" stroke-width="0.9"/><line x1="421.35" y1="289.9" x2="421.35" y2="313.9" stroke="#666" stroke-width="0.6"/><rect x="414.05" y="295" width="14.6" height="10.1" fill="#E3211C" stroke="#666" stroke-width="0.6"/><line x1="414.05" y1="300.2" x2="428.65" y2="300.2" stroke="#333" stroke-width="0.9"/><rect x="351.4" y="286.6" width="81" height="63.9" fill="none" stroke="#2a2a2a" stroke-width="0.9"/><line x1="347.8" y1="289.3" x2="351.4" y2="289.3" stroke="#262626" stroke-width="0.95"/><line x1="347.8" y1="299.1" x2="351.4" y2="299.1" stroke="#262626" stroke-width="0.95"/><line x1="347.8" y1="308.9" x2="351.4" y2="308.9" stroke="#262626" stroke-width="0.95"/><line x1="347.8" y1="318.7" x2="351.4" y2="318.7" stroke="#262626" stroke-width="0.95"/><line x1="347.8" y1="328.5" x2="351.4" y2="328.5" stroke="#262626" stroke-width="0.95"/><line x1="347.8" y1="338.3" x2="351.4" y2="338.3" stroke="#262626" stroke-width="0.95"/><line x1="347.8" y1="348.1" x2="351.4" y2="348.1" stroke="#262626" stroke-width="0.95"/><line x1="362.7" y1="350.5" x2="362.7" y2="354.4" stroke="#262626" stroke-width="0.95"/><line x1="382.25" y1="350.5" x2="382.25" y2="354.4" stroke="#262626" stroke-width="0.95"/><line x1="401.8" y1="350.5" x2="401.8" y2="354.4" stroke="#262626" stroke-width="0.95"/><line x1="421.35" y1="350.5" x2="421.35" y2="354.4" stroke="#262626" stroke-width="0.95"/><text x="351.2" y="277.86" font-size="7.6">Cluster 4</text><polygon points="69.8,439.6 89.35,411.2 89.35,426.8 69.8,456.8" fill="#000" fill-opacity="0.09"/><polygon points="69.8,447.4 89.35,413.5 89.35,421.4 69.8,452.7" fill="#000" fill-opacity="0.1"/><polygon points="69.8,448.73 89.35,414.36 89.35,417.84 69.8,451.07" fill="#000" fill-opacity="0.05"/><polygon points="89.35,411.2 108.9,420 108.9,444.4 89.35,426.8" fill="#000" fill-opacity="0.09"/><polygon points="89.35,413.5 108.9,432.3 108.9,440.5 89.35,421.4" fill="#000" fill-opacity="0.1"/><polygon points="89.35,414.36 108.9,435.4 108.9,439 89.35,417.84" fill="#000" fill-opacity="0.05"/><polygon points="108.9,420 128.45,398.5 128.45,417.6 108.9,444.4" fill="#000" fill-opacity="0.09"/><polygon points="108.9,432.3 128.45,405.3 128.45,410.2 108.9,440.5" fill="#000" fill-opacity="0.1"/><polygon points="108.9,435.4 128.45,406.82 128.45,408.98 108.9,439" fill="#000" fill-opacity="0.05"/><line x1="69.8" y1="439.6" x2="69.8" y2="456.8" stroke="#666" stroke-width="0.6"/><rect x="62.5" y="447.4" width="14.6" height="5.3" fill="#6F7EF2" stroke="#666" stroke-width="0.6"/><line x1="62.5" y1="449.9" x2="77.1" y2="449.9" stroke="#333" stroke-width="0.9"/><line x1="89.35" y1="411.2" x2="89.35" y2="426.8" stroke="#666" stroke-width="0.6"/><rect x="82.05" y="413.5" width="14.6" height="7.9" fill="#4169E1" stroke="#666" stroke-width="0.6"/><line x1="82.05" y1="416.1" x2="96.65" y2="416.1" stroke="#333" stroke-width="0.9"/><line x1="89.35" y1="431.7" x2="89.35" y2="436.6" stroke="#111" stroke-width="2.2" stroke-linecap="round"/><line x1="108.9" y1="420" x2="108.9" y2="444.4" stroke="#666" stroke-width="0.6"/><rect x="101.6" y="432.3" width="14.6" height="8.2" fill="#F4B5BE" stroke="#666" stroke-width="0.6"/><line x1="101.6" y1="437.2" x2="116.2" y2="437.2" stroke="#333" stroke-width="0.9"/><circle cx="108.9" cy="418" r="1.1" fill="#111"/><line x1="128.45" y1="398.5" x2="128.45" y2="417.6" stroke="#666" stroke-width="0.6"/><rect x="121.15" y="405.3" width="14.6" height="4.9" fill="#E3211C" stroke="#666" stroke-width="0.6"/><line x1="121.15" y1="407.9" x2="135.75" y2="407.9" stroke="#333" stroke-width="0.9"/><rect x="58.5" y="395.2" width="80.8" height="64.6" fill="none" stroke="#2a2a2a" stroke-width="0.9"/><line x1="54.9" y1="398.25" x2="58.5" y2="398.25" stroke="#262626" stroke-width="0.95"/><text x="51.7" y="401.05" font-size="8" text-anchor="end">1.5</text><line x1="54.9" y1="408.1" x2="58.5" y2="408.1" stroke="#262626" stroke-width="0.95"/><text x="51.7" y="410.9" font-size="8" text-anchor="end">1.0</text><line x1="54.9" y1="417.95" x2="58.5" y2="417.95" stroke="#262626" stroke-width="0.95"/><text x="51.7" y="420.75" font-size="8" text-anchor="end">0.5</text><line x1="54.9" y1="427.8" x2="58.5" y2="427.8" stroke="#262626" stroke-width="0.95"/><text x="51.7" y="430.6" font-size="8" text-anchor="end">0.0</text><line x1="54.9" y1="437.65" x2="58.5" y2="437.65" stroke="#262626" stroke-width="0.95"/><text x="51.7" y="440.45" font-size="8" text-anchor="end">&#8722;0.5</text><line x1="54.9" y1="447.5" x2="58.5" y2="447.5" stroke="#262626" stroke-width="0.95"/><text x="51.7" y="450.3" font-size="8" text-anchor="end">&#8722;1.0</text><line x1="54.9" y1="457.35" x2="58.5" y2="457.35" stroke="#262626" stroke-width="0.95"/><text x="51.7" y="460.15" font-size="8" text-anchor="end">&#8722;1.5</text><line x1="69.8" y1="459.8" x2="69.8" y2="463.7" stroke="#262626" stroke-width="0.95"/><line x1="89.35" y1="459.8" x2="89.35" y2="463.7" stroke="#262626" stroke-width="0.95"/><line x1="108.9" y1="459.8" x2="108.9" y2="463.7" stroke="#262626" stroke-width="0.95"/><line x1="128.45" y1="459.8" x2="128.45" y2="463.7" stroke="#262626" stroke-width="0.95"/><text x="58.3" y="386.86" font-size="7.6">Cluster 5</text><text x="72.5" y="466.6" font-size="7.3" text-anchor="end" transform="rotate(-90 72.5 466.6)">WT</text><text x="92.05" y="466.6" font-size="7.3" text-anchor="end" transform="rotate(-90 92.05 466.6)">MUT</text><text x="111.6" y="466.6" font-size="7.3" text-anchor="end" transform="rotate(-90 111.6 466.6)">WT</text><text x="131.15" y="466.6" font-size="7.3" text-anchor="end" transform="rotate(-90 131.15 466.6)">MUT</text><line x1="62.8" y1="489.4" x2="96" y2="489.4" stroke="#444" stroke-width="0.8"/><line x1="101.1" y1="489.4" x2="134.4" y2="489.4" stroke="#444" stroke-width="0.8"/><text x="78.3" y="503.36" font-size="7.6" text-anchor="middle">BN</text><text x="116.7" y="503.36" font-size="7.6" text-anchor="middle">MT</text><polygon points="167.8,398.5 187.35,420 187.35,449.4 167.8,422" fill="#000" fill-opacity="0.05"/><polygon points="167.8,403.4 187.35,432.3 187.35,441.5 167.8,411.2" fill="#000" fill-opacity="0.07"/><polygon points="167.8,404.18 187.35,435.18 187.35,439.22 167.8,407.62" fill="#000" fill-opacity="0.04"/><polygon points="187.35,420 206.9,400 206.9,436.7 187.35,449.4" fill="#000" fill-opacity="0.05"/><polygon points="187.35,432.3 206.9,412.8 206.9,423.3 187.35,441.5" fill="#000" fill-opacity="0.07"/><polygon points="187.35,435.18 206.9,414.79 206.9,419.41 187.35,439.22" fill="#000" fill-opacity="0.04"/><polygon points="206.9,400 226.45,438 226.45,456.2 206.9,436.7" fill="#000" fill-opacity="0.05"/><polygon points="206.9,412.8 226.45,445.5 226.45,451.7 206.9,423.3" fill="#000" fill-opacity="0.07"/><polygon points="206.9,414.79 226.45,447.44 226.45,450.16 206.9,419.41" fill="#000" fill-opacity="0.04"/><line x1="167.8" y1="398.5" x2="167.8" y2="422" stroke="#666" stroke-width="0.6"/><rect x="160.5" y="403.4" width="14.6" height="7.8" fill="#6F7EF2" stroke="#666" stroke-width="0.6"/><line x1="160.5" y1="405.9" x2="175.1" y2="405.9" stroke="#333" stroke-width="0.9"/><circle cx="167.8" cy="427.3" r="1.1" fill="#111"/><line x1="187.35" y1="420" x2="187.35" y2="449.4" stroke="#666" stroke-width="0.6"/><rect x="180.05" y="432.3" width="14.6" height="9.2" fill="#4169E1" stroke="#666" stroke-width="0.6"/><line x1="180.05" y1="437.2" x2="194.65" y2="437.2" stroke="#333" stroke-width="0.9"/><line x1="206.9" y1="400" x2="206.9" y2="436.7" stroke="#666" stroke-width="0.6"/><rect x="199.6" y="412.8" width="14.6" height="10.5" fill="#F4B5BE" stroke="#666" stroke-width="0.6"/><line x1="199.6" y1="417.1" x2="214.2" y2="417.1" stroke="#333" stroke-width="0.9"/><line x1="226.45" y1="438" x2="226.45" y2="456.2" stroke="#666" stroke-width="0.6"/><rect x="219.15" y="445.5" width="14.6" height="6.2" fill="#E3211C" stroke="#666" stroke-width="0.6"/><line x1="219.15" y1="448.8" x2="233.75" y2="448.8" stroke="#333" stroke-width="0.9"/><rect x="156.5" y="395.2" width="81.8" height="64.6" fill="none" stroke="#2a2a2a" stroke-width="0.9"/><line x1="152.9" y1="398.25" x2="156.5" y2="398.25" stroke="#262626" stroke-width="0.95"/><line x1="152.9" y1="408.1" x2="156.5" y2="408.1" stroke="#262626" stroke-width="0.95"/><line x1="152.9" y1="417.95" x2="156.5" y2="417.95" stroke="#262626" stroke-width="0.95"/><line x1="152.9" y1="427.8" x2="156.5" y2="427.8" stroke="#262626" stroke-width="0.95"/><line x1="152.9" y1="437.65" x2="156.5" y2="437.65" stroke="#262626" stroke-width="0.95"/><line x1="152.9" y1="447.5" x2="156.5" y2="447.5" stroke="#262626" stroke-width="0.95"/><line x1="152.9" y1="457.35" x2="156.5" y2="457.35" stroke="#262626" stroke-width="0.95"/><line x1="167.8" y1="459.8" x2="167.8" y2="463.7" stroke="#262626" stroke-width="0.95"/><line x1="187.35" y1="459.8" x2="187.35" y2="463.7" stroke="#262626" stroke-width="0.95"/><line x1="206.9" y1="459.8" x2="206.9" y2="463.7" stroke="#262626" stroke-width="0.95"/><line x1="226.45" y1="459.8" x2="226.45" y2="463.7" stroke="#262626" stroke-width="0.95"/><text x="156.3" y="386.86" font-size="7.6">Cluster 6</text><text x="170.5" y="466.6" font-size="7.3" text-anchor="end" transform="rotate(-90 170.5 466.6)">WT</text><text x="190.05" y="466.6" font-size="7.3" text-anchor="end" transform="rotate(-90 190.05 466.6)">MUT</text><text x="209.6" y="466.6" font-size="7.3" text-anchor="end" transform="rotate(-90 209.6 466.6)">WT</text><text x="229.15" y="466.6" font-size="7.3" text-anchor="end" transform="rotate(-90 229.15 466.6)">MUT</text><line x1="160.8" y1="489.4" x2="194" y2="489.4" stroke="#444" stroke-width="0.8"/><line x1="199.1" y1="489.4" x2="232.4" y2="489.4" stroke="#444" stroke-width="0.8"/><text x="176.3" y="503.36" font-size="7.6" text-anchor="middle">BN</text><text x="214.7" y="503.36" font-size="7.6" text-anchor="middle">MT</text><polygon points="265.6,443.1 285.15,405 285.15,413 265.6,456.2" fill="#000" fill-opacity="0.2"/><polygon points="265.6,447.4 285.15,407.9 285.15,410.4 265.6,451.7" fill="#000" fill-opacity="0.08"/><polygon points="265.6,448.65 285.15,408.45 285.15,409.55 265.6,450.55" fill="#000" fill-opacity="0.04"/><polygon points="285.15,405 304.7,428 304.7,444.5 285.15,413" fill="#000" fill-opacity="0.2"/><polygon points="285.15,407.9 304.7,436 304.7,441.5 285.15,410.4" fill="#000" fill-opacity="0.08"/><polygon points="285.15,408.45 304.7,437.79 304.7,440.21 285.15,409.55" fill="#000" fill-opacity="0.04"/><polygon points="304.7,428 324.25,411.2 324.25,418 304.7,444.5" fill="#000" fill-opacity="0.2"/><polygon points="304.7,436 324.25,412.8 324.25,415.5 304.7,441.5" fill="#000" fill-opacity="0.08"/><polygon points="304.7,437.79 324.25,413.51 324.25,414.69 304.7,440.21" fill="#000" fill-opacity="0.04"/><line x1="265.6" y1="443.1" x2="265.6" y2="456.2" stroke="#666" stroke-width="0.6"/><rect x="258.3" y="447.4" width="14.6" height="4.3" fill="#6F7EF2" stroke="#666" stroke-width="0.6"/><line x1="258.3" y1="449.6" x2="272.9" y2="449.6" stroke="#333" stroke-width="0.9"/><line x1="285.15" y1="405" x2="285.15" y2="413" stroke="#666" stroke-width="0.6"/><rect x="277.85" y="407.9" width="14.6" height="2.5" fill="#4169E1" stroke="#666" stroke-width="0.6"/><line x1="277.85" y1="409" x2="292.45" y2="409" stroke="#333" stroke-width="0.9"/><line x1="285.15" y1="400" x2="285.15" y2="404.8" stroke="#111" stroke-width="2.2" stroke-linecap="round"/><line x1="285.15" y1="413.2" x2="285.15" y2="418" stroke="#111" stroke-width="2.2" stroke-linecap="round"/><line x1="304.7" y1="428" x2="304.7" y2="444.5" stroke="#666" stroke-width="0.6"/><rect x="297.4" y="436" width="14.6" height="5.5" fill="#F4B5BE" stroke="#666" stroke-width="0.6"/><line x1="297.4" y1="439" x2="312" y2="439" stroke="#333" stroke-width="0.9"/><line x1="304.7" y1="417.7" x2="304.7" y2="427.5" stroke="#111" stroke-width="2.2" stroke-linecap="round"/><line x1="324.25" y1="411.2" x2="324.25" y2="418" stroke="#666" stroke-width="0.6"/><rect x="316.95" y="412.8" width="14.6" height="2.7" fill="#E3211C" stroke="#666" stroke-width="0.6"/><line x1="316.95" y1="414.1" x2="331.55" y2="414.1" stroke="#333" stroke-width="0.9"/><line x1="324.25" y1="419" x2="324.25" y2="425.9" stroke="#111" stroke-width="2.2" stroke-linecap="round"/><rect x="254.3" y="395.2" width="81.2" height="64.6" fill="none" stroke="#2a2a2a" stroke-width="0.9"/><line x1="250.7" y1="398.25" x2="254.3" y2="398.25" stroke="#262626" stroke-width="0.95"/><line x1="250.7" y1="408.1" x2="254.3" y2="408.1" stroke="#262626" stroke-width="0.95"/><line x1="250.7" y1="417.95" x2="254.3" y2="417.95" stroke="#262626" stroke-width="0.95"/><line x1="250.7" y1="427.8" x2="254.3" y2="427.8" stroke="#262626" stroke-width="0.95"/><line x1="250.7" y1="437.65" x2="254.3" y2="437.65" stroke="#262626" stroke-width="0.95"/><line x1="250.7" y1="447.5" x2="254.3" y2="447.5" stroke="#262626" stroke-width="0.95"/><line x1="250.7" y1="457.35" x2="254.3" y2="457.35" stroke="#262626" stroke-width="0.95"/><line x1="265.6" y1="459.8" x2="265.6" y2="463.7" stroke="#262626" stroke-width="0.95"/><line x1="285.15" y1="459.8" x2="285.15" y2="463.7" stroke="#262626" stroke-width="0.95"/><line x1="304.7" y1="459.8" x2="304.7" y2="463.7" stroke="#262626" stroke-width="0.95"/><line x1="324.25" y1="459.8" x2="324.25" y2="463.7" stroke="#262626" stroke-width="0.95"/><text x="254.1" y="386.86" font-size="7.6">Cluster 7</text><text x="268.3" y="466.6" font-size="7.3" text-anchor="end" transform="rotate(-90 268.3 466.6)">WT</text><text x="287.85" y="466.6" font-size="7.3" text-anchor="end" transform="rotate(-90 287.85 466.6)">MUT</text><text x="307.4" y="466.6" font-size="7.3" text-anchor="end" transform="rotate(-90 307.4 466.6)">WT</text><text x="326.95" y="466.6" font-size="7.3" text-anchor="end" transform="rotate(-90 326.95 466.6)">MUT</text><line x1="258.6" y1="489.4" x2="291.8" y2="489.4" stroke="#444" stroke-width="0.8"/><line x1="296.9" y1="489.4" x2="330.2" y2="489.4" stroke="#444" stroke-width="0.8"/><text x="274.1" y="503.36" font-size="7.6" text-anchor="middle">BN</text><text x="312.5" y="503.36" font-size="7.6" text-anchor="middle">MT</text><polygon points="362.7,439.6 382.25,400.4 382.25,420 362.7,444.7" fill="#000" fill-opacity="0.1"/><polygon points="362.7,441 382.25,408.3 382.25,413.6 362.7,443.9" fill="#000" fill-opacity="0.07"/><polygon points="362.7,441.66 382.25,409.63 382.25,411.97 362.7,442.94" fill="#000" fill-opacity="0.04"/><polygon points="382.25,400.4 401.8,442 401.8,449 382.25,420" fill="#000" fill-opacity="0.1"/><polygon points="382.25,408.3 401.8,445.3 401.8,447.4 382.25,413.6" fill="#000" fill-opacity="0.07"/><polygon points="382.25,409.63 401.8,445.94 401.8,446.86 382.25,411.97" fill="#000" fill-opacity="0.04"/><polygon points="401.8,442 421.35,401 421.35,421 401.8,449" fill="#000" fill-opacity="0.1"/><polygon points="401.8,445.3 421.35,408.7 421.35,413.6 401.8,447.4" fill="#000" fill-opacity="0.07"/><polygon points="401.8,445.94 421.35,410.12 421.35,412.28 401.8,446.86" fill="#000" fill-opacity="0.04"/><line x1="362.7" y1="439.6" x2="362.7" y2="444.7" stroke="#666" stroke-width="0.6"/><rect x="355.4" y="441" width="14.6" height="2.9" fill="#6F7EF2" stroke="#666" stroke-width="0.6"/><line x1="355.4" y1="442.3" x2="370" y2="442.3" stroke="#333" stroke-width="0.9"/><line x1="362.7" y1="429" x2="362.7" y2="439" stroke="#111" stroke-width="2.2" stroke-linecap="round"/><circle cx="362.7" cy="426.3" r="1.1" fill="#111"/><line x1="382.25" y1="400.4" x2="382.25" y2="420" stroke="#666" stroke-width="0.6"/><rect x="374.95" y="408.3" width="14.6" height="5.3" fill="#4169E1" stroke="#666" stroke-width="0.6"/><line x1="374.95" y1="410.8" x2="389.55" y2="410.8" stroke="#333" stroke-width="0.9"/><line x1="382.25" y1="421" x2="382.25" y2="433.7" stroke="#111" stroke-width="2.2" stroke-linecap="round"/><line x1="401.8" y1="442" x2="401.8" y2="449" stroke="#666" stroke-width="0.6"/><rect x="394.5" y="445.3" width="14.6" height="2.1" fill="#F4B5BE" stroke="#666" stroke-width="0.6"/><line x1="394.5" y1="446.4" x2="409.1" y2="446.4" stroke="#333" stroke-width="0.9"/><circle cx="401.8" cy="439.6" r="1.1" fill="#111"/><line x1="401.8" y1="451.3" x2="401.8" y2="456.2" stroke="#111" stroke-width="2.2" stroke-linecap="round"/><line x1="421.35" y1="401" x2="421.35" y2="421" stroke="#666" stroke-width="0.6"/><rect x="414.05" y="408.7" width="14.6" height="4.9" fill="#E3211C" stroke="#666" stroke-width="0.6"/><line x1="414.05" y1="411.2" x2="428.65" y2="411.2" stroke="#333" stroke-width="0.9"/><circle cx="421.35" cy="398.9" r="1.1" fill="#111"/><circle cx="421.35" cy="426.3" r="1.1" fill="#111"/><rect x="351.4" y="395.2" width="81" height="64.6" fill="none" stroke="#2a2a2a" stroke-width="0.9"/><line x1="347.8" y1="398.25" x2="351.4" y2="398.25" stroke="#262626" stroke-width="0.95"/><line x1="347.8" y1="408.1" x2="351.4" y2="408.1" stroke="#262626" stroke-width="0.95"/><line x1="347.8" y1="417.95" x2="351.4" y2="417.95" stroke="#262626" stroke-width="0.95"/><line x1="347.8" y1="427.8" x2="351.4" y2="427.8" stroke="#262626" stroke-width="0.95"/><line x1="347.8" y1="437.65" x2="351.4" y2="437.65" stroke="#262626" stroke-width="0.95"/><line x1="347.8" y1="447.5" x2="351.4" y2="447.5" stroke="#262626" stroke-width="0.95"/><line x1="347.8" y1="457.35" x2="351.4" y2="457.35" stroke="#262626" stroke-width="0.95"/><line x1="362.7" y1="459.8" x2="362.7" y2="463.7" stroke="#262626" stroke-width="0.95"/><line x1="382.25" y1="459.8" x2="382.25" y2="463.7" stroke="#262626" stroke-width="0.95"/><line x1="401.8" y1="459.8" x2="401.8" y2="463.7" stroke="#262626" stroke-width="0.95"/><line x1="421.35" y1="459.8" x2="421.35" y2="463.7" stroke="#262626" stroke-width="0.95"/><text x="351.2" y="386.86" font-size="7.6">Cluster 8</text><text x="365.4" y="466.6" font-size="7.3" text-anchor="end" transform="rotate(-90 365.4 466.6)">WT</text><text x="384.95" y="466.6" font-size="7.3" text-anchor="end" transform="rotate(-90 384.95 466.6)">MUT</text><text x="404.5" y="466.6" font-size="7.3" text-anchor="end" transform="rotate(-90 404.5 466.6)">WT</text><text x="424.05" y="466.6" font-size="7.3" text-anchor="end" transform="rotate(-90 424.05 466.6)">MUT</text><line x1="355.7" y1="489.4" x2="388.9" y2="489.4" stroke="#444" stroke-width="0.8"/><line x1="394" y1="489.4" x2="427.3" y2="489.4" stroke="#444" stroke-width="0.8"/><text x="371.2" y="503.36" font-size="7.6" text-anchor="middle">BN</text><text x="409.6" y="503.36" font-size="7.6" text-anchor="middle">MT</text><text x="30.66" y="318.7" font-size="7.6" text-anchor="middle" transform="rotate(-90 30.66 318.7)">Scaled beta values</text><text x="30.26" y="427.8" font-size="7.6" text-anchor="middle" transform="rotate(-90 30.26 427.8)">Scaled beta values</text><line x1="511.89" y1="147.64" x2="511.89" y2="153.6" stroke="#444" stroke-width="0.6"/><line x1="515.07" y1="147.64" x2="515.07" y2="153.6" stroke="#444" stroke-width="0.6"/><line x1="511.89" y1="147.64" x2="515.07" y2="147.64" stroke="#444" stroke-width="0.6"/><line x1="521.43" y1="148.78" x2="521.43" y2="153.6" stroke="#444" stroke-width="0.6"/><line x1="524.61" y1="148.78" x2="524.61" y2="153.6" stroke="#444" stroke-width="0.6"/><line x1="521.43" y1="148.78" x2="524.61" y2="148.78" stroke="#444" stroke-width="0.6"/><line x1="518.25" y1="147.54" x2="518.25" y2="153.6" stroke="#444" stroke-width="0.6"/><line x1="523.02" y1="147.54" x2="523.02" y2="148.78" stroke="#444" stroke-width="0.6"/><line x1="518.25" y1="147.54" x2="523.02" y2="147.54" stroke="#444" stroke-width="0.6"/><line x1="513.48" y1="146.3" x2="513.48" y2="147.64" stroke="#444" stroke-width="0.6"/><line x1="520.63" y1="146.3" x2="520.63" y2="147.54" stroke="#444" stroke-width="0.6"/><line x1="513.48" y1="146.3" x2="520.63" y2="146.3" stroke="#444" stroke-width="0.6"/><line x1="529.58" y1="148.23" x2="529.58" y2="153.6" stroke="#444" stroke-width="0.6"/><line x1="532.74" y1="148.23" x2="532.74" y2="153.6" stroke="#444" stroke-width="0.6"/><line x1="529.58" y1="148.23" x2="532.74" y2="148.23" stroke="#444" stroke-width="0.6"/><line x1="531.16" y1="147.47" x2="531.16" y2="148.23" stroke="#444" stroke-width="0.6"/><line x1="535.9" y1="147.47" x2="535.9" y2="153.6" stroke="#444" stroke-width="0.6"/><line x1="531.16" y1="147.47" x2="535.9" y2="147.47" stroke="#444" stroke-width="0.6"/><line x1="533.53" y1="146.59" x2="533.53" y2="147.47" stroke="#444" stroke-width="0.6"/><line x1="539.06" y1="146.59" x2="539.06" y2="153.6" stroke="#444" stroke-width="0.6"/><line x1="533.53" y1="146.59" x2="539.06" y2="146.59" stroke="#444" stroke-width="0.6"/><line x1="545.37" y1="150.03" x2="545.37" y2="153.6" stroke="#444" stroke-width="0.6"/><line x1="548.53" y1="150.03" x2="548.53" y2="153.6" stroke="#444" stroke-width="0.6"/><line x1="545.37" y1="150.03" x2="548.53" y2="150.03" stroke="#444" stroke-width="0.6"/><line x1="542.21" y1="148.61" x2="542.21" y2="153.6" stroke="#444" stroke-width="0.6"/><line x1="546.95" y1="148.61" x2="546.95" y2="150.03" stroke="#444" stroke-width="0.6"/><line x1="542.21" y1="148.61" x2="546.95" y2="148.61" stroke="#444" stroke-width="0.6"/><line x1="554.85" y1="150.7" x2="554.85" y2="153.6" stroke="#444" stroke-width="0.6"/><line x1="558.01" y1="150.7" x2="558.01" y2="153.6" stroke="#444" stroke-width="0.6"/><line x1="554.85" y1="150.7" x2="558.01" y2="150.7" stroke="#444" stroke-width="0.6"/><line x1="551.69" y1="148.46" x2="551.69" y2="153.6" stroke="#444" stroke-width="0.6"/><line x1="556.43" y1="148.46" x2="556.43" y2="150.7" stroke="#444" stroke-width="0.6"/><line x1="551.69" y1="148.46" x2="556.43" y2="148.46" stroke="#444" stroke-width="0.6"/><line x1="544.58" y1="147.24" x2="544.58" y2="148.61" stroke="#444" stroke-width="0.6"/><line x1="554.06" y1="147.24" x2="554.06" y2="148.46" stroke="#444" stroke-width="0.6"/><line x1="544.58" y1="147.24" x2="554.06" y2="147.24" stroke="#444" stroke-width="0.6"/><line x1="536.29" y1="145.26" x2="536.29" y2="146.59" stroke="#444" stroke-width="0.6"/><line x1="549.32" y1="145.26" x2="549.32" y2="147.24" stroke="#444" stroke-width="0.6"/><line x1="536.29" y1="145.26" x2="549.32" y2="145.26" stroke="#444" stroke-width="0.6"/><line x1="564.33" y1="148.37" x2="564.33" y2="153.6" stroke="#444" stroke-width="0.6"/><line x1="567.49" y1="148.37" x2="567.49" y2="153.6" stroke="#444" stroke-width="0.6"/><line x1="564.33" y1="148.37" x2="567.49" y2="148.37" stroke="#444" stroke-width="0.6"/><line x1="561.17" y1="146.65" x2="561.17" y2="153.6" stroke="#444" stroke-width="0.6"/><line x1="565.91" y1="146.65" x2="565.91" y2="148.37" stroke="#444" stroke-width="0.6"/><line x1="561.17" y1="146.65" x2="565.91" y2="146.65" stroke="#444" stroke-width="0.6"/><line x1="570.64" y1="147.4" x2="570.64" y2="153.6" stroke="#444" stroke-width="0.6"/><line x1="573.8" y1="147.4" x2="573.8" y2="153.6" stroke="#444" stroke-width="0.6"/><line x1="570.64" y1="147.4" x2="573.8" y2="147.4" stroke="#444" stroke-width="0.6"/><line x1="576.96" y1="148.17" x2="576.96" y2="153.6" stroke="#444" stroke-width="0.6"/><line x1="580.12" y1="148.17" x2="580.12" y2="153.6" stroke="#444" stroke-width="0.6"/><line x1="576.96" y1="148.17" x2="580.12" y2="148.17" stroke="#444" stroke-width="0.6"/><line x1="572.22" y1="146.62" x2="572.22" y2="147.4" stroke="#444" stroke-width="0.6"/><line x1="578.54" y1="146.62" x2="578.54" y2="148.17" stroke="#444" stroke-width="0.6"/><line x1="572.22" y1="146.62" x2="578.54" y2="146.62" stroke="#444" stroke-width="0.6"/><line x1="563.54" y1="145.98" x2="563.54" y2="146.65" stroke="#444" stroke-width="0.6"/><line x1="575.38" y1="145.98" x2="575.38" y2="146.62" stroke="#444" stroke-width="0.6"/><line x1="563.54" y1="145.98" x2="575.38" y2="145.98" stroke="#444" stroke-width="0.6"/><line x1="542.81" y1="141.4" x2="542.81" y2="145.26" stroke="#444" stroke-width="0.6"/><line x1="569.46" y1="141.4" x2="569.46" y2="145.98" stroke="#444" stroke-width="0.6"/><line x1="542.81" y1="141.4" x2="569.46" y2="141.4" stroke="#444" stroke-width="0.6"/><line x1="591.5" y1="148.81" x2="591.5" y2="153.6" stroke="#444" stroke-width="0.6"/><line x1="594.58" y1="148.81" x2="594.58" y2="153.6" stroke="#444" stroke-width="0.6"/><line x1="591.5" y1="148.81" x2="594.58" y2="148.81" stroke="#444" stroke-width="0.6"/><line x1="588.42" y1="148.2" x2="588.42" y2="153.6" stroke="#444" stroke-width="0.6"/><line x1="593.04" y1="148.2" x2="593.04" y2="148.81" stroke="#444" stroke-width="0.6"/><line x1="588.42" y1="148.2" x2="593.04" y2="148.2" stroke="#444" stroke-width="0.6"/><line x1="585.34" y1="146.69" x2="585.34" y2="153.6" stroke="#444" stroke-width="0.6"/><line x1="590.73" y1="146.69" x2="590.73" y2="148.2" stroke="#444" stroke-width="0.6"/><line x1="585.34" y1="146.69" x2="590.73" y2="146.69" stroke="#444" stroke-width="0.6"/><line x1="597.66" y1="146.92" x2="597.66" y2="153.6" stroke="#444" stroke-width="0.6"/><line x1="600.74" y1="146.92" x2="600.74" y2="153.6" stroke="#444" stroke-width="0.6"/><line x1="597.66" y1="146.92" x2="600.74" y2="146.92" stroke="#444" stroke-width="0.6"/><line x1="588.03" y1="145.73" x2="588.03" y2="146.69" stroke="#444" stroke-width="0.6"/><line x1="599.2" y1="145.73" x2="599.2" y2="146.92" stroke="#444" stroke-width="0.6"/><line x1="588.03" y1="145.73" x2="599.2" y2="145.73" stroke="#444" stroke-width="0.6"/><line x1="603.82" y1="146.92" x2="603.82" y2="153.6" stroke="#444" stroke-width="0.6"/><line x1="606.9" y1="146.92" x2="606.9" y2="153.6" stroke="#444" stroke-width="0.6"/><line x1="603.82" y1="146.92" x2="606.9" y2="146.92" stroke="#444" stroke-width="0.6"/><line x1="609.98" y1="146.96" x2="609.98" y2="153.6" stroke="#444" stroke-width="0.6"/><line x1="613.06" y1="146.96" x2="613.06" y2="153.6" stroke="#444" stroke-width="0.6"/><line x1="609.98" y1="146.96" x2="613.06" y2="146.96" stroke="#444" stroke-width="0.6"/><line x1="605.36" y1="146.28" x2="605.36" y2="146.92" stroke="#444" stroke-width="0.6"/><line x1="611.52" y1="146.28" x2="611.52" y2="146.96" stroke="#444" stroke-width="0.6"/><line x1="605.36" y1="146.28" x2="611.52" y2="146.28" stroke="#444" stroke-width="0.6"/><line x1="593.62" y1="142.7" x2="593.62" y2="145.73" stroke="#444" stroke-width="0.6"/><line x1="608.44" y1="142.7" x2="608.44" y2="146.28" stroke="#444" stroke-width="0.6"/><line x1="593.62" y1="142.7" x2="608.44" y2="142.7" stroke="#444" stroke-width="0.6"/><line x1="618.64" y1="145.17" x2="618.64" y2="153.6" stroke="#444" stroke-width="0.6"/><line x1="621.93" y1="145.17" x2="621.93" y2="153.6" stroke="#444" stroke-width="0.6"/><line x1="618.64" y1="145.17" x2="621.93" y2="145.17" stroke="#444" stroke-width="0.6"/><line x1="625.21" y1="147.12" x2="625.21" y2="153.6" stroke="#444" stroke-width="0.6"/><line x1="628.5" y1="147.12" x2="628.5" y2="153.6" stroke="#444" stroke-width="0.6"/><line x1="625.21" y1="147.12" x2="628.5" y2="147.12" stroke="#444" stroke-width="0.6"/><line x1="631.79" y1="148.07" x2="631.79" y2="153.6" stroke="#444" stroke-width="0.6"/><line x1="635.07" y1="148.07" x2="635.07" y2="153.6" stroke="#444" stroke-width="0.6"/><line x1="631.79" y1="148.07" x2="635.07" y2="148.07" stroke="#444" stroke-width="0.6"/><line x1="633.43" y1="147.44" x2="633.43" y2="148.07" stroke="#444" stroke-width="0.6"/><line x1="638.36" y1="147.44" x2="638.36" y2="153.6" stroke="#444" stroke-width="0.6"/><line x1="633.43" y1="147.44" x2="638.36" y2="147.44" stroke="#444" stroke-width="0.6"/><line x1="626.86" y1="145.52" x2="626.86" y2="147.12" stroke="#444" stroke-width="0.6"/><line x1="635.89" y1="145.52" x2="635.89" y2="147.44" stroke="#444" stroke-width="0.6"/><line x1="626.86" y1="145.52" x2="635.89" y2="145.52" stroke="#444" stroke-width="0.6"/><line x1="620.29" y1="141.7" x2="620.29" y2="145.17" stroke="#444" stroke-width="0.6"/><line x1="631.38" y1="141.7" x2="631.38" y2="145.52" stroke="#444" stroke-width="0.6"/><line x1="620.29" y1="141.7" x2="631.38" y2="141.7" stroke="#444" stroke-width="0.6"/><line x1="518" y1="136.6" x2="518" y2="146.3" stroke="#444" stroke-width="0.6"/><line x1="556.6" y1="136.6" x2="556.6" y2="141.4" stroke="#444" stroke-width="0.6"/><line x1="518" y1="136.6" x2="556.6" y2="136.6" stroke="#444" stroke-width="0.6"/><line x1="600.1" y1="134.9" x2="600.1" y2="142.7" stroke="#444" stroke-width="0.6"/><line x1="625.1" y1="134.9" x2="625.1" y2="141.7" stroke="#444" stroke-width="0.6"/><line x1="600.1" y1="134.9" x2="625.1" y2="134.9" stroke="#444" stroke-width="0.6"/><line x1="537.4" y1="131.5" x2="537.4" y2="136.6" stroke="#444" stroke-width="0.6"/><line x1="612.4" y1="131.5" x2="612.4" y2="134.9" stroke="#444" stroke-width="0.6"/><line x1="537.4" y1="131.5" x2="612.4" y2="131.5" stroke="#444" stroke-width="0.6"/><line x1="510.3" y1="140.2" x2="651" y2="140.2" stroke="#999" stroke-width="0.5" stroke-dasharray="1 1.2"/><text x="538.2" y="126.17" font-size="8.2" text-anchor="middle">MUT</text><text x="610.4" y="126.17" font-size="8.2" text-anchor="middle">WT</text><rect x="510.3" y="154.6" width="15.9" height="10.6" fill="#1A0FE6"/><rect x="528" y="154.6" width="53.7" height="10.6" fill="#E5200E"/><rect x="583.8" y="154.6" width="30.8" height="10.6" fill="#7B86F2"/><rect x="617" y="154.6" width="23" height="10.6" fill="#F3B5BD"/><rect x="487.2" y="167.4" width="9.6" height="19" fill="#000"/><rect x="486.3" y="168.2" width="0.9" height="0.8" fill="#000"/><rect x="485.77" y="169.1" width="1.43" height="0.8" fill="#000"/><rect x="486.07" y="170" width="1.13" height="0.8" fill="#000"/><rect x="485.67" y="170.9" width="1.53" height="0.8" fill="#000"/><rect x="485.64" y="171.8" width="1.56" height="0.8" fill="#000"/><rect x="486.59" y="172.7" width="0.61" height="0.8" fill="#000"/><rect x="486.68" y="173.6" width="0.52" height="0.8" fill="#000"/><rect x="485.28" y="174.5" width="1.92" height="0.8" fill="#000"/><rect x="486.26" y="175.4" width="0.94" height="0.8" fill="#000"/><rect x="486.3" y="176.3" width="0.9" height="0.8" fill="#000"/><rect x="485.01" y="177.2" width="2.19" height="0.8" fill="#000"/><rect x="485.9" y="178.1" width="1.3" height="0.8" fill="#000"/><rect x="485.28" y="179" width="1.92" height="0.8" fill="#000"/><rect x="485.89" y="179.9" width="1.31" height="0.8" fill="#000"/><rect x="485.61" y="180.8" width="1.59" height="0.8" fill="#000"/><rect x="486.44" y="181.7" width="0.76" height="0.8" fill="#000"/><rect x="485.62" y="182.6" width="1.58" height="0.8" fill="#000"/><rect x="485.22" y="183.5" width="1.98" height="0.8" fill="#000"/><rect x="485.81" y="184.4" width="1.39" height="0.8" fill="#000"/><rect x="489.86" y="181" width="0.57" height="0.45" fill="#fff" fill-opacity="0.8"/><rect x="489.46" y="181.29" width="0.83" height="0.45" fill="#fff" fill-opacity="0.8"/><rect x="490.83" y="168.93" width="1.02" height="0.45" fill="#fff" fill-opacity="0.8"/><rect x="490.89" y="180.62" width="1.29" height="0.45" fill="#fff" fill-opacity="0.8"/><rect x="497.6" y="167.4" width="10.7" height="19" fill="#fec690"/><text x="502.95" y="179.77" font-size="8.2" text-anchor="middle" fill="#333">C3</text><rect x="487.2" y="188.8" width="9.6" height="10.9" fill="#000"/><rect x="485.13" y="189.6" width="2.07" height="0.8" fill="#000"/><rect x="486.03" y="190.5" width="1.17" height="0.8" fill="#000"/><rect x="485.34" y="191.4" width="1.86" height="0.8" fill="#000"/><rect x="485.94" y="192.3" width="1.26" height="0.8" fill="#000"/><rect x="485.11" y="193.2" width="2.09" height="0.8" fill="#000"/><rect x="485.21" y="194.1" width="1.99" height="0.8" fill="#000"/><rect x="486.53" y="195" width="0.67" height="0.8" fill="#000"/><rect x="486.47" y="195.9" width="0.73" height="0.8" fill="#000"/><rect x="486.33" y="196.8" width="0.87" height="0.8" fill="#000"/><rect x="485.06" y="197.7" width="2.14" height="0.8" fill="#000"/><rect x="489.63" y="193.68" width="0.83" height="0.45" fill="#fff" fill-opacity="0.8"/><rect x="488.43" y="194.31" width="0.89" height="0.45" fill="#fff" fill-opacity="0.8"/><rect x="497.6" y="188.8" width="10.7" height="10.9" fill="#c4e7bf"/><text x="502.95" y="197.12" font-size="8.2" text-anchor="middle" fill="#333">C6</text><rect x="487.2" y="201.7" width="9.6" height="14" fill="#000"/><rect x="485.71" y="202.5" width="1.49" height="0.8" fill="#000"/><rect x="485.71" y="203.4" width="1.49" height="0.8" fill="#000"/><rect x="485.16" y="204.3" width="2.04" height="0.8" fill="#000"/><rect x="485.54" y="205.2" width="1.66" height="0.8" fill="#000"/><rect x="485.12" y="206.1" width="2.08" height="0.8" fill="#000"/><rect x="485.24" y="207" width="1.96" height="0.8" fill="#000"/><rect x="485.02" y="207.9" width="2.18" height="0.8" fill="#000"/><rect x="485.56" y="208.8" width="1.64" height="0.8" fill="#000"/><rect x="486.42" y="209.7" width="0.78" height="0.8" fill="#000"/><rect x="485.24" y="210.6" width="1.96" height="0.8" fill="#000"/><rect x="485.06" y="211.5" width="2.14" height="0.8" fill="#000"/><rect x="485.16" y="212.4" width="2.04" height="0.8" fill="#000"/><rect x="485.73" y="213.3" width="1.47" height="0.8" fill="#000"/><rect x="487.56" y="211.27" width="1.41" height="0.45" fill="#fff" fill-opacity="0.8"/><rect x="487.92" y="209.58" width="0.57" height="0.45" fill="#fff" fill-opacity="0.8"/><rect x="491.45" y="212.95" width="0.6" height="0.45" fill="#fff" fill-opacity="0.8"/><rect x="497.6" y="201.7" width="10.7" height="14" fill="#70acd1"/><text x="502.95" y="211.57" font-size="8.2" text-anchor="middle" fill="#333">C8</text><rect x="487.2" y="217.7" width="9.6" height="52.8" fill="#000"/><rect x="485.34" y="218.5" width="1.86" height="0.8" fill="#000"/><rect x="486" y="219.4" width="1.2" height="0.8" fill="#000"/><rect x="486.44" y="220.3" width="0.76" height="0.8" fill="#000"/><rect x="486.2" y="221.2" width="1" height="0.8" fill="#000"/><rect x="485.39" y="222.1" width="1.81" height="0.8" fill="#000"/><rect x="485.22" y="223" width="1.98" height="0.8" fill="#000"/><rect x="486.62" y="223.9" width="0.58" height="0.8" fill="#000"/><rect x="485.66" y="224.8" width="1.54" height="0.8" fill="#000"/><rect x="486.62" y="225.7" width="0.58" height="0.8" fill="#000"/><rect x="485.48" y="226.6" width="1.72" height="0.8" fill="#000"/><rect x="486.14" y="227.5" width="1.06" height="0.8" fill="#000"/><rect x="485.2" y="228.4" width="2" height="0.8" fill="#000"/><rect x="485.03" y="229.3" width="2.17" height="0.8" fill="#000"/><rect x="485.84" y="230.2" width="1.36" height="0.8" fill="#000"/><rect x="485" y="231.1" width="2.2" height="0.8" fill="#000"/><rect x="486.17" y="232" width="1.03" height="0.8" fill="#000"/><rect x="486.57" y="232.9" width="0.63" height="0.8" fill="#000"/><rect x="485.68" y="233.8" width="1.52" height="0.8" fill="#000"/><rect x="486.65" y="234.7" width="0.55" height="0.8" fill="#000"/><rect x="486.36" y="235.6" width="0.84" height="0.8" fill="#000"/><rect x="486.01" y="236.5" width="1.19" height="0.8" fill="#000"/><rect x="485.66" y="237.4" width="1.54" height="0.8" fill="#000"/><rect x="486.43" y="238.3" width="0.77" height="0.8" fill="#000"/><rect x="486.63" y="239.2" width="0.57" height="0.8" fill="#000"/><rect x="485.22" y="240.1" width="1.98" height="0.8" fill="#000"/><rect x="486.17" y="241" width="1.03" height="0.8" fill="#000"/><rect x="485.07" y="241.9" width="2.13" height="0.8" fill="#000"/><rect x="485.18" y="242.8" width="2.02" height="0.8" fill="#000"/><rect x="486.06" y="243.7" width="1.14" height="0.8" fill="#000"/><rect x="485.92" y="244.6" width="1.28" height="0.8" fill="#000"/><rect x="485.82" y="245.5" width="1.38" height="0.8" fill="#000"/><rect x="485.61" y="246.4" width="1.59" height="0.8" fill="#000"/><rect x="485.69" y="247.3" width="1.51" height="0.8" fill="#000"/><rect x="485.75" y="248.2" width="1.45" height="0.8" fill="#000"/><rect x="485.65" y="249.1" width="1.55" height="0.8" fill="#000"/><rect x="485.1" y="250" width="2.1" height="0.8" fill="#000"/><rect x="485.84" y="250.9" width="1.36" height="0.8" fill="#000"/><rect x="485.97" y="251.8" width="1.23" height="0.8" fill="#000"/><rect x="485.48" y="252.7" width="1.72" height="0.8" fill="#000"/><rect x="486.3" y="253.6" width="0.9" height="0.8" fill="#000"/><rect x="486.19" y="254.5" width="1.01" height="0.8" fill="#000"/><rect x="485.04" y="255.4" width="2.16" height="0.8" fill="#000"/><rect x="485.81" y="256.3" width="1.39" height="0.8" fill="#000"/><rect x="485.77" y="257.2" width="1.43" height="0.8" fill="#000"/><rect x="486.68" y="258.1" width="0.52" height="0.8" fill="#000"/><rect x="485.99" y="259" width="1.21" height="0.8" fill="#000"/><rect x="485.71" y="259.9" width="1.49" height="0.8" fill="#000"/><rect x="486.67" y="260.8" width="0.53" height="0.8" fill="#000"/><rect x="485.65" y="261.7" width="1.55" height="0.8" fill="#000"/><rect x="485.63" y="262.6" width="1.57" height="0.8" fill="#000"/><rect x="486.6" y="263.5" width="0.6" height="0.8" fill="#000"/><rect x="485.63" y="264.4" width="1.57" height="0.8" fill="#000"/><rect x="485.91" y="265.3" width="1.29" height="0.8" fill="#000"/><rect x="485.55" y="266.2" width="1.65" height="0.8" fill="#000"/><rect x="486.1" y="267.1" width="1.1" height="0.8" fill="#000"/><rect x="485.5" y="268" width="1.7" height="0.8" fill="#000"/><rect x="486.61" y="256.19" width="0.57" height="0.45" fill="#fff" fill-opacity="0.8"/><rect x="491.32" y="253.04" width="0.78" height="0.45" fill="#fff" fill-opacity="0.8"/><rect x="489.46" y="241.88" width="0.85" height="0.45" fill="#fff" fill-opacity="0.8"/><rect x="488.06" y="237.19" width="0.91" height="0.45" fill="#fff" fill-opacity="0.8"/><rect x="488" y="248.96" width="0.91" height="0.45" fill="#fff" fill-opacity="0.8"/><rect x="486.63" y="257.93" width="1.13" height="0.45" fill="#fff" fill-opacity="0.8"/><rect x="488.05" y="256.05" width="0.74" height="0.45" fill="#fff" fill-opacity="0.8"/><rect x="487.69" y="259.53" width="0.71" height="0.45" fill="#fff" fill-opacity="0.8"/><rect x="489.99" y="240.81" width="0.61" height="0.45" fill="#fff" fill-opacity="0.8"/><rect x="488.17" y="235.06" width="1.42" height="0.45" fill="#fff" fill-opacity="0.8"/><rect x="490.78" y="240.97" width="0.69" height="0.45" fill="#fff" fill-opacity="0.8"/><rect x="489.75" y="235.8" width="1.47" height="0.45" fill="#fff" fill-opacity="0.8"/><rect x="487.63" y="241.62" width="0.63" height="0.45" fill="#fff" fill-opacity="0.8"/><rect x="497.6" y="217.7" width="10.7" height="52.8" fill="#eef8b7"/><text x="502.95" y="246.97" font-size="8.2" text-anchor="middle" fill="#333">C5</text><rect x="487.2" y="272.9" width="9.6" height="49.1" fill="#000"/><rect x="485.8" y="273.7" width="1.4" height="0.8" fill="#000"/><rect x="486.38" y="274.6" width="0.82" height="0.8" fill="#000"/><rect x="485.33" y="275.5" width="1.87" height="0.8" fill="#000"/><rect x="485.27" y="276.4" width="1.93" height="0.8" fill="#000"/><rect x="486.39" y="277.3" width="0.81" height="0.8" fill="#000"/><rect x="486.23" y="278.2" width="0.97" height="0.8" fill="#000"/><rect x="485.33" y="279.1" width="1.87" height="0.8" fill="#000"/><rect x="485.61" y="280" width="1.59" height="0.8" fill="#000"/><rect x="485.33" y="280.9" width="1.87" height="0.8" fill="#000"/><rect x="486.11" y="281.8" width="1.09" height="0.8" fill="#000"/><rect x="486.48" y="282.7" width="0.72" height="0.8" fill="#000"/><rect x="486.2" y="283.6" width="1" height="0.8" fill="#000"/><rect x="485.35" y="284.5" width="1.85" height="0.8" fill="#000"/><rect x="486.24" y="285.4" width="0.96" height="0.8" fill="#000"/><rect x="486.11" y="286.3" width="1.09" height="0.8" fill="#000"/><rect x="485.99" y="287.2" width="1.21" height="0.8" fill="#000"/><rect x="485.99" y="288.1" width="1.21" height="0.8" fill="#000"/><rect x="486" y="289" width="1.2" height="0.8" fill="#000"/><rect x="485.13" y="289.9" width="2.07" height="0.8" fill="#000"/><rect x="486.43" y="290.8" width="0.77" height="0.8" fill="#000"/><rect x="486.69" y="291.7" width="0.51" height="0.8" fill="#000"/><rect x="485.1" y="292.6" width="2.1" height="0.8" fill="#000"/><rect x="485.2" y="293.5" width="2" height="0.8" fill="#000"/><rect x="485.02" y="294.4" width="2.18" height="0.8" fill="#000"/><rect x="485.96" y="295.3" width="1.24" height="0.8" fill="#000"/><rect x="485.08" y="296.2" width="2.12" height="0.8" fill="#000"/><rect x="485.12" y="297.1" width="2.08" height="0.8" fill="#000"/><rect x="486.32" y="298" width="0.88" height="0.8" fill="#000"/><rect x="485.43" y="298.9" width="1.77" height="0.8" fill="#000"/><rect x="485.28" y="299.8" width="1.92" height="0.8" fill="#000"/><rect x="485.57" y="300.7" width="1.63" height="0.8" fill="#000"/><rect x="485.82" y="301.6" width="1.38" height="0.8" fill="#000"/><rect x="486.21" y="302.5" width="0.99" height="0.8" fill="#000"/><rect x="486.12" y="303.4" width="1.08" height="0.8" fill="#000"/><rect x="486.31" y="304.3" width="0.89" height="0.8" fill="#000"/><rect x="486.58" y="305.2" width="0.62" height="0.8" fill="#000"/><rect x="485.7" y="306.1" width="1.5" height="0.8" fill="#000"/><rect x="486.21" y="307" width="0.99" height="0.8" fill="#000"/><rect x="485.32" y="307.9" width="1.88" height="0.8" fill="#000"/><rect x="486.62" y="308.8" width="0.58" height="0.8" fill="#000"/><rect x="485.16" y="309.7" width="2.04" height="0.8" fill="#000"/><rect x="485.52" y="310.6" width="1.68" height="0.8" fill="#000"/><rect x="485.13" y="311.5" width="2.07" height="0.8" fill="#000"/><rect x="485.18" y="312.4" width="2.02" height="0.8" fill="#000"/><rect x="485.17" y="313.3" width="2.03" height="0.8" fill="#000"/><rect x="485.72" y="314.2" width="1.48" height="0.8" fill="#000"/><rect x="486.68" y="315.1" width="0.52" height="0.8" fill="#000"/><rect x="485.43" y="316" width="1.77" height="0.8" fill="#000"/><rect x="486.41" y="316.9" width="0.79" height="0.8" fill="#000"/><rect x="486.19" y="317.8" width="1.01" height="0.8" fill="#000"/><rect x="485.57" y="318.7" width="1.63" height="0.8" fill="#000"/><rect x="485.81" y="319.6" width="1.39" height="0.8" fill="#000"/><rect x="491.2" y="293.39" width="1.17" height="0.45" fill="#fff" fill-opacity="0.8"/><rect x="487.76" y="289.98" width="1.45" height="0.45" fill="#fff" fill-opacity="0.8"/><rect x="490.41" y="296.38" width="0.89" height="0.45" fill="#fff" fill-opacity="0.8"/><rect x="489.17" y="283.19" width="1.4" height="0.45" fill="#fff" fill-opacity="0.8"/><rect x="490.46" y="281.97" width="1.51" height="0.45" fill="#fff" fill-opacity="0.8"/><rect x="490.62" y="311.87" width="0.51" height="0.45" fill="#fff" fill-opacity="0.8"/><rect x="490.81" y="303.51" width="0.55" height="0.45" fill="#fff" fill-opacity="0.8"/><rect x="487.84" y="286.68" width="1.08" height="0.45" fill="#fff" fill-opacity="0.8"/><rect x="488.86" y="293.82" width="1.35" height="0.45" fill="#fff" fill-opacity="0.8"/><rect x="486.77" y="273.99" width="0.64" height="0.45" fill="#fff" fill-opacity="0.8"/><rect x="486.84" y="279.77" width="1.57" height="0.45" fill="#fff" fill-opacity="0.8"/><rect x="486.93" y="314.14" width="1.05" height="0.45" fill="#fff" fill-opacity="0.8"/><rect x="497.6" y="272.9" width="10.7" height="49.1" fill="#94d4c0"/><text x="502.95" y="300.32" font-size="8.2" text-anchor="middle" fill="#333">C7</text><rect x="487.2" y="324.3" width="9.6" height="20.9" fill="#000"/><rect x="486.16" y="325.1" width="1.04" height="0.8" fill="#000"/><rect x="486.17" y="326" width="1.03" height="0.8" fill="#000"/><rect x="486.1" y="326.9" width="1.1" height="0.8" fill="#000"/><rect x="485.6" y="327.8" width="1.6" height="0.8" fill="#000"/><rect x="485.7" y="328.7" width="1.5" height="0.8" fill="#000"/><rect x="486.09" y="329.6" width="1.11" height="0.8" fill="#000"/><rect x="486.38" y="330.5" width="0.82" height="0.8" fill="#000"/><rect x="486.14" y="331.4" width="1.06" height="0.8" fill="#000"/><rect x="486.49" y="332.3" width="0.71" height="0.8" fill="#000"/><rect x="485.76" y="333.2" width="1.44" height="0.8" fill="#000"/><rect x="485.48" y="334.1" width="1.72" height="0.8" fill="#000"/><rect x="486.05" y="335" width="1.15" height="0.8" fill="#000"/><rect x="486.56" y="335.9" width="0.64" height="0.8" fill="#000"/><rect x="486.4" y="336.8" width="0.8" height="0.8" fill="#000"/><rect x="486.07" y="337.7" width="1.13" height="0.8" fill="#000"/><rect x="485.67" y="338.6" width="1.53" height="0.8" fill="#000"/><rect x="485.37" y="339.5" width="1.83" height="0.8" fill="#000"/><rect x="486.05" y="340.4" width="1.15" height="0.8" fill="#000"/><rect x="485.34" y="341.3" width="1.86" height="0.8" fill="#000"/><rect x="485.64" y="342.2" width="1.56" height="0.8" fill="#000"/><rect x="485.97" y="343.1" width="1.23" height="0.8" fill="#000"/><rect x="488.98" y="332.34" width="1.27" height="0.45" fill="#fff" fill-opacity="0.8"/><rect x="489.97" y="333.25" width="1.01" height="0.45" fill="#fff" fill-opacity="0.8"/><rect x="489.18" y="329.93" width="1.26" height="0.45" fill="#fff" fill-opacity="0.8"/><rect x="488.62" y="326.65" width="0.97" height="0.45" fill="#fff" fill-opacity="0.8"/><rect x="491.18" y="341.93" width="0.91" height="0.45" fill="#fff" fill-opacity="0.8"/><rect x="497.6" y="324.3" width="10.7" height="20.9" fill="#f7997b"/><text x="502.95" y="337.62" font-size="8.2" text-anchor="middle" fill="#333">C2</text><rect x="487.2" y="347.4" width="9.6" height="47.1" fill="#000"/><rect x="485.17" y="348.2" width="2.03" height="0.8" fill="#000"/><rect x="485.36" y="349.1" width="1.84" height="0.8" fill="#000"/><rect x="486.25" y="350" width="0.95" height="0.8" fill="#000"/><rect x="485.91" y="350.9" width="1.29" height="0.8" fill="#000"/><rect x="486.49" y="351.8" width="0.71" height="0.8" fill="#000"/><rect x="485.32" y="352.7" width="1.88" height="0.8" fill="#000"/><rect x="485.57" y="353.6" width="1.63" height="0.8" fill="#000"/><rect x="485.19" y="354.5" width="2.01" height="0.8" fill="#000"/><rect x="485.35" y="355.4" width="1.85" height="0.8" fill="#000"/><rect x="485.57" y="356.3" width="1.63" height="0.8" fill="#000"/><rect x="485.45" y="357.2" width="1.75" height="0.8" fill="#000"/><rect x="485.74" y="358.1" width="1.46" height="0.8" fill="#000"/><rect x="486.52" y="359" width="0.68" height="0.8" fill="#000"/><rect x="485.7" y="359.9" width="1.5" height="0.8" fill="#000"/><rect x="486.69" y="360.8" width="0.51" height="0.8" fill="#000"/><rect x="486.46" y="361.7" width="0.74" height="0.8" fill="#000"/><rect x="485.38" y="362.6" width="1.82" height="0.8" fill="#000"/><rect x="486.62" y="363.5" width="0.58" height="0.8" fill="#000"/><rect x="486.54" y="364.4" width="0.66" height="0.8" fill="#000"/><rect x="486.53" y="365.3" width="0.67" height="0.8" fill="#000"/><rect x="485.2" y="366.2" width="2" height="0.8" fill="#000"/><rect x="486.4" y="367.1" width="0.8" height="0.8" fill="#000"/><rect x="486.66" y="368" width="0.54" height="0.8" fill="#000"/><rect x="485.27" y="368.9" width="1.93" height="0.8" fill="#000"/><rect x="486.49" y="369.8" width="0.71" height="0.8" fill="#000"/><rect x="485.27" y="370.7" width="1.93" height="0.8" fill="#000"/><rect x="485.55" y="371.6" width="1.65" height="0.8" fill="#000"/><rect x="485.28" y="372.5" width="1.92" height="0.8" fill="#000"/><rect x="485.08" y="373.4" width="2.12" height="0.8" fill="#000"/><rect x="485.72" y="374.3" width="1.48" height="0.8" fill="#000"/><rect x="485.34" y="375.2" width="1.86" height="0.8" fill="#000"/><rect x="486.64" y="376.1" width="0.56" height="0.8" fill="#000"/><rect x="485.4" y="377" width="1.8" height="0.8" fill="#000"/><rect x="485.83" y="377.9" width="1.37" height="0.8" fill="#000"/><rect x="485.48" y="378.8" width="1.72" height="0.8" fill="#000"/><rect x="486.52" y="379.7" width="0.68" height="0.8" fill="#000"/><rect x="485.43" y="380.6" width="1.77" height="0.8" fill="#000"/><rect x="485.11" y="381.5" width="2.09" height="0.8" fill="#000"/><rect x="486.6" y="382.4" width="0.6" height="0.8" fill="#000"/><rect x="486.15" y="383.3" width="1.05" height="0.8" fill="#000"/><rect x="485.74" y="384.2" width="1.46" height="0.8" fill="#000"/><rect x="485.29" y="385.1" width="1.91" height="0.8" fill="#000"/><rect x="486.29" y="386" width="0.91" height="0.8" fill="#000"/><rect x="486.39" y="386.9" width="0.81" height="0.8" fill="#000"/><rect x="486.28" y="387.8" width="0.92" height="0.8" fill="#000"/><rect x="485.65" y="388.7" width="1.55" height="0.8" fill="#000"/><rect x="485.42" y="389.6" width="1.78" height="0.8" fill="#000"/><rect x="486.03" y="390.5" width="1.17" height="0.8" fill="#000"/><rect x="486.08" y="391.4" width="1.12" height="0.8" fill="#000"/><rect x="486.03" y="392.3" width="1.17" height="0.8" fill="#000"/><rect x="488.59" y="364.2" width="0.59" height="0.45" fill="#fff" fill-opacity="0.8"/><rect x="491.37" y="370.96" width="0.95" height="0.45" fill="#fff" fill-opacity="0.8"/><rect x="487.3" y="382.11" width="1.26" height="0.45" fill="#fff" fill-opacity="0.8"/><rect x="489.87" y="382.5" width="1.07" height="0.45" fill="#fff" fill-opacity="0.8"/><rect x="489.71" y="370.22" width="1.49" height="0.45" fill="#fff" fill-opacity="0.8"/><rect x="486.98" y="355.13" width="1.32" height="0.45" fill="#fff" fill-opacity="0.8"/><rect x="489.09" y="389.74" width="0.99" height="0.45" fill="#fff" fill-opacity="0.8"/><rect x="487.43" y="380.82" width="0.79" height="0.45" fill="#fff" fill-opacity="0.8"/><rect x="489.43" y="357.38" width="0.85" height="0.45" fill="#fff" fill-opacity="0.8"/><rect x="489.96" y="358.88" width="1.55" height="0.45" fill="#fff" fill-opacity="0.8"/><rect x="490.03" y="361.74" width="0.95" height="0.45" fill="#fff" fill-opacity="0.8"/><rect x="497.6" y="347.4" width="10.7" height="47.1" fill="#e27884"/><text x="502.95" y="373.82" font-size="8.2" text-anchor="middle" fill="#333">C1</text><rect x="487.2" y="396.9" width="9.6" height="7" fill="#000"/><rect x="485.25" y="397.7" width="1.95" height="0.8" fill="#000"/><rect x="485.71" y="398.6" width="1.49" height="0.8" fill="#000"/><rect x="486.25" y="399.5" width="0.95" height="0.8" fill="#000"/><rect x="486.33" y="400.4" width="0.87" height="0.8" fill="#000"/><rect x="486.66" y="401.3" width="0.54" height="0.8" fill="#000"/><rect x="485.88" y="402.2" width="1.32" height="0.8" fill="#000"/><rect x="487.36" y="399.81" width="0.9" height="0.45" fill="#fff" fill-opacity="0.8"/><rect x="497.6" y="396.9" width="10.7" height="7" fill="#fee9ae"/><text x="502.95" y="403.27" font-size="8.2" text-anchor="middle" fill="#333">C4</text><line x1="474.2" y1="185.6" x2="474.2" y2="297.8" stroke="#555" stroke-width="0.6"/><line x1="474.2" y1="185.6" x2="481.5" y2="185.6" stroke="#555" stroke-width="0.6"/><line x1="474.2" y1="297.8" x2="479.3" y2="297.8" stroke="#555" stroke-width="0.6"/><line x1="481.5" y1="177" x2="481.5" y2="194.2" stroke="#555" stroke-width="0.6"/><line x1="481.5" y1="177" x2="485.6" y2="177" stroke="#555" stroke-width="0.6"/><line x1="481.5" y1="194.2" x2="485.6" y2="194.2" stroke="#555" stroke-width="0.6"/><line x1="479.3" y1="238" x2="479.3" y2="357.7" stroke="#555" stroke-width="0.6"/><line x1="479.3" y1="238" x2="482" y2="238" stroke="#555" stroke-width="0.6"/><line x1="479.3" y1="357.7" x2="482.4" y2="357.7" stroke="#555" stroke-width="0.6"/><line x1="482" y1="208.7" x2="482" y2="268" stroke="#555" stroke-width="0.6"/><line x1="482" y1="208.7" x2="485.6" y2="208.7" stroke="#555" stroke-width="0.6"/><line x1="482" y1="268" x2="483.6" y2="268" stroke="#555" stroke-width="0.6"/><line x1="483.6" y1="244" x2="483.6" y2="297" stroke="#555" stroke-width="0.6"/><line x1="483.6" y1="244" x2="485.6" y2="244" stroke="#555" stroke-width="0.6"/><line x1="483.6" y1="297" x2="485.6" y2="297" stroke="#555" stroke-width="0.6"/><line x1="482.4" y1="334.8" x2="482.4" y2="381.9" stroke="#555" stroke-width="0.6"/><line x1="482.4" y1="334.8" x2="485.6" y2="334.8" stroke="#555" stroke-width="0.6"/><line x1="482.4" y1="381.9" x2="484.2" y2="381.9" stroke="#555" stroke-width="0.6"/><line x1="484.2" y1="371" x2="484.2" y2="400.4" stroke="#555" stroke-width="0.6"/><line x1="484.2" y1="371" x2="485.6" y2="371" stroke="#555" stroke-width="0.6"/><line x1="484.2" y1="400.4" x2="485.6" y2="400.4" stroke="#555" stroke-width="0.6"/><text x="643.9" y="163.22" font-size="7.5" fill="#222" font-weight="bold">Group</text><rect x="643.8" y="166.7" width="8.9" height="8.1" fill="#7B86F2"/><text x="654.8" y="173.29" font-size="7.7" fill="#222">BN-WT</text><rect x="643.8" y="175.22" width="8.9" height="8.1" fill="#1A0FE6"/><text x="654.8" y="181.81" font-size="7.7" fill="#222">BN-MUT</text><rect x="643.8" y="183.74" width="8.9" height="8.1" fill="#F3B5BD"/><text x="654.8" y="190.33" font-size="7.7" fill="#222">MT-WT</text><rect x="643.8" y="192.26" width="8.9" height="8.1" fill="#E5200E"/><text x="654.8" y="198.85" font-size="7.7" fill="#222">MT-MUT</text><text x="643.9" y="212.53" font-size="7.5" fill="#222" font-weight="bold">Cluster</text><rect x="643.8" y="216.2" width="8.9" height="8.2" fill="#d74858"/><text x="654.8" y="222.96" font-size="7.9" fill="#222">C1</text><rect x="643.8" y="224.76" width="8.9" height="8.2" fill="#f5744c"/><text x="654.8" y="231.52" font-size="7.9" fill="#222">C2</text><rect x="643.8" y="233.32" width="8.9" height="8.2" fill="#fdb269"/><text x="654.8" y="240.08" font-size="7.9" fill="#222">C3</text><rect x="643.8" y="241.88" width="8.9" height="8.2" fill="#fee291"/><text x="654.8" y="248.64" font-size="7.9" fill="#222">C4</text><rect x="643.8" y="250.44" width="8.9" height="8.2" fill="#e7f69d"/><text x="654.8" y="257.2" font-size="7.9" fill="#222">C5</text><rect x="643.8" y="259" width="8.9" height="8.2" fill="#afdfa9"/><text x="654.8" y="265.76" font-size="7.9" fill="#222">C6</text><rect x="643.8" y="267.56" width="8.9" height="8.2" fill="#6ec5aa"/><text x="654.8" y="274.32" font-size="7.9" fill="#222">C7</text><rect x="643.8" y="276.12" width="8.9" height="8.2" fill="#3c8ec0"/><text x="654.8" y="282.88" font-size="7.9" fill="#222">C8</text><text x="643.9" y="294.66" font-size="7.9" fill="#222" font-weight="bold">Scaled &#946;</text><linearGradient id="cb" x1="0" y1="0" x2="0" y2="1"><stop offset="0" stop-color="#a5281e"/><stop offset="0.05" stop-color="#af3c30"/><stop offset="0.1" stop-color="#ba5041"/><stop offset="0.15" stop-color="#c46455"/><stop offset="0.2" stop-color="#ce796a"/><stop offset="0.25" stop-color="#d88e80"/><stop offset="0.3" stop-color="#e0a498"/><stop offset="0.35" stop-color="#e9b9b0"/><stop offset="0.4" stop-color="#f1d0c9"/><stop offset="0.45" stop-color="#f8e7e4"/><stop offset="0.5" stop-color="#ffffff"/><stop offset="0.55" stop-color="#e7e5f7"/><stop offset="0.6" stop-color="#d0ccee"/><stop offset="0.65" stop-color="#b8b2e5"/><stop offset="0.7" stop-color="#a099dc"/><stop offset="0.75" stop-color="#8880d3"/><stop offset="0.8" stop-color="#6f65c8"/><stop offset="0.85" stop-color="#564abd"/><stop offset="0.9" stop-color="#4034b4"/><stop offset="0.95" stop-color="#2d21ad"/><stop offset="1" stop-color="#1a0fa5"/></linearGradient><rect x="643.8" y="297.8" width="9.3" height="43.8" fill="url(#cb)"/><line x1="643.8" y1="300" x2="645.6" y2="300" stroke="#fff" stroke-width="0.5"/><line x1="651.3" y1="300" x2="653.1" y2="300" stroke="#fff" stroke-width="0.5"/><text x="654.9" y="302.8" font-size="8" fill="#222">2</text><line x1="643.8" y1="310.1" x2="645.6" y2="310.1" stroke="#fff" stroke-width="0.5"/><line x1="651.3" y1="310.1" x2="653.1" y2="310.1" stroke="#fff" stroke-width="0.5"/><text x="654.9" y="312.9" font-size="8" fill="#222">1</text><line x1="643.8" y1="320.2" x2="645.6" y2="320.2" stroke="#fff" stroke-width="0.5"/><line x1="651.3" y1="320.2" x2="653.1" y2="320.2" stroke="#fff" stroke-width="0.5"/><text x="654.9" y="323" font-size="8" fill="#222">0</text><line x1="643.8" y1="330.3" x2="645.6" y2="330.3" stroke="#fff" stroke-width="0.5"/><line x1="651.3" y1="330.3" x2="653.1" y2="330.3" stroke="#fff" stroke-width="0.5"/><text x="654.9" y="333.1" font-size="8" fill="#222">&#8722;1</text><line x1="643.8" y1="340.4" x2="645.6" y2="340.4" stroke="#fff" stroke-width="0.5"/><line x1="651.3" y1="340.4" x2="653.1" y2="340.4" stroke="#fff" stroke-width="0.5"/><text x="654.9" y="343.2" font-size="8" fill="#222">&#8722;2</text><line x1="490.2" y1="420.8" x2="490.2" y2="485.9" stroke="#262626" stroke-width="0.95"/><line x1="487.5" y1="485.9" x2="490.2" y2="485.9" stroke="#262626" stroke-width="0.95"/><text x="484" y="488.56" font-size="7.6" text-anchor="end">0</text><line x1="487.5" y1="472.94" x2="490.2" y2="472.94" stroke="#262626" stroke-width="0.95"/><text x="484" y="475.6" font-size="7.6" text-anchor="end">500</text><line x1="487.5" y1="459.98" x2="490.2" y2="459.98" stroke="#262626" stroke-width="0.95"/><text x="484" y="462.64" font-size="7.6" text-anchor="end">1000</text><line x1="487.5" y1="447.02" x2="490.2" y2="447.02" stroke="#262626" stroke-width="0.95"/><text x="484" y="449.68" font-size="7.6" text-anchor="end">1500</text><line x1="487.5" y1="434.06" x2="490.2" y2="434.06" stroke="#262626" stroke-width="0.95"/><text x="484" y="436.72" font-size="7.6" text-anchor="end">2000</text><line x1="487.5" y1="421.1" x2="490.2" y2="421.1" stroke="#262626" stroke-width="0.95"/><text x="484" y="423.76" font-size="7.6" text-anchor="end">2500</text><rect x="493" y="432.19" width="7.6" height="53.71" fill="#D53E4F" stroke="#111" stroke-width="1.1"/><line x1="496.8" y1="485.9" x2="496.8" y2="489" stroke="#262626" stroke-width="0.95"/><text x="496.8" y="498.77" font-size="8.2" text-anchor="middle">1</text><rect x="502.5" y="462.6" width="7.6" height="23.3" fill="#F46D43" stroke="#111" stroke-width="1.1"/><line x1="506.3" y1="485.9" x2="506.3" y2="489" stroke="#262626" stroke-width="0.95"/><text x="506.3" y="498.77" font-size="8.2" text-anchor="middle">2</text><rect x="512" y="464.1" width="7.6" height="21.8" fill="#FDAE61" stroke="#111" stroke-width="1.1"/><line x1="515.8" y1="485.9" x2="515.8" y2="489" stroke="#262626" stroke-width="0.95"/><text x="515.8" y="498.77" font-size="8.2" text-anchor="middle">3</text><rect x="521.5" y="477.19" width="7.6" height="8.71" fill="#FEE08B" stroke="#111" stroke-width="1.1"/><line x1="525.3" y1="485.9" x2="525.3" y2="489" stroke="#262626" stroke-width="0.95"/><text x="525.3" y="498.77" font-size="8.2" text-anchor="middle">4</text><rect x="531" y="425.69" width="7.6" height="60.21" fill="#E6F598" stroke="#111" stroke-width="1.1"/><line x1="534.8" y1="485.9" x2="534.8" y2="489" stroke="#262626" stroke-width="0.95"/><text x="534.8" y="498.77" font-size="8.2" text-anchor="middle">5</text><rect x="540.5" y="473.51" width="7.6" height="12.39" fill="#ABDDA4" stroke="#111" stroke-width="1.1"/><line x1="544.3" y1="485.9" x2="544.3" y2="489" stroke="#262626" stroke-width="0.95"/><text x="544.3" y="498.77" font-size="8.2" text-anchor="middle">6</text><rect x="550" y="428.9" width="7.6" height="57" fill="#66C2A5" stroke="#111" stroke-width="1.1"/><line x1="553.8" y1="485.9" x2="553.8" y2="489" stroke="#262626" stroke-width="0.95"/><text x="553.8" y="498.77" font-size="8.2" text-anchor="middle">7</text><rect x="559.5" y="470.01" width="7.6" height="15.89" fill="#3288BD" stroke="#111" stroke-width="1.1"/><line x1="563.3" y1="485.9" x2="563.3" y2="489" stroke="#262626" stroke-width="0.95"/><text x="563.3" y="498.77" font-size="8.2" text-anchor="middle">8</text><line x1="490.2" y1="485.9" x2="567.5" y2="485.9" stroke="#262626" stroke-width="0.95"/><line x1="493" y1="501.5" x2="567.1" y2="501.5" stroke="#555" stroke-width="0.8"/><text x="540.5" y="509.76" font-size="7.9" text-anchor="middle">Cluster</text><text x="461.96" y="453.3" font-size="7.6" text-anchor="middle" transform="rotate(-90 461.96 453.3)">DMPs</text><line x1="604.4" y1="420.8" x2="604.4" y2="485.9" stroke="#262626" stroke-width="0.95"/><line x1="601.7" y1="485.9" x2="604.4" y2="485.9" stroke="#262626" stroke-width="0.95"/><text x="598.2" y="488.56" font-size="7.6" text-anchor="end">0</text><line x1="601.7" y1="472.94" x2="604.4" y2="472.94" stroke="#262626" stroke-width="0.95"/><text x="598.2" y="475.6" font-size="7.6" text-anchor="end">500</text><line x1="601.7" y1="459.98" x2="604.4" y2="459.98" stroke="#262626" stroke-width="0.95"/><text x="598.2" y="462.64" font-size="7.6" text-anchor="end">1000</text><line x1="601.7" y1="447.02" x2="604.4" y2="447.02" stroke="#262626" stroke-width="0.95"/><text x="598.2" y="449.68" font-size="7.6" text-anchor="end">1500</text><line x1="601.7" y1="434.06" x2="604.4" y2="434.06" stroke="#262626" stroke-width="0.95"/><text x="598.2" y="436.72" font-size="7.6" text-anchor="end">2000</text><line x1="601.7" y1="421.1" x2="604.4" y2="421.1" stroke="#262626" stroke-width="0.95"/><text x="598.2" y="423.76" font-size="7.6" text-anchor="end">2500</text><rect x="607.2" y="451.71" width="7.6" height="34.19" fill="#D53E4F" stroke="#111" stroke-width="1.1"/><line x1="611" y1="485.9" x2="611" y2="489" stroke="#262626" stroke-width="0.95"/><text x="611" y="498.77" font-size="8.2" text-anchor="middle">1</text><rect x="616.7" y="472.4" width="7.6" height="13.5" fill="#F46D43" stroke="#111" stroke-width="1.1"/><line x1="620.5" y1="485.9" x2="620.5" y2="489" stroke="#262626" stroke-width="0.95"/><text x="620.5" y="498.77" font-size="8.2" text-anchor="middle">2</text><rect x="626.2" y="476.1" width="7.6" height="9.8" fill="#FDAE61" stroke="#111" stroke-width="1.1"/><line x1="630" y1="485.9" x2="630" y2="489" stroke="#262626" stroke-width="0.95"/><text x="630" y="498.77" font-size="8.2" text-anchor="middle">3</text><rect x="635.7" y="479.81" width="7.6" height="6.09" fill="#FEE08B" stroke="#111" stroke-width="1.1"/><line x1="639.5" y1="485.9" x2="639.5" y2="489" stroke="#262626" stroke-width="0.95"/><text x="639.5" y="498.77" font-size="8.2" text-anchor="middle">4</text><rect x="645.2" y="449.61" width="7.6" height="36.29" fill="#E6F598" stroke="#111" stroke-width="1.1"/><line x1="649" y1="485.9" x2="649" y2="489" stroke="#262626" stroke-width="0.95"/><text x="649" y="498.77" font-size="8.2" text-anchor="middle">5</text><rect x="654.7" y="480.4" width="7.6" height="5.5" fill="#ABDDA4" stroke="#111" stroke-width="1.1"/><line x1="658.5" y1="485.9" x2="658.5" y2="489" stroke="#262626" stroke-width="0.95"/><text x="658.5" y="498.77" font-size="8.2" text-anchor="middle">6</text><rect x="664.2" y="451.09" width="7.6" height="34.81" fill="#66C2A5" stroke="#111" stroke-width="1.1"/><line x1="668" y1="485.9" x2="668" y2="489" stroke="#262626" stroke-width="0.95"/><text x="668" y="498.77" font-size="8.2" text-anchor="middle">7</text><rect x="673.7" y="474.11" width="7.6" height="11.79" fill="#3288BD" stroke="#111" stroke-width="1.1"/><line x1="677.5" y1="485.9" x2="677.5" y2="489" stroke="#262626" stroke-width="0.95"/><text x="677.5" y="498.77" font-size="8.2" text-anchor="middle">8</text><line x1="604.4" y1="485.9" x2="681.7" y2="485.9" stroke="#262626" stroke-width="0.95"/><line x1="607.2" y1="501.5" x2="681.3" y2="501.5" stroke="#555" stroke-width="0.8"/><text x="643" y="509.76" font-size="7.9" text-anchor="middle">Cluster</text><text x="575.66" y="453.3" font-size="7.6" text-anchor="middle" transform="rotate(-90 575.66 453.3)">Genes</text></svg>
</div></body></html>
